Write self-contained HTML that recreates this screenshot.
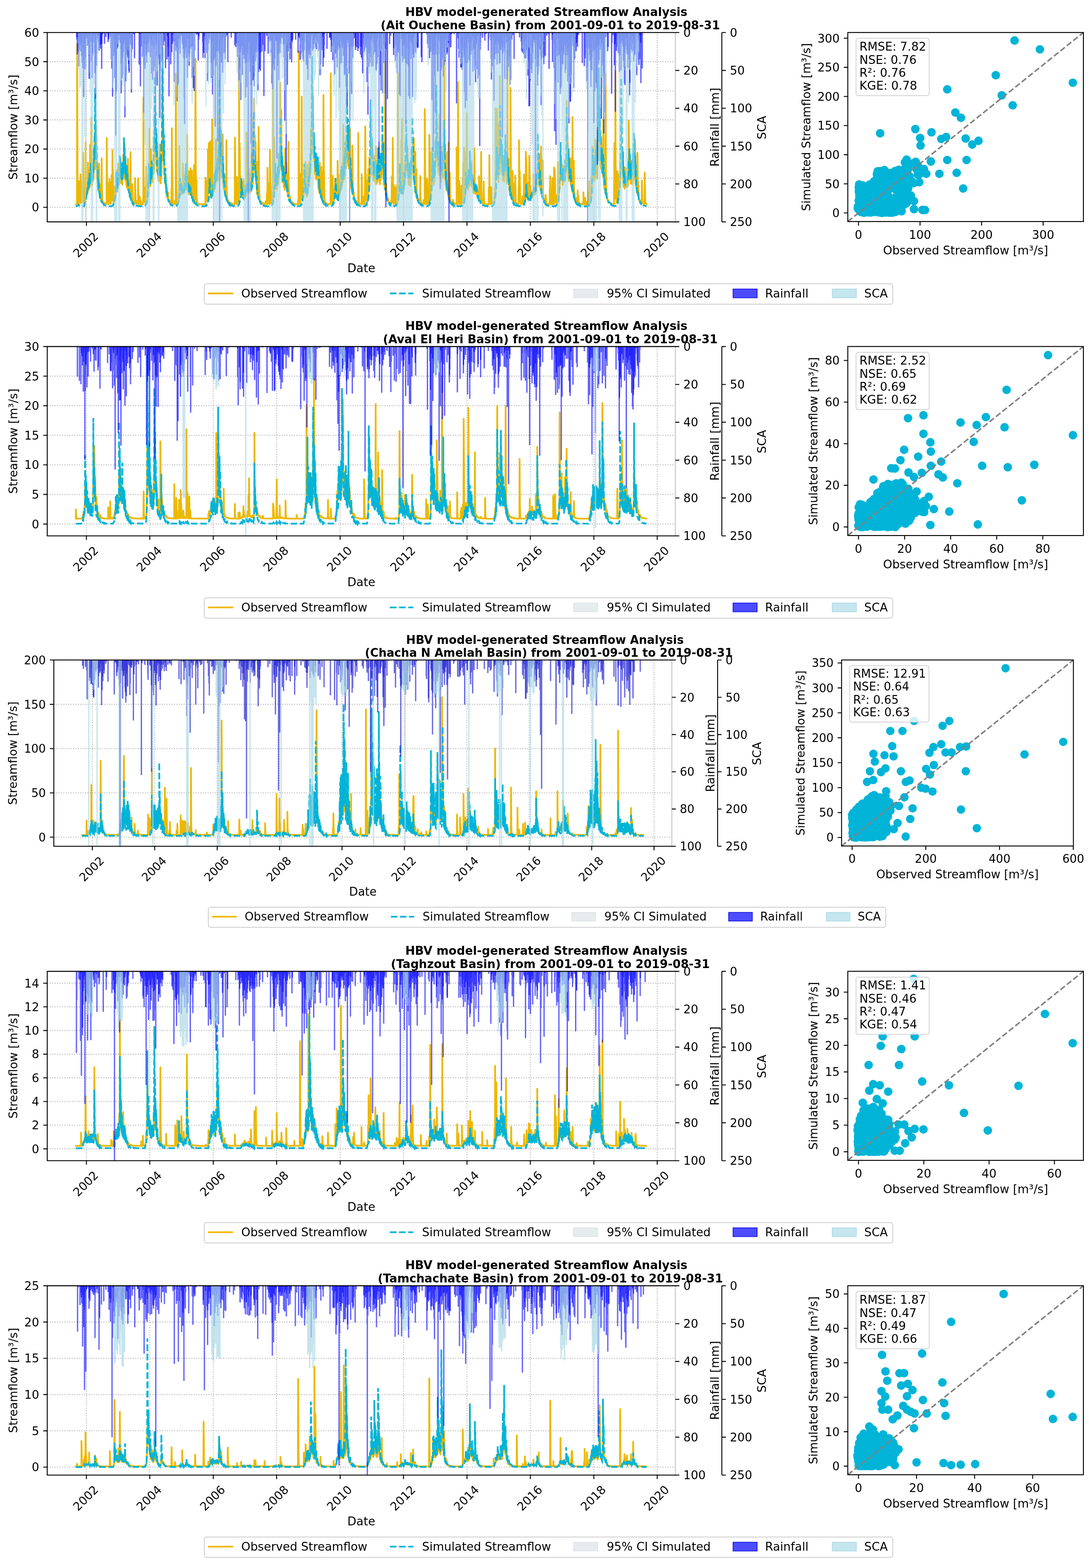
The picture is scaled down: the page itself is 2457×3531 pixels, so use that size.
<!DOCTYPE html><html><head><meta charset="utf-8"><title>HBV model-generated Streamflow Analysis</title>
<style>html,body{margin:0;padding:0;background:#fff}svg{display:block}text{font-family:'DejaVu Sans', 'Liberation Sans', sans-serif;font-size:26.3px;fill:#000}</style></head><body>
<svg width="2457" height="3531" viewBox="0 0 2457 3531">
<rect width="2457" height="3531" fill="#fff"/>
<g transform="translate(0 0)">
<path d="M106.4 466.8H1520.9M106.4 401.2H1520.9M106.4 335.6H1520.9M106.4 270.1H1520.9M106.4 204.5H1520.9M106.4 138.9H1520.9M106.4 73.3H1520.9M194.6 73.3V499.6M337.3 73.3V499.6M480.3 73.3V499.6M623 73.3V499.6M766 73.3V499.6M908.7 73.3V499.6M1051.7 73.3V499.6M1194.4 73.3V499.6M1337.4 73.3V499.6M1480.1 73.3V499.6" stroke="#b0b0b0" stroke-width="2" stroke-dasharray="2.1 3.4" fill="none"/>
<defs><clipPath id="mc0"><rect x="106.4" y="73.3" width="1414.5" height="426.3"/></clipPath></defs>
<g clip-path="url(#mc0)">
<path d="M170.7 459.2l5.3-2 .6-2.9 2.6 3.4 9.1 1.4 3-5.8 3.1-14.3 .4-17.5 1.2 7.8 .6-16.2 .5 7.2 .6-3.6 .6-18.5 1.2 16.6 .8-24.5 1.1 16.6 .2-30.4 2.4 24.2 .4-50.7 .6 46.4 1.7-33.5 1.8 34.4 2.9-83.8 1.2 30.3 1.6-178 1.7 162.2 .2-83.9 3.1 149.5 .6-26.8 1.4 43.5 .6-12.9 .6 20 .2-16.7 .9 27 .2-9.3 1.2 18.5 .8-9.2 2.3 19.3 .2-4.8 3.2 11.2 .7-3.2 3.2 6.2 6.8 2.2 11.2-.6 4.3-6.6 3.1-22.1 1-55.5 .4 34.5 .7-21.8 2.2 28.4 2.3-39.7 1 17.8 1.2-3.8 .2-58.9 .4 58.3 .8-50.4 1.5 50.1 .8-25.6 2 31.3 .2-42.9 1.9 33.4 1.8-96.1 .4 72.5 .7-46 1.8 67.3 .2-47.9 1.8 58 1.5-34.7 1 36.9 .8-17.3 1.2 34 .2-12.1 3.9 38.1 .7-11.3 2.6 20.8 8 9.7 16.8 2.8 8.2-4 5.3-37.9 .8-64.7 .8 51 .2-36.5 2.1 37 .2-42.5 1 32.9 1.2-29.9 1.1 26.4 .2-44.5 1.2 37.4 .4-23.3 .8 16.1 1.2-4.9 3.1-234.9 .8 159.7 1.3-70.1 .8 91.3 1-39.4 1.8 88.8 1.9 15.8 1.2-9.2 .8 10.7 .2-48.1 .8 39.1 .3-21.1 2 30.6 .2-49.3 .4 21.8 .2-27.2 .8 20.9 1.5-47.2 1.4-239.2 1.4 208.2 1.9 74.1 .2-65.1 2.2 109.6 .9-27.8 2.6 62.3 .2-14.2 3.3 32.2 5.3 10.1 1.2-1.3 4.3 4.9 9-.4 4.1-8.7 3.1-59.5 1 32.6 .9-19.4 1.2 20.9 1.2-14.7 1.6 18.2 .7-13.6 2.6 10.9 3.9-70.8 2.3 58.9 .6-28.7 1.6 33.5 .2-15.3 3.1 23 .2-19.3 3.9 28 .4-7 1 11.8 1-6 1.3 13.3 1 2.8 .2-8.1 3.1 12.9 .6-2.4 4.7 6.2 10.4 2.1 8.6-.5 3.7-3.4 4.3-21.6 1.2-44.1 2.5 43.3 1.6 6.6 .4-10.6 .6 6.4 .2-7.2 1.1 6.3 1.8-29.5 1 13.4 .2-10.9 1.3 7.6 .8-35.8 .8 21.9 .2-29.4 1 28.1 1.7-37.9 1.2 32.5 1.6-53 1.5 26.1 2.8-223.2 1.7 174 1.4-48.2 2.9 105.1 .8-40.2 2.4 65.8 .5-24.2 2 49.3 6.3 23 5.2 6.6 .2-2 1.4 2.9 6.8 2.3 7.7 .1 5.1-4.7 3.5-18 1.1-46.5 1.2 37.1 .2-12.6 2.6 25.8 .4-3 1.5 4.2 .2-14.8 2.2 9.3 1.1-21.5 1 13.2 1-16.4 1.6 14.2 .2-23.9 2.9 21.9 1-18.4 .9 17.2 .2-23 .6 16.7 .6-17.3 1.2 17.8 .4-17 2.3 17.6 4.3-68.1 1-124.9 3.3 163.7 .8-15.3 2.5 45.6 .2-9.8 .8 18.3 5.1 22.6 .6-4.7 3.1 10.2 10.8 4.6 11.1-.4 4.5-5.9 4.7-51.5 .2-48.8 .8 42.9 2.3 14.1 .6-32.7 1.6 27.8 1-45.6 .9 29.3 .4-31.6 1.2 21.1 2.4-139.5 1.9 120 1.2-47.3 3.5 87 .2-39.6 1 38.2 .2-34.2 .6 29.3 .7-10.1 .6 18.9 1-25.9 1.4 36.1 .2-12.4 1.7 17.9 .2-24 1 30.5 .2-17.6 .8 20.8 .2-10.3 3.9 30.7 .2-3.6 1 5.5 .2-7.5 1.7 11 .2-4.8 1.6 6.9 .6-3.2 1.1 4.5 3.4 2.3 9.5 1.9 7.1-2.6 3.5-8.4 2.9-29.6 1-65 .4 48.8 .4-32.5 3.1 59.1 .6-13.3 .6 12.4 .2-11.5 .6 10.6 .2-10.3 1.7 8.4 1.6-43.6 1.4 17.5 .9-34.6 .8 11.1 1-4.9 .2-44.1 1 16.6 1.5-33.4 1.2-223.2 .8 170.3 1.2-71.9 1.9 143.5 .2-52 1 63.5 1-30.2 2.1 63.9 .6-46.6 2.6 55.8 .2-47.2 1.1 45.2 .4-44.1 3 79.8 .1-23.7 2.2 39.1 .2-13.2 1.6 20.1 .5-11 2 17.3 .2-4.3 1.2 7.9 .9-4.5 1.2 7.6 3.5 3.9 1-1.7 2.9 3.6 9.6 .9 4.7-4.5 3.2-12.1 1.9-52.4 .6 33 .2-20.6 1.6 33 1.5 7.8 .2-5.7 2.2 7.1 3.5-31.9 1.4 4.9 .2-19.3 1.7 7.8 1-46 1.7 33.3 .8-7.5 .8 6.9 .2-27.3 1.4 20.1 .2-48.7 .6 31.6 .5-34.9 1.6 25.5 .2-59.5 1.6 37.8 1.9-221.5 2.2 198.3 .2-71.4 .8 72.1 .9-45.5 .6 56.6 .2-56.4 2.8 118.7 .1-50.3 3.6 85.8 .2-21.2 3.3 38.7 1 3.3 .4-9.2 2.3 14.8 1.8 3 .2-3.9 3.7 7.3 12.1 3 7.2-2.2 5.5-22.2 2.7-61.1 1.4-178.9 2 144.4 .9-51.1 3 87.1 .8-29.8 1.3 38.4 .2-32.5 .6 25.9 .4-11.7 1.2 12.3 .6-31.2 2.1 48.9 .2-40.1 1.2 34.7 .8-26.8 1.1 16.1 .6-65.1 2 72.8 1.9-54.5 1.4 40.2 .8-45.7 1 31.8 .2-30.7 1.3 17.4 1-136.3 2 157.7 .2-66.9 1.7 92.9 .2-39.4 2 64.2 7 31.9 5.3 6.4 .2-2.2 1.9 3.4 6.7 1.3 5.7-3.2 1.9-6.1 3.3-28.7 1.2-67.1 1.2 56.7 .2-14.5 1.9 32.8 1.2-18.9 1 17.9 .4-3.8 1.3 3.4 2.8-52.7 1.4 15.5 1.3-15 1.4-130 3.3 121.2 .2-21.6 1.8 45.6 .2-37.1 1.5 26.9 .2-24.8 1.8 35.8 1.2-43.9 .5 25.8 .2-25.6 .4 16.2 .4-22.1 .4 13.4 .2-43.3 .8 25 .6-15.5 .2-82.8 .6 103.5 .5-69 1.8 98.4 4.3 55.2 .2-9.3 2.2 20.4 1.1-8.3 1.4 16.6 .6-3.2 4.1 11.9 .2-4 1.7 5.5 6.3 2.6 9 .4 4.3-2.8 5.1-29.8 2.3-113.6 1 70.5 .2-39.2 1 46.1 .6-32.4 .9 31.9 .2-30.6 1.4 21.3 3.3-221.4 .4 112.4 .2-28.2 1.2 71.9 .8 15.8 .2-32 2.5 61.1 .8-61.8 1.8 73.9 .7-46.6 2.2 57.4 .2-60.3 1.5 44.6 1.6-42.9 2 27.6 .8-106.4 .7 82.2 .2-60.3 3.4 128.4 .1-24.4 1.8 42.6 .2-20.3 1 27 .2-14.8 4.1 36.6 6.8 12.7 9 3.7 12 .2 4.3-2.6 2.3-6.4 3.5-76.4 2 42 1.7-32.3 2.2 24 .2-39.9 .8 24.4 .5-24.3 1.2 13.7 .2-60 2 70.8 .2-37.8 .9 43.1 .8-20.1 .8 23.6 1-20.6 .8 27.6 .2-19.9 3.3 31.4 .2-16.5 2.7 20.9 1-20.3 .6 14.4 .6-11.6 1.5 27 1.8 5.2 .2-8 2.1 16.9 1.4 2.7 .6-6.1 1.8 9.1 .2-3.6 1.9 5.7 6.9 3.2 13.1 1.2 7.2-4.1 5.5-40.8 1.3-102.8 1.2 69.7 .6-37.6 1.2 38.2 .2-42 1.1 28 .6-31.9 .4 15.5 .2-21.6 .4 12.9 1.2-9.9 .6-124.2 .9 121.1 1.6-37.4 1.4 59.7 .4-47.2 2.1 75.5 1.2-37.2 .8 31.8 .4-42.6 1.3 42.7 1.8-93.8 1.2 85.3 1.5-41.5 .8 46.8 .2-36.4 1.8 51.8 .7-26.3 .8 38 .2-12.9 1 20.5 .2-18.5 2.5 43.5 1.4-8.1 1 16.6 1-5.4 3.3 16.9 1.2-1.9 2.3 5.5 .2-2.1 2.9 3.9 5.7 1.6 8.2-.1 3.5-2.7 3.6-13.2 1.7-38.7 1 25.8 3.3 16 .8-7 1 5.9 1-5.9 2.1 4.3 2.7-18 .6 6.5 1.2-6.9 1 7.3 .4-8.1 .8 7.2 .7-18.6 1.2 12.6 .2-12.9 1 13.3 1-14.4 1.5 10.1 .2-24.4 .8 13.9 .6-31.3 1.2 14.4 1.5-29.4 .2-85.9 2.8 111.8 1.7 16.3 .4-37.2 1 36.7 .8-10.2 1.3 32.9 .8-10.4 2.6 25.8 .2-7.4 2.3 13.2 .2-5.6 1.6 8.5 .2-3.4 1.5 5.3 4.9 2.9 14.5 1.8 6.4-3.4 3.2-9.7 2.5-27.5 2-118.7 .8 72.6 .3-40 1.8 59.8 .2-16.4 1.6 13.1 .2-24.1 2.5 30.4 .2-33 2.3 31.1 .6-49.9 1.8 26.5 1.9-159.6 2.8 151.8 1.4-46.3 2.3 75.3 .2-25.9 1.2 26.9 .6-29.1 4.3 60.3 .1-19 3 33.7 .2-14.7 1.7 20.8 .6-2.2 1.8 7.5 1.4 2.2 .1-2.9 3.4 6.3 10.7 3.6 13.9-.9 4.1-8.5 2.8-20.8 2.1-112 1.6 68 .2-49 2.5 47.9 .2-34.3 .8 25.7 2.7-62.9 .8 44.5 .8-56.6 1.6 45.4 2.5-230 2 183.6 .5-83 2.4 131.5 1.7-34.4 2.4 66.9 .4-50.9 3.3 81.2 .2-23.3 2 39 .5-11.4 4 30.4 7.4 10.7 .2-1.7 4.5 3.8 7.2-.1 4.1-5.9 2.8-18.6 2.9-57 1.7-235.6 .6 139.9 .6-66.5 1.2 127.6 .2-29.8 1.2 45.6 .2-33.3 2.3 79.2 .2-32.6 1.4 30.1 1.3-10.9 1.6 19.1 .8-25.8 .6 14.5 .2-13.6 .9 14.5 .8 1.8 1.2-2 1.4-53.2 1.7 32.9 .2-62 .4 59.7 .4-50 1.6 61.9 .8-31.6 1.7 24 .6-33.5 1.4 35.9 3.1-107 2.1 92.9 .8-35.3 3.7 87.7 .2-9.7 .8 14.8 .6-7.1 1.2 15.1 .2-11.7 1.5 20.1 3.4 8.4 1.3 2 .2-3.9 2.2 6.2 10.3 3.8 0 6.8-10.3-1.7-5.7-6-.2 1.8-2.7-19.8-.2 9.5-2.6-18.6-.2 7.9-3.7-71.8-.8 28.9-2.1-75.9-3.1 87.5-1.4-29.4-.6 27.4-1.7-19.6-.8 25.8-1.6-50.6-.4 40.9-.4-48.9-.2 50.8-1.7-26.9-1.4 43.5-2 .2-.9-11.9-.2 11.1-.6-11.9-.8 21.2-1.6-15.7-1.3 8.9-1.4-24.6-.2 26.7-2.3-64.8-.2 27.2-1.2-37.2-.2 24.4-1.2-104.4-.6 54.3-.6-114.4-1.7 192.7-2.9 46.6-2.8 13.6-2.9 2.4-13.1-.6-7.4-5.7-4-24.9-.5 9.4-2-31.9-.2 19-3.3-66.4-.4 41.7-2.4-54.8-1.7 28.1-2.4-107.6-.5 67.9-2-150.2-2.5 188.2-1.6-37.1-.8 46.3-.8-36.4-2.7 51.5-.8-21.1-.2 28.1-2.5-39.2-.2 40.1-1.6-55.6-2.1 91.6-2.2 14.6-4.7 5.5-17.4 .1-11.1-3.2-3.8-5.6-1.3-15.5-.4 11.1-2.8-26.8-.1 15.6-4.3-49.3-.6 23.7-1.2-21.9-.2 21.1-2.3-61.5-1.4 37.9-2.8-124.3-1.9 130.6-1.8-21.6-.6 40.7-2.3-25.4-.2 27-2.5-24.9-.2 19.8-1.6-10.7-.2 13.4-1.8-48.9-.3 32.6-.8-59.4-2 97.2-3.5 24.5-5.5 3.9-15.8-.2-8.2-4-.2 1.6-1.6-5-.2 3.6-2.3-9.8-.2 6.1-2.6-21.1-.8 8.5-1.3-26.9-.8 8.3-1-30-.4 30.4-1.7-13.3-2.8-91.5-.2 70.3-1.5 24-1.2-11.8-.6 25.7-.8-11.4-.2 19.9-1.5-8.2-1 11.8-1-10.9-.2 10.6-1.2-10.3-.7 15.2-.8-5.9-.4 6.6-1-5.9-1.2 5.6-.6-5.3-2.7 14.7-2.1-3.5-1 4.8-1-4.8-.8 5.7-3.3-13.1-1-21.1-1.7 31.7-2.6 6.8-12.9 2.1-13.5-4.2-1.9-11.2-1 4.4-1-13.5-1.4 6.6-2.5-35.6-.2 15.1-1-16.8-.2 10.6-.8-31.1-.7 21.5-1.8-42.4-.2 29.9-.8-38.4-1.5 34-1.2-69.8-1.8 76.7-1.3-34.9-.4 34.9-.8-26.1-1.2 30.5-2.1-61.8-.4 38.6-1.4-48.9-1.6 30.7-.9-99.1-.6 101.6-1.2 8.1-.4-10.6-.2 17.7-.4-12.7-.6 26.2-1.1-22.9-.2 34.3-1.2-31.2-.6 30.7-1.2-57-1.3 84.1-3.7 28.1-5.7 3.9-10.2 .2-11.9-1.4-3.1-3-.2 1.6-1.8-5.4-.6 4-1.4-1.3-2.1-13.8-.2 6.6-1.8-4.3-1.5-22.1-2.2 14.3-2.7-17.1-.2 13.5-3.3-25.7-.2 16.3-.8-22.6-1 16.9-.8-19.3-.8 16.4-.9-35.2-.2 30.9-2-57.9-.2 49-1.2-11.2-.5 19.9-.8-19.9-.2 32.6-2.2-19.6-1.7 26.4-2-34.3-3.1 60.8-2.9 3.7-6.1 1.2-16.6-1.2-5.5-4.3-.2 1.9-3.5-5.9-2.8-22.2-.1 8.8-1.2-16.5-.2 12.1-1-22.1-.2 16.6-1.8-34.8-.1 19.9-3.4-105-.2 49.3-.7-67.2-.8 87-2-22.6-1.6 35.1-1.5-36.5-.2 49.3-2.2-46.9-.7 38.1-1.8-60.4-.8 50.5-2.5-49.9-.2 26.1-.8-12.9-1.2-58.8-.2 23-.4-92-3.3 181.2-1.4-17.4-.2 25-.9-26-.6 26.5-1-37.8-.2 32.1-1-57.7-2.3 92.9-1.6 13.9-3.5 7.4-12.1 1.2-11.2-3-2.3-6.2-.8 1.8-1.2-12.8-1.1 6.8-2.2-16.7-.2 7.7-4.3-45.2-1.8-80.5-.5 56.4-.6-84.6-.2 67.7-.6 12.7-.8-20.4-.2 35.3-.4-10.9-.4 18.1-.4-13.3-.2 21-.5-21.2-1.2 36-1.8-29.3-.2 20.3-1.5-22-.2 30.3-1.8-37.3-.2 17.7-3.3-99.1-1.4 106.3-1.3 12.3-1.4-12.8-2.8 43.2-1.3-2.8-.4 3.1-1-14.6-1.2 15.4-1.9-26.8-.2 11.9-1.2-46.4-1.2 54.9-2.5 20.8-2.7 4.7-5.1 1.5-9.4-1.2-6.5-4.1-6-25.8-1.8-50.8-.2 32.3-1.7-76-.4 51.7-1.8-126-1 111.6-1.3-14.3-.2 25.1-1-26-.8 37.4-1.4-33-1.9 44.7-2-59.6-.6 53.3-1.1-13.2-.8 21.9-1.2-28.3-.2 32.7-2.1-40-.6 25.5-1.2-10-.4 9.5-.6-21.1-.2 26.6-1.3-31.5-.8 24.4-3-71.3-.9 41.9-2-118.1-1.4 146.3-2.9 51.3-1.9 9.9-3.4 3.4-15.8 .4-7.2-4-.2 1.7-3-5.8-.2 2.3-.9-9-.4 7.5-1.4-4.2-2.9-30.2-.2 17.4-3.6-70.2-.1 41.2-2.8-97.2-.2 46.2-.6-46.4-.9 37.2-.8-58.9-.2 58.4-2.2-162.3-1.9 181.3-1.6-30.9-.2 48.6-1.6-20.8-.5 28.5-.6-25.8-.2 39.8-1.4-16.4-.2 22.3-.8-5.6-.8 6.1-1.7-27.3-1 37.7-1.7-6.4-.2 15.8-1.4-4-3.5 26.1-2.2-5.8-.2 4.6-1.5-6.3-1.6-27-.2 16.8-.6-27-2.9 47.3-5.5 4.9-15.8-1.4-3.8-6.1-.9 3.2-1.2-5.9-.2 3.5-2-14.1-.5 9-1.6-16.5-.2 10.8-2.2-32-.1 19.4-3-65.3-.4 36.1-1.1-37-.2 38.6-2.6-45.6-.6 38.1-2.1-52.3-1 24.8-1-52-.2 42.5-1.9-117.4-1.2 58.8-.8-139.3-1.2 182.7-1.5 27.3-1-13.7-.2 36.1-1 4.1-.8-9.1-.9 28.3-1.4-14.3-1.6 35.7-1.7-6.9-.2 8.4-.6-8.7-.2 9.4-.6-10.1-.6 10.8-3.1-48.3-.4 26.6-.4-39.9-.8 50.9-1.7 18.7-3.5 10.4-6.5 2-13.9-1.3-4.3-4.5-.8 1.8-1.1-6.9-1.4 4.7-3.9-25.2-.2 8.5-.8-17.1-.2 14.4-1-24.9-.2 19.6-1.7-14.6-.2 10.1-1.4-29.5-1 21.2-.6-15.5-.7 8.3-.6-24-.2 28-1-31.3-.2 32.4-3.5-71.1-1.2 38.6-1.9-98.1-2.4 114.1-1.2-17.3-.4 25.9-.9-24-1 37.3-1.6-22.8-.6 26.8-2.3-11.5-.8-35.1-.2 39.9-3.9 38.4-3.1 3.8-7.7 1.1-15.8-2-3.7-6.1-1.2 2.7-4.5-17.4-.8-14.9-.2 8-2.5-37.3-.8 12.5-1.7-52-.2 23.2-1.4-105.1-1 102.1-4.3 55.8-2.3-14.4-.4 13.9-1.2-14.5-.6 14.1-.6-13.7-.2 18.8-.9-14-1 15.1-2.9-18-.2 19.6-1.6-11.6-1 13.3-1-10.7-1.1 17.5-2.2-7.6-.2 12.2-1.5-3.5-.4 2.5-2.6-21.1-.2 10.3-1.2-30.4-1.1 38-3.5 12.3-5.1 2.1-11.6-.4-9.7-4-1.4-5.4-.2 3.3-4.9-17.6-1.8-38.9-.5 19.7-1-38.9-.2 28-1.2-42.8-1 30.8-2.7-83.9-1.4 39.4-1.7-142.4-2.8 182.6-1.5-21.3-1.6 43.3-1.2-26.6-1.7 31.1-1-23-.2 24-.8-17.9-.8 29.3-1.3-6.2-.2 8.9-1-11-1.8 24.2-1.1-5.2-.2 5.9-.6-5.3-.4 8.8-1.6-5.4-2.5-35.5-1.2 36.1-4.3 14.8-8.8 1.8-14.1-1.1-7-3.3-1.2-6.7-.4 6-2.1-12.6-.2 6.5-1.8-11.2-.4 5.7-1.7-18.3-1 9.1-1.2-13.7-.2 15.8-3.1-18.8-.2 12.5-1.6-27.4-.6 23.5-2.3-48.2-3.9 57.9-2.6-8.9-.7 11.1-1.6-14.9-1.2 12.1-1.2-17.1-.9 15.8-1-26.7-3.1 48.2-4.9 4.1-12.7-1.2-6.9-7.9-2.7-24.6-.2 11.6-2.6-51-.2 32.1-2.9-99-.2 53.3-3.3-231-1.4 195.8-1.5 38.6-.8-17.2-.2 22.3-.4-17.8-.2 40.3-2-25-.3 17.2-.8-31.9-.2 39.3-.8-8.7-1.2 7.5-1.9-13-1.8-72.6-1 32.2-.8-74.6-1.3 57.3-.8-130.7-3.1 192.2-1.2 4-.8-13.2-.4 19.1-1.2-30.6-.2 36.4-1.1-21.6-1.2 24.5-1-26.9-.2 34.7-2.1-30.3-.2 29.9-.8-41.7-.2 42.9-3.7 35.8-6.1 3.9-21.1-1.1-7.8-4.1-2.8-17.4-.7 9.3-3.9-31.2-.2 9.9-1.2-27.9-.8 14.2-1-30.2-1.5 28.3-1.8-47.3-.2 39.1-1.8-55.1-.7 37.7-.4-59.3-1.8 78.6-1.9-27.3-.2 35.1-2-25.6-.8 20.9-1.5-41-.8 41.3-.4-47.8-.2 48.2-1.2 3.1-1-14.5-2.3 32.4-2.2-23.1-.7 17.8-.4-28.2-1 45.3-2.4 15.3-3.7 3.8-7.2 1-11.5-1-3.8-3-.3 1.6-3.6-7.1-.2 3.9-2.3-15.8-.8 7.6-1.2-15.1-.2 7.6-.9-22.1-.2 13.6-.6-16.3-.6 10.5-1.4-35.6-.6 21.9-3.1-122.3-.2 68.7-1.7-132.8-1.6 145.7-1.2-24.8-2.9 68.5-1.8-28.1-1.7 27.4-.6-37.9-.4 41.5-2.4-19.8-.2 24.9-1.1-13.6-.8 20-1.2-13.6-.6 15.2-.6 2.9-.5-5.9-.6 13.3-1.2-6.5-2.9 22.6-3 3.8-12.3-2.1-5.9 2.2Z" fill="#e6ebee" fill-opacity="0.8"/>
<path d="M170.7 460.1l2.4-.3 .2-2.5 .4-357.8 1 311.2 .7 38.7 1.4 8.6 .6-50.2 1 43.7 .4 4.3 .2-3.2 .2-26.2 .5 23 1 8.2 .6-64.8 1.4 59.2 .2-35.8 1.1 39.5 1-47.6 1.2 47.2 1-111.4 1.1 105.6 1.4 9.3 1.6-2.3 .8-5.2 .5-131.7 .6 90.8 1 29 .2-1.5 .4 3.7 .2-7.8 .4 4.5 .4-10 .4 6 .4-2.6 .7 3.8 .6-9.3 .2-60 .4 37.8 .2-10 1 33.2 1-44.5 .9 38.2 .4-4 .2 3.6 .2-13.2 .4 9.8 .2-91.7 .8 72.9 .6-16.5 .6 27.8 .6-144.8 1.5 152.6 .4-42.6 .4 25.3 .2-15.5 1 24.4 .6-19.2 .2 8.5 .1-29.5 .8 34.2 .2-56.9 .4 33.3 .6-10.9 .4 13 .4-68 .4 28.6 .6-34.7 .5 32.2 .4-9.5 .2-60 1.6 111.1 .6-80.5 1.2 83.3 .2-10.6 .3 25.3 .2-23.9 .6 34.5 .2-18.4 1.2 37.8 .6-27.9 .6 26.3 .9-58.9 1.2 70.8 .4 4.8 .2-11.8 .6 9.3 .2-26 1 30.5 1.5 7.5 .2-2.4 .4 1.9 .2-96 .6 68.8 1 26 .4 2.7 .6 1.2 .3-1.8 1 3.3 .2-1.7 .6 1.8 .2-1.2 2.4 2.8 2.9 .6 .8-1.2 .4-147.4 .9 128.8 .6 14.2 .2-43.4 .8 38.4 1.4 10.5 1.7 .4 .2-4.3 .2-52.1 1 49.1 .6-42.2 .6 34.7 1.1 13.7 .2-47.7 1 29.4 .4-46.4 .4 36.3 .2-16.9 1 38.7 .4-113.6 .7 93.9 .2-51.6 .8 61.8 1.2 13.6 .2-2 1 .8 .6-4.6 .3 .7 .4-31.5 1 23.8 .4-6 .4 1 .6-2.5 .2-12.1 .8 5.1 .7-45.2 1.4 47.7 .2-22.7 .6 14.8 .6-23.2 .4 10.8 .4-43.2 .6 40.9 .1-12.7 .6 20.1 1-47.6 .4 24.4 .2-21.7 1 35.4 .2-25.6 1.3 30.6 .2-7.3 .4 8 .2-12.5 .8 11.7 .2-27.9 .8 23.9 .2-7.4 1 16.1 .3-36.9 .8 23 .8-53.4 .6 34.1 1.6 19.6 1.1-79.4 .4 47 .2-10.7 1.2 47.8 .6-39.4 1 41.6 1.1 12.4 .2-49.9 .8 40.5 .4 6.7 .2-6.5 1 14.4 .2-69.7 1.3 61 .6-14.3 1 29.7 .2-7.5 1.2 16.5 .4-11.7 .5 12.3 .6-100.8 1 91.7 .2-20.3 .6 27.1 1 11 .2-2.4 .8 4.1 .1-1.3 .2-37.6 1.2 37.5 1.6 4.3 2.9 1.3 .4-56.7 1.4 54.1 1.5 3.7 .2-6.6 1.2 6.2 2.4 .7 .3-58.1 .6 40.9 1 15.4 .6 1.7 .2-12.8 .8 10.8 .2-15.5 1.3 17.2 1 1 .2-8.3 1.2 7.7 1.2 .7 2.7 0 .6-23 .2-217.4 .6 167.9 1.1 65.7 .2-32.4 .6 27 .2-25.9 1 31.7 .6 3.7 .2-19.2 1.3 18.1 .4-80.9 .6 56.6 1 18.5 .2-2.3 .6 2.8 .6-2.3 .4-9.2 .5 1.4 .4-35.7 .4 15.1 .2-11.8 .4 7.7 .6-12 .4 11 .2-10.2 .6 14.1 .4-129.7 .4 73.2 1.5 56.9 .4-29.1 .8 24.3 .4-79 .8 63.8 .6-18.1 .7 27.8 .4-12.9 1.2 14.1 .6-36.4 .4 18.5 .4-21.7 .9 20.7 1-9.2 1-96.5 1.2 66.7 .2-71.6 1.1 70.2 .6-39.2 1 58.1 .6-21.1 .6 36.4 .2-62.7 .4 45.9 .6-39.3 .5 54.6 1.6 24.2 .2-12.5 1 12.7 .2-31.2 .8 30.9 .2-18.3 .1 8.8 .6-72.5 .6 64 .8 20.1 .8 3.1 .6-17.9 .6 2.5 .5-5.5 .2-37.2 .4 6.6 .6-5 .6-30.3 .6-222.2 1.2 225.9 .6 32.1 .3-55.3 1.4 86.8 .2-21.9 1.2 39.3 .2-25.9 1 24.4 .1-18.7 .8 30.8 .2-6.4 1.4 22.7 .6-14.9 1.4 21.9 .1-9.9 1.2 13.5 .2-15.7 1.4 18.8 .2-4.3 .8 5.4 .2-2.8 1.1 5.3 .8-2.2 1.2 3.8 2.1 1.5 .2-35 .6 24 .2-158.5 .8 135.8 .2-50.6 1.2 77.5 1.1 7.3 1.4 .6 .2-2.6 .4 1.6 1.4 1 .2-7.5 .7 6.2 .8 1.3 .2-1.9 .4-292.3 .8 234.6 .8 46.6 .2-10.6 .9 19.7 .6 1.7 .6-1.8 .6 1.2 .8-.2 1.2-4.3 .4-44.1 .9 34.5 .2-113.3 .8 90.1 1.4 17.4 .2-12.4 .8 12.4 .3 2.4 .2-3 .2 1.7 .8-26 .8 23.6 .4-8.7 .6 7.7 .2-6.5 .6 8.2 .2-2.3 .2-65.3 1.3 64.4 .4-27.8 1.2 26.8 .6-38.6 1 28.5 .7 6.4 .2-3 .2 1.4 .8-37.3 1 29.2 .2-8.2 .6 13.5 .2-18.5 .9 23.3 .4-125.2 .8 99.6 .2-25.2 1.2 54.8 .2-10.4 .4 8.8 .4-10.3 .9 16.6 .2-50.9 .4 30.2 .4-2.8 .6 18.9 .2-3.8 .4 6.9 .2-10.3 .8 13.2 .2-59.9 1.3 61 .2-53.2 1 49.1 .2 3.3 .4-5.3 .2 4.9 .2-54.6 1.3 58.8 .2-36.1 1.2 37.8 .6 2.9 .2-9.4 .8 12.8 .2-78.8 1 71.7 1.7 12.6 .6-323.9 .8 259.4 1.2 60.5 .2-47.5 .5 37.6 1.2 14.1 1 2.2 .2-.5 2.1 1.3 15.1 .4 .2-59.9 1.2 53.9 .2-47.9 .5 37.1 .2-7.7 .6 15.8 .2-31.4 .8 30.3 .2-38.5 1.4 37.8 .2-112.7 .9 98.8 .2-3 .4 3.1 .2-9.8 .2-103.2 .4 65.1 .2-26.1 .6 55.1 .2 7 .2-13.3 .6 15.9 .2-106.7 .7 91.3 1.6 33.9 1-13.4 .2-115.3 .6 89 1 25.6 .1-162 .6 113.5 1 38.5 .2-28 .6 33.2 .2-23.9 .4 20.2 .4-14.2 .9 22.4 .8-30.6 1.6 26.4 .2-30 .6 22.2 .8-103.8 .7 88.8 .4-90.5 .6 72 .2-9.5 1.2 32.6 .2-26 .6 21.7 .2-12.8 .7 14.9 .8-58.1 .8 35.1 .4-117.1 .6 64.3 .4-82 .6 56.6 .2-62.2 .5 84.6 .2-51.7 1.2 72.2 .2-38.5 .6 54.9 .4-33.8 1.6 69.8 .2-69.8 .7 61.1 .2-21.7 1 25.5 .2-92.1 .8 94.9 .2-8.7 1.3 36 .2-19.4 1 24.3 .2-8.5 .4 9.8 .2-21.1 .8 26 .6-19.6 .4 16.2 .2-38.2 .5 36.9 1 11.5 .4-126.9 .8 108.3 1.4 25.6 .2-2.2 .5 4.7 .2-3 1 5.2 .2-2.5 .8 3.3 1.8 1.9 1.3 .6 .2-.5 1.4 1.1 .2-1.6 1.7 1.9 .2-.9 1.6 1.4 5.3 .5 .6-150.4 1.3 141.1 1 8.1 .4-4.7 .6 4.1 1 1.5 .2-61 .9 52.5 .6 3.8 .2-24.1 .6 19.8 1 5.9 .2-16.1 .8 11.5 .4-326 .7 257.2 .4 21.7 .2-82.2 1.2 112.2 .6-36.9 .6 33 .2-4.7 .6 6.6 .4-15 .3 9.4 .6-11.9 1.6 28.7 .2-34.6 .4 21.3 .4-10.8 1.5 25.3 .2-40.5 1 33.6 .2-3.8 .8 9.9 .6-3 1.1 3.1 .4-27.1 .6 16.7 1.2 6.7 .6-142.6 .4 77.4 .2-76.9 1.1 112.2 .4-34.1 .6 43.2 .2-101.2 .4 59.7 1.8 55.7 .2-53.2 .6 36.3 .1-5.1 1 22.6 .6-39.6 .6 30 .2-10.7 .4 7.1 .2-31.2 .4 24.5 .2-6.7 1.1 23 .4-51.3 .4 26.9 .2-61.1 1.2 65.6 .4-12.1 .8 15.8 .2-28.4 .5 15.1 .4-56.3 .6 34.4 1.4-157.7 .8 134.8 .2-36.5 .4 45.1 .2-59.9 .7 73.6 .4 10.4 .2-50.7 .4 43 .2-62.9 1 94.8 .6-21.3 1.5 44.6 .2-.9 .2 1.9 .2-5.3 .4-68.3 .8 61.4 .6 15.1 .6 4.1 .2-1.8 .4-157.4 1.1 133.2 1.4 32.8 .6 2.1 .2-1.9 1.9 4.4 .2-2.2 .8 2.4 1.4 1.2 .2-2 1.4 2.5 .1-1.3 2 2 1.8 .4 .2-.7 2.1 1 .2-6.4 .8 5.2 .6 1 .2-3.6 1.1 3.7 .2-23.3 1.2 21.5 .2-80.2 1.2 75 .8 6 .2-45.8 .5 33.1 .2-9.5 1 18.1 1.2 4.9 .6-121.8 1.3 110.9 .4-31 1 35.7 1 5 .2-21.3 .4 12 1.2 7.6 .9-3.7 .2-24.8 .2-302.2 .8 260.1 1.2 58.5 .6-135.8 .4 67.9 .3-46.5 1.2 87.9 .6-15.3 .6 16.8 .2-13.4 1.2 19.7 .2-27.6 1.3 28.7 1.2-32.7 .6 20.7 .2-14.3 .8 15.5 .2-13.4 .5 10.8 .6-66.6 .6 45.3 .6-44.7 .4 30.3 .2-16.2 .6 21.1 .2-3.5 .4 2.5 .4-2.5 .2-193 .9 167.2 .4 18.5 .2-7.8 .2-113.6 .4 72 .2-74.2 .6 111.9 .2-19.7 1.3 70 .4-18.3 .4 14.7 .2-21.1 .8 23.1 .8-13.4 1 26.2 .8-27.8 .9 27.8 .6 5.9 .2-6.6 .2 3.3 .4-89.8 .8 69.9 .6-10.6 .7 23.2 .2-50.5 .8 55.8 1-31.9 1.2 45.9 .6-16.4 1.1 22.7 .4-123.3 .6 91.7 1 34.4 .2-2.9 .6 7.3 1 3 .1-10.5 .8 10.3 .2-.7 .8 3.2 1.6 1.8 .2-2.6 .6 2.2 .2-1.3 .7 2.1 1.6 1.1 .2-1.1 1 1.3 1.9 .6 8.2 .9 .2-9.5 1 8.1 .6-343.3 1 297.9 1 37.3 1.3 8.1 .6-56.9 .4 30.8 .2-41.5 1 58.1 .2-28.3 .4 15.6 .2-9.3 .2-209.5 .3 130.1 1.4 96.6 1.4 3 .2-9.4 .4 2.4 .6-.3 .7-23.1 .8 2.9 .2-10.5 .6 14.4 .4-17.6 .2 9.1 .2-8.6 .2 4.9 .2-30.6 .6 36.1 .4-52 1.1 71 .4-4.5 1 11.3 .2-12.6 1.2 10.1 .5-70 .4 34.3 .6-29.4 .6 36.8 .2-19.1 .4 16.5 .2-13.5 1.6 24.1 .2-55.9 1.1 35.2 .2-35.9 .8 26.3 .2-14.5 .4 9.4 .4-92.5 .8 58.1 .2-25.6 .7 23.3 .4-83.1 .4 28.6 .2-31.2 1.2 78.2 .4-72.7 .6 67.3 .2-45.8 1.1 65.8 .2-56 .8 64.6 .6-28 .2 17.9 .2-13.2 1.2 52.6 .2-45.5 1.7 53.8 .2-19.6 .8 22.7 .4-33.6 .8 19.5 .2-18.4 .4 21.8 .5-21.1 .4 23.4 .8-19.7 1.2 43.9 .4 4.7 .2-21.4 1 25.2 .2-5.8 .7 12 .2-5.6 .4 6.1 .2-68.8 1.4 68.7 .8 6.3 .2-10.7 .7 14.6 .4-69.7 1 65.5 .8 9.1 .2-4.6 1.2 6.9 .2-64.8 .7 53 .4-11.4 .2-215.7 1.2 216.9 .2-44.7 .6 49.3 1.2 20.3 .7 1.9 1.4 .9 .2-1.2 2.2 1.9 8.2 .8 .6-294.7 .7 235.1 .6 41.4 1.2 16.2 .6-45.7 1 40.2 .2-56.9 .9 52.9 .2-22.7 1 25.6 .2-1.1 .4 2.2 .2-12.9 .4 7.6 .2-10.8 1 10.6 .2-7.7 .5 3 .2-40 .8 28.6 .6 3.7 .2-12.6 .6 13.8 .2-11.4 .6 14 .4-9.7 .7 15.4 .4-3.3 .8 8 .4-86.5 1.4 81.4 .2-6.2 .6 7.9 .2-4.1 .5 3.9 .2-51.3 .6 34.5 .2-5.4 1 12.8 1.2-8.7 .4 3.4 .2-45.9 .7 34 .2-3.9 .8 10.4 .2-19.7 .8 12.9 .2-4.9 .6 5.7 .6-52.7 .5 36.8 .8 7 .8-129.6 1.4 122.1 .2-12 .4 14 .2-72.3 .2 27.3 .3-5.3 1.2 41.8 .6-58.8 .4 30.4 .2-27 1.2 37.8 .8-46.5 .3 14.3 .8-7.4 .2 4.6 .2-55 1.6 77.4 .2-69.3 1.1 77.3 .2-31.3 1 37.2 .2-56.9 .6 51.4 .2-92.5 1.2 111.7 .4-103.7 .6 89.8 .3 18.1 .4-15.5 1 40.9 .2-17.4 .6 19.6 .2-15.1 1.6 26.9 .3-109.1 1 101.5 .2-6.5 .2 7.7 .2-6.9 .6 17.2 .2-3.9 .6 7 .4-10.5 .8 14.6 1.3 5 .2-4.8 .6 4.4 .4-.6 .2 1 .2-2.2 1.5 5.4 .6 .5 .2-2.9 1.4 3.6 .8 .5 .2-1.1 .6 1 .4-1.2 .3-157.1 .6 111.2 1.2 43.3 1.2 4.7 4.5 .9 .2-67.4 1.3 62.8 .6 3.4 2 1.4 .2-17.5 1 15.3 .5 1.7 1.8 .2 .6-175.1 1.4 163.9 .2-55.3 .7 52.3 .4-39.7 1.4 48.5 .6-8.4 .4 5.1 .2-2.5 .6 3 .3-2.7 .6-67.6 .8 44.1 .6-42.9 1 38.5 .2-66.2 .4 37.3 .2-5.6 .4 12 .1 1.8 .4-1.8 1.2-50.8 .2 9.8 .2-64.5 .8 72.8 1.2 27.6 .5-60 1 54.1 .2-66.8 1.8 85.4 .4-33.8 1.1 32.2 .2-19.5 .8 22.5 .2-31.5 .6 25 .2-50.2 .4 37.6 .2-19.7 1.2 46.1 .7-85 .6 62.6 .2-13.1 1 35.1 .4-31.8 .6 23.4 .2-8.3 .6 12.4 .4-35.1 .7 27.4 .2-25.7 .8 27 .2-25.5 .2 11.9 .2-15.5 .2 12.6 .2-55.9 .4 44.5 .4-3.1 .9 36.6 1 6 .2-22.6 .6 13.5 .8-18 .6 11.7 .2-11.4 .8 9.3 .5-52.2 .8 23.7 .8-65.6 1.2 81.9 .2-13.5 1.9 44.4 .8-22.7 1 31.6 .6-20 .2-266.3 1.1 274 .8 24.4 .8-24.3 1 27 1.2 9.8 .7 2 .4-6.7 1 7.6 .2-1.9 1.6 4.8 5.1 3 .2-9.2 .9 7.2 .2-59.4 .8 45.3 1 13.6 .4-146 .6 104.3 .9 38.9 .8 4.9 .4-40.9 .6 29.6 1 11 1.2 1.2 .1-4 .6 3 .2-36.1 .8 29.3 1.4 6.8 .2-40.6 .8 32 .9 5.3 .6-4.5 .4-285.2 .8 226.9 1.2 49.6 .4-9.9 .4 3.3 .1-5.4 .4 1.5 .4-1.1 .4-22.6 1 15.2 .4-34.6 .8 38.1 .6 5.8 .2-7.3 .3 8.8 .4-117.8 .6 82 .4-65.4 .2 36.5 .2-100.9 1.2 146 .2-40.8 1.1 60 .4-20.5 .8 17.1 .2-15.4 .6 8 .4-30.9 .4 20 .4-15.3 1 18.8 .5-54.1 .4 26.1 .2-16.3 .4 14.5 .2-20.6 .6 13.9 .2-13.5 .6 16.6 .4-38.8 .6 30.1 .2-35.1 .9 53.1 .6-56.8 .8 62.9 .2-29 1.4 47.4 .4-34.7 .3 21.5 .2-15.4 .4 18.1 .2-16.1 1.6 30 .6-17.9 1.2 16.8 .3-40.3 1 27 .4-62.6 1 42.4 .2-52.4 1.2 50 .4-58.3 .3 39.7 .2-32.7 .4 39.8 .6 21.9 .2-24.6 .6 35 .4-89.9 .6 79.1 .2-54.5 .8 75.3 .1-6 1 26.5 .4-90.7 1.4 95 .2-6.5 .6 10.6 .2-60.7 .6 47 1.5 22.2 .6 1.8 .2-2 1 3.6 .4-6.6 1.9 8.7 2.2 2.1 .2-1.2 .2-59.9 .5 43.1 1 16.4 1.2 2.6 4.1 1.1 .2-8.7 1 7.7 1.9 1.3 .2-214.1 1.2 194.7 .2-22.3 1 36.2 .8 4.6 1.3 .9 .2-57.9 .8 25 .2-23 .8 44.4 .6 7.8 .2-2.9 .7 4.7 .6-28.5 1.4 26.8 .2-152.4 .8 122.4 1.2 24.2 .2-61.1 .9 51.2 .2-98 .8 82.8 .4-8.8 .2 7.9 .4-13.1 .4 10.7 .4-53.7 .4 30.1 .2-63.1 .5 52.9 .4-29 .6 39.3 .2 3.8 .2-7.5 .4 14.4 .2-27.5 1 34.7 .8-33.6 .7 26.9 1-33.6 .4 14.6 .4-29.7 .8 16.3 .2-31.7 .4 19.5 .4-56.5 1.5 48.8 .6-57.3 1.4 60.2 .2-29.2 .8 44.9 .1-8.9 .6 19.5 .2-17.5 1.6 25.4 .6-136.9 1.5 137 .6-20.1 .8 25.2 1.2 10.6 .2-67.1 .6 39.6 .4-53.2 .7 59.8 .4-20.4 .4 17.3 .2-9.2 1.2 24.4 .6-46.7 .6 23 .2-48.3 .7 35.5 .2-12.7 .2-246.2 1.2 235.2 .2-17.9 1.2 76.4 2.3 28 .2-45.6 1.2 43.1 .2-82.9 1 85.3 .2 4.9 .2-10.5 1.7 22 .2-123.3 .6 89.8 1 30.7 1.2 10.3 .1-63 1.2 58.5 1.2 7.1 .2-.8 1.7 3.4 2.6 1.3 .2-8.1 1.4 8.1 .2-2.7 1.3 3.4 5.3 1 .2-127.5 .8 101.6 .8 20.7 .7 4.2 .4-1.2 .4-272.8 .8 219.6 .8 44.4 1.2 10.3 .2-51.8 1.3 49.4 1 2.8 2 .4 .4-41.4 .3 22.7 .8 12.2 .2-11.7 1 14.9 .2-57.5 1.2 53.8 .2-85.8 .7 50.8 .2-23.8 .6 25.3 .4-87.2 1.4 103 .8 8.4 .2-7 .4 2.3 .1-50.3 1 35.7 .6-82 .4 49.3 .2-8.7 1 31.3 .2-159.4 1.1 150.3 .6 14.5 .2-13.8 1.2 21.5 .4-42.2 1.2 35.7 .7-17.6 .2 5 .2-4.8 1.4 9.9 .2-23.2 .8 23.6 .2-18.1 .8 22.1 .4-25 .7 25.5 .6-55 1 58.8 .4-21 .4 16.3 .2-22.2 1 33.8 .2-4.8 1.1 10.9 .6-20 1 17.6 .4-99.1 .8 83.3 1.5 20.2 .6-7.4 .6 6.1 .2-9.8 .6 8.6 .4-12.8 .6 14.2 .4-12.7 1.5 22.2 .2-10 .8 11 .2-13.6 .6 12.7 .2-3.1 .6 4.4 .4-1.2 .1-48.9 .6 37.4 .2-20.9 .6 27.6 .2-31.7 .8 36.9 1 7.5 .9 2 .4-113.3 .6 80.4 1 30.3 1 3.7 .2-1 1 2.5 .1-7.6 .6 5.8 1 2.3 .2-49.8 .6 35.2 1 13.2 1.5 2.2 8.3 .7 .1-37.7 1.2 34.3 .2-107.3 .6 77.4 1 28.8 1.3 4.1 .2-24.4 1.2 18.4 .2-32.5 1.4 35.9 .4 1.2 1.9 .5 .6-2.4 .8 1 .6-4.6 .6 1.7 .6-.1 .3-6.2 .4 1.3 .2-25.8 .8 17.2 .4 2.2 .2-1.2 .4-198.1 .8 142.1 .4-6.4 .2 13.2 .5-27.6 .2 13.1 .2-54.7 .6 59 .4-137.4 1.2 153.8 .6-59.9 .8 59.8 .5 11.3 .4-13.4 .2-117.5 .8 98.4 .6 14.6 .2 .9 .4-1.3 .4-220.1 .4 106.4 .6 41.1 .2-33.1 1.1 78.9 .2-41.2 1.8 66 .2-9.6 .4 13.5 .2-34.1 .4 26.8 .2-30.5 1.5 51.4 .6-29.1 .4 17.7 .6 8.9 .2-10.2 .8 14.3 .2-30.3 .3 16.1 .2-10.2 .6 9.6 .4-28.6 .6 22.3 .2-18.4 .6 20.2 .2-40.2 1 40.3 .2-16.4 .5 25.5 1.2 15.1 .2-32.7 .4 16.6 .2-16.4 .2-268.7 .8 245.1 1.1 51.8 .4-52.4 .4 38.2 .4-17.6 1 50.1 .6-17.6 .8 24.4 .8 5.6 .3-2.2 .4-240.2 1.4 235.7 1 14.9 .2-39.9 .8 34.9 1.1 7.4 .2-65.7 .6 48.5 .2-18.5 .6 26.4 .2-29.4 .8 34.9 .6 6.6 1.1 3.2 1.6 1 .2-62.2 1.4 58.6 1.3 4.3 .4-.8 1.4 1.3 .2-.8 1 1 1.9 .1 .2-36.8 .6 14.8 .2-121.4 1 124.4 .6 13.3 .2-67.5 .7 56 .6 12.2 1 4.7 .4 .4 .2-2 1 2 1.5-.2 .2-17.6 1 14.9 .8 1.8 1.7-.3 .2-65.1 1 55.2 .4 4.3 .2-4.5 .6 4.7 .4-6.3 1 3.2 .7-107.9 .4 52.4 .6-38 1.4 81.3 .4-22.9 .4 18.8 .4-9.6 .4 14.8 .5-27.1 1.6 36.7 .4-37.9 .4 23.4 .8-82.7 1.9 94.4 .2-4.5 .4 4.4 .4-25.3 1.2 25.4 .8 1.1 .9-.6 .4-6.6 1.4 4.7 .2-12.8 .4 6.3 .6-10.2 .8 11.4 .1-46.3 .6 29.7 1.4 15.4 .2-3.9 .4 4.3 .2-8.6 1.2 8.5 .2-14.5 .3 7.3 .2-4.2 .2 3.4 .4-3.3 .8 4.2 .2-20.7 .2 5.2 .2-9.7 1.2 12.2 .4-31.4 .4 9.4 .1-11.2 .6 5.8 .2-18.7 .4 17.8 .2-33.1 .6 36.6 .2-32.2 1.2 47.8 .4 7.2 .2-14.4 .7 19.1 .4-73.7 1.4 81.9 .2-65.1 1 54.1 .4-87.8 .9 89.2 .2-18 1 34.6 .2-34.5 .4 19.8 .2-53.1 .8 65 .2-72 .8 73.1 1.5 19.2 .8-4.9 1 6.8 2.3 2.6 .2-18.6 1.4 18.2 2.3 1.8 5.3 .6 .2-36.3 .6 21 .2-47.6 1.4 59.4 .9 3.5 2.2 .1 .4-58.4 1 50.8 .7 6.5 1.8 1.6 .4-83.2 1.4 78 .2-73.2 1.3 70.3 .2-13.8 1 18.2 .2-16.6 1 16.6 1 1.7 1.5-1.7 .6-1.9 .2-89.2 .4 31.1 .2-28.6 .4 46.3 .2-19.5 1.1 44.3 .4-8.8 .6 4.4 .2-11.3 .4 2.6 .4-.9 .2-81.5 .6 46.7 .2-23.3 1.2 38.7 .9-50 .4 34.7 .4-12.5 .8 28.3 .6-35.2 1 45.8 .2-24.7 .5 21.5 .2-22.7 .4 16.8 .2-31.2 .6 26.6 .2-20.1 .4 14.4 .6-24 .6 32.9 .6-14.9 .5 17.6 .2-24.8 .8 20.7 .2-30.3 .6 21 .2-20.2 .2 7.5 .4-7.9 .6 12 .9-36.3 .2-123.1 1.8 153.3 .2-73.9 1.6 93.4 .2-44.3 1.3 51.7 .2-47.7 .8 47.6 .2-34.1 .6 32.3 .2-10.1 .2 8.4 .2-12 .2 9.7 .4-9.8 .5 22.5 .2-58.6 1.4 64.2 .2-17.9 .8 22.2 .4-10.7 1.2 18.8 .3-168.9 1 155.3 1.4 22.5 .4-78.8 .8 69.5 1.5 19.1 .2-7.5 1 8.5 .2-4.8 1 6.4 .6 1.2 .2-1.6 .7 2.3 .2-9.5 .8 8.6 .6 1.7 .2-2.6 .4 2 .2-27.1 .6 19.7 1 8.1 .1-16.3 .6 12.8 1 5 2.2 1.2 7.4 .7 .2-27 .6 18.9 1.1 7.4 2 .9 .2-15 1.2 13.7 1.7 1.3 .2-5.1 1 4.3 2.2 .4 .7-13.4 .2 4.3 .2-15.5 1.4 22.5 1-49.6 .8 39.6 .5 5.3 .2-1.2 1 2.2 1.8-12 .4-45.3 .4 22.7 .2-3.1 .5 6.1 .4-92.1 1 67.5 .2-37.8 .6 36.8 .6-20 .8 30 .2-28.4 .7 24.7 .2-34.6 1 37.8 .2-31.6 .8 28.2 .4-88.3 .4 50.9 .4-18 .2 20.5 .7-51.5 .4 49.2 .2-12.4 .6 35.5 1.2 13.3 .6-64.1 .8 20 .2-17.7 .3 20.2 .2-41.2 .2 14.4 .2-22.5 .4 23.6 .2-49.3 .6 33.8 .8 18.6 .2-12 1 35.3 .2-67.1 .3 42.4 .4 17.6 .2-18 .8 39.1 .2-38.2 1 41.7 .2-29.8 .2 14.9 .2-55.7 .8 72.6 .2-33 .7 41 .8-36.4 .6 38.8 .4-23.9 .6 29.8 .6-126.8 1.5 142.8 .6 11.8 .2-24.2 .6 21.9 .4 3.2 .2-4.6 .2 5.3 .2-7 1 17.2 .3-271.4 .8 223.4 1.4 53.6 1.4 8.1 1.1 2.1 .2-3.3 .8 3.8 1.4 2.2 4.9 3 7 1.6 .6-137.1 1 118.7 .2 6.1 1-29.4 .1-258 .8 238.7 .2-25.6 .6 60.1 1.2 22.6 1.9 1 .2-70.7 .6 46 .2-19.7 1 34.7 .2-.9 .6 1.3 .2-53.9 .4 27.5 1.1 9.8 .6-32.8 .6 13.3 .2 .8 .4-1.9 .4-46.5 .2 8.8 .2-8.7 .4 5.2 .2-20.2 .4 2.7 .3-8.5 .2 7.2 .2-79.3 1 93.1 .8 20.8 .2-38.2 .4 29 .6-18 .6 40.1 .2-34.1 1.3 56.9 .2-28 .6 24.3 .2-14.3 1 22.2 .2-48.1 .8 43.6 .2-10.3 .3 11.1 .2-10.2 .4 10.1 .2-8.5 .8 9.3 .2-42.1 .4 27.2 .2-13.2 1 22.8 .2-19.4 1.5 24.4 .2-33.4 1 29.2 .4-46.1 .4 25.8 .2-39.3 .4 31.2 .2-12 .2-105.6 1.3 104.8 .2-11.7 1.4 40.8 .6-30 1.2 38.4 .3-32.2 .4 19.3 .2-38.3 .2 18.5 2 34.1 .6-36.6 .9 31 .2-33.7 1.2 19.6 .2-47.4 1.6 43.9 .2-17.5 .9 29.7 .4-89.2 1.4 95.2 .8 9.5 .2-28.6 .8 34.3 .4-7.9 .7 17.2 .8-37 .2 15 .2-68.2 1.2 85.9 .4-21.4 .4 17.7 .2-10.8 .6 23.9 1.1 10.4 2.4 4.8 .8-3.4 .7 3.8 1 1.3 .2-1.4 .8 1.9 .2-50.6 1.2 47 1.1 4.7 3.6 1.3 .5-71.2 1.2 62.9 1 7.5 1.9 1.3" fill="none" stroke="#edb800" stroke-width="3.9" stroke-linejoin="round" stroke-linecap="round"/>
<path d="M170.7 464.6l5.3-1.8 .6-2.6 .4 2.3 .2-.9 2 1.7 9.1 1.3 1.4-1.1 1.6-4.2 1.9-12.4 .6 .6 .6-1.2 .4-15.9 1.2 7.1 .6-14.8 .5 6.6 .6-3.2 .6-16.9 1.2 15.1 .6 .7 .2-23 1.1 15.1 .2-27.6 .8 21.3 .2-4.4 .6 5.8 .4 .4 .4-1.1 .4-46.1 .6 42.1 .2-28.2 1.1 30.1 .4-32.3 1.8 31.2 .2-38.8 .4 18.5 .4-24.3 .9 27 1-58.5 1.2 27.6 .4-50 .4-12.5 .4 7.8 .4-107.2 1.7 147.5 .2-76.3 1 93.3 .4-33.1 1.7 75.7 .6-24.3 1.4 39.5 .6-11.7 .6 18.1 .2-15.1 .9 24.5 .2-8.4 1.2 16.8 .6 3 .2-11.4 .6 10.2 1.7 7.3 .2-4.3 1 6.5 2.2 3.7 .5 .6 .2-3.5 .6 3 .2-1.5 .8 2.8 .4-.4 1.2 1.7 6.8 2 5.5 .5 5.7-1 1.3-1 .6-2.5 .4 .4 1-1 1-1.9 3.1-20.1 1-50.4 .4 31.3 .2-18.5 .3 8.7 .2-10 .8 19.5 .2-5.3 1.2 11.6 .6-23.5 .8 14.4 .7-8.6 .2-18.4 1 16.2 .6-.2 .6-3.3 .2-53.5 .4 53 .6 1.2 .2-47 1.5 45.5 .8-23.2 .8 22.4 1.2 6 .2-39 .7 26.9 .6 4.3 .6-.9 .2-33.7 .6 15.4 .4 1.8 .4-1.9 .2-68.9 .4 65.9 .2-11.2 .4 13.2 .1-43.8 1.8 61.1 .2-43.5 1.8 52.7 .4-24.8 .9 21.7 .2-28.4 1 33.6 .2-8.6 .4 8.5 .2-15.7 1.2 30.9 .2-10.9 1.1 20.8 .4 3 .2-7.3 2.2 18.1 .2-5.2 .4 4.4 .1-9.5 .8 12.3 .2 1.4 .2-2.7 1.4 7.9 .8 1.7 .2-2.2 1.1 3.6 .2-.8 2.4 4.3 .2-2.9 1 3.3 2.1 1.8 .4-1.2 1.2 1.7 2.7 .9 12.5 1.1 5.7-1 2.5-2.5 .4-3.2 .8 .4 1-2 3.1-29.8 .8-58.7 .8 46.3 .2-33.2 .8 26.2 1.3 7.4 .2-38.6 1 29.9 .2-16.7 .8 15.5 .2-25.9 1.1 24 .2-40.5 1.2 34 .4-21.2 .8 14.7 .2 .6 .4-.7 .6-4.4 .6-77.4 1.1 33.8 .4-82.7 .8 26.5 .2-113.7 .8 145.2 .2-22.8 .4 24 .2-32.5 .3 33.2 .2-65.7 .8 83 .2-46 .6 53.1 .2-42.9 1.8 80.7 1.9 14.4 1 3 .2-11.4 .8 9.7 .2-43.6 .8 35.5 .3-19.2 .6 23.1 .2-17.2 1.2 21.9 .2-44.8 .4 19.8 .2-24.8 .8 19.1 .2-45.4 .5 21.6 .2-23.9 .6 4.8 1.4-217.5 1.4 189.3 .2-37.1 1.7 104.5 .2-59.2 .6 56.1 1.6 43.5 .7 10.3 .2-35.6 .8 36.9 .4-10 1.4 29.7 .2-12.9 1.5 20.6 1.8 8.8 .2-2.5 1.2 5.7 .2-1.6 1.3 4.6 .2-2.5 2.2 5.4 1 1 .2-2.2 1.1 2.9 .8-.2 2.4 1.8 4.3 .6 .2-.6 1.3 .5 3.2-.9 .2-1.1 1.1-.1 .2-2.2 1.2-.6 1.4-3.9 .9-12.7 .6 .8 .8-4.7 .8-37.5 1 29.7 .2-17.7 .6 15.3 .1-15.2 1.2 19 .2-11.9 .8 8.3 .2-9.8 1.6 16.5 .7-12.3 1.2 8.9 .6 1.2 .8-.2 .2-12.5 .8 7.3 .5-16 .6 7.9 .2-22.9 .4 10.6 .2-4.9 .2 3.3 .8-37.2 .6 30.8 .4-3.6 1.3 26.4 .6-26.1 1.6 30.4 .2-13.9 .4 10.6 .2-8.5 .2 5.8 .4-3.4 .9 15.2 .2-11.6 .8 12.8 .2-17.5 .4 11.2 .2-6.4 .6 10.3 .2-7 .6 10.1 .2-13.1 1.7 20.3 .4-6.4 1 10.8 .2-4 .6 5.7 .2-7.2 1.3 12.1 1 2.5 .2-7.3 1.2 8.4 .2-1.8 1.7 5.1 .6-2.1 1.4 3.5 .2-2.3 1 2.9 .2-1.8 1.9 3.2 10.4 2 8.6-.4 1.7-1 .6-1.8 1.4-.3 1-4.6 .6 .3 .4-3.9 1.1-1.8 1.2-9.7 1.2-40.1 .6 22.4 .2-11.8 1.7 28.8 .2-2.9 1.4 8.9 .4-9.7 .6 5.8 .2-6.5 1.1 5.7 .2-6.4 .6 2.4 .2-10.2 .6 5.2 .2-17.8 1 12.2 .2-9.9 .5 5.9 .8 1 .8-32.5 .8 19.9 .2-26.7 1 25.5 .2-24.1 .4 14.1 .2-20.1 .5 21.5 .4-25.9 1.2 29.6 .2-39.5 1.2 23.9 .2-32.6 .7 23.6 .4 2 .4-1.9 .2-45.7 .8 17.2 .2-52.9 .4-4 .6 12.4 .6-129.9 1.7 158.2 .2-43.1 .6 36.2 .6-36.9 .8 62.4 .2-50.9 .8 60.2 1.1 23.8 .8-36.5 1.2 47.6 .2-31.1 1 43.3 .5-22 2 44.8 2.3 11.5 .2-6 1.4 9.9 .8 2.6 .2-3.7 1.4 6.6 .2-1.1 3.3 5.9 .2-2.7 1.5 3.9 .2-1.8 1.4 2.7 .6-.7 1.7 1.7 2.4 .5 .2-.5 1.9 1 7.7 .1 2.5-1 2.6-3.2 .7-6.3 .6 .5 .8-1.9 1.4-8.7 1-16 .1-26.3 1.2 33.8 .2-11.5 .8 15.8 .4-7.7 1.4 15.3 .4-2.7 .5 3 1 .8 .2-13.5 .8 8.8 .2-5.1 1.2 4.8 .4-16.9 .5 8.3 .2-10.9 1 12 1-14.9 .6 9.2 1 3.7 .2-21.8 .3 10.8 .6-9.7 .8 15.8 .4-4.6 .8 7.7 .2-8.6 .6 7.2 .2-15.4 .9 15.6 .2-20.8 .6 15.2 .6-15.8 1.2 16.2 .4-15.4 .8 14.8 .5 2.5 1-1.3 1.2-5.7 .2-20.2 .2 3.5 .2-3.3 .4 3.5 .2-5.3 .2 .8 .4-1.1 .1-23.4 .6 4.6 .6-15.4 1-113.5 .6 89.2 .8 27.6 .2-25.8 1.7 57.8 .2-14.4 .4 14.7 .2-14.2 1 24 .4-13.1 1.1 30.6 .2-9 .8 16.7 .2-2.3 .4 5.3 .2-5.8 1.2 13.8 .2-2.3 1 6.5 1.9 5.3 .6-4.3 1 6.1 2.1 3.3 2.4 1.7 .2-1.7 .7 1.8 1.6 1.1 .2-.6 1.6 1.1 4.1 .7 6.4 .4 4.7-.7 1-1.5 1.2 0 2.3-3.9 1-9.5 .2-1 .6 .8 .2-5.4 .6-.3 .2-13.6 .5 1.7 .2-12.4 .2 1 .4-1 .6-7.1 .2-44.4 .8 39 .2-4.2 .8 13.4 .2-7 1.1 10.6 .6-29.7 .6 18.4 1 6.8 .2-36.8 .6 16.6 .2-21.2 .9 26.7 .4-28.8 1.2 19.2 .2-46.3 .6 22.3 .4 3 .4-2.3 .8-103.5 .5 72 .4-9.4 1 46.4 .2-13 .4 15 .6-44.9 1 54.1 .4-32.5 2.1 57.4 .2-36 1 34.8 .2-31.1 .6 26.6 .4-4.5 .1 6.1 .2-10.7 .6 17.1 .2-17.1 .2 8 .6-14.4 1.4 32.8 .2-11.3 .9 13 .2-7.6 .6 10.9 .2-21.8 1 27.7 .2-16 .8 18.9 .2-9.3 1.2 18.8 .1-5.9 .8 8.8 1.8 6.2 .2-3.3 1 5 .2-6.9 1.7 10.1 .2-4.4 1.6 6.3 .6-3 1.1 4.2 3.4 2.1 .2-.9 1.3 1.3 .2-.6 2 1.2 5.8 .7 5.1-.7 1.2-1.9 .8 .2 .4-1.8 1 0 .1-3 .8 .3 1.2-3.1 .2-5.7 1.2-3 .2-14.3 .6 1.8 .7-5.7 1-59.1 .4 44.3 .4-29.5 1.4 42.2 .6 7.9 .1-18.1 1 21.7 .6-12 .6 11.2 .2-10.4 .6 9.6 .2-9.4 .8 8.6 .3 .4 .6-1.3 .2-17.3 .2 3.4 .2-5.8 .8 4.9 .2-24.9 1.4 15.9 .2-7.6 .6 1.1 .1-24.9 .8 10.1 1-4.5 .2-40.1 1 15.2 1.5-30.4 1.2-202.9 .8 154.7 .2-71.7 .8 70.8 .2-64.4 .6 78.1 1.3 52.3 .2-47.2 1 57.8 .2-25.1 .6 28.9 .2-31.3 .8 39.9 1.3 18.1 .6-42.3 .4 24.5 .2-8.9 .6 23.2 .2-17.3 1.2 29.2 .2-42.9 1.1 41.1 .4-40.1 .4 29.9 .2-12.2 .4 23.4 .4-15 1.6 46.4 .1-21.5 .8 22.9 1.4 12.6 .2-11.9 1.6 18.2 .5-10 1 12.1 .2 1.4 .2-2 .6 4.2 .2-3.9 1.2 7.2 .8 1.3 .1-5.4 1.2 7 3.5 3.5 .2-1 .6 1.1 .2-1.6 1 2.1 1.9 1.1 5.3 1 4.3-.2 2-.6 1.9-3.8 .8 .4 .2-2.9 .6 .5 .6-1.3 1.8-7.3 1.3-29.5 .4 2.2 .2-20.4 .6 30 .2-18.7 1.6 30 1.5 7.1 .2-5.2 1.2 6.2 1 .2 .4-9.9 .2 1.8 .1-3.7 .4 3 .2-5.9 .6 3.7 .2-8.4 .6 4 .8-13.6 .6 5 .8-.5 .2-17.5 .7 8 .4 .3 .6-1.3 .2-35 .6 19 .2-25.8 1.7 30.3 .6 1.7 .2-8.5 .8 6.2 .2-24.7 .6 15.9 .2-6.1 .6 8.4 .2-44.3 .6 28.8 .5-31.8 .8 29.6 .8-6.4 .2-54 .6 31.5 .4 5.7 .6-2.9 1.3-137.9 .4 27.6 .2-91.1 .6 122.3 1.6 58 .2-64.9 .8 65.5 .3 7.2 .2-22.9 .2 14.1 .2-39.7 .6 51.4 .2-51.2 1.2 74.2 1.6 33.7 .1-45.8 1.4 55 .4-18.1 1.8 41.2 .2-19.4 .9 23.2 .2-13.9 .6 14.8 1.6 11.1 1 3.1 .4-8.4 .7 9 .4-1.5 1.2 5.9 1.8 2.8 .2-3.5 .9 4.1 .2-1.1 .8 2.1 1.8 1.5 .9-1.1 .8 1.6 1.6 .9 2.3 .4 .2-.7 1.4 1 4.9 .6 2.7 .1 4.5-2.1 .2-1.4 .8 0 .6-3.7 .6 .6 1.2-2.4 2.1-13.3 1.4-22.1 .2-22.4 .2 1.4 .4-1.7 .5-10.7 1.4-162.7 .4 93.2 .4-55.3 1.2 93.4 .4-45.9 .4 34.6 .1-35.2 .8 40.9 .4 7.2 .2-22.2 1.6 53.3 .6 4.5 .2-31.6 1.3 34.9 .2-29.5 .6 23.5 .4-10.6 .2 7.6 .2-3.7 .2 6.7 .2-5.2 .4 5.7 .6-28.3 .5 26.7 .2-5.3 1.4 23.1 .2-36.5 1.2 31.5 .6 1.6 .2-25.9 1.1 14.7 .6-59.2 .4 50.5 1.6 15.6 .8 1.9 .2-43.1 .7 21 .2-29.3 .8 34.3 .2-6.8 .4 9 .8-41.5 1 28.9 .2-27.9 .5 17.6 .4 1.5 .4-3.2 .8-16.6 .2-107.4 .4 111.5 1.6 31.9 .2-60.8 1.7 84.4 .2-35.9 2 58.5 .2-3.8 2.1 18.8 .2-9.4 1.2 13.8 3.3 9.6 .4 .6 .2-1 2.1 4.1 .2-2.2 .8 2.6 1.6 1.7 .2-2.1 1.9 3.1 6.7 1.3 1-.8 2.3 .1 1-2.3 1.4 0 1.9-5.5 1.2-5.9 1.2-17.5 .4 .7 .5-3.4 1.2-61 1.2 51.5 .2-13.1 .8 19.6 1.1 10.2 .4-12.3 .6 10.4 .2-15.3 1 16.2 .4-3.4 .6 3.4 .7-.3 .2-9.3 .6 3.2 .8-13.3 .6 4 .6-32.6 1.4 14.2 1.3-13.7 .2-67 .2 12.2 .2-17.3 .4 17.6 .4-63.6 .4 57.7 .2-27.3 1 48.1 .1-23.8 1.6 55.4 .2-19.6 1.8 41.5 .2-33.8 .4 15.6 .2-17.1 .9 26 .2-22.5 .8 26.8 .2-13.1 .8 18.8 .2-28.7 .8 19.2 .2-30.4 .5 23.5 .2-23.4 .4 14.8 .4-20.1 .4 12.2 .2-39.4 .8 22.8 .2-20.5 .4 6.3 .2-75.2 .6 94 .5-62.7 1.8 89.5 .2-8.5 1.2 33.4 .6 7.3 .2-9.4 2.1 27.4 .2-8.5 2.2 18.5 .2-5.5 .7 8.2 .2-10.2 1.4 15.1 .4 1.3 .2-4.2 1.2 6.6 2.9 4.2 .2-3.6 1.7 5 1.8 1 .2-1.7 1.2 2.1 .6-.8 2.5 1.8 9 .4 4.3-2.7 1.4-6.2 .6 .7 .2-4.9 .7 .7 .8-2.9 .6-12.5 .8-1.9 1.4-55 .3 5.7 .4-2.3 .2-51.7 1 64.1 .2-35.6 1 41.9 .6-29.5 .9 29 .2-27.8 .6 17.3 .4 2.9 .4-.8 .2-55.2 .8 20.6 .2-43.2 1 25.8 .4-74.5 .5 22.7 .2-97.5 .4 102.2 .2-25.7 1.2 65.4 .8 14.3 .2-29 .9 37.7 .2-9.1 1.4 26.9 .8-56.2 .6 44 1.2 23.2 .7-42.3 .8 38.7 1.4 13.4 .2-54.8 .6 30.7 .2-29.3 .7 39.2 .2-30.6 1.2 33.2 .2-41.6 .2 12 .2-9.6 .8 21.1 .4 2.9 .4-1.4 .8-96.6 .7 74.7 .2-54.8 .6 55.6 .2-22 .6 39.8 2 43.3 .1-22.2 1.8 38.7 .2-18.4 1 24.5 .2-13.5 .6 14.9 .2-4.5 .4 8 .1-9.8 1 14.1 .4-7.5 1.4 18.1 2.5 6.6 1 1.5 .2-3.7 1 4.4 2.1 2.7 .4-.8 2 2.3 .2-1.7 .8 1.7 .1-.5 1.2 1.3 .2-.9 1.6 1.4 2.5 .6 12 .2 4.3-2.4 .7-1.2 .2-3.8 .6 .6 .8-1.4 .6-7.9 1.5-7.4 .8-15.3 .6-38.8 .4 27.3 .2-7.2 1.4 18.1 .2-14.6 .8 11.8 .1-20.2 .4 11.3 .2-17.7 .6 13.7 .2-1.9 .6 8.5 .8 1.5 .2-36.2 .8 22.1 .5-22.1 .6 12 .2 1.1 .4-.7 .2-54.5 .4 43 .2-31.9 1.4 53.3 .2-34.3 .9 39.1 .2-17.4 .4 14.4 .2-15.3 .8 21.5 .2-5.8 .4 9.3 .4-22.3 .8 25.2 .2-18.1 .9 15.5 .2-8.7 .6 11.5 .2-7 1.4 17.2 .2-15 .6 12.2 .6-12 1.5 18.8 .2-9.5 .6 5.2 .2-14.1 .6 13.1 .6-10.6 1.5 24.6 1 4.8 .2-2.9 .6 2.8 .2-7.3 .8 10.1 1.3 5.2 1.4 2.6 .6-5.6 1.8 8.2 .2-3.2 .7 3.5 1.2 1.7 6.9 2.9 13.1 1 3.3-.5 1.9-1.2 .4-1.4 1.6-.6 1.8-4.8 .7-11.6 1.4-3.1 1.6-17.5 .2-35.8 .4 4.5 .5-5.2 .2-57 1.2 63.3 .6-34.1 1.2 34.7 .2-38.2 1.1 25.5 .6-29 .4 14 .2-19.6 .4 11.8 .2-10.3 .4 5.4 .6-4.2 .6-112.9 .9 110.1 .4-28.4 .6 31.9 .2-19.5 .2 12.5 .2-30.5 1.4 54.3 .4-42.9 .7 50.2 .2-4.6 1.2 23 .6 3.3 .6-37.1 .8 28.9 .4-38.7 1.3 38.8 .2-52.7 .8 33.9 .8-66.5 1.2 77.6 .2-35 .7 30.2 .6-32.9 .8 42.6 .2-33.2 .4 23.1 .4-16.4 1 40.4 .2-6.6 .4 8.7 .1-26 .8 34.5 .2-11.7 1 18.6 .2-16.7 1.2 29.2 .2-12.2 1.1 22.5 .2-4.3 .8 5.9 .4-9 1 15.1 .2-2.2 .6 4.8 .2-7.5 .9 10.2 2.4 5.2 .2-1.4 .8 2.1 .2-2.5 .7 3.2 1.6 1.9 .2-2 .8 2.1 .6-1.1 1.5 2.5 1.2 .5 .2-1.2 .8 1.2 .4-.6 3.1 1.6 8.2 0 3.5-2.5 1-1.7 .2-3.4 1.4-1.3 .2-5.7 .4 .6 .4-.5 .4-12.4 .5 2.1 .6-6.1 .2-18.8 1 23.4 .2-5.3 1 13.2 .4-4.1 .4 5.1 .1-4.1 1.2 9.8 .8-6.4 1 5.4 .2-1.6 .4 1.8 .4-5.5 .7 4.3 .6 .3 .8-.7 .2-3.6 .6 .9 .2-11.6 1.6 7.9 .1-10 .6 5.9 .2-5.8 .8 6.2 .2-6.6 1 6.6 .4-7.4 .8 6.5 .7-16.8 .4 9 .2-9 .6 11.4 .2-11.7 1 12 .2-9.4 .6 6.2 .2-9.8 .7 10 .2-3.1 .6 2.2 .2-22.2 .8 12.7 .6-28.5 .6 12.7 .2 1.1 .4-.7 1.5-26.7 .2-78.1 1.2 76.6 .4-8.6 1.2 33.6 1.7 14.9 .4-33.9 1 33.4 .2-11.6 .4 12.6 .2-10.3 1.3 29.9 .6 3.6 .2-13 .6 13.1 .6 3.6 .2-3.9 1.2 10.6 .2-6.7 .4 5.2 .2-3.1 1.7 9.9 .2-5.1 1.6 7.7 .2-3.1 1.5 4.9 1.8 1.3 .2-1.6 .6 1.5 2.3 1.5 14.5 1.5 4.3-1.2 .6-1.5 1.5-.3 .2-2.7 1 .2 .2-2.8 .8-.2 1-3.4 2.5-24.9 .2-22 .6-14.4 .2 1.4 .4-1.9 .6-71.1 .8 66 .3-36.3 .4 28.1 .2-19.5 1.2 45.8 .2-15 1 17.9 .2-18.8 .4 12.8 .2-21.9 .5 22.3 .6-20.8 1.4 26.2 .2-30 1.2 24.9 .6 3.4 .5-.1 .6-45.3 .8 25.5 .4 1.9 .6-3.4 .8-11.8 1.1-133.2 .4 63.6 .2-34.1 2.2 108.5 .6-36.8 .6 29.2 .2-34.5 .7 49.1 .2-25.7 1.4 45 .2-23.5 1.2 24.4 .6-26.4 .7 27.9 .2-13.9 .8 20.8 2.6 20 .1-17.3 .6 15.5 .2-9 .2 5.9 .2-3.4 1.8 21.7 .2-13.3 1.7 18.8 .4 1.1 .2-3.1 1.8 6.9 1.4 2 .1-2.7 .8 2.8 .2-1.1 .8 2.5 .2-.7 1.4 2.2 .4-1 2.5 2.6 .6 .2 .2-1.5 1 1.7 .2-1 1.3 1.5 4.5 .8 8.4 .4 5.5-1.2 1.4-2.6 .6 .2 .4-2.4 .5 .4 .6-3.7 .6 .3 2.8-18.9 1.3-62.5 .4 6 .4-45.3 .6 43.4 1 18.4 .2-44.5 .7 24.2 .4-12.3 1.4 31.6 .2-31.2 .8 23.4 1-34.9 .2 11.1 .2-28.1 .3 26.6 .2-5 .2 9.1 .4-7.9 .2-28.1 .8 40.5 .8-51.4 .6 33.8 .4 7.3 .2 1.2 .4-1.1 .1-63.5 .6 20.2 .2-27 .8 16.1 .8-154.9 .4 126.5 .4-88.9 1.2 129.3 .5-75.4 .6 72.8 .2-21.8 1.6 68.5 .2-13.6 .4 14 .2-30.9 .7 26.2 .2-27 .8 42.2 1.6 18.7 .4-46.3 .8 30.8 .4-20.9 .7 44.4 .2-14.3 1.2 33.8 .2-21.2 2 35.5 .3 2.9 .2-13.3 .8 15 .2-2.3 .6 6.5 .4-10.6 .8 13.2 1.2 5.9 1.9 4 .2-3.6 1.4 5.5 .4-1.9 1.1 3.6 2.4 2.1 .2-1.5 1.2 2 3.3 1.4 4.7 .9 2.5-1 2.4-1.8 1.7-3.6 .2-6.1 .4-2.3 .4 1.1 .6-.8 .2-7.1 .4 .5 .6-2.2 .2-12.4 .1 .8 .4-.7 .8-8.1 1.4-31.4 1.7-214.1 .6 127.1 .6-60.4 1.2 116 .2-27.1 1.2 41.4 .2-30.2 .7 51.4 .4-18.7 1.2 39.3 .2-29.7 .6 19.9 .2-14.4 .6 21.9 .2-7.6 .9 9.5 .2-11.8 .4 10.1 1.2 7.3 .8-23.6 .6 13.2 .2-12.3 .9 13.2 .8 1.6 1.2-1.8 .8-21.3 .4 8.3 .2-35.4 .9 25.5 .8 4.4 .2-56.3 .4 54.2 .4-45.4 1.6 56.2 .6 3.7 .2-32.3 .9 29.1 .2-31.6 .6 24.2 .6-30.4 1.4 32.6 .2-35.7 .6 21.1 .5-36 .6 25.3 .4-47.1 .6 26.1 .2-50.9 .4 43.1 .2-31.3 1.5 72.6 .6 10.8 .2-42.9 1 51.9 .4-30.5 1 41.8 1.3 16.5 .2-8.8 .8 13.5 .6-6.4 1.2 13.6 .2-10.6 1.5 18.3 1.2 3.8 .2-2.1 2 6 1.3 1.8 .2-3.5 .8 3.6 1.4 2 .2-.7 1.3 1.6 2.8 1.3 6 1.2" fill="none" stroke="#00b4d8" stroke-width="3.9" stroke-dasharray="14.6 6.3"/>
<path d="M173.5 71.3V84m1.5-12.7V74.7m1.6-3.4V116.8m.8-45.5V93.2m.8-21.9V74.5m.4-3.2V99m.4-27.7V77.6m1.1-6.3V111.6m1.2-40.3V115.7m.4-44.4V90.1m.8-18.8V97.8m.4-26.5V81.9m1.5-10.6V78.4m.4-7.1V141.4m1.6-70.1V153.2m.4-81.9V99.6m1.2-28.3V135m.7-63.7V77.8m.4-6.5V81.7m1.6-10.4V83.6m.8-12.3V114.1m.4-42.8V156.3m.4-85V85.3m.7-14V83.2m1.6-11.9V80.5m.4-9.2V81.4m1.6-10.1V102.5m1.1-31.2V76.1m.4-4.8V80.6m.4-9.3V97.5m1.2-26.2V91.3m.4-20V125.6m.8-54.3V77.8m1.1-6.5V89.3m.4-18V178.2m3.5-106.9V138.8m.4-67.5V101.6m1.2-30.3V175.7m1.6-104.4V124.8m.4-53.5V75.6m1.1-4.3V77.3m.4-6V78.5m.8-7.2V80.2m1.6-8.9V76.3m.8-5V164.4m1.1-93.1V74.5m2-3.2V148m.4-76.7V121.7m2.3-50.4V87.4m1.6-16.1V93.8m.4-22.5V88.8m.8-17.5V113.1m.7-41.8V91.2m2.4-19.9V100.2m1.9-28.9V76.9m1.2-5.6V155.2m.8-83.9V80.5m5.5-9.2V98.8m5.8-27.5V74.6m2.4-3.3V94.4m4.7-23.1V80.7m1.5-9.4V107.9m.8-36.6V132.6m.4-61.3V134.1m.8-62.8V154.5m.4-83.2V81.5m.8-10.2V74.6m3.1-3.3V126.4m.8-55.1V74.8m1.2-3.5V85.3m.3-14V91m.4-19.7V122m1.6-50.7V119.1m.4-47.8V305.4m.4-234.1V103.2m.4-31.9V147.9m.4-76.6V81.8m.7-10.5V105.3m1.2-34V84.3m.4-13V109m.8-37.7V105.4m2.3-34.1V79.4m2.4-8.1V75.2m.4-3.9V79.1m.4-7.8V96.6m1.1-25.3V82.7m1.2-11.4V143.3m2.4-72V176.1m.4-104.8V81.1m.3-9.8V164.1m.4-92.8V169.3m2.4-98V97.8m.4-26.5V81.7m.4-10.4V83.3m1.9-12V264.6m1.6-193.3V109m.4-37.7V96.8m1.5-25.5V123.1m.4-51.8V87.9m.4-16.6V117m.4-45.7V105.7m.8-34.4V79.5m.4-8.2V100.6m1.2-29.3V81.2m1.1-9.9V143.9m1.2-72.6V163.7m1.6-92.4V86m.4-14.7V85.7m.4-14.4V80.3m2.7-9V209.1m.4-137.8V116.8m1.5-45.5V110.4m5.1-39.1V131.6m10.6-60.3V145.4m.4-74.1V93.2m.4-21.9V88m.4-16.7V103.3m1.5-32V194.6m.8-123.3V92.5m.8-21.2V105m1.6-33.7V88.6m1.1-17.3V98.1m.4-26.8V127.5m1.2-56.2V94.3m.4-23V85.6m.4-14.3V78.1m.8-6.8V253.9m.3-182.6V119.1m.4-47.8V88.9m.4-17.6V95.1m1.2-23.8V80.2m.4-8.9V98.9m.8-27.6V81.1m1.5-9.8V125.6m.4-54.3V97.7m.4-26.4V95.6m.4-24.3V118.9m1.2-47.6V87.6m.8-16.3V86.6m.4-15.3V87.9m.7-16.6V116.5m.4-45.2V79.3m.8-8V93.7m.8-22.4V118.3m2.3-47V88m.8-16.7V90.2m.4-18.9V128.1m1.6-56.8V80.7m1.5-9.4V90m.4-18.7V79.5m.4-8.2V102.3m1.6-31V79.8m1.6-8.5V78.3m1.1-7V109.6m.4-38.3V85.4m.4-14.1V100.8m.4-29.5V103.4m.4-32.1V74.7m.4-3.4V151.6m.8-80.3V88.1m.4-16.8V83m.4-11.7V305.2m.3-233.9V100.3m.4-29V75m1.2-3.7V97.7m.4-26.4V95m.8-23.7V82.7m4.3-11.4V125.9m.4-54.6V145.2m.4-73.9V82.3m3.1-11V76.9m1.6-5.6V104.4m.7-33.1V138.8m4.3-67.5V76m8.6-4.7V80.9m2.4-9.6V127.5m8.6-56.2V99.1m2.7-27.8V93.7m1.6-22.4V184.6m2.7-113.3V76.2m.8-4.9V114.4m2.8-43.1V115.2m1.1-43.9V227.7m.4-156.4V171.8m.4-100.5V131.9m.8-60.6V103.9m.4-32.6V186.7m1.2-115.4V85.3m1.1-14V75.3m.4-4V88.5m3.5-17.2V80m2.4-8.7V83.2m.8-11.9V100.1m2.3-28.8V129.8m1.6-58.5V220.8m.8-149.5V279.1m.4-207.8V77.6m.3-6.3V121.1m1.2-49.8V80.1m1.6-8.8V77.5m.8-6.2V130.5m.7-59.2V96.1m2-24.8V77.3m.4-6V86.4m1.9-15.1V82.7m.8-11.4V127.8m1.2-56.5V121.1m.4-49.8V97.1m.8-25.8V87.7m1.2-16.4V80.6m3.1-9.3V175.2m.4-103.9V79m2.7-7.7V198.3m6.3-127V74.5m.4-3.2V75.4m1.9-4.1V75.6m2.4-4.3V136.4m1.1-65.1V89.4m11-18.1V119.1m2.3-47.8V76.7m.8-5.4V131.2m.8-59.9V115.3m1.9-44V103.1m3.2-31.8V182.6m.4-111.3V76.7m.4-5.4V113.8m1.9-42.5V77.5m.4-6.2V83.4m.4-12.1V79.4m4.7-8.1V142.3m.8-71V75.1m.4-3.8V96.8m1.1-25.5V88.7m1.2-17.4V79.3m.8-8V171.1m.8-99.8V135.4m.4-64.1V83.4m2.3-12.1V75.3m1.2-4V285.3m.4-214V82m.4-10.7V117.4m.8-46.1V109.6m1.9-38.3V115.1m.8-43.8V91.1m.4-19.8V95.3m.4-24V74.7m1.9-3.4V114.6m2.4-43.3V119.6m.8-48.3V205.6m.3-134.3V91.8m.4-20.5V102.2m1.2-30.9V86.2m.4-14.9V86.5m2-15.2V139.6m1.9-68.3V164.1m.8-92.8V79.4m.4-8.1V84.3m1.2-13V84.4m2.7-13.1V117.2m.8-45.9V133.4m3.5-62.1V79.1m10.2-7.8V84.6m10.1-13.3V75m1.6-3.7V97m.8-25.7V93m.4-21.7V81.5m.8-10.2V87.7m1.1-16.4V105m.4-33.7V78.8m.4-7.5V100.2m.4-28.9V78.3m.4-7V111.3m.8-40V180.7m.4-109.4V119.9m.7-48.6V107.9m.4-36.6V93.5m.8-22.2V155m.8-83.7V86.5m1.2-15.2V225.1m1.9-153.8V77.6m.4-6.3V103.4m.4-32.1V84.9m1.2-13.6V168.4m1.9-97.1V76.2m.4-4.9V83m.4-11.7V80.5m.8-9.2V132.4m.4-61.1V95.6m.4-24.3V97.5m.4-26.2V90.6m.8-19.3V109.7m.4-38.4V77.9m1.1-6.6V219.6m.8-148.3V85.9m.4-14.6V98.9m.8-27.6V94m.4-22.7V196.5m.4-125.2V114.6m.4-43.3V101.9m.7-30.6V97.2m1.2-25.9V90.1m.8-18.8V512.4m1.2-441.1V83.2m.7-11.9V85.8m.4-14.5V139.5m1.6-68.2V161.8m.4-90.5V87.6m.4-16.3V78.3m.4-7V116m.4-44.7V136.2m.7-64.9V323.6m1.6-252.3V103.2m.4-31.9V367.7m.4-296.4V97.2m1.2-25.9V145.4m.4-74.1V76.9m.7-5.6V117.2m.4-45.9V99.4m.4-28.1V128.7m.8-57.4V77.5m.4-6.2V77.4m.4-6.1V194.5m1.6-123.2V90.6m.3-19.3V84.1m.4-12.8V136.9m.8-65.6V137.7m1.2-66.4V130.5m.4-59.2V98.3m.8-27V78.3m.7-7V117.3m.4-46V109m.4-37.7V77.6m.8-6.3V87.9m.8-16.6V203.6m.4-132.3V85m.8-13.7V83.3m.4-12V162.3m1.9-91V80m2-8.7V159.2m3.5-87.9V116.1m1.6-44.8V101.1m2.7-29.8V216.5m2.3-145.2V115.1m3.9-43.8V80.7m7.5-9.4V88m2.7-16.7V90.9m.4-19.6V80.1m1.2-8.8V92.9m1.5-21.6V200.8m.4-129.5V99.4m1.2-28.1V155.3m1.2-84V81.4m.4-10.1V88m1.5-16.7V158.3m1.6-87V92.2m2.3-20.9V91.4m1.2-20.1V357m.8-285.7V87.5m.8-16.2V86.5m.4-15.2V110m.4-38.7V121.7m.8-50.4V78.7m.7-7.4V101.1m2-29.8V115.7m.4-44.4V75m.8-3.7V119.8m1.1-48.5V75.2m.4-3.9V80.4m.8-9.1V77.4m.4-6.1V83.7m3.9-12.4V83.6m2-12.3V128.8m.4-57.5V79.6m.3-8.3V99.5m.4-28.2V80.9m.4-9.6V174.8m.4-103.5V271.8m.4-200.5V113.2m.8-41.9V136.9m1.6-65.6V78.1m1.5-6.8V90.7m.8-19.4V116.6m.8-45.3V191.1m.8-119.8V82.1m1.1-10.8V116.2m.4-44.9V98.7m.4-27.4V76.8m3.2-5.5V133.6m.7-62.3V110.1m.4-38.8V82.9m.4-11.6V93.5m.8-22.2V83.2m2-11.9V91.7m.7-20.4V91.5m1.2-20.2V89.1m6.7-17.8V89.4m5.4-18.1V119m2.8-47.7V85.6m3.5-14.3V107.7m.4-36.4V88.7m.4-17.4V89.3m.8-18V74.4m1.9-3.1V92.4m1.2-21.1V101.8m.4-30.5V133.3m1.5-62V96.4m.4-25.1V76.2m.4-4.9V76.4m.4-5.1V90.3m4.3-19V145.8m1.2-74.5V121.1m1.6-49.8V85.1m1.1-13.8V180.2m.4-108.9V105.9m.4-34.6V121.9m.4-50.6V116.2m.8-44.9V85.1m1.5-13.8V117.4m.8-46.1V131.2m.4-59.9V93.2m1.2-21.9V109.8m.4-38.5V125m.4-53.7V88.5m1.9-17.2V78.2m3.5-6.9V111m.4-39.7V86.2m1.6-14.9V90.8m.4-19.5V90.1m.8-18.8V97.8m.8-26.5V82.1m.4-10.8V107.6m.3-36.3V77.3m1.2-6V82.3m.4-11V89.9m2.7-18.6V94.4m.4-23.1V88.1m.8-16.8V97.4m4.7-26.1V109.5m1.6-38.2V145.3m1.5-74V89.2m.4-17.9V85.6m.4-14.3V84.6m.4-13.3V82.5m2.8-11.2V150.5m2.3-79.2V76.4m12.1-5.1V84.9m3.1-13.6V90m2-18.7V103.8m2.4-32.5V89.5m.7-18.2V84.5m.8-13.2V86.4m.4-15.1V124.1m.4-52.8V132.6m1.6-61.3V167.8m3.1-96.5V118.6m.4-47.3V98.8m.4-27.5V111.1m1.1-39.8V112.6m.4-41.3V79.3m.4-8V151.3m.4-80V81m2.4-9.7V103.8m.7-32.5V76.3m.4-5V86.2m.8-14.9V93.8m.4-22.5V109.2m.8-37.9V83.3m.8-12V79.8m1.2-8.5V79.1m1.1-7.8V94.4m.8-23.1V142.2m.4-70.9V86.8m.4-15.5V102.9m3.1-31.6V125.9m2.4-54.6V99.4m.7-28.1V154.2m.8-82.9V167m.4-95.7V107.8m.4-36.5V111.4m.8-40.1V77.9m.4-6.6V94m.4-22.7V99.4m.8-28.1V149.2m.3-77.9V74.7m1.2-3.4V74.9m.4-3.6V74.6m.8-3.3V86.4m.4-15.1V90.6m1.9-19.3V74.8m.8-3.5V104.2m.4-32.9V91.6m.8-20.3V97.3m.4-26V512.4m.4-441.1V247.6m.4-176.3V205.2m.4-133.9V74.5m.4-3.2V117.6m.3-46.3V111.2m.8-39.9V84.7m.4-13.4V103.8m.4-32.5V92.7m1.2-21.4V104.1m.8-32.8V89m1.1-17.7V101.9m.4-30.6V98.8m.8-27.5V104.4m2.7-33.1V86.1m1.6-14.8V81.5m.4-10.2V80.8m.8-9.5V103.4m2.7-32.1V106.4m2.4-35.1V115m5.1-43.7V104.4m.7-33.1V122.4m2-51.1V129.5m5.1-58.2V86.6m1.1-15.3V80.4m.8-9.1V112.5m2.8-41.2V82.6m.4-11.3V104.2m2.3-32.9V89.5m.4-18.2V184.8m.4-113.5V76.9m1.9-5.6V88.8m2-17.5V119.3m.4-48V77.8m.8-6.5V88.3m.4-17V105.6m1.9-34.3V120.9m.8-49.6V128.4m.4-57.1V78.9m1.2-7.6V149.9m.4-78.6V96.8m.3-25.5V75.5m.8-4.2V84.9m.8-13.6V85.1m3.5-13.8V93.8m.4-22.5V98.2m.8-26.9V88.8m.4-17.5V116.6m.8-45.3V103.9m.4-32.6V93.7m1.1-22.4V96.2m.4-24.9V156.3m.4-85V146.8m.4-75.5V92.5m.8-21.2V85.5m.4-14.2V80.2m.4-8.9V89.6m.4-18.3V75.3m.4-4V87m1.1-15.7V81.5m.8-10.2V128.1m1.6-56.8V357.2m.4-285.9V167.7m.8-96.4V114.2m.7-42.9V82.7m.8-11.4V77m2-5.7V203.5m3.1-132.2V76.9m2.7-5.6V86.1m.8-14.8V101m1.6-29.7V76.1m.8-4.8V109.7m10.1-38.4V99.3m2.4-28V80.6m6.6-9.3V124m3.9-52.7V137.6m.4-66.3V75.4m.4-4.1V86.2m3.2-14.9V164.5m.3-93.2V78.1m1.2-6.8V85.7m.4-14.4V78.3m1.2-7V116.3m1.2-45V79.9m.3-8.6V86.4m2-15.1V103.3m.4-32V216.5m.4-145.2V74.9m1.2-3.6V81.3m.7-10V88.1m.4-16.8V76.3m2-5V99.2m.4-27.9V77.4m.4-6.1V139.5m.4-68.2V77.4m.7-6.1V134.7m.4-63.4V83.2m1.2-11.9V118.7m.8-47.4V130.9m1.9-59.6V132.7m.4-61.4V99.4m1.2-28.1V141.9m.4-70.6V108.5m1.6-37.2V77.4m3.1-6.1V106.9m.4-35.6V80.7m.8-9.4V150.1m1.5-78.8V89.4m.4-18.1V77.4m.4-6.1V142.8m.4-71.5V222.7m.8-151.4V80.3m2.3-9V132.3m2-61V91.9m.4-20.6V89.1m1.2-17.8V97.3m.3-26V122.3m1.2-51V74.7m.4-3.4V91.6m1.2-20.3V129.8m1.9-58.5V81.4m.8-10.1V116.8m1.2-45.5V119.2m.8-47.9V81.7m1.1-10.4V107.8m2.8-36.5V106.2m9-34.9V139.7m12.5-68.4V98.7m1.2-27.4V86.4m1.5-15.1V87.5m1.2-16.2V98.4m1.6-27.1V113.6m1.1-42.3V116.6m3.2-45.3V87.5m1.1-16.2V98m.4-26.7V107m.4-35.7V123.5m.8-52.2V96.7m.4-25.4V342.1m1.2-270.8V301.3m.4-230V103.1m1.1-31.8V76m.4-4.7V102m1.2-30.7V86.2m.4-14.9V123.5m2.3-52.2V75.6m.8-4.3V105m.4-33.7V123.3m.4-52V75.6m.4-4.3V97.7m.4-26.4V98.7m.4-27.4V160.3m1.5-89V91.1m2-19.8V80.8m2-9.5V94.3m.7-23V100.4m.4-29.1V385.2m2.4-313.9V151.1m1.9-79.8V83.9m.8-12.6V133.9m.4-62.6V88.1m.8-16.8V172.2m.4-100.9V140m.8-68.7V93.9m.3-22.6V79.2m.4-7.9V146.7m.8-75.4V123.6m.8-52.3V85.8m1.6-14.5V88m1.9-16.7V78.3m.4-7V101.9m.4-30.6V92.8m.4-21.5V122.6m.4-51.3V118.6m3.5-47.3V96.2m.8-24.9V512.4m4.7-441.1V77.6m16.8-6.3V110.1m1.2-38.8V75.1m1.1-3.8V79.2m3.2-7.9V98.3m.8-27V76.6m.3-5.3V151.9m2-80.6V149.4m.8-78.1V90.6m1.2-19.3V107m1.1-35.7V80.7m.4-9.4V128.6m.4-57.3V104.6m.4-33.3V82.3m1.2-11V78.2m.4-6.9V99.2m.4-27.9V141.9m.3-70.6V114.8m.4-43.5V80.1m.4-8.8V74.3m.4-3V125m.8-53.7V131.6m.8-60.3V226.9m.4-155.6V78.4m.4-7.1V81.6m1.1-10.3V80.6m.8-9.3V84.7m.4-13.4V87.1m.4-15.8V83.3m2-12V134.4m1.9-63.1V138.1m2.4-66.8V123.2m.4-51.9V80m1.1-8.7V92.3m.4-21V86m3.1-14.7V81.8m1.6-10.5V110.7m1.6-39.4V132.2m.4-60.9V158.7m.8-87.4V105.1m.7-33.8V88.1m.4-16.8V185.3m.8-114V77.8m.4-6.5V79.6m.8-8.3V88.1m.4-16.8V97.5m.8-26.2V83.2m2.3-11.9V80.5m.8-9.2V79.1m1.5-7.8V114m1.2-42.7V159.4m.4-88.1V329.1m.8-257.8V77.6m.4-6.3V96.6m.8-25.3V79.9m23-8.6V91.1m.8-19.8V85.6m.8-14.3V79.1m.4-7.8V134.3m.4-63V76.1m.8-4.8V149.6m.4-78.3V89.3m.4-18V113.7m2.3-42.4V156.9m.8-85.6V227.4m1.5-156.1V79m.4-7.7V122.1m.8-50.8V99.5m2.8-28.2V95.7m.3-24.4V86m.4-14.7V112.4m.8-41.1V144.9m2-73.6V120.8m.8-49.5V111.3m.7-40V93.8m.4-22.5V83.6m.4-12.3V87.8m.4-16.5V76.2m.4-4.9V143.2m.4-71.9V103.1m1.2-31.8V111.6m1.1-40.3V112.5m2-41.2V82.8m.4-11.5V113.1m.4-41.8V77.8m1.2-6.5V309.3m1.1-238V102.4m.4-31.1V95.7m1.6-24.4V77.6m1.9-6.3V84.9m.4-13.6V177.5m.4-106.2V125.2m.4-53.9V118.7m.4-47.4V75.6m1.6-4.3V95.9m1.9-24.6V97.4m1.2-26.1V75.3m.8-4V136.3m.4-65V124.1m1.5-52.8V76.7m.4-5.4V150.6m1.2-79.3V128.6m2.7-57.3V79.7m.4-8.4V119m.4-47.7V179.9m1.6-108.6V77.4m5.1-6.1V75.5m.7-4.2V132.8m12.2-61.5V84.2m3.9-12.9V93.9m.4-22.6V82.1m.8-10.8V114.3m1.1-43V102.6m1.2-31.3V76.7m.4-5.4V87.6m1.6-16.3V88.2m1.1-16.9V97.2m.4-25.9V118.6m.8-47.3V75.8m1.2-4.5V91.6m1.9-20.3V74.9m.8-3.6V111.7m.4-40.4V82.4m4.3-11.1V137.2m.4-65.9V134.7m.4-63.4V104.9m1.6-33.6V238.6m.3-167.3V77.4m.4-6.1V81.7m.4-10.4V182.4m.4-111.1V75.7m.8-4.4V107.2m2.3-35.9V77.2m2-5.9V119.6m.8-48.3V74.4m2.3-3.1V89.2m1.2-17.9V90.7m1.2-19.4V75.3m1.1-4V433.1m1.6-361.8V78.9m2-7.6V99.4m1.1-28.1V192.9m1.2-121.6V130.4m.4-59.1V88.6m.8-17.3V102.2m.4-30.9V90.3m.4-19V86.8m.4-15.5V110.1m2.3-38.8V91.2m.4-19.9V111.6m2-40.3V134.8m1.9-63.5V83.1m.4-11.8V131.1m.4-59.8V77.1m1.2-5.8V120.4m1.9-49.1V144.5m3.1-73.2V88.7m.4-17.4V125.8m5.5-54.5V75.1m1.2-3.8V74.8m1.6-3.5V154.7m7-83.4V89.5m.8-18.2V139.4m3.9-68.1V98.7m.8-27.4V295.5m.4-224.2V84.1m.4-12.8V115.6m2.3-44.3V326.1m.4-254.8V77.7m.8-6.4V78.2m.4-6.9V81.2m2.7-9.9V77m.4-5.7V186m.8-114.7V78.8m.4-7.5V87m.4-15.7V122.4m.3-51.1V89.5m1.6-18.2V114.5m1.2-43.2V126.3m.4-55V122.7m.4-51.4V199.3m.4-128V84.4m.3-13.1V95.5m1.2-24.2V195.6m.8-124.3V157.8m1.6-86.5V84.6m.4-13.3V99.9m.7-28.6V145m.4-73.7V80.1m.4-8.8V80.7m.8-9.4V117.2m.4-45.9V78.1m.4-6.8V81.9m.8-10.6V84m.8-12.7V89.4m.7-18.1V91.5m.4-20.2V164.7m.4-93.4V78.2m1.2-6.9V157.4m.4-86.1V77.2m.8-5.9V105.1m.4-33.8V90.5m.7-19.2V109.1m1.2-37.8V117.2m.4-45.9V124.5m.4-53.2V121.6m1.2-50.3V79.9m.4-8.6V105.8m.3-34.5V76.5m.4-5.2V99.8m.8-28.5V85.5m.4-14.2V99.6m.4-28.3V87.3m.4-16V171.8m.8-100.5V113.3m.8-42V229.3m.7-158V94.5m.8-23.2V186.5m.4-115.2V81.2m.8-9.9V85.6m.8-14.3V84.1m.8-12.8V76.1m.3-4.8V83.4m1.6-12.1V92.9m.4-21.6V75.3m.4-4V105m.8-33.7V94m.8-22.7V134.6m1.1-63.3V103.6m.8-32.3V81m2.4-9.7V115.2m1.5-43.9V93.5m1.6-22.2V105.6m15.2-34.3V149.1m.4-77.8V126.3m3.6-55V124.3m1.1-53V91.2m.4-19.9V182.5m2-111.2V150.2m.8-78.9V92.1m.7-20.8V87.8m.8-16.5V93.5m.8-22.2V109.8m1.2-38.5V84.5m.4-13.2V123.4m.4-52.1V78.8m.3-7.5V105m.4-33.7V76.8m.8-5.5V82.8m.8-11.5V157.6m.8-86.3V111.3m1.6-40V158.6m.3-87.3V75.5m.4-4.2V84.2m1.2-12.9V89.5m.8-18.2V109.3m.4-38V116.5m.4-45.2V79.6m.8-8.3V277.4m.3-206.1V101.4m.4-30.1V94.6m1.6-23.3V206.3m1.2-135V101m1.9-29.7V110.2m.8-38.9V198m2-126.7V106.1m.7-34.8V92.1m.4-20.8V107.1m1.2-35.8V145.8m.4-74.5V101m.4-29.7V90.2m2-18.9V97.4m.7-26.1V98.2m.8-26.9V111.5m.8-40.2V100.5m.4-29.2V103.5m.4-32.2V96.3m1.2-25V76.3m.3-5V75.3m.8-4V97.4m.4-26.1V85.5m2-14.2V110.7m.4-39.4V137.9m1.1-66.6V165m.4-93.7V121.9m.4-50.6V89.8m1.2-18.5V84.2m2.3-12.9V83.7m.4-12.4V80m4.7-8.7V105.4m14.1-34.1V147m2-75.7V139.3m.3-68V251.4m4-180.1V84.1m.4-12.8V105.5m.3-34.2V78.1m.8-6.8V78.2m.4-6.9V101.1m.4-29.8V107m.4-35.7V83.1m.4-11.8V119.3m.4-48V80.3m.8-9V89.6m1.5-18.3V85.7m.4-14.4V124.8m1.2-53.5V109.6m.4-38.3V77.9m.4-6.6V90.3m.4-19V90.7m.4-19.4V158.6m.3-87.3V78.7m1.6-7.4V92.8m2.7-21.5V77.5m.4-6.2V137.2m2.8-65.9V187.2m.8-115.9V191.5m2.3-120.2V87.1m.8-15.8V78.6m1.2-7.3V83.9m1.1-12.6V110.9m.4-39.6V77.9m.4-6.6V89.5m.4-18.2V152.4m2.4-81.1V80.2m.3-8.9V133.4m.4-62.1V88.6m.8-17.3V214.7m.4-143.4V160m3.1-88.7V111.6m.8-40.3V76.6m1.2-5.3V77.9m.4-6.6V81.9m.4-10.6V77.7m1.9-6.4V97.7m1.2-26.4V138.5m.4-67.2V100.2m.4-28.9V126m1.2-54.7V119.1m.7-47.8V122.4m1.6-51.1V75.6m2-4.3V94.3m.4-23V169.2m.3-97.9V82.7m3.6-11.4V135.4m1.1-64.1V146.2m.4-74.9V83.2m2.4-11.9V133m1.5-61.7V187m.4-115.7V80.5" stroke="#0000ff" stroke-opacity="0.62" stroke-width="3" fill="none"/>
<path d="M172.9 71.3V89.2m1.2-17.9V122.4m2.3-51.1V107.5m1.2-36.2V149.4m.8-78.1V74.5m.4-3.2V79.1m.7-7.8V75.2m.4-3.9V81m.8-9.7V86.6m.4-15.3V77.6m.4-6.3V101.2m1.2-29.9V82.5m.8-11.2V76.3m.3-5V125.7m.4-54.4V87.4m3.6-16.1V110.2m.3-38.9V218.5m.4-147.2V96.8m.4-25.5V123.1m.8-51.8V155.8m.4-84.5V96.2m.4-24.9V78.9m.4-7.6V89.6m1.2-18.3V128.8m.7-57.5V84.3m3.2-13V87.7m.4-16.4V77.6m.7-6.3V80m3.2-8.7V97.5m.4-26.2V176.9m2.3-105.6V77.3m1.6-6V93.8m3.9-22.5V119.4m.8-48.1V76.3m.7-5V95.4m1.6-24.1V89.5m1.6-18.2V98.1m.4-26.8V78.2m.4-6.9V118.2m.3-46.9V119.9m.8-48.6V222.3m3.6-151V76.5m1.5-5.2V80m3.1-8.7V113.8m3.2-42.5V109.5m1.1-38.2V80.4m1.6-9.1V98.5m2.4-27.2V76m7-4.7V83.3m.4-12V75.2m4.7-3.9V80.2m1.2-8.9V88.2m4.3-16.9V84m3.9-12.7V82.2m.4-10.9V217.8m.7-146.5V90.7m1.2-19.4V82.8m.4-11.5V77.1m2-5.8V85.4m.4-14.1V175.5m.3-104.2V84.8m.4-13.5V84.7m.4-13.4V85.4m1.6-14.1V209.6m.4-138.3V99.5m.8-28.2V77.9m.4-6.6V204.9m.3-133.6V87.5m2.8-16.2V104.6m1.2-33.3V81.8m.3-10.5V75.2m1.2-3.9V90.6m3.5-19.3V93.2m.8-21.9V110.3m.4-39V210.2m.8-138.9V80.9m.4-9.6V100.1m.4-28.8V92.9m.4-21.6V122.3m1.5-51V129.5m1.6-58.2V117.6m.4-46.3V101.1m.8-29.8V93.5m1.9-22.2V88.3m1.2-17V86.7m.4-15.4V82.8m.4-11.5V182.9m.4-111.6V84.3m.4-13V168.7m.7-97.4V105.6m.4-34.3V80.2m.4-8.9V129.5m.4-58.2V87m.8-15.7V98.3m.4-27V125.9m.4-54.6V94.2m.8-22.9V77.6m.4-6.3V102.8m.3-31.5V130.5m.4-59.2V102.1m1.2-30.8V159.4m2.4-88.1V98.1m.3-26.8V87.2m.8-15.9V79.9m.4-8.6V101.6m7.1-30.3V76.9m12.9-5.6V76m7-4.7V85.4m.8-14.1V103.3m.8-32V123.4m1.9-52.1V147.6m1.2-76.3V122.9m.4-51.6V155.2m.4-83.9V109.9m.4-38.6V90.6m.4-19.3V101.1m.7-29.8V86.6m1.6-15.3V75.9m.4-4.6V140.8m1.6-69.5V99m.7-27.7V78m.8-6.7V76.6m.4-5.3V74.6m.4-3.3V96.4m.4-25.1V77.5m.8-6.2V82.3m1.6-11V76.3m1.9-5V87.8m1.2-16.5V99.6m.8-28.3V165.7m1.1-94.4V95.1m.4-23.8V91.6m.4-20.3V151.1m.4-79.8V179.8m.4-108.5V83.9m.4-12.6V112.5m1.6-41.2V92.4m.3-21.1V159.9m.4-88.6V90m.4-18.7V88.2m1.2-16.9V78.9m3.1-7.6V101.5m.8-30.2V99.7m.8-28.4V126.6m1.2-55.3V192.6m1.5-121.3V125.1m1.6-53.8V130.3m.4-59V99.2m.4-27.9V132.3m.8-61V85.5m.4-14.2V111.1m.3-39.8V77.8m.4-6.5V265.4m.8-194.1V160.2m.4-88.9V81.8m.8-10.5V94.4m1.2-23.1V83.3m1.5-12V87m.8-15.7V133m.8-61.7V100.6m1.9-29.3V102m.8-30.7V94.2m1.2-22.9V91.8m2.7-20.5V153.5m3.6-82.2V133.7m2.3-62.4V106.1m2-34.8V217.1m3.9-145.8V144.7m2.3-73.4V117.8m1.2-46.5V78.4m1.6-7.1V75m2.7-3.7V93.6m2.7-22.3V91.5m.4-20.2V86m.4-14.7V103.6m.4-32.3V74.3m.4-3V78.2m1.6-6.9V107.4m.7-36.1V74.4m1.2-3.1V78.3m.4-7V191.9m1.6-120.6V78.6m.4-7.3V77.7m.7-6.4V84.3m1.6-13V108.8m.4-37.5V110.5m.4-39.2V121.2m.8-49.9V95.4m.4-24.1V81m2.3-9.7V79.7m2.7-8.4V93.7m.8-22.4V110.6m.4-39.3V106.5m1.6-35.2V88.4m.8-17.1V75.9m.4-4.6V132.4m1.1-61.1V84.3m1.2-13V87.2m.4-15.9V106.4m2.3-35.1V113.6m.4-42.3V80.8m.8-9.5V175.2m.4-103.9V89.6m1.2-18.3V120m.8-48.7V79.7m1.1-8.4V85.5m.4-14.2V148.1m1.2-76.8V78.6m.4-7.3V76.6m1.2-5.3V109.7m1.9-38.4V106m2-34.7V92m.4-20.7V77.2m.4-5.9V104.8m3.9-33.5V204.8m.4-133.5V105.4m.4-34.1V103.4m.3-32.1V113.9m4.3-42.6V78.5m2-7.2V76m3.1-4.7V81.4m8.6-10.1V94.4m.8-23.1V130m3.1-58.7V82.2m2.4-10.9V90.9m.8-19.6V79.7m2.3-8.4V119.9m3.5-48.6V77.9m.8-6.6V97.8m1.2-26.5V77.4m.4-6.1V75.6m1.2-4.3V89.3m.3-18V78.2m2-6.9V76.7m.8-5.4V174.8m1.2-103.5V91.2m1.1-19.9V81m.4-9.7V213.1m2.4-141.8V136.6m.8-65.3V79.8m1.1-8.5V130.8m1.2-59.5V126.5m.8-55.2V88.9m.4-17.6V83.5m.4-12.2V107.2m.7-35.9V115.4m.4-44.1V149.3m2-78V106.3m1.2-35V318.4m3.9-247.1V76.8m.4-5.5V109m.4-37.7V512.4m.7-441.1V182.5m.4-111.2V100.6m.4-29.3V112.8m.4-41.5V80.1m.8-8.8V77.7m.4-6.4V102.5m.4-31.2V129.1m.4-57.8V123.4m.4-52.1V141.4m2.7-70.1V90.4m1.2-19.1V79m.4-7.7V119.8m1.9-48.5V119.9m2-48.6V116.1m.4-44.8V83.3m.4-12V80.9m.3-9.6V75.8m.4-4.5V83.1m.4-11.8V78.2m1.6-6.9V74.6m2.3-3.3V139.7m15.7-68.4V102.5m2.3-31.2V106.2m.4-34.9V98.3m.4-27V92.2m1.2-20.9V83.6m1.5-12.3V128m.8-56.7V108.1m.8-36.8V101.2m1.2-29.9V89.3m1.6-18V90.6m.3-19.3V105.4m1.6-34.1V118.4m.4-47.1V81.6m.4-10.3V103.6m.4-32.3V117.2m1.2-45.9V109.9m1.9-38.6V104.9m.4-33.6V95.9m.4-24.6V80.5m.4-9.2V82.1m.8-10.8V80.4m.4-9.1V123.2m1.9-51.9V100.7m.8-29.4V122.9m.4-51.6V98.4m.4-27.1V77.9m.4-6.6V108.1m.4-36.8V110.1m.3-38.8V142.9m3.6-71.6V140.4m.8-69.1V97.5m.3-26.2V88.8m.4-17.5V86.2m.8-14.9V121.6m1.2-50.3V78.5m1.2-7.2V81.8m.7-10.5V95.8m.4-24.5V75.5m.4-4.2V78.4m.8-7.1V86.2m.4-14.9V112.3m.4-41V133.9m1.2-62.6V112.1m.4-40.8V192.3m.3-121V92m.4-20.7V102.7m.4-31.4V183.8m.4-112.5V76.3m.4-5V105.7m1.2-34.4V140m.8-68.7V79.8m1.1-8.5V180.8m.4-109.5V85.9m.4-14.6V108.8m.4-37.5V129m1.2-57.7V173.5m.8-102.2V92.7m.4-21.4V104.5m.7-33.2V116.5m.8-45.2V106.7m.4-35.4V114.8m.4-43.5V117.3m.8-46V109.9m.8-38.6V101.3m1.5-30V80.7m3.2-9.4V115.3m1.9-44V156m2-84.7V119m17.6-47.7V120.7m1.5-49.4V87.4m2-16.1V93.7m3.5-22.4V118.4m1.2-47.1V187.7m2.7-116.4V144.4m.4-73.1V95.4m.4-24.1V80.8m.4-9.5V75.9m2.7-4.6V81.7m.4-10.4V131.8m.8-60.5V79.9m2-8.6V90.7m.7-19.4V79.8m.4-8.5V90.9m1.2-19.6V100.8m1.2-29.5V147.9m1.9-76.6V139.1m.4-67.8V180.8m.8-109.5V97.7m1.2-26.4V90.4m2.7-19.1V98.6m2.4-27.3V86.8m1.1-15.5V76.9m2.4-5.6V100.1m.8-28.8V84.4m1.1-13.1V96.7m4.3-25.4V391.1m3.6-319.8V85.4m1.5-14.1V115.2m2-43.9V85.1m.4-13.8V100.7m.4-29.4V109m4.3-37.7V140.3m1.1-69V95.7m14.9-24.4V81.7m.4-10.4V79.4m2.7-8.1V91.6m.4-20.3V134.8m2-63.5V121.4m.4-50.1V114.7m.4-43.4V102.9m2.3-31.6V117.5m.4-46.2V104.4m.4-33.1V92.1m.4-20.8V78.8m1.2-7.5V138m1.9-66.7V113.2m1.2-41.9V74.4m2.7-3.1V95m1.2-23.7V141.3m1.2-70V95.4m.4-24.1V155.6m1.1-84.3V74.7m1.2-3.4V104.3m.4-33V95.7m.4-24.4V112.9m.4-41.6V78.4m.8-7.1V123.3m.7-52V88.7m.4-17.4V76.5m1.2-5.2V108.6m2.7-37.3V80.9m2-9.6V114.8m.8-43.5V97.8m1.5-26.5V78.5m.4-7.2V99.8m.4-28.5V74.9m.8-3.6V89.5m1.6-18.2V82.4m1.9-11.1V79.1m1.6-7.8V111m.4-39.7V77.9m3.5-6.6V76.9m.4-5.6V94.6m.8-23.3V114.7m3.1-43.4V169.5m3.5-98.2V92.9m.4-21.6V112.8m1.2-41.5V81m1.9-9.7V77.3m1.6-6V130.1m.8-58.8V101.5m6.2-30.2V110.1m6.7-38.8V84.4m1.6-13.1V74.3m1.5-3V116.9m3.5-45.6V135.9m.8-64.6V86.6m1.2-15.3V101.8m2.3-30.5V100.8m.8-29.5V121.6m.8-50.3V82.7m.8-11.4V100.2m.4-28.9V79.3m.8-8V77.9m.8-6.6V130.6m.3-59.3V87.4m1.6-16.1V77.8m.4-6.5V112.6m.8-41.3V82.8m.4-11.5V82.9m.4-11.6V82.9m.4-11.6V91.8m.3-20.5V105.1m1.2-33.8V90.5m.4-19.2V197.8m1.2-126.5V80m.4-8.7V144.3m.4-73V117.4m1.9-46.1V78.2m.4-6.9V90.7m1.6-19.4V102.9m.4-31.6V80.1m.4-8.8V77.8m.3-6.5V107.9m1.2-36.6V83.9m1.2-12.6V97.9m.4-26.6V86.6m.4-15.3V79.7m.4-8.4V76m.4-4.7V169.7m.7-98.4V137m.4-65.7V97.9m1.6-26.6V79.6m1.2-8.3V194.7m1.5-123.4V241.5m.4-170.2V109.4m.8-38.1V84m2-12.7V97.6m.4-26.3V76.8m.3-5.5V94.9m.4-23.6V93.9m1.2-22.6V165.4m.4-94.1V86m.4-14.7V78m.4-6.7V142.7m.4-71.4V114.4m1.1-43.1V78.1m1.2-6.8V106.6m.8-35.3V106.9m.4-35.6V212.1m.4-140.8V184.9m2.3-113.6V74.6m.4-3.3V130.6m.4-59.3V96.9m.8-25.6V78.9m4.7-7.6V112.8m6.6-41.5V108.7m6.3-37.4V105.4m2.3-34.1V133.7m.8-62.4V165.2m2.4-93.9V100.4m.4-29.1V78.7m.7-7.4V76m.4-4.7V117m1.6-45.7V86m1.6-14.7V89.2m.4-17.9V79.4m.3-8.1V107.7m.4-36.4V86.1m.4-14.8V86.4m2-15.1V132.9m.4-61.6V80.9m.8-9.6V88.9m.3-17.6V258.1m1.6-186.8V145.2m.4-73.9V149.9m1.2-78.6V111m1.1-39.7V141.8m.4-70.5V86.1m1.6-14.8V91.2m1.2-19.9V80.6m.4-9.3V91.2m.8-19.9V77.2m.3-5.9V76.2m.8-4.9V80m1.6-8.7V149.2m.4-77.9V114.8m.8-43.5V76.9m.4-5.6V123m3.1-51.7V108.5m.4-37.2V118.3m1.5-47V130m.4-58.7V159.4m.8-88.1V126.3m1.2-55V143.4m1.2-72.1V86.8m3.9-15.5V105.7m.4-34.4V94.9m1.1-23.6V169.5m.8-98.2V75.1m1.2-3.8V88.5m1.6-17.2V112m.3-40.7V86.3m2-15V209.9m.4-138.6V95m.8-23.7V84.2m1.1-12.9V111.3m.8-40V141.8m1.2-70.5V86.9m.4-15.6V107.7m.4-36.4V100.4m.4-29.1V109.7m1.1-38.4V210.5m.8-139.2V466.9m.8-395.6V111.9m1.2-40.6V87.7m1.2-16.4V107m.3-35.7V223.1m14.1-151.8V108.7m4.3-37.4V82.8m.4-11.5V98.7m.8-27.4V87.4m.4-16.1V104.6m.8-33.3V93.4m.4-22.1V127m2.7-55.7V100.9m.4-29.6V118.1m.4-46.8V118.5m.8-47.2V110.2m.8-38.9V77.7m.7-6.4V212.7m.4-141.4V87.9m4.7-16.6V82.6m.8-11.3V125.6m1.6-54.3V83.6m.4-12.3V86.9m.7-15.6V86.7m.4-15.4V77.3m.8-6V102.6m.4-31.3V90.7m.4-19.4V97.5m1.6-26.2V97.1m.3-25.8V95.3m2-24V282.1m.4-210.8V81.5m.8-10.2V90.7m1.5-19.4V143.9m.8-72.6V111.8m.8-40.5V92.1m.4-20.8V144.7m.4-73.4V144.3m.4-73V90.6m.4-19.3V122.4m.4-51.1V216.7m.4-145.4V84.4m.3-13.1V119.1m.4-47.8V94.9m.4-23.6V88.4m1.6-17.1V89.6m.4-18.3V92.3m.8-21V76.8m2.3-5.5V99.1m.8-27.8V88.3m.4-17V79.6m.8-8.3V218.7m1.5-147.4V111m.4-39.7V108.2m1.6-36.9V83.6m.8-12.3V77.4m5.1-6.1V102.3m1.5-31V103.6m1.2-32.3V108.4m7.8-37.1V128.8m2-57.5V74.6m10.9-3.3V78m2.4-6.7V107.8m1.1-36.5V104.4m2-33.1V131m1.9-59.7V89.5m.8-18.2V114.1m.4-42.8V95.7m2.4-24.4V225.2m.7-153.9V103m.8-31.7V94.7m1.6-23.4V122.7m1.2-51.4V83.3m1.1-12V114.7m.4-43.4V93.6m.4-22.3V77m.4-5.7V170m.8-98.7V87.7m.4-16.4V253.8m3.5-182.5V84.5m2-13.2V154.9m.7-83.6V161.4m.8-90.1V85.3m.4-14V121.8m2.8-50.5V89.5m.7-18.2V426.3m1.2-355V81.6m1.2-10.3V157.4m.4-86.1V82.4m1.5-11.1V129.4m.4-58.1V87.6m2.4-16.3V90.7m1.2-19.4V109.3m.3-38V87.9m.4-16.6V79.7m.4-8.4V96.8m.4-25.5V118.6m1.6-47.3V138.8m.8-67.5V109m.4-37.7V78.1m1.1-6.8V83.8m2-12.5V118.1m.8-46.8V78.8m.4-7.5V75m.7-3.7V88.2m.8-16.9V96.8m4.7-25.5V106.4m.8-35.1V106.1m1.9-34.8V76m5.5-4.7V76.8m5.5-5.5V232.7m1.6-161.4V75.8m1.9-4.5V86.5m.4-15.2V83.5m1.6-12.2V129.8m.4-58.5V85m.4-13.7V108.9m.3-37.6V86.1m1.6-14.8V120.5m.4-49.2V106.9m.4-35.6V76.1m.4-4.8V151.7m.4-80.4V98.9m1.5-27.6V83.8m.4-12.5V90.5m.4-19.2V90.1m.4-18.8V157.1m.8-85.8V84.3m.4-13V112.4m3.5-41.1V76.5m.4-5.2V116.8m.4-45.5V207.6m.8-136.3V200.5m.8-129.2V243.3m.3-172V83.3m1.2-12V108.2m.4-36.9V83.7m1.2-12.4V87.6m1.5-16.3V117.9m.4-46.6V142m1.6-70.7V94.5m.4-23.2V79.6m.4-8.3V95.9m1.5-24.6V89.7m1.2-18.4V125.4m.4-54.1V192.8m3.5-121.5V98.8m.8-27.5V115.3m.4-44V82.5m.4-11.2V86m.4-14.7V76.7m1.2-5.4V161.2m.4-89.9V112.2m.3-40.9V101.5m.4-30.2V108.9m.4-37.6V110m.4-38.7V105.6m.8-34.3V107.3m1.6-36V91m.7-19.7V148.2m.8-76.9V110.1m.4-38.8V82.7m.8-11.4V97.1m.8-25.8V98.7m.8-27.4V102.1m.7-30.8V75.9m.4-4.6V156m.4-84.7V140.6m.4-69.3V87.4m.8-16.1V176.4m.4-105.1V106.8m.8-35.5V75.6m.4-4.3V170.1m.4-98.8V117.5m2.7-46.2V77.8m.8-6.5V112m4.7-40.7V85.1m4.7-13.8V80.6m.7-9.3V91.4m2.4-20.1V77.1m5.5-5.8V113.9m.4-42.6V89.4m.4-18.1V88.2m4.3-16.9V83m.3-11.7V76.5m.4-5.2V82.2m.4-10.9V132m.8-60.7V179.3m1.2-108V86.4m1.9-15.1V83.3m2.4-12V81.4m.4-10.1V132.8m.4-61.5V79m.7-7.7V88.5m.8-17.2V133.5m2-62.2V100.7m1.2-29.4V78.3m.3-7V120.8m.4-49.5V76m2-4.7V85.1m.4-13.8V92.8m2.3-21.5V99.5m.4-28.2V94.8m.4-23.5V79.4m2-8.1V142.1m.4-70.8V77.5m.4-6.2V111.1m.3-39.8V87.2m.8-15.9V92.3m.4-21V98m2-26.7V105.6m.4-34.3V90.4m.4-19.1V78.4m1.1-7.1V121.5m2-50.2V116.8m.8-45.5V83m.4-11.7V79.6m1.1-8.3V109.2m1.6-37.9V78.6m.4-7.3V81m3.1-9.7V178.4m1.2-107.1V76.2m.8-4.9V88.3m.4-17V92.4m.4-21.1V79.5m.3-8.2V91.2m.4-19.9V77.9m2-6.6V125.3m.4-54V95.1m.8-23.8V191.1m1.1-119.8V88.4m.8-17.1V82.3m2-11V75.9m.4-4.6V88.9m1.9-17.6V79.2m21.1-7.9V88m.8-16.7V117.9m.4-46.6V80.8m2.4-9.5V121.8m.7-50.5V78.9m1.2-7.6V131.3m.8-60V84.3m1.2-13V131m.4-59.7V93.8m1.1-22.5V131.2m.4-59.9V76.5m1.2-5.2V117.8m.4-46.5V81.5m1.2-10.2V112.8m.7-41.5V127m.4-55.7V170.3m1.2-99V121.7m.4-50.4V90.8m.8-19.5V239.5m1.2-168.2V77.1m3.5-5.8V81m.4-9.7V90.7m.4-19.4V156.1m1.1-84.8V164.9m.8-93.6V120.9m1.2-49.6V142.4m.8-71.1V103.3m1.9-32V95.9m.8-24.6V87.2m1.6-15.9V84.9m.4-13.6V88.8m.4-17.5V133m1.1-61.7V90.2m.4-18.9V78.9m2-7.6V150.2m.4-78.9V94.7m1.1-23.4V81.9m.4-10.6V92m.4-20.7V167.4m.4-96.1V145.7m1.2-74.4V148.5m.4-77.2V80.1m.8-8.8V75.9m.3-4.6V83.1m3.2-11.8V124.9m.4-53.6V95.2m.4-23.9V236.4m.4-165.1V90.5m.3-19.2V85.7m3.6-14.4V102.1m1.9-30.8V129m6.7-57.7V80.6m4.3-9.3V76.2m8.2-4.9V77.4m3.5-6.1V75.5m.4-4.2V153.3m1.2-82V83.8m1.1-12.5V112m.4-40.7V99.9m.4-28.6V76.1m.4-4.8V181.3m.8-110V112.5m1.6-41.2V92.7m1.1-21.4V126.7m1.2-55.4V81.3m.4-10V81.3m.4-10V88.1m1.2-16.8V75.6m1.5-4.3V124.5m.8-53.2V91.5m.8-20.2V140.8m.4-69.5V211.6m1.5-140.3V76.4m.4-5.1V83.9m1.2-12.6V113m.8-41.7V77.2m.4-5.9V144m.8-72.7V93.8m1.5-22.5V80.3m1.2-9V123.6m.4-52.3V82m1.2-10.7V81.8m.4-10.5V102.1m.3-30.8V76.4m1.6-5.1V82.6m.4-11.3V97.7m.4-26.4V89.5m.4-18.2V124.4m1.2-53.1V96.9m1.5-25.6V91.4m.4-20.1V97.3m.8-26V183.3m1.2-112V86.9m.4-15.6V80.6m.4-9.3V92m.7-20.7V277.8m.8-206.5V161.1m1.6-89.8V228.8m.4-157.5V82.2m.4-10.9V107.2m.4-35.9V100.3m1.5-29V160.7m.4-89.4V168.1m1.2-96.8V75.3m.4-4V103.1m3.9-31.8V197.9m1.2-126.6V78.1m.7-6.8V98.5m.4-27.2V131.2m.4-59.9V85.5m.4-14.2V86.6m2.4-15.3V77.5m.7-6.2V95.9m1.2-24.6V86.4m.4-15.1V79.7m2.7-8.4V78.5m8.6-7.2V142.1m6.7-70.8V78.8m.4-7.5V131.4m.4-60.1V93.7m.8-22.4V108m.4-36.7V75.1m.3-3.8V104.8m.4-33.5V85.8m2.8-14.5V512.4m.8-441.1V106.5m.3-35.2V77.6m2-6.3V81.6m.8-10.3V86.1m.4-14.8V136.7m.4-65.4V100.6m.4-29.3V99.3m2.3-28V196m.4-124.7V93.7m.4-22.4V82.9m1.2-11.6V128.8m.7-57.5V90.5m.4-19.2V79.7m1.2-8.4V82.5m2-11.2V112.2m1.1-40.9V81m2-9.7V74.9m.8-3.6V116.3m1.1-45V186.7m1.6-115.4V102.3m.4-31V74.8m1.2-3.5V371.1m2.3-299.8V84.3m.4-13V103.4m.8-32.1V99.4m.4-28.1V135.7m1.5-64.4V87.5m.8-16.2V89.1m.4-17.8V85.7m1.2-14.4V88.4m.8-17.1V85.5m.4-14.2V267.8m.4-196.5V106.8m.3-35.5V99.3m.8-28V76.8m1.2-5.5V146.9m.8-75.6V143.9m.8-72.6V172.4m1.1-101.1V300.6m.4-229.3V168.7m.4-97.4V89.1m.8-17.8V252.8m.4-181.5V82.1m2-10.8V75.6m.3-4.3V76.2m1.2-4.9V82.2m.4-10.9V75.8m2.7-4.5V115.2m9-43.9V210.9m.8-139.6V97m2.8-25.7V79.2m3.9-7.9V99.5m1.9-28.2V92.1m1.6-20.8V114.8m.8-43.5V90.5m2.3-19.2V80.6m2.4-9.3V91.9m.7-20.6V86m.4-14.7V161.9m.4-90.6V85m1.6-13.7V96.7m.4-25.4V84m.4-12.7V77.5m.4-6.2V95.9m2.3-24.6V79.7m1.6-8.4V99.3m.8-28V105.2m1.1-33.9V77.8m.4-6.5V99.2m.8-27.9V152.9m.4-81.6V79.6m.4-8.3V78m.8-6.7V119m1.1-47.7V76m.4-4.7V103m.8-31.7V82.3m1.2-11V104.3m.8-33V110.5m.8-39.2V121.1m.3-49.8V105.8m.4-34.5V98.2m.4-26.9V98m.4-26.7V122.1m.8-50.8V122.6m1.2-51.3V74.4m2.3-3.1V74.4m.8-3.1V186.6m.4-115.3V84.5m.4-13.2V78.6m2.3-7.3V74.5m.4-3.2V90.8m.8-19.5V84.1m.4-12.8V117.6m2-46.3V113.7m.7-42.4V87.7m.4-16.4V88.6m.4-17.3V80m2.8-8.7V122.7m.7-51.4V110.4m3.9-39.1V75.7m3.6-4.4V90.8m.4-19.5V84.5m.3-13.2V77m2.8-5.7V79.7m1.9-8.4V96.4m3.2-25.1V154" stroke="#0000ff" stroke-opacity="0.62" stroke-width="3" fill="none"/>
<path d="M176.6 71.3V96.9m.8-25.6V129.7m.2-58.4V148.2m.6-76.9V152.7m.2-81.4V74.5m.2-3.2V93.8m.2-22.5V158.4m.2-87.1V75.8m.2-4.5V157m.1-85.7V78.7m.2-7.4V105m.2-33.7V199m.2-127.7V90.3m.2-19V94m.6-22.7V81.3m.4-10V93.9m.2-22.6V144m.2-72.7V119.5m.2-48.2V97.4m.2-26.1V86.1m.8-14.8V80.5m.2-9.2V194.2m.6-122.9V145.9m.3-74.6V126.1m.4-54.8V88.2m.2-16.9V78.5m.2-7.2V513.2m.6-441.9V83.5m.4-12.2V92.1m.2-20.8V513.2m.2-441.9V513.2m.6-441.9V179m.2-107.7V513.2m.2-441.9V196.9m.8-125.6V102.2m.2-30.9V115.2m.1-43.9V178.1m.2-106.8V86.3m.2-15V90.3m.2-19V76.8m.4-5.5V80.1m1-8.8V86.2m.4-14.9V77m.4-5.7V308.5m.6-237.2V112.9m.2-41.6V251.4m.2-180.1V143.9m.2-72.6V112.3m.2-41V115.2m.5-43.9V513.2m.2-441.9V80.1m.6-8.8V127.9m.4-56.6V92.3m.6-21V79.2m.4-7.9V150.4m.2-79.1V77.8m1-6.5V86.3m.4-15V100.8m.5-29.5V80.1m.6-8.8V75.2m.2-3.9V81.3m.2-10V79.8m.4-8.5V92.2m1.2-20.9V82.4m.4-11.1V124.3m.2-53V98.1m.6-26.8V78.3m1.5-7V163.8m.2-92.5V112m.4-40.7V143.8m.2-72.5V208.4m.4-137.1V152.7m1.4-81.4V292.9m.6-221.6V164.9m.3-93.6V513.2m.2-441.9V513.2m1-441.9V513.2m.4-441.9V513.2m.4-441.9V96.1m.6-24.8V513.2m.4-441.9V122.6m.2-51.3V255.7m.4-184.4V131.5m.2-60.2V205.8m.3-134.5V96.6m1-25.3V78.4m.6-7.1V189.8m.2-118.5V126.5m1.2-55.2V86.5m.2-15.2V88.6m.2-17.3V76m.6-4.7V99.2m1.1-27.9V211.6m.4-140.3V191.7m.2-120.4V172.6m.8-101.3V92.1m.4-20.8V513.2m.4-441.9V123.8m.4-52.5V513.2m.4-441.9V317.7m.6-246.4V75.3m1.3-4V106.2m.2-34.9V120.6m.8-49.3V96.3m1-25V81.3m.8-10V97.5m.3-26.2V112.4m.2-41.1V102.4m.2-31.1V92.3m24.7-21V81.1m1.2-9.8V82.2m.3-10.9V110.5m.8-39.2V111.4m.4-40.1V137.3m.8-66V130.4m.4-59.1V100.2m.2-28.9V90m.4-18.7V91.9m.4-20.6V97.7m.4-26.4V198.2m.7-126.9V90.3m.6-19V166.3m.2-95V100.1m.4-28.8V185.4m.4-114.1V76.4m.2-5.1V122.8m.4-51.5V94.8m.4-23.5V74.8m1-3.5V84.4m.2-13.1V82.9m.2-11.6V154m.1-82.7V87m.2-15.7V85.8m.2-14.5V99.4m.2-28.1V513.2m.2-441.9V88.7m.2-17.4V513.2m.4-441.9V86.5m.6-15.2V121.7m.2-50.4V513.2m.2-441.9V301.9m.4-230.6V100.7m.2-29.4V101.3m.4-30V513.2m.2-441.9V513.2m.2-441.9V513.2m.4-441.9V513.2m.1-441.9V94.7m.2-23.4V89.2m.8-17.9V75.4m.2-4.1V84.8m.8-13.5V83.3m1-12V99.9m.8-28.6V91.9m.4-20.6V81.1m.2-9.8V513.2m.1-441.9V193.1m.2-121.8V78.5m.2-7.2V513.2m.2-441.9V513.2m.4-441.9V513.2m.2-441.9V86.6m.4-15.3V274.9m.8-203.6V100.1m.2-28.8V74.5m.2-3.2V513.2m.2-441.9V76.9m.2-5.6V105.7m.2-34.4V169.4m1.1-98.1V79.1m.2-7.8V83.5m.2-12.2V77.8m.6-6.5V99.5m.2-28.2V145m.2-73.7V181.1m.2-109.8V89.7m.2-18.4V89.6m.4-18.3V80.6m.4-9.3V88.1m.2-16.8V134.1m.2-62.8V87.7m.6-16.4V179.6m.4-108.3V78.7m.3-7.4V178.1m.4-106.8V134.5m.2-63.2V114.8m.4-43.5V194.1m.6-122.8V91.9m.6-20.6V88.4m.4-17.1V186.3m.2-115V98m.4-26.7V102.7m.4-31.4V81.9m.6-10.6V96.9m.3-25.6V132.6m.2-61.3V112.9m.8-41.6V239.3m1-168V148.7m.4-77.4V101.8m.2-30.5V150.7m.6-79.4V80.6m.6-9.3V78.4m.5-7.1V105.5m.4-34.2V177.9m.2-106.6V122.2m.2-50.9V167.2m.2-95.9V100.3m.2-29V84.9m.2-13.6V110.5m.6-39.2V89.8m.4-18.5V105.4m.8-34.1V100.6m.4-29.3V83.1m.2-11.8V78.2m.2-6.9V105.5m.9-34.2V113.9m.6-42.6V99.1m.4-27.8V135.9m1.8-64.6V81.4m.4-10.1V155.3m.2-84V87.9m.2-16.6V78m.1-6.7V81.8m.4-10.5V86.9m.4-15.6V77.3m.4-6V94.9m.4-23.6V93.3m.4-22V200m24.8-128.7V122.5m.4-51.2V96.7m1-25.4V83.5m.2-12.2V132.1m.4-60.8V93m.2-21.7V99.9m.2-28.6V83.6m.2-12.3V86.7m.8-15.4V109.6m.2-38.3V269m.2-197.7V100.6m.1-29.3V83.3m.2-12V86.3m.2-15V83.7m.4-12.4V112.8m.2-41.5V124.4m1.2-53.1V113.4m.2-42.1V310.5m.2-239.2V191.3m.4-120V326.9m.2-255.6V80.1m.2-8.8V84.2m.4-12.9V317.3m.2-246V276.4m.5-205.1V99.8m.2-28.5V126.6m.2-55.3V513.2m.2-441.9V513.2m.4-441.9V91.3m.2-20V513.2m.2-441.9V109m.6-37.7V409.3m.6-338V513.2m.8-441.9V513.2m.2-441.9V84.8m.2-13.5V83m.4-11.7V181.4m.1-110.1V76.7m.2-5.4V110.1m.4-38.8V82.3m.2-11V513.2m.4-441.9V193.6m.2-122.3V268.9m.2-197.6V136.1m1.2-64.8V81.7m.2-10.4V513.2m.2-441.9V113.8m.2-42.5V143.5m.4-72.2V79.4m.2-8.1V93.1m.2-21.8V212.8m.2-141.5V76.3m.1-5V249.8m.8-178.5V82.5m.8-11.2V291.1m.2-219.8V86.6m.2-15.3V118.5m.8-47.2V79.4m.2-8.1V87.7m.4-16.4V245.1m.6-173.8V77.3m.3-6V88.9m.2-17.6V210.1m.2-138.8V77.7m.2-6.4V80.7m.2-9.4V90.9m.2-19.6V89.8m.2-18.5V156.5m.2-85.2V147m.4-75.7V186.4m.4-115.1V84.2m.4-12.9V93.3m.8-22V92.1m.2-20.8V513.2m.4-441.9V164.3m.2-93V513.2m.3-441.9V513.2m.4-441.9V86.8m.2-15.5V513.2m.2-441.9V81.9m.2-10.6V85.1m.4-13.8V133.6m.4-62.3V96.3m.4-25V74.7m.2-3.4V211.7m.2-140.4V138.9m.4-67.6V199.1m.4-127.8V110.7m.4-39.4V81m.2-9.7V138.4m.2-67.1V310.4m.3-239.1V96m.2-24.7V83.8m1.2-12.5V113.3m.2-42V96.5m.6-25.2V129m.2-57.7V161.6m2.5-90.3V160.4m.6-89.1V116.9m.8-45.6V513.2m.2-441.9V126.4m.2-55.1V513.2m.2-441.9V513.2m.2-441.9V513.2m.2-441.9V137.6m.6-66.3V82.5m.2-11.2V85.2m.7-13.9V77.7m.4-6.4V93.7m.8-22.4V122.9m.4-51.6V82.2m.6-10.9V76.6m.2-5.3V89.1m.4-17.8V272.5m.4-201.2V77.8m.4-6.5V83.8m.5-12.5V82.4m.2-11.1V137.2m.2-65.9V114.6m.6-43.3V82.6m.8-11.3V125m.2-53.7V154.2m.6-82.9V99.1m25.6-27.8V236.4m1.2-165.1V86.8m2.1-15.5V86.7m.2-15.4V102.8m.2-31.5V82.7m.2-11.4V125.5m.2-54.2V143.6m.2-72.3V88.6m.4-17.3V194m1.8-122.7V91.9m.9-20.6V120.8m.4-49.5V218.9m.4-147.6V160.4m.2-89.1V77.5m.6-6.2V513.2m.4-441.9V107.9m.2-36.6V139.9m.2-68.6V131.4m.4-60.1V513.2m.2-441.9V77.9m.2-6.6V513.2m.4-441.9V513.2m.2-441.9V111.1m.7-39.8V513.2m.2-441.9V75.4m.4-4.1V88.8m.2-17.5V513.2m.4-441.9V111.3m.4-40V117.6m.2-46.3V513.2m.2-441.9V115.1m.2-43.8V513.2m.2-441.9V513.2m.2-441.9V513.2m.2-441.9V513.2m.4-441.9V173.3m.2-102V513.2m.4-441.9V179m.1-107.7V513.2m.2-441.9V80.3m.2-9V513.2m.2-441.9V513.2m.6-441.9V280.3m.2-209V513.2m.2-441.9V78m.2-6.7V513.2m1-441.9V324.7m.4-253.4V513.2m.2-441.9V99.4m.9-28.1V95.6m.2-24.3V163.1m.4-91.8V110.2m.2-38.9V96m.2-24.7V513.2m.2-441.9V96.3m1-25V86.4m.4-15.1V513.2m.2-441.9V513.2m.2-441.9V343.2m.4-271.9V250m.2-178.7V513.2m.2-441.9V282.2m.2-210.9V513.2m.2-441.9V77.8m.3-6.5V112.8m.2-41.5V76.3m.6-5V307.3m.4-236V161.1m.4-89.8V513.2m.2-441.9V83.9m.2-12.6V86.4m.2-15.1V104m.4-32.7V166.7m.2-95.4V77.5m.2-6.2V118.5m.4-47.2V96.5m.9-25.2V513.2m.2-441.9V104m1-32.7V136.2m.2-64.9V513.2m.4-441.9V93.7m.2-22.4V76.6m.2-5.3V199.8m.2-128.5V87.4m1-16.1V113m.4-41.7V77m.2-5.7V110.4m.2-39.1V90.8m.1-19.5V80.7m.6-9.4V83.5m.4-12.2V138.5m.2-67.2V87.9m.6-16.6V113.9m.2-42.6V116m.2-44.7V77.7m.4-6.4V76.6m.4-5.3V89.8m.2-18.5V135.5m.2-64.2V80.6m.4-9.3V93.5m.4-22.2V94.5m.2-23.2V79.7m.3-8.4V96.4m.4-25.1V86.2m.6-14.9V98m.2-26.7V74.8m.6-3.5V130.8m.2-59.5V122.1m.6-50.8V128.5m.2-57.2V178.2m.2-106.9V92.8m.2-21.5V232.9m.2-161.6V76.3m.4-5V80.8m1.3-9.5V150.6m1.2-79.3V109.1m1-37.8V98m.4-26.7V170.4m.4-99.1V131.7m.4-60.4V99.9m24.4-28.6V104.2m.2-32.9V82.2m.2-10.9V121.6m.6-50.3V78.7m.4-7.4V239.6m.5-168.3V94.3m.4-23V75.6m.6-4.3V78.8m.2-7.5V106.3m.6-35V94.2m.8-22.9V74.8m.4-3.5V164.3m.2-93V140.1m.2-68.8V87.5m.2-16.2V131.1m.4-59.8V107.2m.5-35.9V97.1m.2-25.8V83.2m.2-11.9V190m.2-118.7V152.5m.2-81.2V105.3m.6-34V77.2m.2-5.9V167.5m.2-96.2V83.3m.4-12V79.6m.2-8.3V77m.4-5.7V75.7m.4-4.4V114.6m.8-43.3V132m.2-60.7V115.9m.1-44.6V78.1m.4-6.8V95.3m.2-24V85m.6-13.7V186.6m.8-115.3V75.3m.8-4V142.1m.2-70.8V171.9m.4-100.6V74.7m.2-3.4V130.5m.2-59.2V86.8m.4-15.5V74.9m.5-3.6V127.1m.2-55.8V89m.4-17.7V172.9m.2-101.6V159.8m.2-88.5V172.2m.2-100.9V133.2m.2-61.9V79.8m.2-8.5V92.4m.2-21.1V108.3m.4-37V155.7m.6-84.4V222.6m.2-151.3V139.8m.2-68.5V513.2m.2-441.9V304.3m.6-233V176.6m.1-105.3V513.2m.2-441.9V110.7m.8-39.4V118m.2-46.7V228.7m.4-157.4V75.1m.4-3.8V513.2m.2-441.9V513.2m.2-441.9V101.7m.4-30.4V273.3m.2-202V89.3m.2-18V231.7m.2-160.4V78.5m.2-7.2V101m.8-29.7V94.3m.1-23V101.7m.2-30.4V134.2m.2-62.9V150.4m.6-79.1V513.2m.8-441.9V513.2m.2-441.9V310.4m.2-239.1V97.8m.2-26.5V513.2m.2-441.9V513.2m.8-441.9V74.7m.2-3.4V310.5m.4-239.2V513.2m.2-441.9V158.4m.1-87.1V289.2m.2-217.9V513.2m.2-441.9V513.2m.2-441.9V268.2m.4-196.9V112.6m1-41.3V513.2m.2-441.9V148.7m.2-77.4V169.2m.2-97.9V120m.4-48.7V75.9m.2-4.6V84m.2-12.7V105.2m.2-33.9V513.2m.2-441.9V513.2m.2-441.9V513.2m.2-441.9V513.2m.3-441.9V513.2m.2-441.9V155.7m.2-84.4V98.7m.2-27.4V113.6m.4-42.3V108.1m.4-36.8V228.4m.2-157.1V98.4m.6-27.1V283.7m.6-212.4V319.5m.2-248.2V119.3m.8-48V109.2m.2-37.9V135.7m.3-64.4V513.2m.2-441.9V130.2m1-58.9V174.5m.4-103.2V159m.2-87.7V75.8m.2-4.5V248.9m.2-177.6V89.2m.2-17.9V77.7m.4-6.4V81.7m.6-10.4V255m.4-183.7V97.7m.2-26.4V80.2m.7-8.9V146.1m.8-74.8V151.3m.2-80V115.1m1-43.8V109.1m.2-37.8V125.1m.6-53.8V190m.2-118.7V112.6m.2-41.3V131.5m.2-60.2V83.1m.4-11.8V107.5m.3-36.2V76m25.5-4.7V163.9m.6-92.6V86m.1-14.7V111.5m.8-40.2V130m.2-58.7V103.9m.4-32.6V76.5m.2-5.2V90.7m.2-19.4V159.7m.2-88.4V122.5m.2-51.2V201.8m.2-130.5V107.4m.4-36.1V102.4m1-31.1V97.3m.6-26V89.8m.3-18.5V108.5m.2-37.2V83.8m.8-12.5V130m.4-58.7V230.1m.2-158.8V140.2m.2-68.9V81.2m.2-9.9V186.8m.4-115.5V105.1m.2-33.8V81.9m.4-10.6V186.4m.8-115.1V150.9m.5-79.6V114m.2-42.7V162.3m.2-91V173.6m.6-102.3V97.5m.4-26.2V81.4m.2-10.1V100.3m1.6-29V108.5m.6-37.2V153.7m.2-82.4V215.2m.2-143.9V170m.5-98.7V111.7m.2-40.4V79.4m.4-8.1V79.6m.2-8.3V94m.4-22.7V264.9m.2-193.6V513.2m.4-441.9V97.2m.2-25.9V513.2m.2-441.9V513.2m.2-441.9V513.2m.2-441.9V90.1m.2-18.8V513.2m.2-441.9V513.2m.2-441.9V106.6m.2-35.3V110m.2-38.7V103.5m.2-32.2V513.2m.1-441.9V138.1m1-66.8V190.2m.6-118.9V220.1m.2-148.8V86.8m.6-15.5V513.2m.4-441.9V513.2m.2-441.9V513.2m.2-441.9V513.2m.2-441.9V513.2m.4-441.9V513.2m.2-441.9V186.5m.2-115.2V102.1m.3-30.8V78m.2-6.7V85.3m.2-14V513.2m.2-441.9V286.5m.6-215.2V163.9m.2-92.6V104.7m.2-33.4V83.4m.2-12.1V211.4m.6-140.1V513.2m.2-441.9V513.2m.4-441.9V513.2m.2-441.9V162.4m.2-91.1V75.8m.2-4.5V81.1m.2-9.8V78.7m.4-7.4V513.2m.1-441.9V98.9m.4-27.6V113m.2-41.7V513.2m1.2-441.9V513.2m.2-441.9V145.6m.2-74.3V278.8m.2-207.5V80.5m.2-9.2V513.2m.2-441.9V75.8m.4-4.5V98.2m.4-26.9V128.5m.2-57.2V109.8m.5-38.5V348.2m.4-276.9V84.2m.2-12.9V100m.4-28.7V147.6m.4-76.3V83.7m.4-12.4V103.4m.2-32.1V367.5m.4-296.2V90.8m.2-19.5V109.9m.4-38.6V111.8m.6-40.5V147.8m.2-76.5V110.6m.2-39.3V76.6m.2-5.3V85.9m.5-14.6V100.9m.2-29.6V78.1m.4-6.8V119m.2-47.7V115.6m.2-44.3V95.3m.2-24V82.2m.2-10.9V127m.2-55.7V75.9m.2-4.6V122.1m.6-50.8V163.9m.2-92.6V162.5m.4-91.2V360.4m.4-289.1V87.3m.4-16V100.8m.2-29.5V91.8m.3-20.5V80.9m.2-9.6V161.6m.8-90.3V104.7m.2-33.4V146.8m.2-75.5V110.3m.6-39V88.8m.4-17.5V92.4m.4-21.1V87.7m.4-16.4V111.8m.2-40.5V93.2m.2-21.9V235.9m.2-164.6V113m.4-41.7V79.7m.1-8.4V104.1m.4-32.8V108.8m.2-37.5V81.1m.2-9.8V96.1m.2-24.8V84.1m.6-12.8V88.1m.4-16.8V189.7m.2-118.4V91.3m.2-20V142.3m24.4-71V83.6m1.6-12.3V121m.4-49.7V92.1m.6-20.8V82m.2-10.7V127.3m.2-56V101.4m.2-30.1V108.1m1.1-36.8V96.9m1-25.6V90.7m.2-19.4V107.9m.2-36.6V110.6m1-39.3V167m.2-95.7V83.3m.8-12V513.2m.2-441.9V81.4m.5-10.1V513.2m.2-441.9V513.2m.2-441.9V183.1m.6-111.8V129.9m.2-58.6V99.5m.2-28.2V91.3m.2-20V138.6m.2-67.3V238.4m.4-167.1V513.2m.2-441.9V513.2m.2-441.9V216.9m.2-145.6V79m.4-7.7V117.1m.6-45.8V247.1m.4-175.8V74.9m.1-3.6V130m.4-58.7V155.4m.2-84.1V513.2m.2-441.9V124.6m.2-53.3V137.1m.8-65.8V513.2m.6-441.9V513.2m.6-441.9V245.9m.8-174.6V513.2m.2-441.9V137.8m.2-66.5V513.2m.1-441.9V85.9m.2-14.6V79.7m.4-8.4V95.7m.2-24.4V513.2m.4-441.9V513.2m.2-441.9V513.2m.4-441.9V236.9m.2-165.6V96.1m.2-24.8V107.9m.2-36.6V155m.2-83.7V513.2m.4-441.9V513.2m.2-441.9V105.1m.8-33.8V76.7m.2-5.4V146.5m.2-75.2V177.8m.1-106.5V513.2m.4-441.9V144.5m.2-73.2V143.4m.2-72.1V513.2m.2-441.9V193.9m.4-122.6V513.2m.2-441.9V513.2m.4-441.9V206.7m.6-135.4V98.8m.2-27.5V513.2m.2-441.9V513.2m.2-441.9V513.2m.2-441.9V231.7m.2-160.4V513.2m.2-441.9V97.3m.7-26V118.9m.4-47.6V74.4m.4-3.1V80m.2-8.7V86.2m.6-14.9V107.3m.4-36V80m.6-8.7V129.4m.8-58.1V86.2m.2-14.9V90.2m.4-18.9V176.6m.5-105.3V76.6m.4-5.3V102.1m.6-30.8V81.9m.4-10.6V78.5m1-7.2V99.9m.8-28.6V79.8m.2-8.5V101.7m.2-30.4V153.2m.2-81.9V77.1m.3-5.8V93.9m.2-22.6V86.2m.2-14.9V80.7m.4-9.4V160.2m.4-88.9V203.9m.4-132.6V98.4m.6-27.1V108.8m1.2-37.5V111.8m.2-40.5V140.4m.4-69.1V81.6m.2-10.3V105.6m.3-34.3V301.8m.6-230.5V102m.4-30.7V94.7m.6-23.4V87.5m1.8-16.2V81.9m1.1-10.6V121.6m.4-50.3V96.4m.2-25.1V99.1m.2-27.8V75.8m.2-4.5V139.8m1.4-68.5V119.6m.2-48.3V85m.4-13.7V95.9m.2-24.6V87.3m.2-16V93.7m24.4-22.4V100.4m.4-29.1V102.2m.4-30.9V108.7m.4-37.4V83.8m.2-12.5V115m.2-43.7V83.6m.4-12.3V96.9m.2-25.6V97.7m.2-26.4V125m.3-53.7V129.9m.4-58.6V96.2m.2-24.9V84.6m1-13.3V87m.8-15.7V83.5m.2-12.2V86.1m.2-14.8V97.6m.2-26.3V76.8m.2-5.5V131.2m.2-59.9V119.6m.2-48.3V97.5m.2-26.2V178.1m.4-106.8V98.6m.1-27.3V513.2m.6-441.9V169.2m.2-97.9V214.3m.4-143V76.5m.4-5.2V513.2m.4-441.9V320.1m.2-248.8V513.2m.2-441.9V513.2m.4-441.9V262.4m.2-191.1V145.5m.4-74.2V513.2m.2-441.9V211.7m.2-140.4V513.2m.2-441.9V132.5m.4-61.2V192.4m.1-121.1V513.2m.2-441.9V513.2m.6-441.9V513.2m.2-441.9V513.2m.2-441.9V513.2m.2-441.9V113.1m.2-41.8V513.2m.2-441.9V513.2m.2-441.9V196.6m.4-125.3V118.6m.2-47.3V113.8m.4-42.5V513.2m.6-441.9V76.6m.4-5.3V513.2m.9-441.9V87m.2-15.7V513.2m.2-441.9V166.6m.4-95.3V96.6m.2-25.3V270.5m.2-199.2V98.9m.2-27.6V513.2m.2-441.9V122.6m.2-51.3V88.7m.2-17.4V513.2m.2-441.9V301.5m.2-230.2V95.6m.2-24.3V513.2m.4-441.9V513.2m.4-441.9V513.2m.2-441.9V513.2m.2-441.9V513.2m.1-441.9V107.4m.2-36.1V513.2m.2-441.9V128.8m.2-57.5V75.4m.2-4.1V132.8m1-61.5V273.4m.6-202.1V513.2m.2-441.9V139m.2-67.7V110.8m.2-39.5V513.2m.2-441.9V85.7m.2-14.4V513.2m.4-441.9V513.2m.4-441.9V513.2m.1-441.9V105.1m.2-33.8V513.2m1.2-441.9V513.2m.4-441.9V513.2m.4-441.9V99.4m.2-28.1V513.2m.6-441.9V159.8m.8-88.5V513.2m.2-441.9V215.2m.5-143.9V183.2m.2-111.9V84.7m.2-13.4V92.9m.4-21.6V74.6m.6-3.3V158.3m.2-87V90.1m.2-18.8V179m.2-107.7V99.6m.2-28.3V129.5m.4-58.2V78.4m.4-7.1V97.5m.2-26.2V78.2m.6-6.9V78.4m.4-7.1V108.4m.1-37.1V169.9m.2-98.6V116.7m.6-45.4V79.5m.6-8.2V81.7m1-10.4V97m.8-25.7V87m1.5-15.7V75.7m.2-4.4V107.5m.6-36.2V129.2m.2-57.9V90.2m.2-18.9V120.2m.4-48.9V75.9m.4-4.6V92.7m.6-21.4V214.6m.2-143.3V115.2m.8-43.9V77.5m.2-6.2V135.5m1.5-64.2V97.9m.8-26.6V155.7m.8-84.4V101.6m.4-30.3V127.9m.2-56.6V118.9m.9-47.6V167.1m.4-95.8V90.4m24.9-19.1V117.3m1.1-46V100.2m.4-28.9V99.5m.2-28.2V80.7m.4-9.4V98.6m.4-27.3V83m.4-11.7V121.2m.2-49.9V92.5m.2-21.2V129m.2-57.7V190.2m.6-118.9V216.7m.8-145.4V126.4m.5-55.1V100.5m.8-29.2V99.1m.8-27.8V79.6m.4-8.3V78.6m.4-7.3V94.2m.2-22.9V111.3m.2-40V77m.2-5.7V265.8m.2-194.5V102.9m.2-31.6V107.2m.2-35.9V76.8m.2-5.5V100.7m.2-29.4V204.8m.2-133.5V81.8m.2-10.5V119.2m.1-47.9V98m.2-26.7V87.9m.2-16.6V154.7m.4-83.4V144.2m.2-72.9V129.8m.2-58.5V81.4m1.4-10.1V152.3m.2-81V159.6m.2-88.3V83.5m.4-12.2V87.3m.4-16V82.2m.2-10.9V248.7m.2-177.4V90.8m.1-19.5V157.5m.2-86.2V105.5m.2-34.2V84.4m.6-13.1V100m.4-28.7V84.2m.2-12.9V100.6m.2-29.3V152.6m.2-81.3V513.2m.4-441.9V84.6m.6-13.3V513.2m.4-441.9V118.9m.4-47.6V109.3m.2-38V513.2m.4-441.9V513.2m.5-441.9V513.2m.2-441.9V513.2m.4-441.9V87.7m.2-16.4V100.2m.2-28.9V513.2m.2-441.9V513.2m.2-441.9V140.4m.2-69.1V271.6m.2-200.3V87.3m.2-16V116.2m.2-44.9V135.5m.2-64.2V513.2m.2-441.9V513.2m.4-441.9V513.2m.2-441.9V98.6m.4-27.3V513.2m.3-441.9V172.5m.2-101.2V113.2m.2-41.9V258.7m.4-187.4V513.2m.2-441.9V513.2m.2-441.9V80.6m.2-9.3V513.2m.4-441.9V513.2m1-441.9V87.1m.4-15.8V78.6m.4-7.3V75.5m.2-4.2V212m.2-140.7V165.1m.2-93.8V513.2m.1-441.9V82.9m.2-11.6V155.7m.2-84.4V114.9m.4-43.6V91.5m.2-20.2V140m.4-68.7V513.2m.4-441.9V513.2m.6-441.9V80.2m.2-8.9V75.7m.4-4.4V85.9m.2-14.6V513.2m.4-441.9V196.4m.2-125.1V513.2m.2-441.9V513.2m.4-441.9V142.9m.7-71.6V208.6m.4-137.3V95.4m.2-24.1V83.1m.2-11.8V92.8m.4-21.5V134.4m.6-63.1V164m.4-92.7V96.4m.6-25.1V84m.4-12.7V104.5m.4-33.2V76.2m.1-4.9V101m.2-29.7V97.1m.4-25.8V84.9m.4-13.6V98.5m.2-27.2V98.5m.4-27.2V88.9m.2-17.6V83.6m.4-12.3V86.7m.4-15.4V74.5m.2-3.2V513.2m.2-441.9V132.6m.4-61.3V118.1m.2-46.8V216.6m.2-145.3V103.5m.4-32.2V105.7m.2-34.4V111.9m.1-40.6V78m.6-6.7V100.7m.4-29.4V80.5m.2-9.2V95m.2-23.7V272.1m.4-200.8V90.5m.2-19.2V85.4m.2-14.1V163.4m.2-92.1V146.1m.4-74.8V185.1m.8-113.8V144.2m.2-72.9V86.9m.7-15.6V84.2m.4-12.9V101.6m.6-30.3V134.8m.2-63.5V271.9m.2-200.6V87.7m.2-16.4V106.7m24.1-35.4V76m.2-4.7V210.3m.5-139V75.3m.6-4V101.3m.2-30V117.1m.8-45.8V81.5m.4-10.2V81.4m.2-10.1V101m.6-29.7V124.9m.2-53.6V80.9m.2-9.6V82.4m.2-11.1V82.7m.2-11.4V88.5m.4-17.2V79.6m.5-8.3V77m.4-5.7V116.6m.2-45.3V112m.6-40.7V90.5m.4-19.2V86.5m.4-15.2V151m.4-79.7V75.8m.2-4.5V134.9m1.2-63.6V89.1m.3-17.8V194.8m.2-123.5V137.9m1-66.6V117.7m.4-46.4V141.7m.4-70.4V140.8m.2-69.5V102.2m.4-30.9V139.6m.4-68.3V100.8m.4-29.5V87.3m.2-16V164.7m.2-93.4V142.9m.7-71.6V100.7m.2-29.4V84.3m.6-13V130.2m.2-58.9V93.6m.2-22.3V108.2m.2-36.9V78.5m.4-7.2V417.6m.4-346.3V107.3m.2-36V76.6m.6-5.3V77.5m.2-6.2V244.6m.4-173.3V144.3m.2-73V513.2m.2-441.9V513.2m.2-441.9V77.4m.1-6.1V119m.2-47.7V99.9m.2-28.6V165.3m.2-94V513.2m.2-441.9V82.6m.2-11.3V86.1m.6-14.8V513.2m.8-441.9V513.2m.6-441.9V118.9m.4-47.6V173m.6-101.7V87.6m.2-16.3V111.1m.3-39.8V80.5m.2-9.2V97.1m.2-25.8V132.1m.2-60.8V92.3m.4-21V97.6m.2-26.3V242m.2-170.7V77.3m.2-6V234.4m.2-163.1V89.6m.2-18.3V513.2m.2-441.9V112.2m.6-40.9V108.2m.2-36.9V101.3m.4-30V109.3m.2-38V513.2m.4-441.9V513.2m.3-441.9V513.2m.2-441.9V280.7m.2-209.4V103.6m.2-32.3V262.2m.4-190.9V142.7m.6-71.4V119.7m.2-48.4V77.6m.2-6.3V79.6m.2-8.3V85.8m.2-14.5V83.8m.4-12.5V155.7m.2-84.4V85.1m.2-13.8V141.4m.2-70.1V82m.6-10.7V86.8m.9-15.5V80.9m.8-9.6V107m.6-35.7V126.1m1-54.8V317.9m.4-246.6V156.7m.2-85.4V190.5m.4-119.2V90.4m.2-19.1V102.9m.7-31.6V93.9m.4-22.6V78.5m.4-7.2V75.7m1-4.4V114m1.6-42.7V112.1m.2-40.8V96.8m.2-25.5V105.2m.3-33.9V83.8m.6-12.5V115.7m.2-44.4V199.1m.6-127.8V210.9m.4-139.6V76.7m.2-5.4V180.6m.4-109.3V90.3m.8-19V83.7m1.1-12.4V107.4m.2-36.1V83.2m.6-11.9V137.2m.2-65.9V110.2m.2-38.9V237.9m.8-166.6V83m.2-11.7V113.5m.4-42.2V76.3m.2-5V95.9m24-24.6V75.6m.2-4.3V146.5m.2-75.2V154.1m1.4-82.8V100.9m.2-29.6V81m1-9.7V121.6m.6-50.3V158.1m.1-86.8V513.2m.2-441.9V84.5m.2-13.2V82.2m.2-10.9V513.2m.2-441.9V513.2m.6-441.9V80.6m.2-9.3V513.2m.2-441.9V89.6m.2-18.3V96.4m.2-25.1V104m.2-32.7V513.2m.2-441.9V189.1m.2-117.8V266.7m.2-195.4V187.5m.4-116.2V93.9m.2-22.6V150.4m.2-79.1V115.9m.2-44.6V513.2m.2-441.9V513.2m.2-441.9V77.7m.7-6.4V210.4m.2-139.1V287.3m.2-216V253.5m.6-182.2V513.2m.4-441.9V98.4m.4-27.1V193.2m.4-121.9V74.7m.2-3.4V268.2m.8-196.9V99.9m.2-28.6V513.2m.2-441.9V178.6m.3-107.3V513.2m.2-441.9V123.6m.4-52.3V75.3m.6-4V513.2m.2-441.9V130m.2-58.7V214.4m.4-143.1V107.7m.4-36.4V78.9m.2-7.6V97.7m.4-26.4V513.2m.4-441.9V257.2m.2-185.9V128.3m.9-57V123.6m.2-52.3V513.2m.2-441.9V282.8m.2-211.5V76.4m.2-5.1V233.3m.4-162V89.5m.2-18.2V98.2m.2-26.9V105.6m.2-34.3V172.5m.2-101.2V93.9m.2-22.6V87.3m.4-16V513.2m.4-441.9V237.6m.4-166.3V258.6m.4-187.3V85.3m.3-14V513.2m.2-441.9V513.2m1-441.9V513.2m.2-441.9V77.7m.4-6.4V133.7m.2-62.4V274.8m.2-203.5V215.6m.6-144.3V98m.2-26.7V513.2m.2-441.9V108.9m.2-37.6V172.5m.4-101.2V76.7m.5-5.4V513.2m.4-441.9V128.3m.2-57V513.2m.2-441.9V513.2m.4-441.9V111.2m.2-39.9V513.2m.4-441.9V513.2m.4-441.9V513.2m.2-441.9V148.3m.6-77V513.2m.2-441.9V513.2m.2-441.9V100.6m.2-29.3V109.1m.2-37.8V124.5m.2-53.2V154.5m.4-83.2V80.4m.3-9.1V120m.2-48.7V513.2m.2-441.9V301.7m.2-230.4V88.3m.4-17V513.2m.2-441.9V513.2m.2-441.9V513.2m.2-441.9V142.3m.8-71V513.2m.2-441.9V513.2m.2-441.9V84m.8-12.7V75.9m.2-4.6V88.2m.3-16.9V237.8m.2-166.5V513.2m.2-441.9V210.5m.8-139.2V513.2m.6-441.9V90.7m.2-19.4V92.6m.2-21.3V129m.4-57.7V82.8m.2-11.5V98.8m.2-27.5V513.2m1.4-441.9V127.1m.3-55.8V111.2m.6-39.9V110.9m.4-39.6V95m.6-23.7V91.5m1-20.2V78.6m.2-7.3V104.3m.4-33V89.8m.2-18.5V161m.4-89.7V232.3m.3-161V83.3m.4-12V87.6m.2-16.3V130m.8-58.7V113.7m1.2-42.4V117m.2-45.7V225m.6-153.7V79.5m.2-8.2V201.4m.8-130.1V96.6m24.4-25.3V89.5m.8-18.2V138.3m.2-67V125.4m.2-54.1V84m.4-12.7V147.4m.3-76.1V109.2m.6-37.9V94.6m.2-23.3V87.1m1-15.8V90.1m.2-18.8V105.5m1.6-34.2V114.4m.6-43.1V79.2m.5-7.9V98.6m1.8-27.3V513.2m.2-441.9V81m.2-9.7V236.8m1-165.5V513.2m.2-441.9V217.8m.2-146.5V513.2m.2-441.9V513.2m.2-441.9V177.6m.1-106.3V97.3m.2-26V153.2m.4-81.9V513.2m.2-441.9V86.8m.2-15.5V513.2m.4-441.9V92m.4-20.7V124.1m.4-52.8V322.2m.2-250.9V133.4m.4-62.1V513.2m.6-441.9V224.8m.2-153.5V95.1m.4-23.8V109m.3-37.7V513.2m.4-441.9V102.6m.2-31.3V75.3m.2-4V140.7m.2-69.4V93.3m.2-22V77.1m.4-5.8V157.7m.2-86.4V207.2m.2-135.9V513.2m.2-441.9V300.1m.4-228.8V513.2m.2-441.9V276.5m.6-205.2V513.2m.4-441.9V513.2m1.1-441.9V182.4m.6-111.1V128.7m.2-57.4V92.2m.4-20.9V108.9m.2-37.6V85.1m.2-13.8V74.7m.2-3.4V153.4m.2-82.1V513.2m.2-441.9V513.2m.2-441.9V91.2m.4-19.9V123.8m.2-52.5V160.2m.8-88.9V107.5m.5-36.2V92m.6-20.7V87.3m.2-16V513.2m.2-441.9V97.6m.4-26.3V81.8m.2-10.5V280.9m.4-209.6V80.6m.4-9.3V513.2m.2-441.9V125.5m.6-54.2V97.3m.4-26V185.6m.2-114.3V132.8m.2-61.5V291m.1-219.7V513.2m.2-441.9V513.2m.2-441.9V513.2m.2-441.9V513.2m.4-441.9V323.8m.4-252.5V135.7m1-64.4V513.2m.2-441.9V513.2m.2-441.9V118.6m.4-47.3V80m.2-8.7V312.2m1.1-240.9V122.7m.2-51.4V122.3m.2-51V513.2m.2-441.9V513.2m.2-441.9V165.8m.6-94.5V139.7m.2-68.4V513.2m.2-441.9V314.2m.8-242.9V82.2m.2-10.9V140.5m.2-69.2V86.2m.2-14.9V126.5m.2-55.2V513.2m.2-441.9V100m.2-28.7V223.5m.2-152.2V513.2m.3-441.9V78.6m.2-7.3V81.9m.2-10.6V124.3m.2-53V76.8m.4-5.5V97.2m.2-25.9V101.5m.2-30.2V114.8m.6-43.5V135m.8-63.7V106.4m.2-35.1V111.7m.6-40.4V86.6m.2-15.3V108m.4-36.7V77.4m.3-6.1V203.9m.8-132.6V78.7m.2-7.4V76.1m.8-4.8V86.2m.8-14.9V107.3m.2-36V98.6m.2-27.3V100.3m.4-29V75.2m.2-3.9V79m.4-7.7V74.7m.7-3.4V85.1m.4-13.8V92.5m24.3-21.2V115m.4-43.7V80.9m.6-9.6V99.5m.3-28.2V79.7m.2-8.4V116.8m.2-45.5V138.7m.2-67.4V101.7m.4-30.4V125.1m.4-53.8V130.3m.4-59V94.9m.2-23.6V127.9m.2-56.6V75.7m.2-4.4V77.3m.2-6V144.4m.6-73.1V99.4m.4-28.1V128.2m.4-56.9V75.9m.3-4.6V119.4m.6-48.1V88.9m.2-17.6V121.2m.2-49.9V142.4m.4-71.1V118.6m.6-47.3V133.2m.2-61.9V163.2m.2-91.9V231m.4-159.7V513.2m.4-441.9V513.2m.2-441.9V104.9m.4-33.6V179.5m.2-108.2V165.1m.9-93.8V513.2m.2-441.9V78.7m.4-7.4V513.2m.4-441.9V513.2m.2-441.9V213.5m.2-142.2V81.3m.2-10V99.7m.2-28.4V513.2m.2-441.9V190.7m.4-119.4V155m.2-83.7V513.2m.2-441.9V171m.2-99.7V183.8m.4-112.5V513.2m.2-441.9V165.9m.1-94.6V107m.2-35.7V513.2m.6-441.9V513.2m.2-441.9V219.6m.2-148.3V110.1m.2-38.8V233.3m.2-162V263.5m.2-192.2V258.9m.4-187.6V157.2m.2-85.9V324.5m.2-253.2V138.5m.2-67.2V204.1m.2-132.8V87.4m.2-16.1V230.4m.2-159.1V513.2m.2-441.9V116.5m.2-45.2V109.6m.4-38.3V513.2m.2-441.9V513.2m.1-441.9V513.2m.2-441.9V513.2m.2-441.9V306.2m.4-234.9V513.2m.2-441.9V513.2m.2-441.9V513.2m.2-441.9V513.2m.4-441.9V84.1m.6-12.8V102.6m.8-31.3V513.2m.2-441.9V89.5m.4-18.2V513.2m.4-441.9V95.1m.1-23.8V117.7m.2-46.4V199m1-127.7V103m.4-31.7V513.2m1-441.9V78.6m.4-7.3V513.2m.2-441.9V513.2m.2-441.9V78.2m.2-6.9V313m.2-241.7V157m.2-85.7V513.2m.2-441.9V79m.2-7.7V273.8m.3-202.5V513.2m.4-441.9V88.3m.2-17V181.2m.2-109.9V176.5m.2-105.2V83.5m.2-12.2V107.8m.4-36.5V81.4m.4-10.1V84.3m.4-13V171m.2-99.7V513.2m.2-441.9V105.7m.2-34.4V513.2m.4-441.9V94.8m.2-23.5V160.6m.2-89.3V126.2m.2-54.9V109.6m.1-38.3V80.1m.2-8.8V101.9m.4-30.6V101.2m.2-29.9V103.8m.4-32.5V347.6m.2-276.3V95.5m.2-24.2V112.8m.2-41.5V110.6m.4-39.3V103.8m.2-32.5V85m1.2-13.7V128.8m.2-57.5V168.5m.2-97.2V129.2m.4-57.9V103.8m.1-32.5V87.8m.6-16.5V104.7m.2-33.4V101.8m.2-30.5V157.1m.2-85.8V75.2m.2-3.9V149m.2-77.7V156.4m.2-85.1V76.7m.2-5.4V93.6m.8-22.3V112.9m.2-41.6V85.1m.4-13.8V95.5m.2-24.2V89m.6-17.7V84.2m.1-12.9V75.4m.6-4.1V125.9m.2-54.6V136.8m.4-65.5V117.2m.2-45.9V196.9m.6-125.6V144.5m.2-73.2V80.4m.2-9.1V120.1m.2-48.8V123.3m.2-52V92m.2-20.7V220.5m.2-149.2V74.5m.8-3.2V118m.4-46.7V92.7m.5-21.4V105.1m1.2-33.8V221.4m.6-150.1V213.5m24.6-142.2V78.3m.2-7V89.1m.2-17.8V133.3m.2-62V92.8m.2-21.5V162.9m.4-91.6V144.4m.2-73.1V79.3m.2-8V162.3m.2-91V99.9m.4-28.6V80.8m.2-9.5V81m.6-9.7V125.2m.2-53.9V163.1m.4-91.8V128.9m.2-57.6V513.2m.1-441.9V513.2m.4-441.9V81.7m.4-10.4V513.2m.6-441.9V95.3m.4-24V513.2m.4-441.9V136.4m.6-65.1V513.2m.2-441.9V513.2m.2-441.9V513.2m.2-441.9V513.2m.8-441.9V111.9m.1-40.6V513.2m.4-441.9V270.1m.2-198.8V123.2m.2-51.9V513.2m.2-441.9V265.8m.4-194.5V87.4m.2-16.1V98.4m.6-27.1V117.7m.6-46.4V97.7m.4-26.4V513.2m.6-441.9V92.8m.2-21.5V513.2m.2-441.9V244.9m.3-173.6V513.2m.2-441.9V513.2m.2-441.9V234.1m.6-162.8V160.1m.2-88.8V513.2m1-441.9V84.6m.6-13.3V513.2m.2-441.9V89m.2-17.7V104.9m.2-33.6V513.2m.6-441.9V513.2m.2-441.9V169.7m.1-98.4V261.1m.2-189.8V513.2m.2-441.9V94.6m.2-23.3V75.5m.2-4.2V513.2m.2-441.9V238.8m.2-167.5V186.2m.2-114.9V267.4m.2-196.1V76.2m.2-4.9V204.7m.2-133.4V111.9m.4-40.6V144.2m.4-72.9V93.3m.2-22V89.3m.2-18V161m.2-89.7V112.9m.2-41.6V513.2m.2-441.9V76.3m.4-5V101.3m.3-30V81.4m.2-10.1V251.4m.6-180.1V84.4m.2-13.1V186.7m.2-115.4V204m.2-132.7V513.2m.4-441.9V145.5m.2-74.2V253m.2-181.7V82.9m.2-11.6V513.2m.4-441.9V513.2m.2-441.9V81.6m.2-10.3V101.8m.2-30.5V118.7m.2-47.4V81.9m.4-10.6V513.2m.2-441.9V331m.1-259.7V224.2m.2-152.9V246.4m.6-175.1V78.6m.2-7.3V95.9m.4-24.6V513.2m.2-441.9V513.2m.2-441.9V80.7m.2-9.4V513.2m.2-441.9V513.2m.4-441.9V288.6m.2-217.3V108.8m.2-37.5V76.3m.2-5V513.2m.2-441.9V513.2m.4-441.9V179.4m.2-108.1V83.8m.3-12.5V319.4m.2-248.1V78.4m.2-7.1V77m.2-5.7V81.9m.2-10.6V107.4m.2-36.1V181.6m.2-110.3V513.2m.2-441.9V300.2m1-228.9V513.2m.2-441.9V91.6m.6-20.3V513.2m.2-441.9V74.6m.4-3.3V513.2m.2-441.9V513.2m.2-441.9V513.2m.3-441.9V513.2m.4-441.9V177.2m.2-105.9V513.2m.2-441.9V112.3m.2-41V112.7m.2-41.4V101.7m.2-30.4V513.2m.8-441.9V74.8m.2-3.5V74.6m.8-3.3V136.8m.2-65.5V83.1m.6-11.8V98.2m.2-26.9V108.1m.1-36.8V113.5m.2-42.2V90.4m.4-19.1V78.2m.6-6.9V158m.6-86.7V162.9m.4-91.6V75.4m.8-4.1V92.2m.2-20.9V238.4m.6-167.1V183.4m1.1-112.1V84.7m.6-13.4V117.1m.2-45.8V178.4m.2-107.1V184.6m.2-113.3V132.7m.4-61.4V140.3m.2-69V174.7m1-103.4V75.5m24.4-4.2V81.2m.2-9.9V110m.6-38.7V75.6m.4-4.3V87.2m1.2-15.9V104m.2-32.7V117.2m1.3-45.9V86.4m.4-15.1V142.8m.2-71.5V121.4m.8-50.1V82.7m1-11.4V87.2m.2-15.9V125m.4-53.7V86.5m1.1-15.2V123.1m.2-51.8V170.5m.2-99.2V141m.6-69.7V223.1m.4-151.8V79.4m1.2-8.1V79.7m.2-8.4V74.8m.4-3.5V113.8m.7-42.5V121.4m.4-50.1V156.3m.8-85V100.1m.4-28.8V100.6m.2-29.3V80.2m.4-8.9V107.1m.4-35.8V100.6m1.9-29.3V76.9m.4-5.6V109.4m.4-38.1V177.3m.4-106V74.7m.2-3.4V99.8m.6-28.5V90.3m1.4-19V84m.4-12.7V121.3m.2-50V82.1m.3-10.8V77m.6-5.7V325.4m.6-254.1V214.6m.2-143.3V119.7m.6-48.4V195.9m.6-124.6V96.1m.4-24.8V108.8m.2-37.5V513.2m.2-441.9V513.2m.4-441.9V196.7m.4-125.4V513.2m.9-441.9V81.3m1-10V513.2m.2-441.9V513.2m.4-441.9V86.6m.2-15.3V208.5m.4-137.2V89.2m.2-17.9V513.2m.2-441.9V85.4m.2-14.1V144.8m.2-73.5V513.2m.4-441.9V177.8m.7-106.5V121.9m.4-50.6V87.1m.2-15.8V269.4m.4-198.1V171.6m.2-100.3V290.5m.6-219.2V162.1m.2-90.8V188m.2-116.7V131.8m.4-60.5V513.2m.6-441.9V96.2m.2-24.9V513.2m.2-441.9V513.2m.2-441.9V513.2m.3-441.9V513.2m.2-441.9V80.3m.4-9V513.2m.2-441.9V513.2m.2-441.9V139.3m.2-68V224.8m.2-153.5V140.8m.2-69.5V89m.6-17.7V110.2m.2-38.9V100.2m.2-28.9V141.1m.2-69.8V87.4m.2-16.1V78.9m.2-7.6V81.7m.4-10.4V161.2m.4-89.9V96.8m.1-25.5V79m.8-7.7V86.1m.2-14.8V104.3m.6-33V75.7m.2-4.4V87.8m.4-16.5V98.3m.6-27V95.1m.4-23.8V199.9m.8-128.6V216.3m.4-145V86.8m.1-15.5V140.9m.2-69.6V119m1-47.7V260.6m.2-189.3V90.7m.2-19.4V83.4m.4-12.1V122.4m.2-51.1V79.9m.2-8.6V76.8m1-5.5V487.7m.2-416.4V106m.2-34.7V85.5m.9-14.2V93.7m24.3-22.4V87.5m.2-16.2V234.6m.8-163.3V82.8m.4-11.5V102m.7-30.7V111.3m.2-40V98.7m.2-27.4V98.9m.4-27.6V75.9m.4-4.6V157.1m.2-85.8V180.1m.4-108.8V268.5m.4-197.2V75.7m1.2-4.4V81.1m.2-9.8V87.1m.2-15.8V203.9m.1-132.6V196.1m.8-124.8V130.2m.6-58.9V110.5m.4-39.2V513.2m.2-441.9V513.2m.2-441.9V306.9m.2-235.6V160.8m.2-89.5V195.4m.2-124.1V513.2m.2-441.9V513.2m.2-441.9V513.2m.2-441.9V513.2m.2-441.9V513.2m.4-441.9V239m.2-167.7V126.4m.1-55.1V305.3m.2-234V143.8m.2-72.5V231.1m.2-159.8V513.2m.6-441.9V165.5m.2-94.2V83.9m.2-12.6V513.2m.4-441.9V513.2m.2-441.9V150.7m.6-79.4V143.3m.4-72V211.6m.2-140.3V192.3m.4-121V182.4m.2-111.1V205.8m.2-134.5V81.2m.5-9.9V75.5m.4-4.2V81.5m.6-10.2V188.7m1.2-117.4V513.2m.2-441.9V76m.4-4.7V140.6m.6-69.3V88.7m.2-17.4V283m.2-211.7V96.5m.2-25.2V113.7m.5-42.4V80m.2-8.7V97.9m.2-26.6V156.3m.4-85V78.4m.6-7.1V101.9m.2-30.6V513.2m.2-441.9V219.9m.2-148.6V513.2m.2-441.9V513.2m.2-441.9V80.7m.2-9.4V93.3m1.2-22V96.1m.2-24.8V86.4m.1-15.1V290.1m.2-218.8V513.2m.4-441.9V232.4m.2-161.1V513.2m.2-441.9V132.2m.2-60.9V187.6m.4-116.3V322.2m.4-250.9V187.5m.2-116.2V277m.2-205.7V513.2m.2-441.9V162.8m.2-91.5V109.2m.2-37.9V190.9m.2-119.6V513.2m.6-441.9V236.3m.4-165V86.8m.3-15.5V513.2m.2-441.9V513.2m.4-441.9V115.9m.8-44.6V176.1m.2-104.8V98.6m.2-27.3V95.4m.2-24.1V513.2m.4-441.9V274.6m1-203.3V84.2m.4-12.9V79.3m.2-8V104.4m.2-33.1V192.8m.1-121.5V75.4m.4-4.1V96.9m.2-25.6V266.2m1-194.9V96.6m.2-25.3V125.3m.2-54V80.8m.4-9.5V132.5m.4-61.2V81.9m.2-10.6V189.6m.2-118.3V110.2m.2-38.9V79.9m.6-8.6V158.4m.9-87.1V107.9m.6-36.6V175.2m.4-103.9V135m.2-63.7V136.1m.6-64.8V218.8m.2-147.5V77m.4-5.7V114.7m.4-43.4V93.7m.6-22.4V107.1m.3-35.8V90.5m.4-19.2V87.2m2.2-15.9V137.2m.2-65.9V81.5m.2-10.2V206.7m.2-135.4V86.6m.2-15.3V142.2m.6-70.9V134.5m.2-63.2V76.1m.7-4.8V95.3m.2-24V103.8m.2-32.5V127.3m.4-56V81.5m.2-10.2V79.3m.2-8V83.2m24.3-11.9V98.9m.2-27.6V127.4m.2-56.1V74.7m.1-3.4V160.2m.2-88.9V97.2m.2-25.9V104.4m.2-33.1V83.7m.2-12.4V89.4m.2-18.1V201.8m.2-130.5V174.8m.2-103.5V137.9m1.6-66.6V144.1m.2-72.8V121.4m.2-50.1V513.2m.4-441.9V209.5m.2-138.2V302.6m.2-231.3V92m.3-20.7V165m.2-93.7V103.1m.8-31.8V121.3m.2-50V103.2m.6-31.9V100.5m.2-29.2V77.5m.4-6.2V106.8m.2-35.5V257.9m.2-186.6V513.2m.2-441.9V513.2m.2-441.9V177.2m.2-105.9V98.5m.2-27.2V513.2m.2-441.9V318.7m.2-247.4V96.6m.5-25.3V75.9m.2-4.6V265.4m.2-194.1V326.2m.6-254.9V513.2m.6-441.9V136.3m.2-65V513.2m.4-441.9V89.2m.2-17.9V108.8m.4-37.5V513.2m.2-441.9V513.2m.4-441.9V88m.4-16.7V318.1m.2-246.8V125.7m.1-54.4V513.2m.2-441.9V74.8m.2-3.5V103.5m.2-32.2V168.7m.2-97.4V150.9m.2-79.6V300.2m.2-228.9V306.9m.4-235.6V513.2m.2-441.9V87.6m.2-16.3V78.3m.4-7V513.2m.2-441.9V513.2m.2-441.9V163.6m.2-92.3V110m.2-38.7V513.2m.2-441.9V80.2m.2-8.9V101.6m.2-30.3V513.2m.2-441.9V513.2m.2-441.9V513.2m.3-441.9V328.6m.4-257.3V92.2m.2-20.9V513.2m.8-441.9V83.8m.6-12.5V150.2m.2-78.9V83.2m.4-11.9V513.2m.4-441.9V513.2m.2-441.9V100.7m.2-29.4V513.2m.4-441.9V513.2m.2-441.9V246.3m.5-175V180.3m.2-109V96.1m.4-24.8V513.2m.8-441.9V180m.2-108.7V94.8m.2-23.5V237.8m.2-166.5V74.9m.8-3.6V85.1m.4-13.8V286.2m.2-214.9V268m.7-196.7V89.7m.2-18.4V220.1m.2-148.8V98m.2-26.7V118.4m.2-47.1V209m.2-137.7V136.6m.4-65.3V188.9m.2-117.6V513.2m.2-441.9V513.2m.2-441.9V89.2m.2-17.9V155.6m.2-84.3V86.2m.2-14.9V89.2m.2-17.9V238.7m.2-167.4V127.5m.8-56.2V91m.2-19.7V125.4m.4-54.1V235.4m.1-164.1V217.1m.2-145.8V222.3m.4-151V513.2m.2-441.9V88m.2-16.7V235.6m.4-164.3V103.1m.8-31.8V116.7m.2-45.4V86.6m.2-15.3V89.2m.4-17.9V172m.2-100.7V85.5m.4-14.2V174.4m.6-103.1V101.5m.1-30.2V95.3m.8-24V96.1m.2-24.8V136m.4-64.7V83.9m.6-12.6V127.5m.6-56.2V198.8m.2-127.5V115.1m.6-43.8V92.2m.2-20.9V138m.2-66.7V138.6m.4-67.3V153.4m.7-82.1V121.8m.2-50.5V262.3m.2-191V99.5m.2-28.2V81.5m.2-10.2V85.4m.6-14.1V268.2m.4-196.9V79.9m.2-8.6V83.4m.8-12.1V200.6m.4-129.3V146.3m.6-75V100.4m.5-29.1V87.4m.4-16.1V79.6m.2-8.3V191.6m.4-120.3V80.5m.4-9.2V75.4m.2-4.1V103.5m.2-32.2V111.7m24.6-40.4V92.8m.2-21.5V124.9m.4-53.6V77.6m.4-6.3V95.2m.4-23.9V107.1m.4-35.8V82.2m.6-10.9V76.5m1-5.2V89.1m.4-17.8V104.9m.1-33.6V84.9m.2-13.6V513.2m.2-441.9V513.2m.4-441.9V83.9m.2-12.6V81.3m.4-10V123m.2-51.7V513.2m.4-441.9V513.2m.4-441.9V83.6m.4-12.3V513.2m.2-441.9V76.7m.2-5.4V76m.2-4.7V85.8m.2-14.5V217m.2-145.7V89.9m.4-18.6V513.2m.1-441.9V82.3m.2-11V77.7m.2-6.4V513.2m.2-441.9V513.2m.2-441.9V513.2m.2-441.9V513.2m.2-441.9V217.1m.2-145.8V513.2m.2-441.9V113m.2-41.7V83.9m2-12.6V75.4m.4-4.1V279.6m.3-208.3V157.2m.4-85.9V130.2m.2-58.9V77.6m.4-6.3V100.5m.4-29.2V133.2m.4-61.9V115.7m.2-44.4V158m.2-86.7V78.3m1.2-7V122.9m.2-51.6V80.3m.7-9V129.9m.2-58.6V75.1m.2-3.8V149.6m.2-78.3V113.8m.2-42.5V116.5m.2-45.2V111.8m.4-40.5V113.7m.6-42.4V88.3m.2-17V127.1m.2-55.8V513.2m.2-441.9V93.8m.2-22.5V513.2m.2-441.9V513.2m.2-441.9V126.2m.2-54.9V105.7m.6-34.4V232m.4-160.7V513.2m.1-441.9V91.8m.4-20.5V92.9m.2-21.6V93.4m.2-22.1V91.4m.2-20.1V76.7m.2-5.4V106.3m.2-35V122.5m.6-51.2V133m.2-61.7V220.9m1-149.6V74.5m.2-3.2V230.6m.4-159.3V157.6m.2-86.3V114.5m.2-43.2V77.3m.3-6V116.7m.4-45.4V83.2m.4-11.9V100.5m.2-29.2V74.4m.8-3.1V157.6m.4-86.3V96.5m.4-25.2V76.2m.4-4.9V111.4m.2-40.1V145.5m.6-74.2V108.8m.2-37.5V81.2m.3-9.9V109.9m.4-38.6V101.5m.2-30.2V106.6m.2-35.3V120.1m.4-48.8V76.7m.6-5.4V137.9m1-66.6V152.3m.2-81V513.2m.2-441.9V96.4m.2-25.1V513.2m.4-441.9V513.2m.2-441.9V93.4m.9-22.1V114.7m.2-43.4V87.5m.6-16.2V169.3m.6-98V126.7m.2-55.4V513.2m.2-441.9V92.7m.2-21.4V513.2m.2-441.9V117.3m1.2-46V115.2m.2-43.9V113.1m.5-41.8V111.3m.4-40V81.4m.2-10.1V231.8m.2-160.5V76.5m.8-5.2V82.4m.2-11.1V141.8m1.8-70.5V89.9m.4-18.6V140.8m.1-69.5V74.8m.2-3.5V80.8m.2-9.5V149.7m1.4-78.4V144.5m.2-73.2V104m1.6-32.7V87.7m.2-16.4V117.6" stroke="#add8e6" stroke-opacity="0.62" stroke-width="3" fill="none"/>
</g>
<path d="M1520.9 73.3V499.6" stroke="#c4c4c4" stroke-width="2.1" fill="none"/>
<path d="M106.4 73.3H1520.9 M106.4 499.6H1520.9 M106.4 73.3V499.6" stroke="#000" stroke-width="2.1" fill="none" stroke-linecap="square"/>
<path d="M97.4 466.8H106.4M97.4 401.2H106.4M97.4 335.6H106.4M97.4 270.1H106.4M97.4 204.5H106.4M97.4 138.9H106.4M97.4 73.3H106.4M194.6 499.6V508.6M337.3 499.6V508.6M480.3 499.6V508.6M623 499.6V508.6M766 499.6V508.6M908.7 499.6V508.6M1051.7 499.6V508.6M1194.4 499.6V508.6M1337.4 499.6V508.6M1480.1 499.6V508.6M1520.9 73.3H1529.9M1520.9 158.6H1529.9M1520.9 243.8H1529.9M1520.9 329.1H1529.9M1520.9 414.3H1529.9M1520.9 499.6H1529.9M1625.6 73.3H1634.6M1625.6 158.6H1634.6M1625.6 243.8H1634.6M1625.6 329.1H1634.6M1625.6 414.3H1634.6M1625.6 499.6H1634.6" stroke="#000" stroke-width="2.1" fill="none"/>
<path d="M1625.6 73.3V499.6" stroke="#000" stroke-width="2.1" fill="none"/>
<text x="88.2" y="476.4" text-anchor="end">0</text>
<text x="88.2" y="410.8" text-anchor="end">10</text>
<text x="88.2" y="345.2" text-anchor="end">20</text>
<text x="88.2" y="279.7" text-anchor="end">30</text>
<text x="88.2" y="214.1" text-anchor="end">40</text>
<text x="88.2" y="148.5" text-anchor="end">50</text>
<text x="88.2" y="82.9" text-anchor="end">60</text>
<text transform="translate(192.6 551) rotate(-45)" x="0" y="9.8" text-anchor="middle">2002</text>
<text transform="translate(335.3 551) rotate(-45)" x="0" y="9.8" text-anchor="middle">2004</text>
<text transform="translate(478.3 551) rotate(-45)" x="0" y="9.8" text-anchor="middle">2006</text>
<text transform="translate(621 551) rotate(-45)" x="0" y="9.8" text-anchor="middle">2008</text>
<text transform="translate(764 551) rotate(-45)" x="0" y="9.8" text-anchor="middle">2010</text>
<text transform="translate(906.7 551) rotate(-45)" x="0" y="9.8" text-anchor="middle">2012</text>
<text transform="translate(1049.7 551) rotate(-45)" x="0" y="9.8" text-anchor="middle">2014</text>
<text transform="translate(1192.4 551) rotate(-45)" x="0" y="9.8" text-anchor="middle">2016</text>
<text transform="translate(1335.4 551) rotate(-45)" x="0" y="9.8" text-anchor="middle">2018</text>
<text transform="translate(1478.1 551) rotate(-45)" x="0" y="9.8" text-anchor="middle">2020</text>
<text x="1539.1" y="82.9" text-anchor="start">0</text>
<text x="1539.1" y="168.2" text-anchor="start">20</text>
<text x="1539.1" y="253.4" text-anchor="start">40</text>
<text x="1539.1" y="338.7" text-anchor="start">60</text>
<text x="1539.1" y="423.9" text-anchor="start">80</text>
<text x="1539.1" y="509.2" text-anchor="start">100</text>
<text x="1643.8" y="82.9" text-anchor="start">0</text>
<text x="1643.8" y="168.2" text-anchor="start">50</text>
<text x="1643.8" y="253.4" text-anchor="start">100</text>
<text x="1643.8" y="338.7" text-anchor="start">150</text>
<text x="1643.8" y="423.9" text-anchor="start">200</text>
<text x="1643.8" y="509.2" text-anchor="start">250</text>
<text transform="translate(38.5 286.4) rotate(-90)" x="0" y="0" text-anchor="middle">Streamflow [m³/s]</text>
<text transform="translate(1618.5 286.4) rotate(-90)" x="0" y="0" text-anchor="middle">Rainfall [mm]</text>
<text transform="translate(1724.7 287.4) rotate(-90)" x="0" y="0" text-anchor="middle">SCA</text>
<text x="813.7" y="612.9" text-anchor="middle">Date</text>
<text x="1230.4" y="36" text-anchor="middle" style="font-weight:bold;font-size:26.25px">HBV model-generated Streamflow Analysis</text>
<text x="1239.4" y="65.7" text-anchor="middle" style="font-weight:bold;font-size:26.15px">(Ait Ouchene Basin) from 2001-09-01 to 2019-08-31</text>
<rect x="460.1" y="639.1" width="1550.5" height="45.8" rx="5" ry="5" fill="#fff" stroke="#d0d0d0" stroke-width="2"/>
<path d="M470.2 660.8H523.1" stroke="#f0b800" stroke-width="3.9" stroke-linecap="square"/>
<path d="M877.9 660.8H931" stroke="#00b4d8" stroke-width="3.9" stroke-dasharray="15 5.8"/>
<rect x="1292" y="651" width="54" height="19.5" fill="#e6ebee" stroke="#dbe1e5" stroke-width="1.5"/>
<rect x="1651" y="651" width="54" height="19.5" fill="#4d4dff" stroke="#2323e6" stroke-width="2"/>
<rect x="1874.5" y="651" width="54" height="19.5" fill="#c5e6ef" stroke="#b4dce6" stroke-width="2"/>
<text x="543.2" y="669.9" text-anchor="start">Observed Streamflow</text>
<text x="950.5" y="669.9" text-anchor="start">Simulated Streamflow</text>
<text x="1366.4" y="669.9" text-anchor="start">95% CI Simulated</text>
<text x="1723" y="669.9" text-anchor="start">Rainfall</text>
<text x="1946.2" y="669.9" text-anchor="start">SCA</text>
<defs><clipPath id="sc0"><rect x="1909.3" y="73.2" width="530.6" height="425.7"/></clipPath></defs>
<path clip-path="url(#sc0)" d="M2002.9 409.3h0M1983.9 423.4h0M1991.7 383h0M2040 430.1h0M1942.1 462.5h0M1963.1 446.9h0M1970 471.6h0M1944.4 451h0M1979 462.7h0M2026.4 417.7h0M2022.3 456.4h0M1943.8 422.2h0M2042 453h0M1950.2 462.1h0M1940.5 457.3h0M1945.8 455.5h0M1961.8 446.4h0M1985.2 442.6h0M1950.2 438.3h0M1970.4 466.2h0M2043.3 374.8h0M1958.5 415.6h0M2009.8 478.7h0M2041.3 390.5h0M2037.9 365.8h0M1987.9 453.9h0M2006.2 462.6h0M1983.9 385.5h0M1994.7 418.4h0M2024.1 452.8h0M1965.2 419.4h0M1965.1 460.5h0M2020.6 384.2h0M2002 426.1h0M1936.6 446.8h0M1988.8 405.4h0M2005.6 398.1h0M2023.9 425.1h0M2033 445.2h0M2032.3 432.5h0M1976.6 418.3h0M1979.2 437.5h0M2009.6 401.7h0M1968.7 450.1h0M1941.3 440.8h0M1939.8 431.4h0M1936.2 464.8h0M1982.9 442.6h0M1969.7 451.5h0M1974.6 432.5h0M1969.4 444.6h0M1935.6 452.7h0M2057.7 412.4h0M1946.9 471.6h0M1962 467h0M1938.6 431.4h0M1964.9 457.9h0M1958.2 456h0M1939.1 477.5h0M1934 462.5h0M1984 432.9h0M1973.2 475.4h0M2031.7 455.8h0M1961.1 455.8h0M1976.7 385.6h0M1935.9 459.4h0M1947.7 476.1h0M2017.2 477h0M1965 436.7h0M1980.7 442.5h0M2045.2 423.9h0M1937.1 469.2h0M1966.9 443.9h0M1962.3 453.6h0M2029.3 465.2h0M1986.8 461.1h0M1932.4 470.5h0M2039.4 423.4h0M2044.9 444.5h0M1983.1 387.4h0M1964.2 475.2h0M1931.9 465.2h0M1965.4 460.8h0M1972.9 443.1h0M1980.8 470.3h0M1994.3 458.3h0M2040.4 458.1h0M1951.9 458.6h0M2034 407.8h0M1948.7 466.7h0M2024.9 417.6h0M1965.6 428.3h0M1943.9 475h0M1986.1 465.6h0M1945.6 462.2h0M1985.9 475.9h0M1977.6 465h0M1961.6 449.3h0M1971.3 440.4h0M1962.6 420.5h0M1944.4 449.8h0M2005.4 404.3h0M1980.3 428.5h0M2042.3 456.2h0M1935.5 442.4h0M1936.3 445.2h0M1961.7 463.6h0M1975.9 414.1h0M1993 390.6h0M1963.2 422.2h0M1945.8 472.7h0M2041.5 391.5h0M1961 472.3h0M1942.1 421.4h0M2067.3 375h0M1941.3 418.8h0M1990.9 442.1h0M2048.1 369.1h0M1989.7 433.5h0M2035.7 420.5h0M2007.5 455.3h0M1935.3 473.1h0M2015.1 393h0M1939 417.5h0M2033.1 407.9h0M1980.4 444.8h0M1974.4 426.5h0M2010.3 451.6h0M1980.7 430.8h0M2015.6 468h0M2048.4 396.7h0M1992.6 400.6h0M1988 456.4h0M1937 469.4h0M1964.3 477.3h0M1934.8 460.1h0M1944 459.8h0M2015 446.3h0M1937.7 466.6h0M1938.3 450.9h0M1957.3 469.6h0M1981.6 385.7h0M1994.3 413.2h0M1947.2 468.5h0M2062.2 364.4h0M1975.9 396.8h0M1935.3 438h0M1952 428.8h0M1971.1 450.7h0M2067 373.3h0M2053.6 408.1h0M2070.5 392.5h0M1994.3 459.6h0M1997.7 462.1h0M2049 410h0M2040.3 451.1h0M2001.6 445.9h0M1996.8 461.9h0M1935.9 432.7h0M1996.9 428.6h0M1988.7 457.4h0M2045.4 380.2h0M1961.6 462.1h0M1959.6 463.2h0M1995.6 474.1h0M1965.6 433.1h0M2019 442.5h0M1986.8 472.1h0M1995.3 428.4h0M2000.7 471.5h0M1971.6 445.7h0M1970.6 447.4h0M1947.2 426.9h0M1967.8 435.7h0M1956.1 469.8h0M1944.7 438.5h0M1985.5 473h0M2080.6 380.6h0M1967.3 421h0M2025 400.8h0M1965 468.3h0M2014.8 462.2h0M1952.8 432.5h0M1975.5 390.1h0M1968.4 408.2h0M1953.4 420.9h0M2017.1 426.6h0M1974.9 392.4h0M1955.3 471.1h0M1979.4 417.5h0M1984.1 471.7h0M1976.9 458.4h0M1994.8 452.1h0M1963.8 450h0M2006.1 409.3h0M1962.3 430h0M2003.3 421.7h0M1941.3 427.1h0M1946.5 455.1h0M2027.2 414.2h0M1956.3 439.8h0M1984.6 426.8h0M1950.5 472.2h0M1939.9 420.7h0M2023.7 382.5h0M1966.1 463.5h0M1985.3 410.4h0M2012.3 454.4h0M1931.8 468.5h0M1944.9 461.4h0M1969 469.9h0M1989.4 431.6h0M2015.8 385.2h0M2067.1 393.4h0M2008.9 457.7h0M1948.1 457.1h0M1945.8 446.7h0M1958.4 431.9h0M1997.4 453.3h0M1964.6 467.6h0M1980.8 391.4h0M1986.9 401.8h0M1958 477.2h0M1976.1 470.3h0M1949.4 467.8h0M1948.3 469.7h0M2069.9 381.6h0M2034.4 382.2h0M1981.4 459.7h0M2022.1 423.1h0M2033.6 420.6h0M1945.2 419h0M1963.8 429.5h0M1939.8 446.3h0M1960.5 468.7h0M1993.3 392.3h0M1950.9 456.6h0M2006.1 389.6h0M1949.1 474.1h0M1940 450.1h0M1947.9 451.2h0M1993.5 429.3h0M2020 464.4h0M2029.5 393.8h0M1960.1 464.3h0M1969.1 450.5h0M1940.3 432h0M2013 410.8h0M2008.2 478.9h0M2027.4 394.8h0M1940.6 467.5h0M2064.5 381.7h0M1946.5 472.8h0M2000.3 413.3h0M2000 440.5h0M1949.5 478.1h0M1975.5 447.7h0M1959.4 447.6h0M1992.1 478.5h0M1962.9 437.5h0M1948.5 473.5h0M1961.3 454.5h0M2029 432.7h0M1958.4 457.4h0M1945.3 437.2h0M1947 448.6h0M2035.7 434.7h0M2003.6 465.3h0M1981.3 466.3h0M1947.8 476.2h0M2013.2 396.9h0M1992 463.9h0M1974.8 413.7h0M1943.2 460.4h0M2010.2 416.2h0M1955.5 444.7h0M1955.1 421.4h0M1950.1 473.1h0M2008.8 410.3h0M1973.4 463.5h0M1977.4 470.4h0M1977.3 464.3h0M1971.2 438.8h0M2041.7 359.5h0M1974.7 463.6h0M1964 467.2h0M1999.5 389.5h0M2017.4 464.8h0M2028.8 432.7h0M2034.7 462h0M1979.8 455.5h0M1994 456.6h0M1989.6 466.3h0M1950.3 433.3h0M1982.2 477h0M1976.5 460.1h0M2056 367.8h0M1961.5 448.8h0M2043.4 439.2h0M1938.2 467.3h0M1968.5 477.1h0M1935.1 434.2h0M1995.8 473.2h0M1940.4 428.1h0M1955.4 477.4h0M1934.2 431.2h0M2008.8 473.9h0M1939 462.9h0M1956.3 476.7h0M1934.9 415.3h0M1974.8 472.3h0M1936.4 453.1h0M1948.5 475.7h0M1936.3 466.5h0M1950 476.5h0M1942.2 444.1h0M2008.2 478.1h0M1941.5 445.3h0M1945.9 472.1h0M1942.5 425h0M1968.9 476.6h0M1935.9 420.7h0M1939.2 473h0M1937.7 440.3h0M1939.4 475.4h0M1938.1 444.3h0M1978.1 473.3h0M1933.8 451.8h0M2007.7 478.4h0M1935.8 431.7h0M1970.3 476.7h0M1939.7 467.8h0M1941.8 477.1h0M1939 474.6h0M2012.1 472.3h0M1935.8 453.4h0M1955.5 471.7h0M1940.5 472.1h0M1978.7 478.3h0M1939.5 454h0M1954.8 478.2h0M1939.1 442.3h0M1945.8 474.7h0M1936.8 454.4h0M1999.9 472.8h0M1942.9 417.6h0M1983.2 474.8h0M1936.7 429h0M1982.7 477.9h0M1936 446.7h0M1961.4 478.5h0M1938.6 466.3h0M1952.5 472.1h0M1936.1 474.3h0M1948 475.8h0M1938.7 446.2h0M1945.3 477.6h0M1939 452.9h0M1946.4 473.2h0M1938.4 424.6h0M1985.9 479.5h0M1935 417.9h0M1939.3 474.1h0M1938.2 474.7h0M1995.2 478.5h0M1934.1 422h0M2002.1 478.8h0M1934.6 453.2h0M1945.8 479h0M1935.3 452.9h0M1981.7 473.9h0M1937.7 421.4h0M1956.9 478.1h0M1937.1 437.3h0M1974.6 476.2h0M1939.1 432.5h0M1987.6 473.8h0M1940.6 446.9h0M1964.1 476.2h0M1933.5 465.2h0M2284.8 91.2h0M2341.9 111.2h0M2416.1 186.3h0M2242.5 169.4h0M2256 214.6h0M2280.6 237.2h0M2133.3 201.2h0M2151.5 253.4h0M2164.2 265.2h0M2061.4 290.6h0M2097.7 297.9h0M2072.3 310.6h0M2073.1 327.6h0M2119.8 312.8h0M2130.8 308.5h0M2174.7 311.9h0M2189.6 325.5h0M2203.6 317h0M1982.1 300.1h0M2133.3 360.3h0M2176.8 360.3h0M2154.5 389.2h0M2169.1 424.5h0M2115.6 391.3h0M2085.9 391.3h0M2070.2 410.4h0M2096.4 363.7h0M2077.4 472.7h0M2083.1 473h0M2058.3 471h0M2058.3 452.8h0M2051.2 440.2h0M2030.4 475.6h0" stroke="#00b4d8" stroke-width="19.3" stroke-linecap="round" fill="none"/>
<path d="M1909.3 498.9L2439.9 73.2" stroke="#808080" stroke-width="3.4" stroke-dasharray="13 5.6" fill="none"/>
<rect x="1927.8" y="86.3" width="164.9" height="128.9" rx="5" ry="5" fill="#fff" fill-opacity="0.8" stroke="#d4d4d4" stroke-width="2"/>
<text x="1935.6" y="114.1" text-anchor="start">RMSE: 7.82</text>
<text x="1935.6" y="143.5" text-anchor="start">NSE: 0.76</text>
<text x="1935.6" y="173.3" text-anchor="start">R²: 0.76</text>
<text x="1935.6" y="202" text-anchor="start">KGE: 0.78</text>
<rect x="1909.3" y="73.2" width="530.6" height="425.7" fill="none" stroke="#000" stroke-width="2.1"/>
<text x="1933.4" y="537.6" text-anchor="middle">0</text>
<text x="2072" y="537.6" text-anchor="middle">100</text>
<text x="2210.6" y="537.6" text-anchor="middle">200</text>
<text x="2349.2" y="537.6" text-anchor="middle">300</text>
<text x="1891.1" y="489.1" text-anchor="end">0</text>
<text x="1891.1" y="423.6" text-anchor="end">50</text>
<text x="1891.1" y="358" text-anchor="end">100</text>
<text x="1891.1" y="292.4" text-anchor="end">150</text>
<text x="1891.1" y="226.8" text-anchor="end">200</text>
<text x="1891.1" y="161.2" text-anchor="end">250</text>
<text x="1891.1" y="95.6" text-anchor="end">300</text>
<path d="M1933.4 498.9V507.9M2072 498.9V507.9M2210.6 498.9V507.9M2349.2 498.9V507.9M1900.3 479.5H1909.3M1900.3 414H1909.3M1900.3 348.4H1909.3M1900.3 282.8H1909.3M1900.3 217.2H1909.3M1900.3 151.6H1909.3M1900.3 86H1909.3" stroke="#000" stroke-width="2.1" fill="none"/>
<text x="2174.6" y="572.9" text-anchor="middle">Observed Streamflow [m³/s]</text>
<text transform="translate(1824.7 286.1) rotate(-90)" x="0" y="0" text-anchor="middle">Simulated Streamflow [m³/s]</text>
</g>
<g transform="translate(0 707.1)">
<path d="M106.4 473H1520.9M106.4 406.3H1520.9M106.4 339.7H1520.9M106.4 273.1H1520.9M106.4 206.5H1520.9M106.4 139.9H1520.9M106.4 73.3H1520.9M194.6 73.3V499.6M337.3 73.3V499.6M480.3 73.3V499.6M623 73.3V499.6M766 73.3V499.6M908.7 73.3V499.6M1051.7 73.3V499.6M1194.4 73.3V499.6M1337.4 73.3V499.6M1480.1 73.3V499.6" stroke="#b0b0b0" stroke-width="2" stroke-dasharray="2.1 3.4" fill="none"/>
<defs><clipPath id="mc1"><rect x="106.4" y="73.3" width="1414.5" height="426.3"/></clipPath></defs>
<g clip-path="url(#mc1)">
<path d="M170.7 470.2l12.2 0 2.5-2.8 2.2-19.8 .7 9.6 .2-18 1.8 12 1.2-150.8 1.3 120.6 .2-73.4 1.4 82.6 .2-63.9 .6 52.7 1.4-30.8 1.7 56.8 1.2-39.4 1.9 41.3 .6-27.4 1.4 28.6 .8-14.9 .4 11.4 .2-28.7 1.5 33.7 .2-7.3 1.2 10.5 .4-19.9 1 11.9 1.1-236.4 .4 155.8 .2-70.4 1.2 94.7 .4-60.3 2.5 106.8 3.4 19.4 .2-32.3 2.7 38.8 .2-5 1 6.7 .2-7.8 1.1 9.5 .4-7.8 1.4 8.9 2.5 2.6 1-1.6 4.1 3 21.9 0 2.4-4.8 .2-11.1 .4 3.8 .2-4.7 1.5 3.4 1-54.2 2.1 43.8 .4-48.3 1 44 .4-43 1.6 46.4 1.9-227.3 .6 157.2 1-91.2 1.9 133.4 .6-56.4 .8 57 .8-41.4 1 36.7 .6-93.9 .7 104 .6-45.5 2.8 60.1 .2-50.6 .5 42.6 .2-33 2.8 55.8 1-14.8 .9 19.8 .8-5.9 1.4 11.2 .2-14.2 .8 13.2 .4-7.6 3.1 13.1 .4-3.1 1 3.4 1.3-1.4 3.5 3.3 27.4 1 3-3.2 3.1-78.2 .4-337.2 1.9 313.4 1.4-92.1 .8 111.4 .2-114.1 2.5 150.7 .2-67.3 1.4 78.1 .4-57 1.9 59.7 1-33.9 .8 37.7 .2-43.5 1.2 31.7 1.1-19.8 .6-272.1 .6 226.5 1.2-117.8 .6 113.8 .9-44.3 2 113.9 .2-46.4 1.9 62.8 2 9.5 .2-9.5 1.4 13.7 .4-21.5 1.9 24.1 .4-9.8 1.2 7 1-110 1.5 95.5 1.4 7.7 .6-14.7 .6 14.5 .2-26.2 1.5 34.7 .6-19.1 1.6 23.4 .6-1.6 3.3 6.2 .2-4.8 1 5 .9-2.1 2 3.7 .8-1.5 1.7 2.1 .2-1.5 2.2 1.9 13.7 .4 6-1.2 .2-2 3 1.6 .2-2.9 2.9 3.1 1.2-3 3.9 3.1 2.9-2.2 1.6 2.1 1.7-1.4 1.4 1.6 .2-2.2 5.5 3.1 40.1 .3 2.5-11.1 1.4 2.1 .9-12.4 1.8 4.9 1.2-39.5 3.1 35.2 1.2-43.8 1 38.9 .1-36.1 .6 29.5 .2-20.1 2 31.1 1-30.8 .6 21.9 .9-15.6 1.4 23.7 .6-42.4 .8 24.6 .7-18.4 .4-231.1 .6 177.1 .2-109.5 1.2 137.4 1.2-83.9 1.1 118.1 .2-81.2 1.6 98.1 .8-26.4 1 34.7 .2-28 1.1 34.4 .8-6.5 2.6 16.2 .1-5.7 1.4 8 .8-6.3 1.2 8 3.3 2.7 .2-5.1 3.3 6.2 25.8 1.2 4.5-2.2 .2-4 1.2 2.8 .8-7.8 1.3 6.7 2.8 .3 .2-5.2 1.2 4.7 .3-6 2 6.1 1-9 .6 6.6 .6-3.6 1.9 6.3 1.6-8.2 1.1 7.6 .8-9 1.6 8.8 1-6.8 1.5 8.2 .2-6 .8 5.7 1-3.7 1.4 5.3 .7-3.1 .8 1.5 2-147.4 .4 103.7 .9-42.6 1.8 61.6 .2-28.3 1.4 37.4 .6-21.7 1.3 26.9 2.8 7.7 .4-3 3.3 6.6 11.3 2.8 16.6 0 4.7-1.1 1-2.7 .8 2 .2-2.1 1.9 2.5 .2-2.8 2 2.6 .4-1.5 1.7 2 .2-2.8 1.8 2.7 .4-2.8 1.2 2.5 .2-1.8 5.4 2.2 .2-3.1 1.4 3.1 4.5 .9 40.9 .4 3.1-18.5 1 2.5 .2-23 1.3 14.7 2-46.8 .8 23.3 1-167.9 .9 154.1 1-80.5 1.6 91.3 .6-74.1 .9 71.6 .2-75.1 1.4 83.5 .4-82.3 1.4 84.7 1.5-73 2 57.7 .8-231.6 .4 187.4 .1-129.6 1 141.8 .8-105.7 1.2 130.5 .4-91.7 1.3 106.9 .2-76.3 2.2 98.2 .2-46.3 1.4 53 .5-31.1 1.4 35.8 .8-18.1 2.7 27.6 1.2-5.6 1.2 7.7 .8-5.3 2.5 7.9 .2-3.9 1 3.9 3.7 1.4 23.8 .9 2.6-26.3 1 5.3 .2-19.1 .5 10.6 .2-42.6 1 34.2 .6 2 1.4-5 .8-102.2 1.3 80.7 .8-78.8 1.4 74.3 .4-78.3 1.1 89.7 .8-101.7 .8 75.8 1-254.2 1 205.7 .4-138.8 2.7 197.1 2.9 13 .2-68.9 1.4 68.4 .2-87 1 86.4 .9-62.3 1.8 84.5 2.1-192 1.4 172.6 .2-31.8 2.8 59 1.1 6.1 1-35 1.6 43.1 .6-3.9 3.3 12.7 .2-10.7 1 10.9 3.1 3.6 .6-4.7 1.3 5.4 .2-3.8 1 4 .4-1.7 3.1 2.9 .2-1.5 2.2 1.9 15.4 .5 3-7.4 2.1-236.1 .8 171 .2-143.7 1.5 153.5 .6-95.5 .6 74.1 .4-50.3 1.2 68.4 .2-69.8 .6 67.7 .2-65.7 1.3 91.6 1.4-32.8 .6 27 .2-44.6 .8 49.5 .2-47.1 1.3 53.1 .2-49.1 1.6 55.9 1.4-59.1 .5 43.9 .2-37 2 41.9 .2-39.5 1 47.1 1.1-32.8 2.2 40.2 .6-88.8 1.2 80.9 1.1 11.1 .2-24.8 1.4 29.6 .2-25.9 1.9 32.1 .2-22.6 1.2 23.9 .4-12.8 1 14.7 .8-10.5 2.3 15 11 3.2 20.9-.4 2.1-28 .2-85.5 2 82.7 .2-20.7 1.2 26.9 .1-31.1 .8 28.5 .2-36.7 1.2 37.2 .2-34.4 2.3 45.7 .2-34 .6 25.4 1.8-19.6 1.2 28.7 .9-18.9 1.4 13.5 .4-51.8 .8 46.7 .2-37.3 .9 40.3 .2-29 1.6 34.4 .4-30.5 2.5 33.6 .2-8.7 1.8 12.6 .2-14.5 1.4 16.2 .5-14.4 2 13.8 1-63.2 1 50.2 1.1-21.2 2.6 35.3 1.1-7.3 1.4 10 .2-9.7 1 10.4 2.5 2.8 1.6 .7 .2-3.3 1 3.3 3.5 1.1 .2-1.5 1.9 1.7 20 .5 2.9-50.6 .6-192.9 2.4 182.8 .1-107.6 3 121.5 .2-90.7 .6 61.1 .9-46.9 .8 63.3 .6-23.6 2 49.4 .7-48.9 1.8 52.5 .4-46.4 1.6 43.6 1.1-22.7 1 25.6 .2-24.7 1 25.2 1.4 4 .2-24.3 .7 19.8 1.4-35.7 .6 28.7 .8-24.1 1.1 39.8 .8-34.8 1 25.1 1-184.3 1.2 163.2 1.3-72.7 1 83.5 .2-58.5 1.6 71.8 .9-31.1 1.4 43.4 2.2 6.9 .2-18.2 1.1 19 .8-10.7 3.1 15.9 1.4-4 .6 3.8 3.3 2.3 22.7 .1 3.9-19.5 1.2 7.7 .2-21.3 1 17.8 .5-20.9 1 19.9 .2-26.3 .6 19.9 .6-19 2.3 27.1 2-154.1 .6 111 .2-24.8 1 39.3 .1-36.1 .8 37.7 .8-53.1 1 59.3 1.2-44 1.5 56.1 .2-48 1.2 47.8 .8-5.5 1 10.8 1.1-22.2 3.2 33.1 .7-12.5 2 15.1 2.3 1.8 .2-2.4 1 3.3 .2-5.4 1.8 6.5 .2-1.8 6 3.2 27 .6 2.2-3 2.9-28.7 .8 10.9 .2-32 1 24.4 .1-46.5 1 23.2 .6-182.6 2.8 181.4 .5-79 1.2 82 1.2-36.4 1 41.8 1.3-8.4 .4-179 .4 123.1 .2-61 .8 91.9 .2-90.4 1.6 116.2 1.9-66.7 1.4 75.2 .4-50.1 1.7 52.4 .2-46.8 1 47.4 .2-31.1 1.6 49.5 .2-26.6 1.7 31.6 .6-20 2 28.7 .2-12.9 .9 13.3 1-4.2 1.2 7.4 .2-4.2 3.1 6.6 .2-5.2 3.5 6.5 28.6 1.1 2.7-2.5 .2-7.1 1.6 3.9 1.5-18.7 .8 12.2 1.2-14.9 .8 13.6 .4-16.8 1.7 19.6 .4-21 .8 17.6 .2-17 .8 16.8 .4-15.2 1.9 18.1 2.8 1.8 1.3-22.6 1 18.7 .2-17.3 1.6 17.9 .7-18.2 1.6 19.4 2.2-157.9 .5 112.3 .2-57.3 1.8 81.3 1.8 11.9 .5-28.6 .8 25.2 .2-23.1 1.2 32.5 .4-15.3 2.1 23.2 .2-8.3 1.4 10.1 1.6 1.8 .6-4.8 1.5 5.8 1-2 1.8 3.5 .2-3.1 3.3 3.9 23.1 .8 2.9-4.5 3.1-45.1 .2-97.1 1.8 102.6 .8-62.6 1.5 70.4 1.6-53.8 .6 44.4 1.3-32.3 2.4 52.8 .8-40.2 1.1 29.9 1-39.3 .8 24.5 1-110.3 .8 108.5 1.3-49.6 .6 47.6 .6-36.2 2.3 65.5 2.4-24.5 3.1 40 1.6-13.2 1.2 14.9 .2-5.9 .7 7.5 1-5.5 2.8 8.8 .1-4.9 1 5.1 3.3 1.4 1.4-1.5 2.8 2.1 23.2 .5 3.2-9.4 .1-11.9 1.6 5.1 .2-16.4 1.8 7.7 1.5-45.2 1.4 37.9 .2-65.6 2.5 65.3 1.6-60.1 2.7 52.8 .4-55.2 .6 45.8 .2-43.4 2.4 55.5 .2-52.4 .7 47.9 .2-44.5 1 48.4 .6-17.9 1 16 1-167 .9 140.7 1 20.8 .2-37.7 1.6 49.4 2.5-219.4 .8 176.2 1.4-82.3 1.3 116.3 .8 9.6 .2-19.9 1.2 26.9 3.3 13.4 1.8 3.7 .2-18.8 .7 17.1 .2-7.1 3 13.7 1.3 1 .2-3 1.6 3.4 .2-3.8 1.6 4.8 .2-2.7 1.9 3.3 12.5 .9 3.7-3.6 1.8-225.9 .4 163.7 1.8 19.4 .1-93.3 2.4 102.4 .2-61.7 1.9 65.8 1.4-12.8 1 14.2 .2-62 1.9 66.3 .6-55.7 1.8 58 1.8-41.6 1.3 37 .2-41.1 .6 27.5 1.4-22.7 .4 25.1 .2-24.5 .9 36 .4-27.8 1.8 31.2 .2-36.6 1.2 34.6 .2-18.3 .9 22.9 .2-13 1.8 20.7 .2-17.9 2.3 17.2 1.6-233.8 .4 154.7 2.7 54.9 1.2-57.5 2.7 79.9 3.7 9.7 .8-13.1 3 17.7 13.6 3.8 0 2.6-14.2-2-2.4-14-.8 10.8-3.7-8-2.7-65.4-1.2 47-2.7-44.9-.4-126.5-1.6 191.3-2.3-14.1-.2 14.7-1.8-17-.2 10.6-.9-18.7-.2 15-1.2-28.3-.2 29.9-1.8-25.5-.4 22.7-.9-29.4-.2 20-.4-20.5-1.4 18.5-.6-22.5-.2 33.6-1.3-30.2-1.8 34-1.8-47.4-.6 45.5-1.9-54.2-.2 50.7-1-11.6-1.4 10.5-1.9-53.8-.2 50.4-2.4-83.7-.1 76.3-1.8-15.9-.4-133.9-1.8 184.4-7.6 1.6-10.7-.6-1.6-2.8-.2 2.3-1.6-2-.2 1.8-1.9-.7-2.4-10.6-.2 5.7-.7-13.9-.2 15.4-1.8-3.1-3.3-11-1.2-22-.2 16.3-.8-7.8-1.3-95.2-1.4 67.4-.8-144.2-2.5 179.5-1.6-40.4-.2 30.8-1-17-.9-115.1-1 136.7-1-13.1-.6 14.6-1-39.7-.2 36.5-.7-39.2-.2 42.9-2.4-45.4-.2 35.4-.6-37.4-.4 45.1-2.7-43.1-1.6 49.2-2.5-53.4-.2 53.6-1.4-31-1.5 36.9-1.8-6.3-.2 13.5-1.6-4.2-.1 9.7-3 6-29.7-.7-2.2-3.7-1.5 2.7-1.4-6-1 4.5-.7-6.1-.2 4.8-1.2-12.2-1.6 10.8-3.1-32.7-2.4 20-2.3-53.6-.6 29.7-.6-39-1.3 40.6-.8-88.8-1 90.3-.8-20-1 32.1-1.1-24.5-.8 32.9-2.4-43.2-1.3 26.5-.6-36.4-1.6 44.1-1.5-57.7-.8 51.3-1.8-84-.2 79.4-3.1 36.9-2.9 2-26.6-.7-3.2-1.1-1.1-3.8-.6 3.8-3-9.6-.2 6.8-2.1-19-.4 12.6-1.2-26.7-.2 19-.8-20.6-.5 23.3-1.8-9.7-1.8-66.5-.2 46.9-.5-91.9-2.2 129.2-1.6-15.8-.7 14.8-1.6-14.6-.2 14.2-1-15.4-1.3 18.5-2.8-1.4-1.9-14.9-.4 12.5-.8-13.8-.2 13.9-.8-14.4-.4 17.2-1.7-16-.4 13.7-.8-11.1-1.2 12.2-.8-10-1.5 15.3-1.6-3.2-.2 5.1-1.9 .9-30.4-.4-2.5-4-.2 3.6-1.9-3.4-.6 1.9-.6-3.2-.2 3.4-1.2-6-1 3.4-.9-10.9-.2 10.6-2-23.5-.6 16.4-1.7-25.9-.2 21.7-1.6-40.4-.2 25.5-1-38.9-.2 38.3-1.7-42.8-.4 40.9-1.4-61.5-1.9 54.6-1.6-95.1-.2 74-.8-75.2-.2 49.9-.4-100.7-.4 146.4-1.3 6.9-1-34.2-1.2 29.8-1.2-67.1-.5 64.6-2.8-148.4-.6 149.4-1-18.9-.1 38-1-20-.2 26.2-.8-8.9-.2 13.5-.8-4.9-1.9 14.2-33.1 .8-3.3-.9-.8-3.7-.2 3.8-1-2.1-.9 1.7-2.8-9-.2 4.2-.6-8.8-.7 10.3-3.2-27.2-1.1 18.2-1-8.8-.8 4.5-1.2-39.1-.2 39.3-1.5-46-1.2 36.1-1-48.6-.8 43.5-.8-30.8-.1 29.5-1-32.2-.2 20.3-.6-90.8-2 126.1-2.3-22.2-.6 15.6-.6-16.3-.2 21.5-1-16.2-.5 17-1-14.6-.2 17.5-1-6.7-4.1 15-23.7-.1-2.9-3.7-.2 3.1-2.3-.7-2-12.1-1 8-.9-14.8-.2 14.9-2.2-5.6-1.4-35.5-.9 25.4-1.6-58.8-.2 47.9-1-68.3-.2 65.2-.9-39.6-.4 31.6-1-131.3-1 150.8-1-20.5-.8 28.5-1.1-32.6-.8 19.7-.6-23.4-1.4 29.2-.7-16.3-.2 19.9-1.4-3.2-1-20.7-.2 20.3-1-21-1.1 18.6-1.6-35.7-.4 38-1.8-42.9-.7 40-2-40.4-.6 19.3-.8-51.9-.9 38.4-.6-50-.2 74.3-3-99.5-.1 88.1-2.4-149.6-2.3 196.4-30.5-.3-2.6-9.7-.2 7.9-1.4-8.2-.7 6.6-3-29.4-1.1 17.3-1-41.1-1 51.7-2-11.3-.5 11.8-1.4-13.2-.2 11.8-1.8-10.3-.2 7.2-2.5-27.6-.4 25-1.6-28.2-.2 23.8-.9-33-.2 30.5-.8-38.2-.4 42.4-1.4-11.1-.9 15.5-1.2-23.5-1.8 16-.6-20.7-.2 27.8-2.3-37.4-.2 28.2-1.2-30.5-.2 30.1-.8-23.4-.1 25.5-1.2-22.1-.2 17-2-67.7-1.9 91.2-32.9-1.2-1.7-11.7-.8 8.6-1-12-.4 10.4-1.2-19.4-.2 18.4-1.9-26.2-.2 21.2-1.4-24.2-.2 20.2-1.1-9-1.2-66.3-.6 72.7-2.2-32.9-1.1 26.8-1-38.5-.2 32.4-2-34.3-.2 30.2-.5-35.9-1.4 48.4-1.6-45.8-.2 40.1-1.3-43.4-.2 38.5-.8-40.4-.2 36.5-.6-22.1-1.4 26.8-1.3-75-.2 53.8-.6-55.4-.2 57.1-1.2-56-.4 41.2-.6-60.6-.6 78.1-1.5-125.6-.2 117.6-.8-139.9-2.1 193.1-2.8 4.4-21.3-.8-1.2-2.5-.2 2.3-1.3-3.6-.6 3.2-1.8-.5-2.3-10.7-.2 8.8-3.3-10.4-.8 2.2-1.4-34.3-1 28.7-1.5-7.1-2.4-46.3-.2 26.1-1.4-141.2-2.1 157.1-1.8-69.2-.9 51-1-70.7-.2 71.2-1.4-56-.2 56.4-3.1-12.4-2.5-159.5-.4 113.6-1-168.3-1 207.9-.8-61.9-.8 83.1-1.1-73.3-.4 64-1.4-60.7-.8 64.4-1.3-66-.8 83.6-2 2.5-1-28-.2 34.8-.5-8.6-3.4 30.9-26.4-.5-2.5-2.7-.4 2.3-2.9-5.8-.2 4.6-1.2-6.3-1.2 4.5-2.7-22.6-.8 14.9-1.4-29.3-.5 25.4-1.4-43.3-.2 37.9-2.2-80.4-.2 62.4-1.3-87.5-.4 75.1-1.2-106.8-.8 86.5-1-116-.1 106-.4-153.4-.8 189.5-2-47.1-1.5 59.7-1.4-69.3-.4 67.3-1.4-68.3-.2 61.4-.9-58.5-.6 60.6-1.6-74.7-1 65.9-.9-126.2-1 137.4-.8-19-2 38.3-1.3-12.1-.2 18.8-1-2-2.9 13.4-60.5-1.9-26.4 1.8-11.7-1.7-1.9-4.3-.4 2.5-2.8-6.3-1.3-22.1-.6 17.8-1.4-30.6-.2 23.1-1.8-50.3-.9 34.8-.4-84.8-2 120.3-1.7 .6-1.2-3.4-1 2.8-.8-4.4-.6 4.3-1.1-6.1-1 5.6-1.6-7.2-.8 7.3-1.1-6.2-.2 6.1-.6-1.7-1.2 2.1-2.7-7.4-1 7.3-2-4.9-.3 4.9-1.2-3.9-.2 4.1-2.9-.2-1.2-5.4-.8 6-1.2-1.9-.2 2.4-4.5 1-26.2-.6-2.9-3.7-.2 3.2-1.6-.3-2.9-7.5-1 4.8-1.2-6.2-.1 4.7-2.6-13.3-.8 5.3-1.1-28.1-.2 22.9-1-28.4-.8 21.6-1.6-80.2-.2 66.4-1.1-96.7-1.2 68.7-1.2-112.4-.2 89.5-.6-144.9-.4 189.1-.7 15.1-.8-20.1-.6 34.7-1.4-19.4-.9 12.8-.6-18-1 25.2-2-25.5-.2 16.5-.6-24.1-.1 29.6-1-31.9-1.2 35.8-3.1-28.8-1.2 32.3-1.8-3.9-.9 10.1-1.4-1.7-2 7.1-61.9-1.8-22.5 1.9-8.1-1-1.3-3.7-.2 3.4-4.3-4.5-1.2-17.9-.8 14.9-1.3-27.7-.2 21.5-.6-11.9-.6 12.1-1.6-7.8-1.3-76.6-1 89.9-1.2-5.7-.4 8-1.9-19.7-.4 17.6-1.4-11.3-.2 7.9-2-7.8-1.9-51.4-.2 38-2-93.2-.9 36.2-.6-93.1-1.2 96.4-.6-185.3-.6 222.6-1.1 16.2-1.2-25.9-.2 35.5-.8-30.8-1 27.8-1.9-48.9-.4 46.6-1.4-63.9-.2 55.1-2.5-123.3-.2 93.3-.8-91.1-1.4 75.4-1.9-256.5-.4 275.9-2.6 62.5-3.5 2.4-28.1-.5-5.1-2.9-1.2 1.6-2.3-9.8-.4 6.2-.8-10.8-.2 11.6-1.4-9.1-.8 4.8-.9-16.2-1 12.1-2.8-45.7-.2 27-.5-34.8-.2 41.4-2.8-49.1-.6 37.1-.7-85-.6 76.8-1-30-.8 33.8-.8-46.6-.6 46.1-1.9-109.1-1 74.6-.6-128.6-1.9 186-1.6-38-.4 35.2-1-36-.4 39.5-2.1-35.8-.2 35.8-.6-4.6-.2 13.1-1.5-2.8-.2 3.9-.4-3.1-.6 9.8-3 2.1-26.7-1.2-3.2-8.3-.4 6.4-1.1-7.8-.2 6.4-1-5.5-.2 4.1-2.7-31.7-.2 26.4-3.4-15.9-2.5-87.3-.4 49.3-1.2-77.5-.2 57.6-.4-127.5-1.1 193.4-1-9.7-.4 16.3-1.2-8.6-.2 6-1.5-27.6-.2 23.5-.4-9.3-.8 12.2-1.4-23.4-.6 22.4-1.9-33.9-1.2 32.3-1.7-46.4-1.4 25.1-.6-43.1-.2 52.3-1.4-67.6-.2 60.1-1.3-98.7-1.2 123.4-1.8-9.9-.2 14.8-.7-7.8-1.8 15.1-15.1 1.6Z" fill="#e6ebee" fill-opacity="0.8"/>
<path d="M170.7 461l.2-21.1 .6 16.4 1.4 4.5 10.7-.2 2.8-3.9 .6-5 1 .4 .5-5 .6 1.4 .8-1.5 .2-14.4 .4 1.4 .2-1.2 .6-13.3 .4-37.9 .4 20 .2-12.6 1.1 28.8 .2-25.8 1.6 36.5 .2-21.5 1.9 29.9 .8-8.5 .4 6.7 .4-9.4 .8 12.5 .6-11.3 .6 11.3 .2-11 1.9 16.8 .2-9.1 1 8.9 .2-7.3 .6 6.2 .9-4.6 .8 6.4 .6 1.1 1-.1 1-16.3 1.3-85.7 .8 49.4 .6 10.2 .2-3.4 .2-102.7 .8 106.8 .4-25.8 .4 29.9 .2-43.8 1.3 66.7 .2-16 1.4 26.4 .2-28.9 1 31.7 .2-3.7 .7 7.9 .2-2.9 .8 5 1.6 3.5 .2-6.4 1.3 7.7 .4 .7 .2-3.9 .8 4.1 1.4 1.9 .2-4.8 .6 4.2 1.3 1.6 6.3 1.5 8.8 .5 .6-25.6 1 23.5 .7 1.8 2.4 .3 .2-39 .6 30.3 1.1 8.3 3.8 .4 .1-2.2 .6 1.6 .8-.2 1.2-1.9 .8-5.5 .6 .8 .5-.8 .8-11.1 .8 3 .8-5.7 .2-8.9 .8 4.9 .2-11.3 .6 10.4 .1-13.6 .6 12.5 .6-6.1 .8 10.6 .8-3.5 .8 3.9 .2-15.3 .4 7.9 .7-11.4 .8-64.9 .8 37.8 .4-39.1 .8 45.2 .8-50.7 .7 56.4 1 17.4 1.4 5.4 .2-30.6 1 16.8 .2-22.4 .9 27.1 .2-14.8 .6 16.9 .6-13.1 1.2 22.9 1-14.7 .5 17.1 .2-10.2 .6 14.3 .2-6.9 .6 11 .2-8.9 .8 12.9 1.9 7.2 .4-2 1 3.8 .2-4.7 .8 5.2 .6-2 .6 3.1 .2-2.9 1.7 5.4 1.8 1.3 .2-1.4 .6 1.3 .1-.5 1.8 1.6 .2-1.3 1.2 1.5 3.1 .7 18.2 .7 .2-1.9 1 1.8 3.9 .2 .6-61.3 .7 53 .8 7.1 .6 .9 .2-2.8 .4 1.6 .8 .3 2.1-4.5 1-5.9 .8-26.6 1-156.3 .2 28.4 .4-32.5 .5 69.9 .4-32.7 1.8 89.5 .2-25 1.2 40.3 .2-8.6 .7 16.3 .4-12.5 .4 11.8 .2-22.4 1 31.8 .2-7.8 .8 10.6 .2-18 1.5 27.3 .2-37.5 1.2 41.1 .2-12.3 .8 12.1 .2-15 .6 13.8 .2-9.3 .4 4.3 .3-1.5 1.2-103.7 .4 31 .2-25.1 .8 47.2 1.2 19.5 .2-19.2 .5 21.8 .2-21.4 .6 26.7 .2-13.2 1.2 24 .4-3.1 .2 6.8 .2-12.6 .9 25.6 2.2 11.8 .6-27.3 1 28.7 .2-4.2 .4 5 .1-3.5 1 7.6 .6-1.1 .4-163.3 1.2 153.4 1-28.8 1.1 21.5 .2-19.1 1.6 27.7 .8 3.5 .2-5.1 1.1 8.6 .6 1.8 .2-5.3 .8 6.1 1.2 3 .4-1.8 .4 1.8 .2-1.8 1.7 4.5 .2-1.2 1.2 2.4 .2-2.6 1 3 2.1 1.2 13.7 1.4 .2-77.6 .6 60.4 1.1 16.4 1 .8 1.4-.2 .4-46.3 1.2 44.2 .7 2 2-.2 .4-15.8 .6 12.2 1 2.8 .3-41 1 37.6 .6 2.8 2 .7 .2-63 1.1 56.2 .2-24.9 .4 19.9 1 10.7 2.1 1 .2-1 .6 .8 .2-17 1.2 16.1 .8 1.1 .2-2.8 1.2 2.4 1.1-.5 1.8 1 .6-17.1 .2-183.2 .7 172.7 .6 21.4 1 5.5 .2-55.2 .8 48.6 .8 6.3 1.1 1.4 1 .3 .2-49.2 .6 38.3 .6 8.6 .8 2 .2-18 .6 14.4 1.3 4.1 38.7 .1 .2-10.4 1 8 .2-13.9 .6 9.9 .2-1.4 .6 1.2 .8-1.1 .7-10.9 .6 3.7 .4-4.7 .8 3.3 .2-11.3 1 10 .2-14.4 .2 4 .2-5.1 .4 6.7 .2-12.6 .3 11.9 .2-3.5 1 10.3 .4 1.4 .6-10.5 .8 8.7 1.1 2.7 .2-27.4 1.6 25.1 .8-10.3 1 10.6 .6-6.8 .5 4.7 .4-170.8 .6 132.9 .6 31.9 .2-9.9 .6 12 .2-12 .8 6.1 1.7-106 1 65.2 .2-35.8 .8 44 .2-28.3 .4 25.5 1.5 30.4 .6-26 1.2 36 .4 3.1 .4-16.7 1.5 21.8 2.2 8.4 .2-4.6 .8 5.3 .4-5.9 .2-51.7 .9 55.1 .8 5.9 .2-3.3 1.8 5.8 6.4 2.9 .2-.8 3.3 1.4 11.2 .3 .4-33 .6 25.8 1.1 7 5.9 .4 .2-13.3 .8 11.5 .6 1.4 1.1 .4 .2-14.3 1.2 13.5 1.6 .2 1.5-2.3 1 .5 .2-1.3 .6 .6 .2-2.1 1.6 1.6 .2-3 .3 .9 .2-22.3 1 20.3 .2-8.3 .8 10.1 .2-.9 .4 1.6 1.5 1.2 1-2 .4 1.1 .2-1.6 1.2 2.4 .2-1.7 .4 1 .2-.6 1.7 1.5 .2-12.3 .8 9.8 .2 .9 .4-2.2 .2 1.1 .2-45 1.2 45.3 .2-84.8 .5 67.8 .8 15.8 .2 1.4 .2-2.1 1 3.7 .2-2.1 .8 2.1 .2-1.1 1.5 2.2 .2-2.2 1 2.7 .4-4.4 .8 4.4 1.9 .6 1.2-5 .8-22.3 .4-163.6 .6 122 .2-17 .7 48.1 .6 10.5 .2-9.2 1.2 17.3 .2-4.1 1 8.8 1.7 5.7 .2-3.3 1 5.1 .2-1.2 1.8 4.6 1.5 1.7 .2-2.2 .8 2.4 .2-.7 1.2 2 2.7 1.2 .4-.5 2.1 1.1 .2-5.3 .6 4.3 1.2 1.3 20.5 .3 .6-3.1 .2-30.6 1 30.5 .2-24.9 1 24.8 1.1 2.3 1.2-1 1 .9 1 .1 .2-.7 .7 .6 .8-87.1 .6 67.6 .6 15.2 .8 3.9 1.2 .6 .2-1 .7 .7 .2-.8 1.6 .8 .6-.6 .2-27.4 .6 21.9 .7 4.9 1.8 1.4 1 .1 .8-1.7 1.1 1.5 .8 .2 .2-1 1.6 1.3 4.3 .5 .2-40.5 .6 31.4 1.3 9 22.9 .6 .2-8.2 .6 6.3 .8 1.6 13.7 .1 1.5-3.1 2.6-9.9 1-21.7 .5 5.9 .2-5.8 1 5.5 .4-226.9 1.2 202.4 .2-7 .4 2.9 .4-50.9 .5 36.1 .4 4.8 .2-30 1.4 44.3 .2-31.3 1.2 37.7 .4-19.2 .9 22.4 .2-22.7 1.6 27.3 .6-12.7 1.2 15.9 .3-13.1 1 13.1 .2-29 1.2 22.1 1.2-97.1 1.5 65.7 .4-240.3 1.6 252.1 1.2 20.4 .2-31.3 .7 32.4 .2-8.2 .4 11.3 .2-11 .4 12.7 .2-4.4 1.6 20.8 .9 3.8 .2-29 .8 26.8 .2-2.9 1.6 11.2 .4-6 .6 5.6 1.9 4.7 1.8 1.4 .2-2.3 .9 3 .2-2.4 1.8 3.5 .6-.6 1.8 1.6 .1-1 2.4 1.6 8 .4 .4-41.9 .6 32.8 .8 8.2 .9 1.2 4 .2 .2-22.7 .5 17.6 .8 4.4 2 .7 5.6 .1 .6-.6 2.2-8 1-10.9 .9-2.2 1-41 .6 21.3 .2-10.1 .4 7.5 .2-35.7 .4 25.5 .2-20.8 1.3 30.1 1-18 .8 15.7 1.4 5.1 .4-40.6 .7 25.5 .8 8.2 .2 .8 .4-.5 1.6-119.7 1.5 86.4 .4-186.7 .8 158.9 1.2 42.8 .8 6 .2-43.4 .7 27.7 .6-29.6 .8 40.5 .2-33.6 1.4 45.2 .2-35.7 1.3 42.4 .2-14.3 .4 14.6 .2-5.2 1.4 19.9 .2-22.4 .6 10.3 .2-12 .4 7.3 .4-4 .2-52.5 1.9 53 .6-20.5 1.6 42.4 .4-3.4 .1 3.2 .2-1.7 1.6 13.9 .2-14.7 1.6 18.8 2.5 6.7 .2-3.6 1.2 4.6 .2-4.6 1 5.9 .1-2.3 1 3.6 .2-1.7 .8 2.4 1.8 1.4 8.2 1.9 9.2 .4 .4-.7 .3-88.2 1.6 84.8 1.2 3.9 2.9 .2 1.4-1.7 1.7-10.2 1.8-70.4 .6 13.6 .2-17 1 22.3 .2-25.1 .4 18.8 .1-33 1.8 44.6 .2-45.5 .6 47.6 .2-24.6 .6 26.7 .2-14.5 .9 28 .2-25 .6 21.3 .2-12 .6 16.2 .4-19.9 1.4 28.4 .4-20.7 1.1 19.1 .6-13.7 .8 15.6 .4-17.5 1.2 19.1 .6-228.6 .5 180.3 2 50 .8-16.4 .8 15.5 .2-1.9 .7 6 .4-124.7 .6 92 1 26.5 .6-4.4 .6 6.1 .6-21 1.5 28.8 .2-14 1.2 19.1 .2-6.5 1.2 10.7 .5 1.8 .2-7.3 .4 4.2 .4-96.1 .8 88.5 .6 11.4 .2-3.8 1 7.2 .2-10.7 .7 10.9 .2-9.2 1 10.8 2.9 2.3 1 .4 .8-1.2 1 1.4 2.7 .7 17 .7 .2-2.3 1 2.1 3.9 .3 1.4-.5 .8-1.7 1.3-17.7 .4-177.6 .8 145.1 .4 9.3 .2-11.5 .4 16.3 .2-10 1.2 23.8 .2-2.1 .3 3.3 .2-14 .6 11.9 .2-33.5 1.2 36.6 .2-11.1 .8 13.3 .2-10.5 1.1 11.3 .8-20.9 .4 16.3 .6 5.3 .2-10.3 .6 10.9 .8-23.8 .7 16.3 .2-27.4 1 36.7 1.6-18.8 .8 13.6 .2-.9 .2 1.8 .2-4.7 .9 8.5 1-10.8 1.6 13.1 .2-.8 1.1 2.8 .6-9.1 1.6 11.5 1.9 3.2 .2-6.7 .6 5.7 .4 1 .6-.4 1-14.9 .2-76.9 .8 71.2 1.7 15.2 .2-6.1 1.6 9.8 .2-7.2 1.7 10 .4-1.1 1.2 2.8 .8-1.1 .6 1.6 .2-1.7 .9 2.6 .4 .4 .2-.8 1.6 1.6 1.2 .4 .2-.8 .6 .6 .1-.5 1.6 1.2 3.9 .5 11.2 .3 .2-43.8 1.1 41.6 .8 1.9 1.8 .3 .2-31.6 1 29 .7 2.3 2.2 .4 1.6-2.8 .7-7.3 1.2-66.2 .2 4.9 .2-7 .6 10.2 .6-21.5 .8 30.8 1.1 11.8 .2-37.5 .8 31.3 .6-22.5 .4 17.6 .2-9.7 1.1 20.3 .2-23 1.6 34.3 .2-10.4 1 13.3 .4 1.9 .2-8.9 .6 7.6 .2-23.4 .3 14.1 .4-20.8 .4 18.6 .4-132.2 1 125.7 .2-76.7 .8 87.1 .2-11.5 .9 22.9 .2-12.6 1.2 13.9 .2-9 .8 9.5 .2-11.8 1.4 14 .5-37.8 1 34.7 .2-8.3 .4 6.7 .6-11.3 1.6 19.6 .3-299.7 .6 237 .8 54.8 .2-6.4 .4 4.6 .4-4.3 .6-44.8 1.5 34.8 .2-26.2 1 32.8 1.8 14.5 .8 3.6 .2-11 1.7 16.5 .4-10.1 .8 11.4 1.6 5.5 .2-20.4 .5 17.1 1.4 5.9 1 1.3 .2-1.8 1.5 3 .2-35.8 .6 28.3 1 7.6 1.2 1.3 3.1 .9 10 .4 .4-58.7 .6 45.7 .9 12.4 1.2 1 5.1 .1 .2-17 1.2 16.2 .2-24.1 .7 21.6 .8 2.6 1.6-1.4 .2-30.5 .8 22.1 .4 3.6 .1 .6 .2-1.2 .4-217.2 1.2 203.1 .6 7 .2-5.6 .6 5.6 .2-5.9 .4 4 .2-3.2 .7 5.1 .2-9.2 .8 6.2 .2-18.5 .4 14.3 .2-7.4 .8 12.1 1 3 .2-4.4 .7 3.1 .2-8 .2 1.6 .4-.4 .4-5.7 .6-31.4 .2-190.4 1.2 195.2 .4-22.5 1.1 40.7 .6-7.4 1.2 12.9 .2-15.4 .4 11.7 .2-3.8 1.1 14.9 .2-11.5 1 11.8 .2-12.7 1 14.7 .2-7.6 .6 7.5 .4-11.5 .7 13.8 .2-7.6 .8 10.9 .2-4.7 .4 5 .2-3.9 .8 6 .4-1.8 .6 4 .4-138.3 .5 110.8 .4 20.5 1.2 11.9 .4 .9 .4-3.8 .6 3.5 .2-1 1.5 3.3 .2-1.8 1.6 2.5 .2-1.3 .8 1.6 .2-.6 1.1 1.3 3 .7 .2-.7 .8 .3 .2-3 1.3 3.6 7.8 .1 .4-46.1 .6 36.2 1 9.4 1.6 1 15.4 .1 2-2.8 1.9-9.3 .2-11.6 .2 4.7 .2-5.1 .8 7.1 .2-4.8 .6 2.3 .6-34.3 .9 16.8 .6-17.4 .4-199.7 .8 154.7 1 42.8 .2-39.9 1.1 45.9 .8 7.8 .6-31.1 .8 26.3 .2-100.7 1.4 108 1.9-55.2 .2 12.1 .2-30.1 1.4 60.1 .2-31.4 .8 27.1 .1-24.9 .4 21.5 .6-16.2 1 31.1 .2-3.5 .4 7.8 .4-19.7 .8 21.3 .2-4.2 .7 10.9 2 11.6 .6-232.1 1 218.3 .7 18.8 .4-9.4 .8 11.8 1.2 4.8 .2-7.5 1 8.3 .2-.8 .7 2.8 .2-4.9 1 5.7 .2-3 1.2 4.6 .2-2 .6 2 .2-1 1.5 2.8 .6 .4 .2-1.1 .6 1 .2-1.3 1.2 2 .2-1.1 .9 1.3 2.4 .7 1 .1 .2-1.8 .5 1.5 1.4 .5 10.2 .5 .6-134.6 .6 104.5 1.1 28.6 1.6 1.5 9.6-.1 1.1-.7 .2-6.2 .8 3.6 2.6-1.8 .9-7.3 1 3.6 .6-3.6 1 2.2 .2-6.4 .6 4.9 .2-5.4 .5 4.2 .2-31.9 .6 25 1 9.7 .2-4.4 1.4 5.2 .2-5.2 1.3 5.2 .6-17.7 .8 13.6 1 3.5 1.4 1 .1-7.9 .8 5.9 1-6.5 .6 5.5 .2-1.7 1.6 4.3 .1-5.4 .6 3.1 .2-43.8 .6 35.4 .4 6.2 .2-4.3 .4 3.2 1-12.7 .4-23.8 .2-110.3 1.3 120.1 .2-21.8 1.2 33.7 .2-10.7 .4 8.4 .4-11 1.1 21.5 .2-2.5 1 7.5 .2-6.5 1.4 12.3 .4-4.7 1 6.9 .5-7.4 1.2 9.9 1 1.6 .2-3.9 .8 3.8 1.5 1.9 1.6 .8 .2-1.8 1 1.9 .2-.6 2.7 1.6 15.8 .8 .2-51.5 .8 44.6 .8 6 1.8 .9 .6-55 1.1 52.3 1 2.5 1.8 .2 .2-.8 .7 .5 1-7.9 .4 3.7 1.2-.6 1.2-3.5 1.1-10.7 .4-20.2 .4-199.8 1 176.5 .4-20.6 1 42.6 .3-31.2 .6 29 1 12.3 .4-71.9 .4 45.4 .6 15.9 .6-4.9 .7 16.8 .2-9.1 .6 10 1.2 5.7 .2-12.6 .4 6.9 .2-8.1 .8 11.8 .2-2.2 1.1 6 .2-72.8 .8 57.3 .6 8.7 .6-2.4 .2-30.4 .4-3.3 .2 7.1 .2-20 .6 12.5 .1-93.4 .6 88.2 .2-13.4 1.2 46.7 .2-16.7 .8 18.5 1.9 13.6 .2-9.6 1.2 13.2 .2-5.7 .8 7.8 1.5 4.6 .4-48.7 .8 43.6 .2-3.2 1 10.7 .2-2.3 1.7 5.5 1.2 1.2 .2-1.2 .8 1.5 .6-2.1 .2 1 .2-35.2 .6 29 1.1 8.1 .2-1.3 .6 1.6 1.6 1 6.8 1 22.5 .2 2-4.3 .2-3.2 1.7-5.3 .6-13.8 1 5 .2-8.1 .4 5.2 .2-16.6 1 9.8 .3-16.2 .6 13.1 .2-15.7 1.4 20.3 .2-12.9 .6 10.1 .2-16.7 .8 12.1 .1-13 .4 11.4 .2-2.5 1.2 12.6 .6-40.3 1.4 40.1 .4-22.4 .3 14.5 .4-11.5 1.6 20.2 .4-14.9 1 13.2 .2-23.4 .9 21.5 .8-18.8 .8 16.9 .4-5.6 .6 5.2 .2-17.3 .6 4.5 .4-7.1 .2-38.9 .9 37.8 .2-33.3 .6 33.3 .2-17.8 .6 26.4 .2-22.9 .8 32 .2-9.2 .4 8.9 .2-15.7 .5 13.3 .4 2.2 .2-1.6 .8-220.7 1.4 199.4 1.7 23.8 .6-14.1 1.4 24.8 1.6 8 .4-14.7 .7 14.9 1.4 6.8 .4-9 1.2 11.2 .2-3.3 .9 5.3 2.2 3 2.9 1.6 .2-.8 1.2 1.4 3.1 1 11.6 .4 .4-67 .9 62 1.4 5.3 1.4-.4 .9-3.3 1.2-19.9 .8-56.7 .6 16.9 .2-27.8 1.2 40.6 1.5 14.8 .4-140.4 1 131 .6-15.8 .4 16 .2-3.8 .2 5.7 .2-9 1.3 21.8 .8-12.6 1.2 15.2 .2-46.4 .6 38.5 .3-30.8 .8 31.2 1 10 .4-18.6 .6 14.6 .8-16.3 .4 13.8 .2-34.9 .7 33.7 .2-4.1 1.2 15.7 .2-15.6 1 14.6 .2-13.4 1.1 14.8 .6-8 1 8.6 .6 1.3 .2-8.2 .8 6.7 .2-25.7 1.3 26 .4-10.1 1.4 14.1 .2-2 .6 3.8 .2-7.1 .4 6.3 .2-6.7 .4 5.6 .2-4.4 .3 5 .2-1.8 .6 1.1 1-15.7 .6-58.4 .6 23 .2-37.2 1.3 57.2 2.6 21.2 .2-22.1 1.7 29.9 .6-20.2 .6 19.6 1.2 7.9 .2-8.4 1.3 10.6 2.4 4.1 .6 .6 .2-3.8 1 4.1 1.7 1.7 .6-1.4 .8 1.6 1.5 .9 8.8 1.1" fill="none" stroke="#edb800" stroke-width="3.9" stroke-linejoin="round" stroke-linecap="round"/>
<path d="M170.7 472.3l12.2 0 2.5-2.6 .6-7.2 .6 2.7 .8 .2 .2-13.7 .7 8.7 .2-16.3 .8 11 .4 1.7 .6-1.8 1-25.7 .2-111.4 1.3 109.6 .2-66.7 1.4 75.1 .2-58.1 .6 47.9 .2-5.7 .4 15 .8-37.3 .5 37 1.2 14.7 .8 2.7 .4-38.6 .8 32.9 .2-23.7 .9 28.4 .6-24.9 1.4 26 .4 2.7 .4-16.3 .4 10.4 .2-26.1 .6 24.5 .3-4.4 .6 10.5 .2-6.6 1.2 9.5 .4-18.1 1 10.8 .9-61.7 .2-153.2 .4 141.7 .2-64 1.2 86.1 .4-54.8 .4 51.8 .2-15.5 .4 33.2 .2-37.6 1.3 65.2 1.2 9.6 2.2 8 .2-29.4 .7 26.8 .4-10.8 .6 13.5 1 5.8 .2-4.5 1 6.1 .2-7.2 1.1 8.7 .4-7.1 1.4 8.1 2.5 2.3 .8 .3 .2-1.7 1 1.9 .8 .4 .2-1.2 2.1 1.6 .2-.5 1 .6 .2-1.1 1.2 1.2 .6-.7 .9 .9 2.4 .2 14.4 .2 1-.7 .2-1.6 2.2-2.8 .2-10.1 .4 3.4 .2-4.3 .5 3.9 .4 .4 .6-1.1 .2-14.6 .6 5.1 .2-39.8 2.1 39.8 .4-43.9 1 40 .4-39.1 .6 31.5 1 10.7 .2-15.7 .7 5.8 .8-23.5 .2-173.2 .6 142.9 .8 26.1 .2-109 .6 87.1 .2-41.4 1.1 75.5 .6-51.3 .8 51.8 .8-37.6 1 33.4 .6-85.3 .7 94.5 .6-41.4 .8 42.4 .4-37 1.6 49.2 .2-46 .5 38.8 .2-30 .8 39.5 .4-29.3 1.6 40.5 1-13.5 .9 18.1 .2-5.7 .4 5.3 .2-5 1.4 10.2 .2-12.9 .8 12 .4-7 .9 9.5 .2-1.1 .6 2.1 1.4 1.4 .4-2.7 1 3.1 .1-1.6 1 2.1 .2-1.9 1 2.2 2.5 .8 27.4 1 3-3 1.1-4 .6-11.4 1.4-55.7 .4-306.5 .4 204.6 .4-101.3 1.1 181.7 .4-76.6 .8 87.4 .2-94.6 .8 101.2 .2-103.7 .8 109.7 .3-76.7 1.4 104.1 .2-61.3 1.4 71.1 .4-51.9 .8 35.3 .3-18.7 .8 37.7 1-30.8 .8 34.2 .2-39.5 .4 22.7 .2-23 .6 29.1 1.1-17.9 .6-247.4 .6 205.9 .4-103.2 .6 98.3 .2-102.2 .6 103.4 .2-40.9 .3 52.3 .4-51.6 .6 71.9 .2-26 1.2 57.6 .2-42.1 .4 30.1 1.5 27 2 8.6 .2-8.7 1.4 12.5 .4-19.6 .3 13 .2-5.9 1.4 14.9 .4-8.9 .6 7 .6-.7 .6-8.2 .4-91.7 .3 66 1.2 20.8 1.4 6.9 .6-13.3 .6 13.2 .2-23.9 .5 22.5 1 9.1 .6-17.4 .6 15.2 1 6.1 .4 .8 .2-2.3 .9 3.5 2.4 2.2 .2-4.4 1 4.5 .7 .8 .2-2.7 .6 2.3 1.4 1.1 .8-1.4 1.7 2 .2-1.5 .8 1.4 1.4 .4 13.7 .4 2.9-.5 .2-1 1 .7 .8 0 .1-.9 1 .6 .2-1.9 .6 1.3 .2-1.2 1 1.2 .2-1.3 1 1.6 .2-2.7 .9 2.5 .6-1.1 1.4 1.4 .2-2.7 .8 2 .2-2 .5 1.9 .8-1 .4 1.1 .2-1.7 .8 2 1.2 .5 .2-1.7 1.5 1.6 .2-.9 .6 .7 .4-1.7 1.6 1.9 1.5 .1 .2-1.4 1.4 1.5 .2-2 1 2 .4-.5 .9 .9 .4-1.1 .8 1.1 2 .4 1.3-.7 4.3 .9 34.5 .1 1.3-1.5 1.2-8.6 .6 2.2 .8-.3 .2-4.5 .5 1.3 .2-8 .6 4.4 .4 .6 .8-.7 .2-32 .4 16.1 .6-19.9 1.3 28.8 .2-24.2 .6 19.9 1 7.4 .2-39.6 .8 28.4 .2-28.5 1 35.3 .1-32.8 .6 26.8 .2-18.3 .4 16.5 .2-12.4 1.4 24.2 .2-26.2 .4 15.3 .4-17.1 .6 19.9 .1-8.3 .6 12.6 .2-18.5 1.4 21.6 .6-38.6 .8 22.4 .7-16.7 .4-210.2 .6 161 .2-99.4 1.2 124.9 .2-36.7 .6 46.6 .4-86.2 1.1 107.3 .2-73.7 1.6 89.1 .6 5.2 .2-29.2 1 31.5 .2-25.4 1.1 31.3 .6 3.1 .2-9 .8 10.1 .4-4.3 1.4 8.9 .1-5.2 1.4 7.3 .6 .8 .2-6.5 1.2 7.3 3.3 2.3 .2-4.5 1 4.4 .2-.7 2.1 1.9 1.8 .3 .2-.8 3.1 1.2 1.8 .1 .2-.6 2.1 .7 16.6 .2 2.6-.9 .4-1.8 1.5 .7 .2-3.7 1.2 2.6 .8-7.1 1.3 6.1 2.8 .3 .2-4.8 1.2 4.3 .3-5.5 .4 3.3 .4-1.4 1.2 3.7 .2-7.3 .6 5.4 .2-6.3 .6 6 .6-3.2 .7 4.6 1.2 1 .6 .1 .2-2.6 .6 1.9 .2-6.8 1.1 6.9 .8-8.2 .4 4.9 1.2 3.1 .2-2.8 .6 2.3 .2-5.7 1.5 7.5 .2-5.5 .8 5.2 .2-1.3 .6 2 .2-4 1.4 4.8 .7-2.8 .8 1.3 1.4-14.9 .4-24.9 .2-94.1 .4 94.2 .2-10.8 .4 13.1 .3-41 .6 40.8 .2-24.1 1 39.3 .2-25.8 1.4 34 .6-19.7 1.3 24.5 1 4.1 1.8 2.9 .4-2.8 .9 3.9 2.4 2.1 3.9 1.6 .2-2 1.9 2.2 5.3 .8 16.6 0 .8-.7 1.4 .2 .2-1.2 .8 .8 .6-.8 .9 .7 1-2.4 .8 1.7 .2-1.8 .8 2 .6-.5 .5 .7 .2-2.5 .6 2 .2-1.5 1.2 1.9 .4-1.4 1.7 1.8 .2-2.6 .6 1.8 1.2 .7 .4-2.6 1.2 2.3 .2-1.6 1.1 1.8 .6-1.3 .6 1 3.1 .5 .2-2.8 1.4 2.8 4.5 .8 .2-1 1.2 1 5.2 .3 34.3 0 1.5-4 .2-5.2 .6 1 .6-.7 .2-7.8 1 2.2 .2-20.9 1.3 13.4 .2-23.5 .6 14 .2-25.4 .4 15.7 .6-23.4 .8 21.2 .2-59.1 .6 24.8 .2-118.3 .3 130.3 .6 9.8 .8 5.8 .2-79 .6 59.5 1 23.5 .6-67.4 .9 65.1 .2-68.2 1.4 75.9 .4-74.8 1.4 76.9 .9 4.8 .4-15.8 .2-55.3 .8 56.4 .2-35.6 1 31.6 .8-210.6 .4 170.4 .1-117.8 1 128.9 .8-96.1 1.2 118.7 .4-83.4 1.3 97.2 .2-69.3 .8 70.9 .2 6 .2-11.1 1 23.4 .2-42 1.4 48.1 .5-28.2 1.4 32.5 .6 3.5 .2-20 .8 18.9 .2-7.8 .6 9.5 1.1 4.5 1 1.2 .2-6.3 1.2 7 .2-5.1 .4 3.6 .2-3.3 .7 5.3 1.8 1.9 .2-3.6 1 3.6 .2-.7 1.3 1.5 .2-1.3 2 1.8 23.8 .8 1.8-7.2 .8-16.7 .6 5.8 .4-1 .2-17.3 .5 9.6 .2-38.8 1 31.2 .6 1.7 1.4-4.5 .8-92.9 1.3 73.4 .8-71.7 .6 60.8 .4-17.1 .4 23.8 .4-71.1 1.1 81.5 .8-92.4 .8 68.9 .2-58.2 .6 21.9 .2-194.8 1 187 .4-126.2 .3 96.5 .2-85.9 .8 125.8 1.4 42.8 2.9 11.8 .2-62.6 1.4 62.2 .2-79.1 1 78.5 .7 13.9 .2-70.5 .4 45.2 .2-7.6 1.2 39.2 .2-55.6 .6 43 .2-35.1 .8 23.6 .3-150.5 .4 116.1 1 40.9 .2-29 .8 35.2 2 18.5 1.1 5.6 .2-24.2 .6 13.1 .2-20.8 .6 27.9 1 11.3 .4 1.6 .2-5.2 1.3 8.2 2 3.4 .2-9.8 1 9.9 1.3 2.3 .2-1.8 1.6 2.8 .6-4.2 1.3 4.9 .2-3.5 1 3.7 .4-1.6 .8 1.9 .2-1.1 .8 1.4 1.3 .5 .2-1.4 .8 1.3 1.4 .4 .8-.6 1.9 .8 12.7 .3 1.2-1.3 1.8-5.5 1.5-25.6 .6-189 .8 155.4 .2-130.6 .6 100.9 .9 38.6 .6-86.8 .6 67.4 .4-45.8 1.2 62.3 .2-63.5 .6 61.6 .2-59.8 1.3 83.3 .2-25.4 1 24.6 .2-29 .6 24.5 .2-40.5 .8 45 .2-42.9 1.3 48.3 .2-44.6 .6 36.9 1 13.9 .6-32.1 .6 24.6 .2-46.2 .5 39.9 .2-33.6 .4 28.1 .2-19.2 .4 23.3 .4-25.1 .6 31 .2-36 1 42.8 .4 3.8 .2-12 .2 4.9 .3-26.4 .6 28.7 .2-10.9 .6 16.3 .4 2.9 .4-.5 .6-80.8 1.2 73.6 1.1 10.1 .2-22.5 1.4 26.9 .2-23.5 .8 21.1 1.1 8 .2-20.5 1.2 21.7 .4-11.6 1 13.3 .6 1.7 .2-11.2 .7 10.5 1.6 3.1 4.5 2 6.5 1 1.1-.5 2.4 .7 16.2 .2 1.2-.8 2.1-25.5 .2-77.8 .6 57.1 .2-39.7 1.2 57.9 .2-18.9 1.2 24.5 .1-28.3 .8 26 .2-33.4 1.2 33.8 .2-31.3 .6 28.5 1.7 13 .2-30.8 .6 23 .8-18.3 .4 16.1 .6-15.6 1.2 26.1 .5 2.1 .4-19.3 .4 10.5 .2-6 .8 7.8 .4-47.1 .8 42.4 .2-33.8 .9 36.6 .2-26.4 1.6 31.3 .4-27.8 .4 17.5 .6-14.5 .4 16.2 1.1 11.4 .2-7.9 .6 7.2 1.2 4.2 .2-13.1 1.4 14.7 .5-13.1 .6 11.1 .2-4.5 1.2 6 .8-7.1 .2-50.4 1 45.7 .9 6.7 .2-26 .8 24.2 1.8 7.9 1 1.4 .1-8.1 1.4 9.1 .2-8.8 1 9.4 2.5 2.6 1.6 .6 .2-3 1 3 .9 .3 .2-1.3 .6 1.3 1.8 .7 .2-1.4 1.9 1.6 .2-.8 2.4 1 17.4 .3 1.4-2.8 .9-12.5 .6-30.7 .6-175.4 .6 136.1 .4-67.6 1.4 97.7 .1-97.8 .6 75.9 .2-10.3 .4 24.1 .2-17.5 .6 26.9 1 11.4 .2-82.6 .6 55.6 .2-28.8 .3 34.6 .4-48.4 .8 57.6 .6-21.5 .4 24.9 .2-7.4 1.4 27.4 .6 1.9 .1-46.3 .6 33.8 1.2 13.8 .4-42.1 .4 24.5 .2-19.3 1 34.4 .2-21 .7 21.4 .2-21 1 23.2 .2-22.4 1 22.9 1.4 3.6 .2-22.1 .7 18 .6-17 .4 12 .4-27.4 .6 26.1 .2-15.4 .4 17.3 .2-23.9 1.1 36.3 .8-31.7 1 22.8 .8-36.5 .2-131 .4 134.6 .8 13.7 .2-37.6 .9 44 .2-72.4 1 75.9 .2-53.2 .6 49.2 .2-12.8 .8 28.8 .2-29.6 .5 18.3 .2-16.9 1.4 39.5 2.2 6.2 .2-16.5 1.1 17.3 .6 1.6 .2-11.4 1 11.6 2.1 2.9 1.2 .6 .2-4.3 .6 3.5 1.4 1.5 1.9 .6 1 .2 .2-1.3 1.2 1.4 1.3 .3 .2-1 .8 .9 .2-.6 1.8 .9 14.4 .3 1.6-1 1-6 .8 1.4 .2-3.5 .3 1.7 .2-7.5 .2 2.3 .6-2.3 .2 2 .4-5.9 1.2 7 .2-19.4 1 16.2 .5-18.9 1 18.1 .2-23.9 .6 18.1 .6-17.3 1 21.2 .6 3.1 .7 .3 .2-8.3 .4 2.5 .4-1.2 .8-27.3 .2-105.8 .6 100.9 .2-22.5 1 35.7 .1-32.8 .8 34.2 .8-48.2 1 53.9 .2-9 .4 10.4 .2-11.9 .2 7.2 .2-36.7 .6 36.8 .9 14.2 .2-43.7 1.2 43.5 .6 3.4 .2-8.4 1 9.8 .2-19.1 .1 7.9 .4-7.4 .2 8.2 .2-9.8 1 23.8 2.2 6.4 .7-11.4 .6 9.7 .2-4.6 1.2 8.6 1.6 1.7 .2-2 .5 1.9 .2-2.1 1 3 .2-5 .6 4.2 1.2 1.7 .2-1.6 1.1 2 1 .3 .2-2 1 2 2.7 .6 1.6 .1 .2-.6 3.9 .9 21.3 .2 2.2-2.8 .7-11.7 1 4.7 .2-9.5 .8 5.4 .2-14.9 .8 9.9 .2-29.1 1 22.1 .1-42.2 1 21.1 .6-166 1.6 139.3 1.2 25.6 .5-71.9 1.2 74.6 .4-12.6 .6 15.8 .2-36.3 1 38 .4 2.3 .3-.9 .6-9.1 .4-162.7 .4 111.9 .2-55.4 .8 83.5 .2-82.1 .6 75.8 1 29.8 1.1 7.8 .2-68.8 .4 40.7 .2-40.4 1.4 68.4 .4-45.5 .7 44.1 .4-23.8 .6 27.3 .2-42.6 1 43.2 .2-28.3 .4 26.7 .2-14.4 1 32.7 .2-24.2 1.7 28.8 .6-18.2 .8 19.7 1.2 6.4 .2-11.8 .9 12.1 .2-1.8 .6 3.1 .2-5.1 1.2 6.7 .2-3.8 .6 3.6 .6-2.1 .5 3 1.4 1.5 .2-4.8 1.2 4.7 2.3 1.3 8.4 .9 20.2 .1 2.7-2.3 .2-6.5 .6 3 1 .6 .2-7.1 .5 4 .4-7.1 .2 2.5 .2-9.3 .8 11.1 .2-5.7 .4 4.5 .2-4.1 .2 2.5 .2-10.7 .8 12.3 .4-15.3 1.7 17.9 .4-19.2 .8 16.1 .2-15.5 .8 15.3 .4-13.8 .4 8.7 .1-4.4 1.4 12.1 .8 1.3 2 .3 .2-18.6 .5 13 .6-14.9 1 17.1 .2-15.8 .6 13.5 .4-4.2 .6 6.9 .7-16.4 .6 13.3 1 4.2 .2-11.9 .6 6.5 .6-9 .6-21.2 .2-107.9 .5 102.1 .2-52.1 .4 40.8 .2-8.1 1.2 41.2 1.8 10.8 .5-26 .8 22.9 .2-21 1.2 29.6 .4-13.9 .8 16 1.3 5.1 .2-7.6 1.4 9.2 1.6 1.7 .6-4.5 1.5 5.4 .4-1.4 .4 1.3 .2-1.7 .6 2.1 1.2 1 .2-2.8 .5 2.3 1 .8 .2-1.4 1.6 1.8 .2-.9 1 1 2.1 .3 19.8 .4 2.9-4.1 .6-13.2 .2 2.4 .2-2.9 .4 2.8 .3-9.1 .4 2.9 .2-26.3 .4 6.2 .4-3.9 .2-88.2 1.8 93.3 .8-57 1.5 64.1 .2-51 1.2 49.8 .2-47.8 .6 40.4 .2-23.2 .4 22.8 .1-21.4 .4 22.3 .2-29.8 .6 34.1 .2-24.3 .6 27.6 1 10.6 .8-36.6 .4 21.7 .2-22.4 .5 27.9 .4-18.8 .4 16.4 .2-33.3 .8 22.2 .4-39.4 .4 15.2 .2-76 .8 98.6 .7 9.3 .6-54.4 .6 43.3 .6-32.9 .8 43.3 1.5 16.2 .2-14.5 1 16.4 .2-17.9 .2 8.1 .2-9 .4 8.7 .2-14 .4 18.6 .4-15.5 .8 23.6 1.5 9.6 .2-7.2 1 8.2 .4-13 1.2 13.5 .2-5.3 .7 6.8 .2-4.3 .6 4.6 .2-5.3 1.2 6.6 .4-2.7 1.2 4.1 .1-4.4 1 4.6 1.2 .8 .2-1.4 1.9 1.9 .6-1.1 .6 1 .2-1.3 .6 1.3 2.2 .6 23.2 .5 1.2-1.5 1.2-8.1 .8 1 .1-10.8 .6 4.9 .4 .6 .6-.9 .2-14.9 .2 3.6 .2-4.7 .6 7.2 .8 .9 .2-36.1 1.1 25.5 .2-30.5 1.4 34.5 .2-59.6 .6 43.3 .2-35.3 1.7 51.3 .2-11.6 1.2 13 .2-56 .4 31.6 .4-13.4 1.2 29.6 .2-21.6 .5 21.8 .4-50.2 .6 41.6 .2-39.4 .4 31.6 .4-10.7 .4 20.1 .2-34.5 1 44 .2-47.7 .7 43.5 .2-40.4 1 44 .4 3.5 .2-19.7 1 14.5 .2-25 .2 4 .4-2 .2-128.8 .9 127.9 1 18.8 .2-34.2 1.6 44.9 .2-50 .2 6.9 .2-15.6 .7 43.4 .6-36.5 .6-147.6 .8 160.1 .2-82.9 1 95.3 .2-87.2 1.3 105.7 .8 8.8 .2-18.1 1.2 24.4 3.3 12.2 1.8 3.4 .2-17.1 .7 15.5 .2-6.4 .6 7.8 .2-1.7 .8 4.5 1.4 1.9 1.3 .8 .2-2.7 1.6 3.1 .2-3.5 .6 3.1 1 1.3 .2-2.4 .5 2 1.4 1 12.5 .8 2 0 1.7-3.3 1.6-46.9 .2-158.5 .4 148.9 1.8 17.6 .1-84.8 1.4 77 1 16.1 .2-56.1 .8 48.3 1.1 11.5 1.2 1.7 .2-13.3 1 12.8 .2-56.3 .8 47.1 1.1 13.2 .6-50.7 .6 37.7 1.2 15 1-18.2 .6 14.6 .2-34.1 .5 28.6 .4 6.8 .2-5.6 .2 3.8 .2-37.4 .6 25 .6-15.8 .6 11.7 .2-16.5 .4 22.8 .2-22.3 .9 32.7 .4-25.2 .8 26.8 .4 3.8 .2-8.8 .4 6.6 .2-33.3 1.2 31.5 .2-16.7 .9 20.8 .2-11.8 .4 9.9 .2-5.7 1.2 14.7 .2-16.3 .6 13.8 .7-7.3 1 9.1 1.2-24.3 .4-188.3 .4 140.6 .8 29 .2-31.9 .5 33.7 1.2 19.2 .2-51.6 .8 49.5 .2-50.2 .8 54.3 .8 12.3 1.1 6.1 3.7 8.8 .8-12 .8 11.9 .8 2.7 1.4 1.5 5.4 2.5 3.2 .6 .2-.7 1.1 .8 3.7 .3" fill="none" stroke="#00b4d8" stroke-width="3.9" stroke-dasharray="14.6 6.3"/>
<path d="M174.3 71.3V141.1m8.6-69.8V81.1m.7-9.8V88.9m1.6-17.6V95.1m.4-23.8V83.3m2-12V174.9m.4-103.6V83.5m.7-12.2V85.9m2-14.6V75.3m.4-4V329.1m.4-257.8V139.4m1.1-68.1V101m1.2-29.7V115.9m2-44.6V165.4m2.3-94.1V111.1m.4-39.8V140.9m1.6-69.6V84.4m3.5-13.1V89.1m.4-17.8V107.1m1.2-35.8V74.5m6.6-3.2V130m3.1-58.7V104.4m1.6-33.1V105.2m4.3-33.9V127.1m4.3-55.8V168.1m17.2-96.8V110.3m3.9-39V91m2.4-19.7V127.8m1.1-56.5V127.5m5.1-56.2V81.4m1.2-10.1V87.8m.8-16.5V77.7m2.7-6.4V75.4m1.6-4.1V99.3m.8-28V102.8m.4-31.5V114.4m.3-43.1V115.3m.4-44V144.1m.4-72.8V136.7m1.6-65.4V88.9m.4-17.6V178.2m3.9-106.9V194.5m.8-123.2V136.2m.8-64.9V115.8m1.5-44.5V296.5m.8-225.2V82.1m3.5-10.8V100.9m.8-29.6V169.6m.4-98.3V128.1m1.6-56.8V128.7m1.9-57.4V206.3m.8-135V78.5m.4-7.2V80.6m1.6-9.3V94.8m.3-23.5V185.2m.4-113.9V118.1m.8-46.8V102m5.9-30.7V122.1m1.6-50.8V82.6m.7-11.3V158.4m.4-87.1V133m5.5-61.7V85.4m11-14.1V110.2m3.5-38.9V97.9m7-26.6V80.3m5.9-9V93.6m4.3-22.3V74.7m.8-3.4V139.6m.7-68.3V137.9m.4-66.6V111.1m1.6-39.8V139.7m1.6-68.4V128.2m.4-56.9V126.5m3.5-55.2V87.3m.8-16V105.4m3.1-34.1V149.5m.4-78.2V111.6m1.9-40.3V110m2.4-38.7V106.9m1.5-35.6V138.4m2-67.1V143.2m1.6-71.9V141.2m1.5-69.9V84.3m.4-13V88.3m.8-17V79.2m3.1-7.9V109.4m.8-38.1V81m4.7-9.7V92.3m2-21V85.4m18.3-14.1V74.3m2.8-3V83.1m5.1-11.8V151m2.7-79.7V114.3m1.6-43V117.2m.4-45.9V93.9m.7-22.6V285.5m5.5-214.2V136.5m2.8-65.2V114.9m3.9-43.6V107.4m.7-36.1V132.2m1.2-60.9V96.6m.8-25.3V129.5m1.2-58.2V113.4m1.1-42.1V80.6m1.6-9.3V87.7m1.6-16.4V102.2m3.1-30.9V94.8m.4-23.5V78.8m10.9-7.5V160.8m4.3-89.5V78.1m23.9-6.8V137.4m1.6-66.1V84.7m6.6-13.4V76.4m3.1-5.1V100.2m2.4-28.9V77.6m5.5-6.3V145.3m.7-74V91.1m5.5-19.8V136.4m.4-65.1V93.8m.8-22.5V84m2.7-12.7V105.9m.8-34.6V84.4m2-13.1V82.6m1.5-11.3V146.6m1.6-75.3V77.1m4.3-5.8V81.8m13.3-10.5V75.6m20.3-4.3V141.8m1.2-70.5V205.4m2.7-134.1V120.5m1.6-49.2V169.7m7.1-98.4V78m.7-6.7V186.7m.8-115.4V82.5m1.2-11.2V83.9m2.7-12.6V80.5m1.2-9.2V132.7m1.2-61.4V155.1m4.7-83.8V76.1m3.5-4.8V109m.4-37.7V76.4m.8-5.1V83.8m.3-12.5V100.1m2-28.8V90.7m.8-19.4V77.9m.4-6.6V126.5m.8-55.2V86.4m1.5-15.1V92.8m6.7-21.5V188.2m1.5-116.9V84.1m1.2-12.8V79.8m2.4-8.5V82.9m18.7-11.6V177.8m.4-106.5V97m.4-25.7V77.9m4.7-6.6V83.9m1.6-12.6V87.2m2.7-15.9V107.6m1.2-36.3V91.7m1.2-20.4V173m3.5-101.7V75.3m.4-4V83.6m.7-12.3V102.3m.8-31V171.4m.4-100.1V116.9m1.2-45.6V86.4m1.2-15.1V112.3m2.3-41V78.9m1.2-7.6V90.6m1.6-19.3V117.5m.3-46.2V74.8m1.6-3.5V123.9m.8-52.6V137.7m.4-66.4V129.1m4.7-57.8V79.3m.4-8V75.2m1.9-3.9V122.4m1.2-51.1V125m.8-53.7V79.9m1.9-8.6V91.4m5.9-20.1V92.9m.8-21.6V84.3m.8-13V92.5m2.3-21.2V97.4m7-26.1V107.6m19.6-36.3V214.2m5.9-142.9V131.7m1.5-60.4V87m.4-15.7V195.3m3.2-124V150.8m3.5-79.5V76.6m2.3-5.3V78m2-6.7V101.6m2.7-30.3V108.6m6.7-37.3V147.7m.3-76.4V87m13-15.7V76.4m2.3-5.1V75.9m21.1-4.6V118.8m5.1-47.5V123.4m2.4-52.1V107.5m3.1-36.2V81.4m.4-10.1V111.9m1.1-40.6V132.1m4.7-60.8V194.3m1.6-123V76.5m.4-5.2V247.5m.4-176.2V119.3m1.9-48V82.4m.4-11.1V307.8m.4-236.5V75.9m.4-4.6V79.8m1.2-8.5V139.5m2.3-68.2V91.3m2.8-20V79m.4-7.7V94.2m.4-22.9V123.2m1.5-51.9V99.3m1.2-28V115.3m1.9-44V85.5m.4-14.2V108.2m.8-36.9V75.1m2-3.8V127m.8-55.7V77.5m.3-6.2V150.1m2.4-78.8V122.4m1.2-51.1V88.7m1.5-17.4V75.8m3.6-4.5V106.5m1.5-35.2V108.6m2.8-37.3V178.9m3.5-107.6V142.7m9-71.4V84.5m8.2-13.2V75.6m5.1-4.3V129m1.5-57.7V84.6m6.7-13.3V124.3m2.3-53V95.4m.4-24.1V129.8m.8-58.5V144.6m1.6-73.3V93.6m1.9-22.3V76.2m1.6-4.9V115.6m1.2-44.3V95.2m5.4-23.9V95m2-23.7V76.5m2.7-5.2V96.8m1.2-25.5V83m2.7-11.7V83.5m3.2-12.2V108.5m1.1-37.2V112.8m3.9-41.5V91.1m2.4-19.8V115.3m5.1-44V92.1m4.3-20.8V81.5m.8-10.2V83.5m4.3-12.2V95m3.9-23.7V175.7m1.1-104.4V107.9m4-36.6V94m16-22.7V132.4m.4-61.1V113.3m3.5-42V105.3m2.3-34V391.9m2-320.6V103.6m.4-32.3V89.5m1.2-18.2V75.2m1.5-3.9V78.1m1.6-6.8V84.4m2-13.1V78.8m5.4-7.5V113.6m3.2-42.3V202.8m1.1-131.5V74.6m2-3.3V87.9m.4-16.6V97.8m7-26.5V87.9m.8-16.6V138.7m26.6-67.4V215.7m5.5-144.4V105.8m.4-34.5V94m1.1-22.7V171m2.4-99.7V295m1.5-223.7V93.7m.4-22.4V82m.8-10.7V196m.8-124.7V108m1.2-36.7V83.2m1.9-11.9V104.9m1.2-33.6V113.3m.8-42V80.4m.8-9.1V137.5m2.7-66.2V122.4m.4-51.1V107.7m1.2-36.4V78.2m.7-6.9V104.4m2.4-33.1V330.9m.8-259.6V118.9m.4-47.6V84.3m1.9-13V207.6m1.2-136.3V109m1.2-37.7V96.6m1.9-25.3V237m2.4-165.7V113.3m10.9-42V92.3m2.4-21V154.5m.8-83.2V100.4m17.2-29.1V176.5m5-105.2V80.1m8.6-8.8V133.6m1.2-62.3V77.1m3.5-5.8V92.1m.4-20.8V84m4.3-12.7V181.5m1.2-110.2V111.5m1.6-40.2V108.3m2.3-37V142.7m2.8-71.4V134.8m3.5-63.5V76.9m3.5-5.6V85.6m9-14.3V112.9m5.5-41.6V142.4m26.2-71.1V79.1m.4-7.8V116.3m3.1-45V102m4.3-30.7V134.5m2.3-63.2V89.9m1.6-18.6V97.4m2-26.1V165.8m1.9-94.5V130.2m11.7-58.9V87.2m3.2-15.9V81.4m3.1-10.1V209.3m1.2-138V101.7m.4-30.4V84.4m1.5-13.1V383.1m2.4-311.8V101.2m28.5-29.9V110.9m6.7-39.6V88.1m.4-16.8V150.5m.4-79.2V140.4m1.5-69.1V81m2.4-9.7V76.6m.7-5.3V74.9m.8-3.6V92.5m.4-21.2V93.5m.4-22.2V97.6m2-26.3V147m.8-75.7V83.6m5.4-12.3V156.4m.8-85.1V82.2m2-10.9V138.5m1.5-67.2V121m2-49.7V165m1.2-93.7V78.8m1.9-7.5V195.4m3.1-124.1V90.4m4-19.1V91.1m1.5-19.8V102.5m1.2-31.2V118.6m25.4-47.3V81m.4-9.7V103m5.1-31.7V148.2m1.6-76.9V82.1m1.5-10.8V182.4m2-111.1V97.6m.4-26.3V141.8m2.7-70.5V78.2m.8-6.9V95.7m.4-24.4V119.1m3.5-47.8V116.4m.4-45.1V74.8m1.2-3.5V115.1m.7-43.8V98.3m1.6-27V107.8m.8-36.5V186.1m.4-114.8V124.5m2.3-53.2V87.1m2.4-15.8V119.1m1.9-47.8V91.4m2.4-20.1V101.1m1.5-29.8V75.7m2-4.4V100.6m.8-29.3V83.7m.8-12.4V83.5m1.1-12.2V150.5m1.6-79.2V176.8m.8-105.5V78.3m.4-7V74.4m.7-3.1V85.2m3.2-13.9V119.5m1.1-48.2V91.8m1.2-20.5V159.4m7.8-88.1V110.5m1.6-39.2V119.8m23.5-48.5V109.7m1.9-38.4V203.4m.4-132.1V119.6m.8-48.3V81.4m1.6-10.1V182.7m.7-111.4V102.8m1.6-31.5V99m2.8-27.7V316.3m.7-245V136.8m1.2-65.5V209.3m2.7-138V99.4m.4-28.1V132.7m.4-61.4V90.4m.8-19.1V82.2m1.6-10.9V268.3m.8-197V74.9m5.4-3.6V78.3m.4-7V84.5m1.6-13.2V100.4m1.6-29.1V100.1m.7-28.8V128.2m2.4-56.9V86.2m2.7-14.9V156.2m2.8-84.9V85.8m.7-14.5V139.2m3.6-67.9V167.6m1.5-96.3V106.1m2-34.8V116.9m20.3-45.6V125.2m.4-53.9V78.7m4.3-7.4V89m.8-17.7V104.6m.8-33.3V82.1m.8-10.8V286.4m1.5-215.1V141.3m2.8-70V119.4m.3-48.1V165.6m.8-94.3V82.9m1.6-11.6V89.5m1.2-18.2V110.3m7.8-39V393m.4-321.7V81m.4-9.7V81.5m.4-10.2V92.5m1.5-21.2V97.3m.4-26V109.3m.8-38V90.1m1.6-18.8V135.3m2.7-64V92.3m.4-21V94.1m1.6-22.8V113.8m.3-42.5V79.4m1.2-8.1V74.4m.4-3.1V177.7m3.1-106.4V127.8m.4-56.5V107.3m.4-36V182.6m2.4-111.3V143.4m.4-72.1V79.1m1.5-7.8V138.7m.8-67.4V89.7m.8-18.4V75.9m3.5-4.6V116.6" stroke="#0000ff" stroke-opacity="0.62" stroke-width="3" fill="none"/>
<path d="M178.8 71.3V150.6m3.5-79.3V158m3.5-86.7V115.7m2.3-44.4V107.4m3.6-36.1V173.1m1.9-101.8V111.9m.8-40.6V89.4m3.5-18.1V85.5m1.6-14.2V78.1m8.6-6.8V78m1.6-6.7V83.9m.3-12.6V90.6m3.6-19.3V77m.7-5.7V80.5m.8-9.2V75.8m6.3-4.5V119.5m5.5-48.2V78.6m1.1-7.3V80.1m21.9-8.8V128.8m1.2-57.5V108.4m.8-37.1V85m1.6-13.7V167.3m.7-96V127m2-55.7V85.5m1.2-14.2V161.5m.8-90.2V75.4m1.1-4.1V350.4m3.9-279.1V93.6m2-22.3V87.7m1.2-16.4V268.2m.4-196.9V77.9m.7-6.6V103.8m.8-32.5V90.9m.4-19.6V78.9m1.2-7.6V146.1m.4-74.8V109.2m.4-37.9V194.1m.7-122.8V95.4m2-24.1V90.1m.8-18.8V133.5m.4-62.2V80.1m1.2-8.8V98.8m.7-27.5V107.8m2.8-36.5V128.1m1.9-56.8V80.2m2.8-8.9V117m2.3-45.7V92.8m1.2-21.5V111.2m1.5-39.9V76.2m1.6-4.9V96.2m1.2-24.9V82.2m1.5-10.9V110.9m4.7-39.6V101.5m18.8-30.2V142.1m10.6-70.8V79.5m2.7-8.2V295m.8-223.7V78m1.2-6.7V152m1.5-80.7V92.9m3.2-21.6V298.5m2.3-227.2V79.3m6.3-8V93.1m3.5-21.8V326.8m3.1-255.5V208.6m2.7-137.3V85.6m1.6-14.3V209.5m.8-138.2V86.2m2.7-14.9V90.9m1.6-19.6V131.1m1.2-59.8V96.9m3.9-25.6V94.8m2.3-23.5V100.7m32.1-29.4V241.1m5.5-169.8V186.2m.8-114.9V142.7m.3-71.4V82.5m4-11.2V125.8m1.1-54.5V141.5m1.6-70.2V82.5m5.9-11.2V80.3m2.7-9V174.9m5.9-103.6V140.6m.7-69.3V222.2m14.5-150.9V83.7m21.5-12.4V103.7m6.7-32.4V84.4m3.1-13.1V77.4m3.9-6.1V136.2m1.2-64.9V76.7m1.9-5.4V147.2m2.8-75.9V98.5m2.3-27.2V85.5m5.5-14.2V149.8m4.3-78.5V87.8m1.6-16.5V91.2m10.9-19.9V139.6m3.1-68.3V89.4m22.3-18.1V77.4m5.5-6.1V115.4m.4-44.1V153.1m5.1-81.8V168.1m1.2-96.8V75.2m.4-3.9V122.8m.7-51.5V132.1m5.1-60.8V77.9m6.7-6.6V91m4.3-19.7V90.9m3.1-19.6V74.3m1.6-3V92m1.5-20.7V105.1m2.8-33.8V148.6m4.7-77.3V89.6m.4-18.3V108.4m3.1-37.1V203.7m2.7-132.4V134.1m7.1-62.8V75.6m17.9-4.3V89.6m6.3-18.3V79.8m.8-8.5V75m1.6-3.7V173.8m.3-102.5V134.2m2-62.9V77.4m.4-6.1V80.3m.8-9V101.8m3.5-30.5V76.6m1.6-5.3V92.4m.7-21.1V101.8m.4-30.5V129.8m3.2-58.5V146.7m.3-75.4V94.7m.8-23.4V98.5m.8-27.2V168.8m3.1-97.5V154.4m.8-83.1V89.3m6.7-18V88.7m.8-17.4V122.6m1.5-51.3V82.8m13.3-11.5V107.4m1.6-36.1V78.5m19.9-7.2V95.5m.8-24.2V121.2m1.6-49.9V113.9m3.9-42.6V80.8m2.3-9.5V145.4m2-74.1V255.4m.8-184.1V74.7m.7-3.4V115.8m3.6-44.5V90m2.3-18.7V130.8m5.1-59.5V80.2m.8-8.9V87.2m4.3-15.9V150.2m.4-78.9V98.1m1.9-26.8V115.8m.4-44.5V192.8m.4-121.5V99m2.4-27.7V78.6m30.1-7.3V86.8m3.9-15.5V80.7m1.2-9.4V81.7m1.5-10.4V116.6m3.9-45.3V82.6m1.6-11.3V97.5m2.3-26.2V110m3.2-38.7V143.2m.8-71.9V175.7m1.1-104.4V115.7m.4-44.4V118.5m.8-47.2V96.2m2.7-24.9V90.5m2.8-19.2V130.7m1.1-59.4V96.2m2.8-24.9V96.6m3.9-25.3V81.2m.8-9.9V80.7m.8-9.4V83.2m.7-11.9V181m.4-109.7V76.6m1.2-5.3V112.4m.8-41.1V110.8m.8-39.5V146.9m1.9-75.6V76.1m1.2-4.8V99.6m.4-28.3V82.2m.8-10.9V129.2m.8-57.9V76.2m3.9-4.9V92m3.9-20.7V100.7m19.5-29.4V117.9m5.9-46.6V354.7m.8-283.4V76.1m4.3-4.8V100.5m.4-29.2V118.9m1.1-47.6V76.3m1.6-5V92.9m.4-21.6V100.4m.8-29.1V123.7m.4-52.4V78.5m.4-7.2V91.9m1.5-20.6V102.9m.4-31.6V79.2m2.8-7.9V104.1m4.7-32.8V128.5m.7-57.2V115.7m1.2-44.4V143.6m.4-72.3V116.1m.8-44.8V107.9m6.6-36.6V91m1.6-19.7V78.7m.4-7.4V85.1m1.2-13.8V150.6m5-79.3V177.5m1.6-106.2V85.6m2.4-14.3V103m1.1-31.7V85.5m7.8-14.2V74.5m5.1-3.2V119.3m10.6-48V150m1.6-78.7V90.2m2.3-18.9V152.7m1.6-81.4V123.6m4.3-52.3V135.6m8.2-64.3V91.8m2.7-20.5V117.8m3.5-46.5V87.4m1.2-16.1V184.8m.8-113.5V128.3m4.3-57V161.2m2.7-89.9V104.9m.8-33.6V202.1m5.5-130.8V140.8m7.4-69.5V110m1.2-38.7V90.1m25.4-18.8V78m6.7-6.7V76.3m.7-5V319.3m.4-248V91m1.2-19.7V89.9m3.5-18.6V99.9m2.4-28.6V132.3m2.7-61V81.7m2.8-10.4V77.6m6.6-6.3V110.9m2.7-39.6V80.6m2.4-9.3V83m1.5-11.7V103.6m.8-32.3V177.6m.4-106.3V100.9m4.7-29.6V228.9m1.6-157.6V81m3.9-9.7V108.9m5.5-37.6V137.6m.7-66.3V125.3m17.3-54V90.1m5.8-18.8V145.8m2.8-74.5V84.4m5-13.1V114.8m2-43.5V102.5m9.8-31.2V82m1.9-10.7V105m.4-33.7V190.8m3.9-119.5V107.3m3.9-36V109.5m1.6-38.2V95.7m.4-24.4V130.1m.8-58.8V111.1m.4-39.8V82.7m1.9-11.4V80.6m5.5-9.3V119.9m6.3-48.6V103.1m7.8-31.8V122.6m9.4-51.3V83.2m8.2-11.9V83.3m3.1-12V126.5m2-55.2V180.5m.7-109.2V116.2m.4-44.9V165.8m2-94.5V82.9m2.7-11.6V88.5m2-17.2V78.9m.4-7.6V78.8m.8-7.5V135.6m1.9-64.3V80.9m1.2-9.6V101.2m.8-29.9V116.4m.4-45.1V118.5m2.7-47.2V89.2m2.7-17.9V94.5m3.6-23.2V118.7m1.1-47.4V118.6m1.6-47.3V84.4m1.2-13.1V120.4m.8-49.1V98.6m1.1-27.3V101.7m3.9-30.4V82m3.2-10.7V91m25.8-19.7V149.4m1.5-78.1V88.4m4.3-17.1V143.6m5.9-72.3V87.1m.8-15.8V177.3m6.2-106V295.3m2-224V116.1m.8-44.8V84.7m4.7-13.4V128.3m.4-57V131.9m3.1-60.6V158m1.6-86.7V88.6m.4-17.3V111.2m.7-39.9V84.5m2.4-13.2V164.5m.4-93.2V147.7m.4-76.4V110.3m.4-39V77.6m.3-6.3V98.6m3.6-27.3V99.8m1.5-28.5V319.2m1.2-247.9V97.4m5.5-26.1V108.6m.8-37.3V76.1m1.1-4.8V78.1m26.2-6.8V90.5m2-19.2V108.3m.8-37V132m.8-60.7V86m.7-14.7V77.2m.4-5.9V81.7m.4-10.4V177.3m3.5-106V168.9m.8-97.6V159.1m.8-87.8V107.6m2-36.3V97.2m.4-25.9V115.6m.3-44.3V79.5m.8-8.2V329.4m3.2-258.1V111.6m.3-40.3V122.4m2.4-51.1V83.1m.8-11.8V77.7m1.9-6.4V93.2m11.4-21.9V184.7m1.1-113.4V103.7m1.2-32.4V83.8m29.7-12.5V83.8m11-12.5V120.3m1.9-49V112.3m4.3-41V90.9m.8-19.6V98.5m.8-27.2V93.5m2-22.2V116.4m1.1-45.1V86.3m1.6-15V80m1.6-8.7V76.9m4.7-5.6V101.5m.4-30.2V88.2m.3-16.9V167.4m.8-96.1V91m.4-19.7V77m.8-5.7V158.6m15.6-87.3V100.7m29.4-29.4V77.7m1.5-6.4V188.6m.8-117.3V75.7m.8-4.4V84.5m.8-13.2V146.5m1.9-75.2V89.4m3.6-18.1V92.3m.7-21V102.7m.4-31.4V80.6m2.4-9.3V150.1m1.2-78.8V116.7m.7-45.4V117.3m2-46V90.9m.8-19.6V97.5m1.1-26.2V78.4m.4-7.1V77m.4-5.7V125.4m.8-54.1V100m3.5-28.7V103.9m.4-32.6V76.7m1.2-5.4V137m.4-65.7V80m1.6-8.7V79.6m.3-8.3V123.8m.4-52.5V102.8m2.8-31.5V208.7m1.1-137.4V215m.4-143.7V103.5m.4-32.2V76.8m.8-5.5V169.6m1.2-98.3V130.5m.4-59.2V88.7m3.1-17.4V77.2m3.5-5.9V104.7m.8-33.4V110.4m1.2-39.1V123.5m.8-52.2V165.5m2.3-94.2V108.8m.8-37.5V80.9" stroke="#0000ff" stroke-opacity="0.62" stroke-width="3" fill="none"/>
<path d="M412.6 71.3V414.3m3.2-343V414.3m61.4-343V120.6m.7-49.3V135.3m.2-64V143.4m.4-72.1V134.1m.2-62.8V111.7m2.2-40.4V151.3m.4-80V125.3m1.3-54V145.5m.6-74.2V145.1m1.6-73.8V136.6m1.7-65.3V157.4m.2-86.1V169.5m1-98.2V162.2m.4-90.9V160.7m.6-89.4V158.7m.2-87.4V116.3m.2-45V131.6m1-60.3V114.4m1.9-43.1V163.5m.2-92.2V129.5m.2-58.2V104.8m61-33.5V513.2m139.1-441.9V113.4m.9-42.1V127.2m.4-55.9V110.7m.4-39.4V143.4m1-72.1V138.2m1.6-66.9V104.5m.5-33.2V141.7m.2-70.4V146m.8-74.7V146.7m.2-75.4V128m.8-56.7V133.8m1.4-62.5V155.1m.2-83.8V150.6m.7-79.3V100.4m.6-29.1V157.8m.8-86.5V97.7m1-26.4V145.5m.2-74.2V149.5m60.2-78.2V137.1m.6-65.8V125.9m1-54.6V129m2.9-57.7V128.5m.4-57.2V96.8m2.2-25.5V100.2m1.1-28.9V93.7m2.2-22.4V129.6m.6-58.3V115.8m.2-44.5V140.1m202.7-68.8V134.8m1.6-63.5V103.5m.4-32.2V140.4m.2-69.1V96.7m.6-25.4V98.1m1.3-26.8V100m1-28.7V129.4m.4-58.1V111.8m.6-40.5V116.4m4.1-45.1V131.7m348.1-60.4V123.8m.4-52.5V93.6m.2-22.3V128.7m1.1-57.4V111.8m.2-40.5V127.2m.6-55.9V129.5m.4-58.2V115.8m.2-44.5V105.3m1-34V108.5m.4-37.2V482.5m1.7-411.2V108.1m.8-36.8V128.7m2.4-57.4V126.9m.5-55.6V139.9m.4-68.6V106.4" stroke="#add8e6" stroke-opacity="0.7" stroke-width="3" fill="none"/>
</g>
<path d="M1520.9 73.3V499.6" stroke="#c4c4c4" stroke-width="2.1" fill="none"/>
<path d="M106.4 73.3H1520.9 M106.4 499.6H1520.9 M106.4 73.3V499.6" stroke="#000" stroke-width="2.1" fill="none" stroke-linecap="square"/>
<path d="M97.4 473H106.4M97.4 406.3H106.4M97.4 339.7H106.4M97.4 273.1H106.4M97.4 206.5H106.4M97.4 139.9H106.4M97.4 73.3H106.4M194.6 499.6V508.6M337.3 499.6V508.6M480.3 499.6V508.6M623 499.6V508.6M766 499.6V508.6M908.7 499.6V508.6M1051.7 499.6V508.6M1194.4 499.6V508.6M1337.4 499.6V508.6M1480.1 499.6V508.6M1520.9 73.3H1529.9M1520.9 158.6H1529.9M1520.9 243.8H1529.9M1520.9 329.1H1529.9M1520.9 414.3H1529.9M1520.9 499.6H1529.9M1625.6 73.3H1634.6M1625.6 158.6H1634.6M1625.6 243.8H1634.6M1625.6 329.1H1634.6M1625.6 414.3H1634.6M1625.6 499.6H1634.6" stroke="#000" stroke-width="2.1" fill="none"/>
<path d="M1625.6 73.3V499.6" stroke="#000" stroke-width="2.1" fill="none"/>
<text x="88.2" y="482.6" text-anchor="end">0</text>
<text x="88.2" y="415.9" text-anchor="end">5</text>
<text x="88.2" y="349.3" text-anchor="end">10</text>
<text x="88.2" y="282.7" text-anchor="end">15</text>
<text x="88.2" y="216.1" text-anchor="end">20</text>
<text x="88.2" y="149.5" text-anchor="end">25</text>
<text x="88.2" y="82.9" text-anchor="end">30</text>
<text transform="translate(192.6 551) rotate(-45)" x="0" y="9.8" text-anchor="middle">2002</text>
<text transform="translate(335.3 551) rotate(-45)" x="0" y="9.8" text-anchor="middle">2004</text>
<text transform="translate(478.3 551) rotate(-45)" x="0" y="9.8" text-anchor="middle">2006</text>
<text transform="translate(621 551) rotate(-45)" x="0" y="9.8" text-anchor="middle">2008</text>
<text transform="translate(764 551) rotate(-45)" x="0" y="9.8" text-anchor="middle">2010</text>
<text transform="translate(906.7 551) rotate(-45)" x="0" y="9.8" text-anchor="middle">2012</text>
<text transform="translate(1049.7 551) rotate(-45)" x="0" y="9.8" text-anchor="middle">2014</text>
<text transform="translate(1192.4 551) rotate(-45)" x="0" y="9.8" text-anchor="middle">2016</text>
<text transform="translate(1335.4 551) rotate(-45)" x="0" y="9.8" text-anchor="middle">2018</text>
<text transform="translate(1478.1 551) rotate(-45)" x="0" y="9.8" text-anchor="middle">2020</text>
<text x="1539.1" y="82.9" text-anchor="start">0</text>
<text x="1539.1" y="168.2" text-anchor="start">20</text>
<text x="1539.1" y="253.4" text-anchor="start">40</text>
<text x="1539.1" y="338.7" text-anchor="start">60</text>
<text x="1539.1" y="423.9" text-anchor="start">80</text>
<text x="1539.1" y="509.2" text-anchor="start">100</text>
<text x="1643.8" y="82.9" text-anchor="start">0</text>
<text x="1643.8" y="168.2" text-anchor="start">50</text>
<text x="1643.8" y="253.4" text-anchor="start">100</text>
<text x="1643.8" y="338.7" text-anchor="start">150</text>
<text x="1643.8" y="423.9" text-anchor="start">200</text>
<text x="1643.8" y="509.2" text-anchor="start">250</text>
<text transform="translate(38.5 286.4) rotate(-90)" x="0" y="0" text-anchor="middle">Streamflow [m³/s]</text>
<text transform="translate(1618.5 286.4) rotate(-90)" x="0" y="0" text-anchor="middle">Rainfall [mm]</text>
<text transform="translate(1724.7 287.4) rotate(-90)" x="0" y="0" text-anchor="middle">SCA</text>
<text x="813.7" y="612.9" text-anchor="middle">Date</text>
<text x="1230.4" y="36" text-anchor="middle" style="font-weight:bold;font-size:26.25px">HBV model-generated Streamflow Analysis</text>
<text x="1239.4" y="65.7" text-anchor="middle" style="font-weight:bold;font-size:26.15px">(Aval El Heri Basin) from 2001-09-01 to 2019-08-31</text>
<rect x="460.1" y="639.1" width="1550.5" height="45.8" rx="5" ry="5" fill="#fff" stroke="#d0d0d0" stroke-width="2"/>
<path d="M470.2 660.8H523.1" stroke="#f0b800" stroke-width="3.9" stroke-linecap="square"/>
<path d="M877.9 660.8H931" stroke="#00b4d8" stroke-width="3.9" stroke-dasharray="15 5.8"/>
<rect x="1292" y="651" width="54" height="19.5" fill="#e6ebee" stroke="#dbe1e5" stroke-width="1.5"/>
<rect x="1651" y="651" width="54" height="19.5" fill="#4d4dff" stroke="#2323e6" stroke-width="2"/>
<rect x="1874.5" y="651" width="54" height="19.5" fill="#c5e6ef" stroke="#b4dce6" stroke-width="2"/>
<text x="543.2" y="669.9" text-anchor="start">Observed Streamflow</text>
<text x="950.5" y="669.9" text-anchor="start">Simulated Streamflow</text>
<text x="1366.4" y="669.9" text-anchor="start">95% CI Simulated</text>
<text x="1723" y="669.9" text-anchor="start">Rainfall</text>
<text x="1946.2" y="669.9" text-anchor="start">SCA</text>
<defs><clipPath id="sc1"><rect x="1909.3" y="73.2" width="530.6" height="425.7"/></clipPath></defs>
<path clip-path="url(#sc1)" d="M1952.9 462.1h0M2034 400.4h0M1967.9 459.2h0M1968.8 468.1h0M2001 388.2h0M2051.2 458.5h0M1956.6 467.4h0M2005.4 398.4h0M2016.6 455.7h0M2060.9 434.3h0M1947.2 443.7h0M1933 476.6h0M2008.3 430.3h0M1992.9 428.7h0M1944.1 439.9h0M1960.3 423.6h0M1982.6 411.1h0M2010.5 443.8h0M2060.6 416.9h0M2009.6 457.2h0M1933.6 475.2h0M1963.8 451.5h0M1946.7 475.3h0M2029.9 379.8h0M1953.8 471.3h0M1973 439.4h0M1961.1 465.4h0M2014.8 472.4h0M1969.4 456h0M2028.1 420.9h0M2053.6 435.2h0M2046.6 443.1h0M1979 452h0M1992.3 398.6h0M1986.6 464.9h0M1966.4 433.7h0M2025.5 457.8h0M2056 425.8h0M1982.5 438.6h0M1995.8 426.9h0M2054.5 423.7h0M1972.2 478.4h0M1997.5 437.4h0M1978.1 468.4h0M1946.5 463.9h0M2039.4 406.7h0M1977.3 437.4h0M1964.1 427.3h0M1970 449.5h0M1941.3 449.5h0M1942.9 464.2h0M1945.4 460.7h0M1987.4 418.8h0M1945.9 452.4h0M2034.3 457.5h0M1949.7 446.8h0M1976.1 471.5h0M1939.7 449.8h0M1974.9 469.5h0M1989.7 472.8h0M1986.2 429.7h0M1980.6 401.3h0M1966.2 472.8h0M2009.3 384.7h0M1957.3 475.8h0M2015.9 469.1h0M2026.6 445.8h0M2061.1 417.6h0M1977.4 429.1h0M1959.8 440.8h0M2008.6 407.3h0M2019 402.2h0M1942 472h0M2014.4 418.2h0M1977.4 422.4h0M1952.3 478.9h0M1983.8 451.9h0M1942.7 471.1h0M1958.9 470.7h0M2035.3 466.8h0M1964.1 424.5h0M2023.4 411.2h0M2032.5 412.2h0M2037.4 471.2h0M1995.9 455.4h0M1993.4 432.4h0M1989 390.3h0M1963.4 421.8h0M2016.6 388.9h0M1940.6 464.7h0M2012.9 478.3h0M2036.7 469h0M1977.7 438.5h0M1984.6 453.6h0M1965.7 450.4h0M1977.4 402.8h0M1981.9 475.8h0M2002.7 468.1h0M2085.1 432.7h0M2035.4 465.2h0M2043.1 431.4h0M2033 383.4h0M2026.9 467.4h0M1960.4 466.2h0M1987.8 445.8h0M1968 471.6h0M2026.6 416h0M1944.6 457.3h0M2064.4 399.7h0M1975.9 403.5h0M1978.4 442.6h0M2051.8 438.2h0M1974.7 448.8h0M1961 475.8h0M1979.8 430h0M1983.4 408.6h0M2034.3 469.1h0M2060.3 434.6h0M1999.8 382.7h0M1994.6 452.9h0M2014.6 437.3h0M1961.9 468.6h0M1963.4 475.4h0M2024.1 409.7h0M1935.8 473.4h0M2034 467.4h0M1967.4 451.8h0M2020.1 389.2h0M1968.4 416.5h0M2018.1 441.6h0M1974.6 475.1h0M2024.5 416.3h0M2027.9 441h0M1973.3 440.7h0M2003.7 469.9h0M1948.6 474.9h0M2042.8 452h0M2042.4 428.3h0M1959 462.2h0M1984.8 453.5h0M2045.3 426.9h0M1992.9 459.9h0M1939.9 459.4h0M1964 474.8h0M2004 451.7h0M1934.3 455.9h0M2081 421.3h0M1992.7 392.3h0M1961.1 439.1h0M2002.9 431.2h0M1956.7 472.8h0M1983.2 399.7h0M1948.2 468.7h0M1941.8 475.1h0M2051.8 431.3h0M1995.3 392.9h0M1980.5 431.3h0M2052.9 406.1h0M1983.4 424.4h0M2041.2 439.8h0M1952.4 459.8h0M1961.1 465.8h0M1984.5 449.8h0M1946.1 451.1h0M1978.5 408.9h0M2045.6 393.6h0M1946.7 443.9h0M2076.5 445.2h0M2035.8 443.9h0M1989.5 387.8h0M1997.9 423.7h0M1943.3 445.8h0M1948.8 449.5h0M1984.3 471.3h0M1964.1 421.8h0M2034.3 444.5h0M1990.4 436.2h0M1975.2 442h0M2022.5 436.9h0M1975.9 456.3h0M1990.1 440.2h0M1981.8 472.5h0M1995.6 387.2h0M1977.7 446.4h0M1978.5 478.7h0M2010 407.6h0M1954 465.3h0M2039 442.7h0M1987 424.5h0M2000.5 420.6h0M2039.3 472h0M2005.9 406.8h0M1975.8 427.5h0M1991.4 438.4h0M2014.1 440.3h0M1995.2 386.6h0M2034.6 390.9h0M1948.4 471.1h0M2010.9 450.4h0M1945.4 467.8h0M1935.8 465h0M1967.5 447.3h0M2081.3 446h0M2002.2 469h0M2006.9 440.4h0M1985.3 459.7h0M1986.7 458.6h0M1950.5 435.3h0M1950.5 465.9h0M1946.7 470.7h0M2040.5 437.9h0M1940.1 463.5h0M2008.6 436.4h0M2013.1 409.6h0M1941.5 469.9h0M1951.1 474.3h0M1966.2 478.1h0M1957.8 473h0M2068.7 436.3h0M1949.3 474.2h0M1952.8 454.4h0M2021.8 469h0M1944.8 458.3h0M1961.9 454.5h0M1932.7 454.1h0M2033.4 444.1h0M1982.8 418h0M1981.7 471.8h0M2023.9 464.9h0M2021.5 462.8h0M1979.1 477.9h0M2004.1 434.3h0M1980.7 439.8h0M1989.6 459.8h0M1966.9 428.9h0M2045.5 419.1h0M1993.7 405.3h0M2032.6 462.7h0M1971.6 439.9h0M1967.7 441.3h0M1940.2 452.9h0M1982.3 463.1h0M2004 388h0M1956.8 436.5h0M2001.4 476.8h0M1991.5 451.9h0M2007.2 426.3h0M2039.6 423.9h0M2018.5 381.2h0M2033 457.3h0M1992.5 466.7h0M1982.3 478.9h0M1962.9 433.4h0M2060.9 447.9h0M1950.5 472h0M2061.9 425.7h0M1957 460h0M1970.6 468.5h0M1947.3 477.5h0M1978.6 414.7h0M1963.7 444.3h0M2005.5 450.3h0M1965.9 459.8h0M1940.3 447.9h0M2049.3 432.7h0M1948.5 454.7h0M1963.7 428.9h0M2028.9 469.1h0M2014.4 388.6h0M1940.2 479.5h0M2020.3 389.7h0M1933.2 460.4h0M2020.9 474.6h0M2022.1 434h0M2018.5 455.4h0M1974.4 478h0M2000.2 461.4h0M2006.4 479.2h0M2015 452h0M1952.1 432.6h0M1961.3 432.4h0M1942.4 445.9h0M2019.5 475h0M1960.6 425h0M2026.5 430.2h0M1986.8 460.4h0M1959.2 443.9h0M1997.4 469.5h0M2044.8 405.2h0M1961.5 469.9h0M1948.9 469.3h0M2000.5 472.3h0M1975.7 460h0M1936.7 449.9h0M2023.2 446.9h0M2042.3 424.4h0M1979.8 467.8h0M2016.8 450.9h0M1971 479.4h0M2037.4 424.9h0M1999.2 479.5h0M1941.5 455h0M1975 476h0M1942.5 444.9h0M1992.7 477.4h0M1942.2 449.6h0M1983.8 476.3h0M1934.6 476h0M2001.4 475.4h0M1936.7 435.4h0M1986.5 478.4h0M1941.4 463.3h0M1997.3 476.4h0M1937.5 454.3h0M1998 473.9h0M1933.5 456.4h0M1957.5 476.8h0M1939 434.1h0M1995.4 478.8h0M1941.2 450h0M2011.2 473.8h0M1942.7 459.5h0M1935.9 476.9h0M1934 435.3h0M1969.6 476.7h0M1936.8 474.6h0M1975.2 477.2h0M1941 464.8h0M1943.2 479.5h0M1939 470.6h0M1994.3 477h0M1939.4 447.5h0M1974.2 477.8h0M1936.3 473.5h0M1948.4 473.8h0M1940 444.8h0M1967.6 478.7h0M1941.3 439.2h0M2004.8 477.3h0M1939 474.2h0M1945.3 476.8h0M1935.5 457.9h0M1983.1 474.4h0M1941 458.8h0M1944.4 477h0M1933.9 463.9h0M2007.1 474.9h0M1934.4 475.5h0M1973.1 476.4h0M1938.1 458.2h0M1995.8 477.2h0M1939.7 431.9h0M1955.4 473.9h0M1940.2 454.3h0M1940.5 478.4h0M1936.9 428.5h0M1958.3 477h0M1936.7 479.1h0M1996.5 477.1h0M1938.8 474.6h0M2005.5 473.5h0M1941.1 447.4h0M1946.3 474.4h0M1941.4 429.6h0M1941.7 473.7h0M1938.8 436.4h0M1977.9 478.8h0M1936.1 477.2h0M1944.6 477.6h0M1939.5 445.1h0M1975.7 478.3h0M1942.2 473h0M1971.9 475.5h0M1938.7 462.5h0M1948.2 478.6h0M1942.5 463.8h0M1953.2 473.8h0M1933.6 449.4h0M1954.9 475.2h0M1942.6 440.2h0M2360.3 92.6h0M2416.3 272.9h0M2266.9 170.8h0M2220.2 232.2h0M2163.2 244.4h0M2199.5 250h0M2262.3 255.1h0M2192.8 287.9h0M2079.7 228h0M2044.9 234.5h0M2079.7 269.7h0M2036.1 305.7h0M2095.2 288.9h0M2096.3 309.9h0M2067.8 321.2h0M2027.8 329.2h0M2119.6 332.4h0M2096.3 341.8h0M2113.4 361h0M2123.3 368h0M2155.9 381.2h0M2211.9 341.8h0M2269.5 345.1h0M2329.2 339.5h0M2301.2 419.6h0M2137.8 444.9h0M2202.1 473.9h0M2095.2 475.3h0M2091.6 411.6h0M2103 439.3h0M2073.5 426.6h0M2007.1 347.4h0M1967.1 372.7h0M2015.4 347.9h0M2046 356.8h0M2058.4 367.1h0M2076.1 357.7h0M2016.4 479.5h0M2047.5 465.5h0" stroke="#00b4d8" stroke-width="19.3" stroke-linecap="round" fill="none"/>
<path d="M1909.3 498.9L2439.9 73.2" stroke="#808080" stroke-width="3.4" stroke-dasharray="13 5.6" fill="none"/>
<rect x="1927.8" y="86.3" width="164.9" height="128.9" rx="5" ry="5" fill="#fff" fill-opacity="0.8" stroke="#d4d4d4" stroke-width="2"/>
<text x="1935.6" y="114.1" text-anchor="start">RMSE: 2.52</text>
<text x="1935.6" y="143.5" text-anchor="start">NSE: 0.65</text>
<text x="1935.6" y="173.3" text-anchor="start">R²: 0.69</text>
<text x="1935.6" y="202" text-anchor="start">KGE: 0.62</text>
<rect x="1909.3" y="73.2" width="530.6" height="425.7" fill="none" stroke="#000" stroke-width="2.1"/>
<text x="1933.4" y="537.6" text-anchor="middle">0</text>
<text x="2037.2" y="537.6" text-anchor="middle">20</text>
<text x="2140.9" y="537.6" text-anchor="middle">40</text>
<text x="2244.6" y="537.6" text-anchor="middle">60</text>
<text x="2348.4" y="537.6" text-anchor="middle">80</text>
<text x="1891.1" y="489.1" text-anchor="end">0</text>
<text x="1891.1" y="395.4" text-anchor="end">20</text>
<text x="1891.1" y="301.7" text-anchor="end">40</text>
<text x="1891.1" y="208" text-anchor="end">60</text>
<text x="1891.1" y="114.3" text-anchor="end">80</text>
<path d="M1933.4 498.9V507.9M2037.2 498.9V507.9M2140.9 498.9V507.9M2244.6 498.9V507.9M2348.4 498.9V507.9M1900.3 479.5H1909.3M1900.3 385.8H1909.3M1900.3 292.1H1909.3M1900.3 198.4H1909.3M1900.3 104.7H1909.3" stroke="#000" stroke-width="2.1" fill="none"/>
<text x="2174.6" y="572.9" text-anchor="middle">Observed Streamflow [m³/s]</text>
<text transform="translate(1841.4 286.1) rotate(-90)" x="0" y="0" text-anchor="middle">Simulated Streamflow [m³/s]</text>
</g>
<g transform="translate(16.5 1414.2) scale(0.984)">
<path d="M106.4 478.7H1520.9M106.4 377.4H1520.9M106.4 276H1520.9M106.4 174.7H1520.9M106.4 73.3H1520.9M194.6 73.3V499.6M337.3 73.3V499.6M480.3 73.3V499.6M623 73.3V499.6M766 73.3V499.6M908.7 73.3V499.6M1051.7 73.3V499.6M1194.4 73.3V499.6M1337.4 73.3V499.6M1480.1 73.3V499.6" stroke="#b0b0b0" stroke-width="2" stroke-dasharray="2.1 3.4" fill="none"/>
<defs><clipPath id="mc2"><rect x="106.4" y="73.3" width="1414.5" height="426.3"/></clipPath></defs>
<g clip-path="url(#mc2)">
<path d="M170.7 472.3l12.9-.2 .8-2.7 1.4 .9 1-9.1 .8 6.8 .4-6.9 1.3 6.7 2-25.1 .8 19.9 .2-32.8 .5 29.7 .8-25.4 1.6 31.8 .8-22.1 1.3 21 1.2-11.8 1.2 13.2 1-28.1 .7 24.9 1-26.2 .4 19.1 1-12.7 1.6 22.5 1.5-25.7 1.2 25.9 .4-8.6 1.7 11.3 .2-13.8 .8 10.7 .2-14.8 .6 13.5 1.6-99.5 1.9 97.5 1-29.4 .8 30 .8-19.4 1.9 25.9 .2-11.2 1 11.3 1.2-5.3 1.9 7.2 2.4 .5 .2-2 2.1 2.2 25 .3 2.6-2 2.3-30.6 1.2 21.4 .2-31.3 2 31.4 .2-47 1.5 46.4 .8-60 1.4 54.8 .6-123.5 .9 113.5 .4-49.5 1.6 57.1 .6-42.4 1.9 48.3 1-64.3 2 59.4 .2-69.7 .9 72.3 .4-63.7 1.8 63.4 .2-48.9 2.9 57.1 1.2-32.7 1 28.9 .2-8 .9 14.4 .2-14.3 2 16.5 2.5 1.2 .2-8.5 2.6 9.1 2.3 .5 .2-2.6 3.3 2.9 28.8-.6 1-11.9 .9 7.5 1.6-7.6 .2-90 2 85.4 .5-58.3 .8 53.7 .2-47.1 1.6 51.8 .8-61.7 .7 58.3 .2-55.8 1 59.9 .6-36 1 38.2 .2-48.9 2.1 46.9 .2-49 .6 42.5 .2-42.5 1.4 45.7 .2-50.9 1.1 43.3 .6-50.3 .8 40.7 .2-147.8 1 155.7 .2-84.4 1.5 86.9 .2-22.4 1.2 33.5 .2-41.8 .8 40.7 .2-21.1 1 26.3 1.1 4.2 .2-14.9 .6 13 .2-28.5 1.6 30.8 1.2-15.9 2.1 20.5 .2-2.7 1 3 1.9 .8 .2-2.8 2.4 3.2 32.6 .6 2-3.1 1.7 2.2 .2-6.1 2 5.6 .6-6.2 1.7 6.1 .2-6.9 1.4 6.3 .2-6.6 2.2 7.1 1.3-8.1 .8 7.2 .4-7.6 1 8 1.2-6.7 2.3 7.4 .4-5.3 2.5 5.3 .4-8.2 1 7.8 .2-6.6 .8 6.6 .4-5.6 .6 5.3 .1-4.2 .8 5 .2-3.7 3 4.7 40.6 .1 2.2-12.4 .6 6.4 .2-10.2 .9 10.7 .6-27.4 1.6 22.2 1-34.5 2.5 37.3 1-42.6 .8 27.5 .2-25.6 .6 31.9 .7-24.1 2.2 30.2 .2-32.2 1.6 33.7 .1-35.3 1.2 34.8 1.8-64.3 .8 38.9 .2-128.5 .3 137.1 .2-23.9 1.4 28.3 .2-87.4 1.4 89.8 1-38.4 .7 43.8 .6-28.5 2.6 38.3 .2-23.9 1.5 23 .2-12 .8 13.3 .2-9.4 2.5 11.9 .4-4.9 1 5 .6-3.1 2 4.2 1.7-1.9 2.7 2.3 28.6 .1 1.2-2.2 1.1 1.3 .2-5.9 2.4 4.9 .8-10.7 2.1 8.3 1-12.5 2.1 14 1.4-6.4 .6 5.3 .2-12 1.8 12.7 .2-13.3 1.7 13.6 3.7 .5 1.6-13.5 .6 10.5 .2-6.5 1 8.8 1.9-3.3 .6 3.6 .2-6.9 1.2 7.7 2.1-14.2 .2-49.1 1.4 56.7 .6-27.8 .9 29.8 1.6 2.6 .2-7.8 2.5 10.6 1.6 .5 .2-4.3 2 4.7 .2-2.3 2.1 2.5 27.8 .2 3.1-4.4 1.2 2.9 2.3-6.7 .6 3.2 .2-4.2 2.2 7.6 1.7-7.8 2 7.9 .2-8.8 .6 6.6 .2-6.4 .7 7.5 1-6.1 1.8 7.1 .6-6.9 1.7 6.6 .8-7.9 1.2 7.9 1.5-7.3 1.6 7.6 .6-4.7 .6 4.3 1.3-3.3 1.8 4.8 1.8-2.2 4.1 2.6 35 .2 1.3-8.7 1.8 3.2 .2-12.4 .6 6.9 .2-20.8 1 18.4 .2-51.9 2.3 46.6 .8-84.8 .8 71.9 .7-112 .4 114.7 1.8-63.7 .6 56.6 .2-68.8 .6 66.3 1.1-57.9 .6 60 .2-89.1 1.2 101.1 .4-87.5 .6 72.2 .9-42.6 .6 49.3 1-78.6 2.2 86.1 .5-213.3 2 208 .2-119.4 1 119.2 .6-60.9 .6 49.5 .5-12.7 1 33.9 .2-26.2 1.8 37.8 .4-32.1 1.3 32.1 .2-24 .6 19.9 1.4-11.4 2.1 22.1 .6-10 1 9.6 .6-7.7 1.9 9.7 1.8 .4 .2-3.8 2 4.1 1.5-2.5 3.5 2.9 21.5 .3 2.6-4.8 .2-23.4 1 16.4 .9-20.4 1.4 14 .2-67.9 1 58.7 .2-107.3 .8 95.2 .3-108.8 1.2 117.9 .4-127.7 .6 104.1 .4-88.2 1.9 103.3 1-132.7 .6 98.9 .6-259.8 .6 258.7 .2-213 .4 159.5 1.1-115.5 .6 164.2 .2-139.1 2.4 181.2 1.1-149.4 2 158.6 1.6-131.1 .7 119 1-50.3 .8 52.7 .2-53.6 .8 66.8 .6-35.7 1.5 50 1.4-29.5 .8 29.2 .4-22.9 1.9 28.5 .8-14.7 2.2 16.4 1.1-8.9 2.2 10 .2-6.2 2.3 6.7 1.6-2.5 2 2.9 23.6 .4 2.6-4.7 .9-41.6 .6 25.5 .6-54.1 1 49.7 1.4-24.9 .5-368 .4 320.3 .2-222.5 2 269.5 .2-186.7 1.3 187.6 .2-145.9 1.2 158.3 .2-137.1 1.8 144.7 1.1-119.3 1 115.2 .4-31.5 1.4 40.9 .2-85.3 .8 72.7 .2-133.7 .9 134.9 1.4-116.7 1.4 107.1 .6-268.1 .7 249.3 .2-121.7 1 145.4 1.4-109.9 2.3 129.2 .2-24.8 2.2 36.7 .2-34.8 1.3 31.7 1-41.1 1.2 43.7 1.2-19.7 2.1 26.8 .2-13.4 2 14.5 .2-9.8 2.1 10.6 2.7 .5 .2-2.5 1.8 2.7 .8-2.1 1.9 2.2 18.4 .3 1.4-2.7 2.1-226.7 2.2 198.4 1.6-81.8 .7 85.3 .2-53.2 .8 53.3 .6-38.3 .8 43.9 .8-38.9 .6 31 .1-40.7 1 53 1-34.8 .6 33.5 .2-31.3 2.3 40 1.4-76.6 1 70.6 .8-51.6 .9 48.9 .8-41.3 1.2 48.3 .2-48.8 2.7 50.5 .2-39.1 .6 32.2 .2-8.3 1.6 18.2 .6-28.4 .7 27.2 .6-8.2 2 9.5 1-49.2 2.5 51.4 .2-7.3 1 8.1 1-6.5 1.9 8.7 .2-7.8 2.5 8.6 28.8 .2 2.3-214.7 .6 121.5 .8-16.6 .2 35.9 .2-51.4 .2 42.4 .2-48.8 2.1 107.2 1.8-108.3 2.3 107.8 .4-20.1 2.2 25.6 .6-91 .6 71.1 .2-70.5 1.5 66.5 1-166.6 .6 158.5 .2-109.6 .8 118.1 .2-82.5 1.9 75 .2-92.2 .6 82.7 .8-77.8 1.3 110.2 1-103.9 2.2 111.4 .2-53 1.3 39.8 .4-35 .2-207.3 .8 219.5 .2-125.9 1.4 156.4 .8-35.8 1.9 50 .2-51 .6 43.2 .2-37.9 1.4 47.9 .5-6.6 .8 10.3 .2-19 .8 18.9 .8-6.4 .8 8.8 .2-8 1.3 9.7 .2-10.2 2.8 11.3 29.9 0 1.5-12.7 1.6 7.1 .2-19.4 .6 15.9 .6-21.5 1.2 24.1 .3-29.5 1.4 27.6 1-4.3 .6 5.8 .2-7 .6 6.7 .2-9.5 .9 10.5 .2-33.6 1.2 31.8 2.3-103.2 1.2 88.8 .2-54.9 2 65.8 1.1-28.3 .6 25.3 .6-36.2 1 40.5 1.6-37.4 .9 39.7 1-25.9 .8 26.6 .2-22.8 1.6 21.8 .2-56.2 1.1 58.2 .2-34 .8 31.7 .8-17.1 1.2 21.4 .5-13.9 2.2 17.1 .8-3.1 1 3.7 1.5-2.6 1.6 3.5 .2-1.8 3.1 2.1 27 0 2.5-14.4 .8 6 .8-3.6 .6-132.8 .6 115.8 .2-73.5 2.5 82.8 .2-95 .6 70.9 .8-42 2.5 71 1-77.2 2.1 62.2 1-50.9 1.6 63.1 1.6-64.5 .9 51.2 .2-62.7 .8 65.8 .6-103 1.8 109.3 .5-66.4 1.2 70.4 .4-64.4 1.4 68.4 .8-33.9 .7 35.6 1-17.7 1.6 24.8 .4-24.3 .6 20.4 .9-12.3 .8 16.2 2.4 3.1 3.9 1 .4-4.9 3.1 5.2 2.1-1.7 1.6 2 23.3 .3 4.1-1.7 2.9-18.7 1.6 15.8 .2-22.9 1 21.3 .4-18.3 1.3 19.6 .6-12.8 1 12.3 1.5-8 1.4 8.4 .2-11 1.2 11.2 .2-14.8 .8 13.3 .2-15.2 2.3 16.3 1.8-21.2 1.9 19.3 .2-21.5 .8 19.5 1.2-24.4 .4 12.4 .6-74.8 1.5 82.9 .6-31.8 1 34.8 .2-28.8 .6 27.3 .2-15.7 .5 17.1 .8-13.4 2 21.2 1.5-6.5 2.4 8 .2-2.7 3.9 3.2 29.9-.4 2-9.8 .9 2.1 .2-10.8 2 11.7 .8-29.3 .6 23.4 .6-7.2 1.7 13.5 2.6 .7 .7-25.7 2 23.8 .2-27.7 .6 23 1.5-20.3 1.8 21.7 .4-63.2 1.4 64.4 1.5-43.2 1 42.1 .4-36.8 .6 31.9 .2-20 2.1 31.3 .2-23.9 1.2 20.3 .2-13.2 1 15.5 1.1-7.7 1.8 12.2 1-6.7 .6 5.8 .7-3.3 2 5.2 .2-4.4 2.5 4.8 31.7 .5 1.2-5.1 1 1.4 .2-15.8 .7 10.8 .2-29.2 1.4 26.6 .2-44.5 .8 35.8 .2-55.1 1.6 54.1 1.5-95 1.2 84.8 .8-79.9 2.1 83.8 .4-91.5 1 91.9 1.4-80.4 .9 79.2 2.2 8.7 1.9-224.1 .4 203.1 .4-44.8 1.2 54 .2-158 .8 142.5 1.2-113 .7 123.2 .2-46.8 2.8 69.7 .2-57.2 .5 45.2 .8-28.6 1.6 46.3 .2-25.5 1.4 26.7 .2-11.8 1.5 13.4 .4-17.3 2.6 20.1 .7-5.1 .8 5.2 .4-7.6 2 8.7 .2-2 3.9 2.6 2.1-1.7 4.7 2.1 17.6-1.2 1.6-87.6 1.1 77.5 .2-38.3 2.8 40 1.4-33.1 1.7 35.3 .8-25 .8 18.2 .2-17.1 .8 22 .1-4 2 7.6 .2-26.9 .8 23.4 2.3 3.8 .2-28.3 1.4 26.1 1.2-24.2 2.3 23.7 .2-27.2 .8 26 1.4-22.5 .7 23 1.6-20.8 1.2 22.8 .8-5.1 1.7 8.2 1-52.3 .4 48.5 .6-10.4 1 12.2 .1-26.1 1.4 27.7 .8-14.3 1.8 16.5 .5-1.7 3.4 3 .6-2.8 1.7 3 16.2 .5 0 4.9-22.6-1-1.6-12.3-.8 11.4-1.4-22.4-1.5 20.2-.6-40-.8 42.2-1.9-6.1-.6 5.3-1.4-19.8-1.6 17-.7-18.8-1.4 18.4-.8-21.3-.2 22.3-2.3-19.4-1.2 19.8-1.4-21.4-.2 23.2-2.3-3.1-.8-19.2-.2 22-2-6.2-.1 3.3-.8-18-.2 14-.8-14.9-.8 20.5-1.7-29-1.4 27.1-2.8-32.7-.2 31.4-1.1-63.5-1.6 70.4-28.7 .1-1.8-5.7-.4 5.2-.8-3.3-.9 3.2-2.4-15.4-.4 14.1-.8-10.1-.9 8.8-.8-3.6-.6-18.2-.2 20.8-1.6-37.8-.8 23.3-.5-36.9-.2 46.7-2.8-56.9-.2 38.2-.7-100.8-1.2 92.5-.8-116.6-.2 129.3-1.2-44.2-.4 36.6-.4-166.1-1.9 183.3-2.2-7.1-.9-64.8-1.4 65.8-1-75.2-.4 74.9-2.1-68.6-.8 65.3-1.2-69.3-1.5 77.7-1.6-44.3-.2 45.2-.8-29.4-.2 36.5-1.4-21.8-.2 23.9-.7-8.8-.2 12.4-2.2 1.7-31.7-.3-2.5-2.2-.4 2.1-1.8-2.8-.7 1.9-.6-3.9-1.4 4.2-1.4-8.7-1.1 6.2-1-12.6-.2 10.7-1.2-16.6-.2 19.6-2.1-25.6-.2 16.4-.6-26.1-.4 30.1-1-34.5-1.5 35.3-1.4-52.6-.4 51.7-1.8-17.8-1.5 16.7-.6-18.9-.2 22.7-2-19.5-.7 21.1-2.6-.6-1.7-11.1-.6 6-.6-19.2-.8 24-2-9.6-1.7 13.1-35.6 .4-2.2-5-.1 4.5-.8-1.9-1 1.6-1.6-16.3-.8 11.1-.5-14.1-.2 12.9-.6-22.4-.2 23.6-1-28.4-.6 26-1.5-67.9-.6 61.2-.4-10.1-1.2 19.9-.8-15.9-.2 17.6-1.9-15.8-1.8 17.3-2.3-13.3-.2 12.4-.8-10.9-.2 12.1-1.2-9.1-.2 9-1.4-6.8-1.5 6.5-1-10.1-.8 10.2-1.1-15.8-.4 15-1-17.4-.2 18.6-1.6-12.8-2.9 14.1-31.1 .5-3.1-2.7-.4 2.6-5.1-.7-2-14.5-.9 10.1-.6-16.6-.4 19.8-1.6-20.3-1 14.5-.7-29.1-.8 27.7-1.4-55.9-.4 52.7-1.2-57.7-.5 54.3-1.8-89.3-.6 84.2-.8-53.8-.2 51.3-.9-42-1.6 52.8-1.6-51.6-1 41.7-2.1-50.9-1 63.1-2.5-58.1-.8 34.4-.6-58-.2 77.7-2.5-67.7-.2 60.1-.6-94.7-.6 108.7-.8 2.9-.8-5-1.1 9.2-28.8 .9-7-2.3-.6 1.6-2.4-13.1-.5 11.5-1.2-17.5-.8 14-.8-26-.2 27.8-1.1-47.6-.2 46-1.6-17.8-.2 18.6-.8-21.7-1 21.1-.9-32.5-1.6 30.6-1-33-.6 29.6-.6-20.7-1.1 23.1-2-53.8-.2 44.9-1.2-72.7-2.3 84.5-1.2-26-.2 27.4-.9-8.6-.2 7.8-.6-5.5-.2 5.7-.6-4.7-1 3.5-1.4-22.5-.3 24.1-1.2-19.8-1.8 22.2-1.2-7.5-.5 8.2-.8-2-1.6 3.2-30.1-.8-1.2-7.5-.2 7.4-2.3-7.6-.2 6.8-1.4-17-.2 15.5-2.1-9.3-.6-32.9-.2 31-.6-35.3-.2 41.7-1.9-40.9-1 26.4-1.2-125.1-.2 103-.8-179.6-.2 169.7-.4 28.6-1.3-32.6-.2 43.4-2.2-91.1-1 84.9-1.3-90.1-.8 63.7-.6-67.7-.2 75.4-1.9-61.4-.2 67.6-.8-96.7-.2 89.7-.6-129.7-1 136.3-1.5-54.4-.2 57.7-.6-58.2-.6 74.5-2.2-20.9-.4 16.4-2.3-88.2-1.8 88.6-2.1-87.7-.2 39.9-.2-34.7-.2 42.1-.2-29.5-.8 13.7-.6-99.4-1.5 172.8-29.6 1.2-2.5-5.6-.2 5.2-1.9-5.9-1.2 4.7-.8-6.1-.4 5.8-2.3-41.8-1 40.2-2-7.7-.6 6.6-.7-22.2-.6 23.3-2.4-34.5-.6 30-.9-36-.2 35.6-1.2-38.9-.2 39.9-1.2-39.5-.8 33.8-.9-40-.8 42.2-1-57.7-1.4 62.6-2.3-32.7-.2 25.6-.6-27.4-1 28.5-1-43.4-.1 33.3-.6-25.4-.8 31.9-.8-36-.6 31.3-.8-43.5-.2 43.5-.7-69.8-1.6 67-2.2-162.4-.9 178.9-1.8 6.8-26.6-.3-2.1-7.3-1.4 6-.8-9.8-.6 10.1-1.7-21.1-1.2 16.1-1.2-35.7-1 33.6-1.3-26-.2 28.5-2.2-30-.2 20.3-2.3-105.7-1.4 89.9-1-118.9-.2 99.6-.7-204-.6 219.3-1.4-87.6-1.4 95.5-.9-110.4-.2 109.4-.8-59.5-.2 69.8-1.4-33.5-.4 25.8-1-94.3-1.1 97.7-1.8-118.4-.2 112.1-1.2-129.5-.2 119.4-1.3-153.5-.2 152.7-2-220.4-.2 182-.4-262.1-.5 301.1-1.4 20.4-1-40.7-.6 44.3-.6-20.9-.2 25.5-2.7 10.4-27.8-.1-2.3-4.1-.4 3.8-2-6.8-1.5 6.3-1.8-12.4-1.2 11.5-1.5-22.8-.4 18.6-.8-23.8-1.4 24.1-1.5-40.9-.6 29.3-.8-54.7-.2 43.8-.8-43.1-1 41.1-.7-97.3-1.6 107.2-2-129.7-1.1 122.2-2.4-148.2-.2 113.8-.6-134.4-1.1 94.6-.4-130.6-.2 174.3-.6-211.6-.6 212.5-.6-80.9-1 108.5-1.9-84.4-.4 72.1-.6-85.2-.4 104.5-1.2-96.4-.3 89-.8-77.9-.2 87.7-1-47.9-.2 55.5-1.4-11.4-.9 16.7-1-13.5-.2 19.1-2.6 2.2-26.5-.3-2-1.9-2.2 1.5-1.7-6.6-.2 6.2-1.4-7.7-1 7.2-1.7-17.1-1.4 9.3-.6-16.3-.2 19.7-1.3-26.3-.4 26.2-1.8-30.9-.2 21.4-1-27.7-.5 10.4-.6-40.5-.6 49.8-1-97.5-.2 97.7-2-170.2-.5 174.5-2.2-70.4-1 64.3-.6-40.3-.9 34.8-.6-59.1-.4 71.7-1.2-82.8-.2 72.9-.6-49.1-1.1 47.4-.6-54.3-.2 56.4-.6-46.4-1.8 52.1-.4-93.8-.7 91.6-.8-58.8-.8 69.4-2-38.9-.5 43.2-1-15-.2 17-.6-5.7-.2 10.2-1.8-2.6-1.3 5.3-40.7-.3-2-2.3-1.3 1.6-.6-2.4-.6 2.6-1.6-5-1.5 4.9-1.2-5.4-.8 5.4-1.7-4.3-1.6 4-.8-4.2-.8 4.3-1.7-5.6-.2 5.9-2-5.2-1.7 5.2-2.2-5-.2 3.4-.6-2.6-.6 3.2-.7-1.8-3.6 3.4-31.8-.1-2-2.2-.2 2.1-3.1-.8-1-6.8-.8 6.4-1.9-26.5-.8 21.1-1.2-44.8-.2 40.2-.6-4.7-1.5 15.3-1.2-5.3-.2 4.9-.6-2.2-2.1 1.8-.8-6.3-.2 5.3-.6-8.6-1.6 10.2-3.9-.4-1.5-10.2-.2 10.3-1.8-9.8-.2 9.4-.6-4-1.5 4.4-2-10.6-1 10-2.1-6.5-.8 7.6-2.4-2.9-.2 3.4-3.5 .5-32-.4-3.4-3.4-.4 2.9-2.5-8.6-.2 7.5-.8-10.7-.2 9.8-1.5-18.8-.4 19.4-2.4-31.2-.6 23.3-.7-35.8-1 31.4-1.4-73.5-.2 71.5-1.4-23-.2 19.5-.3-112.2-.2 105.1-.8-31.8-1.8 52.6-1.2-28.5-.1 28.9-1.6-27.6-.2 26.4-2.2-24.7-.7 19.7-.6-26.1-.2 20.9-.8-22.4-1 34.8-2.5-30.5-1 28.2-1.6-18.1-.6 22.4-.9-8.8-2.4 11.5-41.2 0-3-2.1-.2 1.7-.8-2.8-.1 2.4-.6-3.3-.4 3.5-.8-4.3-.2 4.3-1-5.3-.4 5.5-2.5-3.1-.2 3.1-2-.8-.5-4.1-1.2 4.5-1-5.5-.4 5.4-.8-5.1-1.3 5.4-2.2-4.6-1.8 4.7-1.7-3.8-.6 3.9-2-3.4-.2 3.6-3.1 .3-36.7-.5-3.6-1.7-.7-14.5-.8 14.7-2-26.9-.2 23.4-.6-10.7-.2 12.3-1.1-3.5-1-21.5-.2 17.3-.8-33.4-.2 34.3-1.2-27.5-.2 18.4-1.5-71.1-.2 69-1-127.4-.2 121-.8-33.4-.6 41.2-1.1-35.4-.2 41.6-1.4-37.3-.2 34.7-.6-34.8-.2 40.1-2.1-38.3-.2 39.9-1-31.2-.6 29.4-1-48.9-.2 45.6-.7-47.7-.8 50.5-1.6-42.4-.2 38.6-.8-44-.5 47.7-2-69.8-1.8 79.8-.9-6.1-2 8.6-34-.5-2.2-6-.2 5.7-1.9-.3-2.6-13-.2 11.7-2.1-28.8-1.2 26.7-2.9-46.7-.2 40-1.8-51.8-.4 52-.9-59.1-.2 57-2-48.6-1 52.6-1.9-39.5-.6 34.7-1.6-46.7-.4 40.5-.9-92.9-.6 101.1-1.4-44.8-.8 49-1.5-38-.2 38.5-2-25.7-.2 25.6-1.2-17.5-1.9 23.8-32.3 .7-2.3-4.5-.2 4.1-2-9-.6 8.2-1.5-20.3-.8 15.9-.8-24.6-1 24.2-1.9-79.9-1.6 81.4-.6-11-.2 12.2-.8-8.8-.2 10.8-1.7-8.8-.4 7-1.2-21.1-1.5 21-1.6-18.4-1 10.4-.4-15.6-1 21.4-.7-20.4-1 23-1.2-10.8-1.2 9.6-1.3-17.1-.8 18.1-1.6-26-.8 20.7-.5-24.2-.2 26.7-.8-16.3-2 20.5-1.3-5.4-.6 5.1-.6-5-1 6.4-15.1 .9Z" fill="#e6ebee" fill-opacity="0.8"/>
<path d="M170.7 473.7l10.4 0 .2-33.3 .6 25.8 1 6.8 1.5-.5 .2-8.6 .4 5 .4 1 .2-.5 1.2 .6 .8-4.7 .5 1.6 .2-2.7 1.2 2.2 .8-.3 .2-2 .4 .6 .6-7.7 .4 2.6 .4-101 .5 76.1 1.2 25.8 .2-10.5 .8 10 .2-4.1 1.2 6.3 .4-5.6 .3 4.4 .2-20.5 .6 18.9 .2-2.5 .8 5.2 .2-3 .4 3.1 .2-4.4 .8 5.6 .4-2.9 1.3 4.1 .6-5.2 .8 4.5 .4 .8 .2-1.1 .8 1.4 .2-7.1 1.5 7.1 .2-7.4 .4 3.8 .6-3 1.8 9 .3 .5 .2-1.8 .8 2 .2-4.2 .6 2.7 .6-.5 1-31.9 .2-130.9 .7 122.8 .6 23.6 .2-9.3 1 18.5 .2-7.4 .6 8.8 .2-2.3 1.4 8.6 .2-4.1 1.5 6.7 1.6 1.6 .2-1.8 1 2.3 2.1 1.1 .2-.6 1 .8 .2-.6 1.7 1 4.7 .5 19.8 .1 .2-1.5 1.5 1.4 2-2.3 1.9-4.4 .8-10.4 .4 2.6 .2-1.5 .8 2.2 .2-5 1 3.1 .4-9.1 .9 4.9 .4-11.2 .6 9.3 .8-22.6 .2 9.8 .2-7.2 .4 11.5 .4-5.2 .8-145.4 .7 121.6 1.4 26.6 .2-11.5 1 18.6 .2-16.3 1.3 17.5 .2-10.4 .6 10.2 .2-4.7 .6 4 .4-15.8 1 16.3 .2-2.4 .4 3.5 .2-3.1 .9 7 .2-6.3 .6 5.1 .2-16.5 .8 14.9 .2-9.3 1.9 17 .4-11.9 1.2 14.4 1.6 3.9 .2-3.6 .6 3.4 .2-31.5 .5 26.4 .2-1.9 .6 7.5 1.2 3.5 .2-1.7 1 1.6 .2-1.9 1.1 3.4 .8 .8 .2-1.6 .8 1.7 .2-23 .6 18.4 1.2 5.3 5.6 1.2 .2-9.3 .6 7.3 1 2 20.9 .6 .6-46.8 1.2 44.5 .7 2 1.8 .3 .2-38.3 .8 32.3 1 2.4 1.1-2.2 1.4-10.6 .4-134.8 .6 99.5 1.4 28.9 .7-21.1 .4 11.7 .2-7.3 .4 9.6 .2-5.3 .6 5.8 .2-10.3 1.2 17.5 .4-6.4 .3 5.2 .2-10.8 .8 12.3 .6-25.5 1 26.4 .2-10.6 .6 9.4 .2-8.7 .6 9 1.1 4.6 .2-12.7 .8 10 .2-24.4 1.6 24 .6-15.7 .5 8.1 .8-7 .4-30.6 1.6 31.6 .2-26.9 .4 16.6 .2-12.2 .7 23.2 .2-6.3 .4 9.4 .4-7.4 .8 16.1 .2-4.5 1.4 12.1 .4-21.5 .5 19.1 .4-16.4 1 20.6 1.4 5.6 .4-23.1 .6 19.1 1.1 5.6 .6-103.7 .8 91.1 .4 9.3 1.2 5.1 .5 .8 .8-1.3 .2-5.6 .2-73.8 .6 63.3 .6 13.9 1 4.2 3.9 1 .2-10.2 1 9.5 .2-28.4 .5 22.8 1.2 6.2 13.1 .7 .2-10.1 .6 7.9 1 2 .2-25.2 1.1 24.2 1.2 1.2 4.9 0 .6-44.7 1.2 42.4 .2-15.4 .7 15.1 .2-30.5 .6 25.3 .4-9 1 14.5 .2-29.5 .4 18.6 1.2 10.1 .5-.5 1 1 .6-2.5 .2-26.8 .6 21.9 1.2 6.5 .7 .5 .2-26.7 .6 20.6 1 5.5 .4 .7 .2-3.1 1 3 .2-1.1 .5 1.1 1.2-.2 .2-23.8 1.2 23.4 .8 1 .8-1.2 2.1 1.4 .2-17.2 .6 13.4 .8 2.3 .6-149.4 .5 116.4 .6 25.8 1 8 .4 .6 .2-1.7 1.4 2.3 2.5 .7 .2-1.8 .6 1.6 3.3 .9 .2-10.6 .6 8.3 1.4 2.3 23.4 .5 .2-5.7 1.4 5.6 10.7 0 2-2.8 .2-1.7 .2-18.8 .6 11.5 1.3 4 .2-1.3 1.4-.2 .2-6.6 .6 3.1 .4-.4 .2-8.6 .8 7.1 .2-5.3 .5 4.9 .4-5.2 .4 4 .2-12.3 .6 11.1 1 4.8 .2-7.2 1.4 7.1 .3-3.1 .6 1.7 .2-3.2 .6 2.1 .2-4.7 1.2 6.9 .2-7.3 1 6.3 .2-7 .7 6.6 .2-2.2 .8 3 .6-26.1 1 15 .6-28.1 .2-208.9 .5 176.9 1 50.2 1 9.9 .2-16.7 .4 10.5 .2-10.3 1 21.1 .3-10.6 1.2 15.3 .2-22.9 1.2 26.3 .6 3.2 .2-4.2 .4 3.5 .4-2.8 .3 3.6 .2-2.2 1.4 6.3 .2-2.5 1.2 3.6 2.3 1.4 .4-29.6 .6 23.5 1.2 6.7 7.2 1.4 16 .3 .6-35.3 .6 27.4 .6 6.2 1 1.6 .6 .1 .2-10.3 .6 8 1.3 2.3 4.5 0 3-1.2 1.1-1.7 1.6-.1 .6-3.1 1 1.7 1.3 .3 .2-3.6 .6 2.3 .6 .5 .2-3 .6 2.5 1.5 1.2 .2-3.1 .8 2.4 .4-3 1.2 3.4 .6-1.6 1.5 2 .2-2.4 .8 1.8 .6 .2 .2-1.8 .4 1.1 .2-1.5 .6 1.7 .6-29.1 .5 23.2 1.6 6.4 .2-2.5 .8 2.2 .2-1.6 2.1 3.2 .2-2.3 1.2 2.7 .6 .4 .2-.9 1 .8 .2-14.1 .9 9.9 .8-13.6 .8 7.2 .2-5 .8 7.5 .2-1.7 .2 1.6 .2-1.1 .7 4.6 .2-4.6 .8 5.4 1.4 3 1.2 1 .2-7 .3 4.7 1.4 3 .2-1 1.8 1.8 .4-.6 1.7 1 5.7 .4 .2-26.7 .6 20.8 1.1 5.7 19.6 .3 4.3-1.3 .6-92.4 .6 71.3 .6 15.9 .9 3.7 .4 .3 .2-1.1 1.6 1.1 .6-3.3 1.2 2.6 .3-79.8 .8 68.9 .8 8.3 .2-21.3 .6 19 1 5.2 .2-2 .6 1.6 .3-1 .8 1.4 .4-1 1.4 1.4 .2-2 1.2 1.8 .7-6.7 1.2 6 .2-31.1 1.2 29.8 .2-1 1.3 2.9 .2-1.9 1.8 2.6 2.9 .5 .2-51.8 .6 40.3 1.4 11.7 7.6 1.2 24.8 .1 .4-23.3 1.2 22.3 .2-13.7 1 13.6 1 1.2 3.1 .1 .2-25.8 1.3 23.2 1.2-2.6 .2-11.5 .2 3.5 .2-3.1 1 3.7 .8-1.9 .2-6.2 .7 1.7 .8-21 .4 6.4 .2-6.7 .8 9.4 .2-13.5 1.4 13 .2-24.6 .7 16.1 .8-30 1.4 33.1 .2-17.8 1.2 21.5 .5-25.7 .8 20.7 .8 5 .2-5.8 1 7 .2-12.2 .6 9.6 .6-22.5 .9 21.1 .4-11.3 .4 8.8 .2-14.1 .6 14.2 .2-4.9 .6 5.9 1.5-37 .8 21.9 .8-233 1.4 230.7 .4-9.8 1.1 32.2 .2-4.1 .6 11.5 .2-4 1.4 13 .2-4.2 .8 6.2 .4-5.5 1.5 10.4 .2-7.3 1.4 9.2 .2-4.7 1.3 6.5 1 1.1 .2-.8 .6 1.2 .2-1.3 2 2.6 8 1.9 .2-.5 2.3 .7 11.6 .3 .1-14.5 .8 8.6 .2-43.1 1.2 46.6 1.2 2.3 6-.3 1.8-5.2 2-24.2 .9 5.3 .2-7.8 .6 2.7 .2-4.9 .6 2 .8-1 .2-26.9 .6 14.9 .2-25 .3 16.1 .4-7.2 1.6 22.2 .2-32.7 .8 26.3 .6-23.8 .6 20.2 .1-5.9 1 9.8 1.2-54.9 1.6 37.2 .2-54.5 .7 48.3 1.2 17.7 .6-12.5 .2 5.5 .2-31.5 .4 22.8 .4-33 1.1 52 .2-20 .8 20.8 .8-5.6 .8 9.4 .4-20.6 .8 23.4 .2-11.3 1.9 26.8 .4-9.7 .6 12.1 .2-9.2 .8 12.4 1.7 7.3 .2-7.7 .4 4.6 .4-78 .6 65.3 1 18.8 .4-7.5 .4 6.1 1.7 5.7 .2-2.1 1.4 3.3 1.5 1.1 .6-1.6 2 2.6 .2-10.7 .4 7 1.1 4 10 1.4 .2-15.2 .6 11.9 .8 3 10.3 .6 .6-287.5 .8 248.6 .6 30.2 1 8 1 .7 .1-56 1.2 53.2 .2-16.1 .6 13.3 .4 2.4 .6-.1 1.4-12.8 .3 1.2 .4-15.3 1 10.1 .2-8.9 .6 1.5 .6-4.4 1.5-120.5 1.4 68.9 .2-57 .4 30.6 .2-22 1 61.1 .8-34.2 .3 26.4 .2-67.6 .6 67.2 .2-12.9 .4 27.1 .2-18.2 1.6 39.3 .2-21.7 .8 12.6 .1-9.5 1 20.2 .2-23.5 .8 21.5 .2-25.6 1.4 30.1 .6-94.5 .7 71.3 1.2 21.9 .6 2.1 .2-35 .8 18.2 .8-26.4 .5 13.4 .2-35.4 .8 43.2 .4 6.6 .2-27.9 .6 30.6 .2-23.8 .8 35.5 .4 5.9 .2-5.4 .9 13.9 .6-18.7 1.2 26.1 .2-5.7 1 10.2 .4-7.5 .5 7.4 .4-14.7 .4 10.1 .2-2.5 1.4 10.2 1 2.6 .2-3.9 .7 4.6 .2-2 1.8 5 .6 .6 .2-6.8 .8 6.6 .2-1.2 .4 1.4 .2-1 1.9 2.9 .2-.5 1.4 1 .2-.5 1.5 .9 4.7 .5 17.4 .3 .2-18.7 1 15.5 .4-135.2 1.2 118.3 .9-51.7 .6 20.3 .2-23.2 .4 20.2 .2-19 .8 32.7 .2-18.8 .4 16.5 .2-3.6 1.5 21.4 .8-14.2 1.2 17.4 .2-11.9 .8 12.3 .2-13.8 1.7 16.5 .2-1.6 .4 2.9 .2-4.3 .8 6.3 1.9 2 .4-22.4 .4 13.2 .2-6.4 .8 7.5 .8-14.3 .8 14.5 .2-12.2 .6 11.7 1.3 6.5 .6 .9 .2-13.5 1.4 12.3 .2-10.2 .6 8.2 .2-1.7 .9 5.4 .2-6.8 1 8.1 .2-5.3 .6 5.8 .2-3.4 .4 3.8 .2-2.6 1.5 7.5 .8 1 .2-3.2 .4 1.9 .2-1.8 .8 1.4 .8-77.4 .5 51 .2-55 .6 57.8 1.4 23.8 .2-3.6 1.4 6.5 .2-15.1 .7 14.2 .2-1.4 .6 3.1 1.6 1.8 2.3 .9 .2-12 .6 9.5 1.4 2.8 2.9 .3 .2-2.5 .8 2.4 2.1 .5 .2-6.2 .6 4.8 1 1.3 9.6 .3 .2-8.4 1.2 8 6 .4 .6-11.9 1 8.3 1.2-10.1 .7-52.6 1.4 26.6 .2-22.2 .4 14.9 .2-13.6 .4 14.6 .2-15 1.5 25.2 .2-8.6 .8 9 .2-22.9 1.2 19.1 .8-10.1 1.1 14.7 .6-10.7 .6 9.1 .2-19.1 .8 18.5 1.2 5.9 .6-14.9 .3 7.4 .2-18.9 .4 12 .2-16.7 .4 11.2 .2-10.8 .2 3.2 .4-1.9 .2-29.6 1 37.9 .4-47.7 .7 49.8 .2-20.2 .6 22.6 .2-7.5 .4 10.3 .2-14.7 1.4 24.5 .2-24.2 1 23.7 .1-18.9 1 19.5 .6-25.4 .8 22.2 .4-12 .4 11.9 .8-277 .9 246.3 .8-46.9 1.6 68.2 .2-16.2 1 28.2 .2-30.1 1.3 44.5 .6 3.5 .6-11.9 .4 9 .2-10.9 1 19.2 .3 1.9 .2-5 1 7.1 2 3.5 .2-1.9 .6 2 .2-1.3 .2 .8 .1-4.3 .8 5.6 .2-2 .8 2.8 1.4 1.2 .2-.7 2.1 1.4 6.3 .8 8.4 0 .4-46.5 .6 36.3 .7 9 1 1.4 4.3 .1 .2-40 .8 34.6 .2-20.6 1.2 24.7 .8 1.2 1.3 0 2.4-2.9 .6-6.4 .3 2.7 .2-5.9 .2-81.1 1.2 81.9 .4-26.3 .8 25.8 1.2 3.1 .5-3.8 .2-27.3 1 27.8 .2-3.2 .6 4 .2-1.3 .6 2.1 .2-23.2 1.2 17.7 1.1 5.3 .2-3.4 .6 1.8 .4-93.8 1.2 85.9 .9-13.7 .6 8.4 .2-13.5 .8 14.2 .8-29.6 1.6 37.7 .9-13.2 .6 8.1 .4-5.2 .8 11.9 .2-3.5 1 6.4 .2-4.8 .6 4.9 .1-4.2 1.8 8.6 .2-3.3 1 3.4 1.2-13.4 1.3 10.4 .2-5 1.6 8.9 .2-2.1 1.2 4 .3 .6 .2-1.2 2.4 3.3 .6-16.5 .8 14.2 1.3 3.4 1 .3 .2-3.4 .6 2.8 1.2 1 17.2 .7 .2-13.8 .5 10.7 .8 2.7 8.4 .4 .2-3.2 .6 2.5 1 .5 .2-16 .6 11.4 .4 1.3 .6-.2 1.7-7.2 .8-11.6 .4-175.5 .4 105.4 1 44.1 1.3 17.1 1 3.5 2.2 3.6 .2-6 .5 5.5 .4-21.1 1.6 22.3 .6-13.7 1 12.8 .2-14.3 1.5 16 .2-18.5 .4 10 .2-9.7 1.2 16.6 .2-4.4 1.1 5.5 .2-18 1.2 14.3 1-21.5 .4 10.8 .2-7.4 1.3 18.4 .4 1.3 .2-6.4 1.4 11.1 .2-7.3 1.8 14.4 .2-12.9 .7 14 .2-9 1 9.9 .2-2.6 .8 5.7 1.7 3.3 .2-3 1.8 4.4 .2-1 1.2 1.8 2.5 1.1 .8-1.2 .6 1.2 .4-.9 .4-105.8 .7 92.7 .6 11.6 1.4 3.5 11.7 .3 .4-62.1 .6 48.6 .6 10.9 .8 2.7 .8 .3 .2-7 .7 6.1 .2-11.2 1.2 11.6 1.4 .6 5.8-.1 .4-25.4 .8 22.1 .8 3 1.8 .1 .2-5.9 .9 3.4 .2-25.1 .6 20.1 .8 4.5 .2-1.3 .6 .7 1.1-.5 .4-1.8 .8 .7 .2-5.2 1 3.5 .4-10.9 .4 6.9 .2-3.1 .8 6 .3-3.3 .6 3.3 .2-4.2 1 4.9 .2-1.8 1.6 2.7 .4-5.8 .5 4.2 .4-3.1 .6 3.2 .2-3.7 .8 4 .6-4.4 1.4 5.3 .3-4.6 1 4.2 .4 .5 .2-1 1.8 1.4 .4-11.3 .9 10.3 1.4 .8 .2-1.7 1 .9 1-6.7 .4-85.9 1.5 82.4 .2-5.1 1.2 11.2 .2-3.5 1.2 7.4 .1-2.2 .6 3.3 .2-2.2 .6 3 .2-2.5 .8 3.8 .2-1.7 1 3 .2-1.6 .6 1.8 .1-.7 1.4 2 1.8 .5 .2-11.5 .4 7.5 1.1 4.2 4.9 .8 13.9 .2 .2-38.2 .6 29.7 1 7.8 1.3 .7 8.4 0 .2-7 .6 4.9 .2-2 1 2.3 .8-2.8 .8 .3 .2-2 .3 .4 .2-.6 .2-7.1 .2-86.5 .6 72.7 1.6 18 1-6.2 .7 4.3 .8-7.6 .6 5.4 .6-5.4 1.2 8.1 .4-7.2 .7 5.4 .4-7.1 .4 5.3 .2-5.6 1 8.2 .4-9.1 1 9.4 .4-5.4 .6 2.6 .3-64.5 .6 52.8 .8 12.1 .6-22.5 1.4 20.4 .2-13 .7 13.4 .4-7.2 .8 8 .6-14 1 14.8 .2-3.2 .4 3.9 .2-3.7 .7 6.6 1.4 3.4 .6-42 1 37.9 .4 3.9 .4-1.5 1.5 5 .2-2.2 2 3.5 1.1-.8 1.2 1.4 .8 .3 .2-.8 2.2 1.5 .3-2.5 1 2.4 3.1 .5 27.6 .4 .2-17.8 1 14.6 .2-16.4 1 13.1 1.7-11.7 .2-47.9 .4 30.9 .2-13.1 1 25.3 .2-10.3 .4 4.5 .4-6.9 .6 5.6 .5-17.2 .8 10.5 .2-8.9 .2 4.8 .4-5.5 .2 6 .2-6.2 .6 12 .2-13.5 .6 10.8 .2-17.2 .3 14.3 .4-17.2 1.2 26.3 .8-21 1.2 15.7 .2-20.1 .9 22.8 .6-15.7 .6 6.3 .2-14.9 .4 14.4 .2-10.8 1.2 18.6 1.1-30.3 .8 13.7 .2-41.4 .6 32.7 .6-21 1.2 39.9 .2-6.2 .4 6.2 .3-17.8 1.6 32.7 1.2 6.4 .2-9.2 .4 7.8 .4-12.6 .7 16.1 .4 3.1 .2-7.7 .8 9.6 .6-192.7 .4 124.1 1.6 73 .1-2.5 .4 3.6 .2-3.6 .8 5.3 .2-2.1 1.4 4.4 .2-2.6 .8 2.8 .2-.6 .7 1.5 3.8 1.7 6.6 1.1 13.1 .4 2.7 0 .2-1.3 1.2 1.3 .2-4.4 .6 3.4 1.4 1 .2-12.3 .5 9.4 1 2 1.4-6.5 .4-25 .2-206.1 .8 192.3 .3 17.8 .2-4.4 1.6 19.9 .6-9 .8 8.6 1.2 2.7 .3-9.7 1.6 6.3 .2-5.3 1 7.8 .4-7.5 .6 6.2 .2-5.8 .5 6.1 .2-1.4 .4 2.5 .6-3.5 .6 4 .2-2.4 1 3.9 .4-4.6 .9 4.6 .8-3.1 .4 2.1 .2-3 .6 3.3 1.2 1.7 .2-6.5 .9 5.5 .2-5 .6 4 .2-3.2 1.6 4.7 .6-18.5 1 17.3 .1-1.9 .4 2 .2-3.5 .6 3.8 .4-1.4 .2-12 .6 11.9 .4 1.6 .2-8.2 1 10.9 .9 1.3 .6-.2 .8-11.4 .2-44.5 .8 41.4 1.5 13 .2-27.4 .4 17.3 .6 7.5 1.4 5.6 .2-2.3 1.4 3.9 1.3 .9 .2-1.2 1 1.4 1.8 .7 .1-.7 3.6 1.2 14 .4" fill="none" stroke="#edb800" stroke-width="3.9" stroke-linejoin="round" stroke-linecap="round"/>
<path d="M170.7 475.7l12.9-.2 .8-2.5 .6 1.1 .2-1.2 .6 .9 1-8.2 .8 6.1 .4-6.2 .5 5 .8 1.1 .2-13.8 .8 11.4 .2-15 .6 12.6 .2-18.1 .8 18.1 .2-29.8 .5 27 .4-6.3 .2 5 .2-21.7 .6 22.5 1 6.4 .6 .5 .2-20.7 1.3 19.1 1 1.7 .2-12.4 1.2 12 .2-19 .6 15.3 .2-21.8 .7 22.6 .2-20.8 .2 9.6 .2-11.8 .2 10.5 .2-11.3 .4 17.3 .2-2.8 .2 5.1 .2-7.5 .2 6 .2-12.3 1.6 20.4 .5-17 .4 11.5 .2-10.1 .2 6.6 .2-14.3 1.2 23.5 .4-7.8 .8 8.4 .9 1.9 .2-12.6 .8 9.8 .2-13.5 .6 12.3 .2-13.3 .6 8.7 .6-2 .2-83.9 .7 72.7 1.2 16 .2-20.4 .6 18.5 .2-24.9 .8 27.3 .6 3.4 .2-21.1 .6 18.4 1.3 5.2 .2-10.2 1 10.3 1 1.1 .2-5.9 .6 5.1 1.3 1.5 2.4 .4 .2-1.9 .6 1.6 1.5 .5 25 .3 2.6-1.9 .8-10.3 .9 5.6 .6-23.1 1.2 19.5 .2-28.5 .2 11.4 .4-7.6 .6 19.8 .8 4.9 .2-42.7 .5 33.2 1 9 .2-48.9 .4 31.1 .2-36.7 .6 41.5 .8 8.3 .6-112.3 .9 103.2 .4-45 .4 35.2 .2-30.4 1 47.1 .6-38.6 .8 33.2 1.1 10.8 1-58.5 .6 46.5 .4-45.1 1 52.6 .2-63.3 .9 65.7 .4-57.9 .4 39 .2-37.7 1.2 56.3 .2-44.5 .8 35.8 .2-29.6 .5 35.4 1.4 10.4 .2-27.8 .6 23.2 .4-25.1 1 26.2 .2-7.3 .9 13.1 .2-13 1 12.6 1 2.4 2.5 1.1 .2-7.7 1.2 7.2 1.4 1.1 .4-1.1 1.9 1.5 .2-2.4 .8 2.2 2.5 .5 1.6 .1 .2-1.2 1.4 1.2 1.7 .1 .2-.6 2.4 .7 19.7 .1 1.6-.9 .2-3.8 .6 1.7 .2-8.7 .9 6.7 .2-4.6 .6 2 .8-4.3 .2-81.8 .6 67.2 .2-47.9 1.2 58.3 .5-52.9 .8 48.8 .2-42.9 .6 39.8 .2-21.3 .8 28.7 .8-56.1 .7 53 .2-50.7 1 54.3 .6-32.6 1 34.6 .2-44.4 .4 30.2 .6-26.4 1.1 38.9 .2-44.6 .6 38.7 .2-38.6 .6 38.6 .2-25.2 .6 28 .2-46.2 1.1 39.3 .6-45.7 .8 37.1 .2-134.5 1 141.6 .2-76.7 .6 57.9 .4-8.7 .5 29.8 .2-20.4 1.2 30.5 .2-38 .8 37 .2-19.2 1 23.9 1.1 3.8 .2-13.6 .6 11.9 .2-26 .4 19.6 .2-11.8 1 20.3 .4 1.8 .2-10.4 .4 4 .2-9.9 .5 14.5 .6 3.1 1 1.1 .2-2.5 1 2.7 1.9 .7 .2-2.5 .8 2.4 1.6 .6 .2-.9 1 .9 4.1 .4 .2-1.3 .5 1 1.4 .4 25.2-.1 1.2-.2 .8-2.5 .6 1.6 1.1 .3 .2-5.5 1 4.1 1 1 .6-5.6 .4 3.5 1.3 2 .2-6.2 1.4 5.7 .2-6.1 .8 5.7 .2-3.8 1.2 4.6 .2-6 .7 4.6 .4-6 .8 6.6 .4-6.9 1 7.3 .2-6 .8 4.7 .2-4.8 .5 5.2 .2-1.6 .6 2.4 1 .7 .4-4.8 1.2 4.2 1.3 .6 .4-7.5 1 7.1 .2-5.9 .8 5.9 .4-5 .6 4.8 .1-3.8 .8 4.4 .2-3.3 .4 2.7 .6-2.3 .4 2.5 1.6 1.4 4.5 .3 .2-.9 .9 .8 3 .2 32-.3 1-.6 .4-2.7 .6 .8 .2-8.8 .6 5.8 .2-9.2 .9 9.7 .6-24.9 .8 18.4 .2-10 .6 11.7 .2-19.1 .6 13.4 .2-25.6 .8 29.4 .3-5.8 .6 8.2 .8 2.1 .2-25.4 .6 19.9 .2-33.2 .8 24.9 .2-23.2 .6 29 .3-5 .2 5.2 .2-22.1 .2 11.9 .4-9 .6 21.2 .2-13.8 .8 17.2 .2-29.3 1.6 30.6 .1-32.1 1.2 31.6 .2-32 .6 25.5 .2-24.8 .6 22.7 .2-49.8 .8 35.3 .2-116.7 .3 124.6 .2-21.7 .6 22.8 .2-16.3 .6 19.2 .2-79.5 .4 55.9 .2-20.1 .8 45.9 .4-22.5 .4 20.4 .2-32.8 .7 39.7 .6-25.9 .8 28 .6 4.7 1.2 2.2 .2-21.7 .5 15.9 .2-12.6 .8 17.5 .2-10.8 .8 12.1 .2-8.6 .8 8.9 .6-4.9 1.1 6.9 .4-4.6 1 4.6 .6-2.8 .6 2.9 1.4 .9 1.5 .2 .2-1.9 .4 1.3 .2-.7 .6 1.1 1.5 .4 28.6 0 .2-.9 .8 .5 .2-1.5 1.1 1.1 .2-5.3 .8 4.2 .4-.9 1.2 1.1 .8-9.7 .6 6.1 .2-4.5 .5 5.9 .4-2.8 .4 2.8 1-11.3 .8 10.8 .2-3.9 1.1 5.8 1.2 .3 .2-6.1 .6 4.8 .2-10.8 .6 8.9 .4-1.6 .8 4.2 .2-12.1 .2 5 .1-3.6 1.4 10.9 3.7 .4 .6-9.9 .8 5.6 .2-7.9 .6 9.5 .2-5.9 1 8 .3-2.9 1.2 3.2 .4-3.3 .6 3.4 .2-6.3 1.2 6.9 .2-6.3 .9 4.2 .4-16 .6 5.2 .2-44.6 1.4 51.5 .6-25.2 .9 27.1 1 3 .2-3.4 .4 2.7 .2-7.1 .8 8 .4-1.6 1.3 3.2 1.6 .5 .2-3.9 .6 3.3 1.4 1 .2-2.1 .7 1.9 1.4 .4 27.8 .2 .2-.6 1.5 .3 .2-1.3 .4 .6 .8-3.1 1.2 2.7 1-4.6 .7 2.6 .6-4.1 .6 2.9 .2-3.8 .4 4.4 .2-4.3 .6 5.4 1 1.4 .3-6.8 1 4.2 .4-4.5 .6 5.6 1.4 1.6 .2-8 .6 5.9 .2-5.7 .7 6.8 .4-2.3 .4 2.1 .2-5.3 .6 5.1 1.2 1.3 .6-6.2 .5 4.9 .4 .9 .2-1.4 .6 1.5 .8-7.1 1.2 7.1 .2-3.4 .7 3.3 .6-6.5 1.6 6.9 .6-4.3 .6 3.9 .2-1.4 .6 2 .2-1.5 .1 .9 .2-3 .6 3.4 1.2 1 .8 .1 .2-2 .6 1.6 .2-1.7 .5 1.8 .2-1.3 .6 1.4 1-1.1 .6 1.2 1.2 .4 35 .1 1.1-2.7 .2-5.1 .8 3.4 1-.5 .2-11.4 .6 6.4 .2-19 1 16.7 .2-47.1 .1 17.3 .2-18.1 .4 28.4 .2-21.5 .6 29.2 .8 7 .8-77 .8 65.3 .7-101.8 .4 104.2 .2-27.5 .8 30.5 .2-56.3 .4 26.4 .2-31 .6 51.6 .2-62.6 .6 60.3 .2-11.4 .7 24.8 .2-66.1 .6 54.6 .2-81 1.2 91.9 .4-79.6 .6 65.7 .2-27.4 .6 35.9 .1-47.2 .6 44.7 .2-71.6 .6 39.9 .2-39.7 .8 72.2 .6 7.9 .8-1.9 .5-193.8 1 160.1 1 29 .2-108.6 1 108.3 .6-55.3 .6 45 .1-16.1 .2 16.8 .2-12.3 1 30.8 .2-23.8 .2 13.6 .2-8 1.4 28.8 .4-29.2 1.3 29.2 .2-21.8 .6 18.1 .2-12.2 .6 16.4 .6-14.5 .4 12.7 .2-3.5 .6 8.4 .9 2.4 .6-9 1 8.6 .6-6.9 .6 6.8 1.3 2 1.8 .4 .2-3.5 .6 2.9 1.4 .8 1.3 .2 .2-2.5 .4 1.7 .2-1.3 .8 2 .2-1.4 .6 1.3 1.3 .4 21.5 .2 2.6-4.3 .2-21.3 1 14.9 .7-.3 .2-18.2 .6 11.3 .8 1.4 .2-61.7 1 53.3 .2-97.5 .8 86.5 .3-98.9 1.2 107.2 .4-116.1 .6 94.7 .4-80.2 .6 83.4 .6-69.9 .7 80.3 1-120.5 .6 89.9 .6-236.2 .6 235.2 .2-193.7 .4 145 .2-102.4 .4 118.6 .5-121.2 .6 149.3 .2-126.5 .8 85.5 .4-53.4 1.2 132.7 .4-69 .4 48.9 .3-115.8 .6 112 .6 25.6 .8 6.6 .8 1.2 .8-120.4 .7 108.2 .2-14.6 .4 22.3 .4-53.4 .8 47.9 .2-48.7 .8 60.7 .4 7.3 .2-39.8 .6 35.9 .9 9.6 .6-13.6 .6 12.7 .2-25.9 .8 26.5 .4-20.7 .6 20.1 1.3 5.8 .8-13.4 .6 11.5 .6 2.5 1 .9 .9 .4 .2-8.5 .6 7 .2-.7 1.4 2.8 .2-5.7 .6 4.7 .2-1.7 .6 2.4 .9 .7 1.6-2.3 .6 2.1 1.4 .6 23.6 .3 2.6-4.2 .2-13.1 .5 3.6 .2-28.4 .6 23.3 .6-49.2 1 45.1 .8-4.4 .6-18.2 .5-334.6 .4 291.3 .2-202.3 .8 199.1 .2 20.5 .2-37.2 .8 62.6 .2-169.8 1.3 170.6 .2-132.6 1.2 143.8 .2-124.6 .4 85.5 .2-20 1.2 66.1 .2-39.6 .6 34.3 .3-103.2 1 104.8 .4-28.7 .6 29.8 .8 7.4 .2-77.6 .8 66.1 .2-121.5 .9 122.7 .2-96 1 74.8 .2-85 .6 88.4 .2 9.4 .2-13.8 .4 13.4 .6-243.7 .7 226.7 .2-110.7 1 132.2 .2-24.5 1 37.5 .2-112.9 .6 84.1 .2-61.1 .5 79.5 .2-41.3 .8 56.2 .2-22.5 .6 25.5 .4-19.6 1.2 27.4 .2-31.7 .4 22.3 .2-15.6 .7 22.2 .6-15.2 .2 6.1 .2-28.2 1.2 39.7 1.2-18 .5 18.9 .6 4.1 1 1.4 .2-12.2 .6 10.3 1.4 2.9 .2-8.9 .5 7.4 1.6 2.2 2.7 .5 .2-2.2 .6 1.7 1.2 .6 .6 .1 .2-2 .6 1.4 1.3 .7 .4-.7 1.8 .8 1.6-.5 1.5 .6 13.1 .1 .8-.4 .6-2.1 .2-4.8 .4 .5 .8-4.8 .5-53.8 .2-143.2 .6 112.3 .6-52.6 1 120.7 .4-19.5 .4 20.2 .2-36.1 .4 31.3 .2-70.3 .7 77.5 .2-48.3 .8 48.4 .6-34.8 .8 40 .2-15 .4 15.5 .2-35.9 .6 28.1 .1-37 1 48.2 .2-25.8 .6 25.7 .2-31.5 .6 30.5 .2-28.5 .6 29 .2-25.5 .6 24.6 .9 8.3 .8-52.3 .4 28.7 .2-46.1 1 64.2 .8-46.9 .9 44.4 .2 3.2 .2-6.3 .2 4.5 .2-38.9 1.2 43.9 .2-44.4 1 40.8 .4-37.1 .5 33.9 .8 8.4 .2-35.6 .6 29.3 .2-7.5 .4 10.8 .2-7.4 1 13.1 .6-25.8 .7 24.6 .4 2.4 .2-9.7 .8 9.4 .6 1.6 .2-6 .4 3.6 1-44.8 .5 36.8 .2-17.6 .6 21.5 1.2 6.1 .2-6.7 1 7.4 .8 1 .2-6.9 .5 6 1.4 1.9 .2-7.1 .6 6 .2-2.5 .6 3.3 1.1 1 15.9 .8 11.5 .1 1.4-.7 1.6-11.8 .7-183.4 .6 110.5 .2-17.8 .2 33.4 .4-30.7 .2 32.7 .2-46.8 .2 38.5 .2-44.3 .4 65.1 .6-30.1 1.1 62.5 .2-28.6 .8 27.8 .4-19.9 .4-77.8 .4 63.8 .2-46.3 .2 32.8 .4-24.6 1.1 72.3 .4-18.3 .6 17.8 .6 4.1 1 1.4 .6-82.8 .6 64.7 .2-64.1 .5 63.9 .4-60.9 .6 57.4 1-151.4 .6 144.1 .2-99.6 .8 107.4 .2-75.1 .5 72.4 .2-56.9 .6 61 .2-54 .4 45.7 .2-83.8 .6 75.2 .2-36.2 .4 42.9 .2-77.5 1.3 100.2 .4-82.1 .4 56.9 .2-69.2 .6 79.6 .4-23.8 1.2 45.4 .2-48.2 .4 31.4 .2-30.2 .7 35.1 .4-31.8 .2-188.5 .8 199.5 .2-114.4 .6 114.2 .8 27.9 .6 5.2 .2-37.7 .5 33.8 1.4 11.7 .2-46.4 .6 39.2 .2-34.4 .6 36.5 .2-5.3 .6 12.3 .5-6 .8 9.4 .2-17.3 .8 17.2 .6 2.1 .2-7.9 .8 8 .2-7.2 1.3 8.7 .2-9.3 .8 8.8 .4 .8 .2-1.8 1.4 2.5 .6 .2 .1-1.1 1 1.2 3.2 .4 .3-1.4 .6 1.2 1.2 .3 .8 .1 .2-1.1 1.5 1.1 18 .2 1-.2 .2-1 1.2 .1 .2-4.7 .8 3.1 .5-9.9 .8 7.9 .4 .7 .2-3.5 .2 1.3 .2-17.5 .6 14.4 .6-19.6 1.2 22 .3-26.8 1.4 25 .2-4.2 .2 2.8 .6-2.5 .6 5.2 .2-6.3 .6 6.1 .2-8.6 .9 9.5 .2-30.5 1.2 28.9 .2-31.8 .6 25.5 .2-18.6 .4 14.6 .9-83.6 1.2 80.8 .2-49.9 .6 47.1 .2-29.7 1.2 42.4 .2-21.1 .8 19.9 .1-24.5 .6 23 .6-32.9 1 36.8 .4-21.1 .8 21.4 .4-34.3 .9 36.1 .4-11.2 .4 9.6 .2-21.9 .8 24.1 .2-20.7 .6 18.4 .6 2.2 .4-.8 .2-51.1 .3 51.2 .8 1.7 .2-30.9 .8 28.8 .2-12.1 .4 11 .2-14.4 1.2 19.4 .5-12.7 .6 12.3 .4 2.1 .2-2.1 1 3.4 .6 .3 .2-3.2 1 3.4 1.3 .5 .2-2.9 .6 2.5 1 .7 .2-1.6 .6 1.4 .2-1.2 .7 1.4 1.6 .3 27 0 .6-2.3 .8 .5 .2-8.3 .7 5.3 .2-8.3 .8 5.4 .8-3.2 .6-120.8 .6 105.3 .2-66.8 .8 65.8 .3 6.5 .2-26.7 1.2 29.7 .2-86.4 .6 64.4 .2-28.5 .4 34.2 .2-43.9 .8 55.5 .5 6.8 1.2 2.3 .6 .3 .4-70.5 .4 38.8 .6-28.3 .4 38.4 .2-31.9 .5 39.6 .2-56.6 .6 55.5 .2-45.2 1.6 57.3 .2-50.5 1 50 .4-58.1 .9 46.6 .2-57 .8 59.8 .6-93.6 .6 70.9 .2-24 1 52.4 .5-60.3 1.2 64 .4-58.6 1.4 62.2 .8-30.8 .7 32.4 .8 4.6 .2-20.8 .6 17.7 1 4.9 .4-22 .6 18.4 .2-6.8 .3 7.8 .4-12.2 .8 14.8 .8 2.1 1.6 .7 3.9 .9 .4-4.5 .4 3.1 .2-.7 .7 1.3 .2-2.4 .4 2.3 .2-.7 1 1.9 .2-1.1 1.8 1.2 .1-1.6 1.6 1.8 .2-1 1.4 1.1 .8-.6 2.5 .7 18.4 .1 1.7-.4 .2-1.7 .8 .9 1.4-.4 .8-5.2 .6 2.7 .5-10.9 .4 7.2 .6-10.8 .6 10.6 1 3.8 .2-20.8 1 19.3 .4-16.7 .5 14.4 .8 3.5 .6-11.6 1 11.2 1.2 .9 .3-8.2 1.4 7.6 .2-10 1.2 10.2 .2-13.5 .8 12.1 .2-13.8 .9 13.6 .4-8.4 1 9.6 .2-14 .8 11.8 .8-17 .4 12.7 .2-4.2 .3 7.3 .2-14.4 .8 16.1 .2-19.6 .8 17.7 .2-14.7 .6 14.2 .4-21.6 .4 11.3 .6-68.1 1.5 75.5 .6-29 1 31.7 .2-26.2 .6 24.8 .2-14.3 .5 15.6 .2-7.9 .4 9.2 .2-13.6 .6 15.2 1.4 4.2 .6-3.1 .8 3.4 .1-6.3 .6 5.6 1.8 1.7 .2-2.4 .8 2.3 .6 .3 .3-1.5 .6 1.3 1.6 .5 .8-1.1 .8 1 2.9 .3 23.9 .1 1.5-.6 .2-2.9 1.2 1.8 .6-7.9 .6 2.2 .2-2.8 .1 2.5 .2-9.8 .8 11.5 .4-10.6 .8 9.7 .8-26.6 .6 21.3 .6-6.6 .5 10 .2-5.1 1 7.4 2.6 .6 .7-23.4 .6 18.2 .4-16.1 1 19.6 .2-25.2 .6 20.9 .2-12.3 .6 14.2 .2-15.6 .3 12.4 .2-17.2 .4 15.2 .4-14.3 1 18.9 .4-57.5 .4 48.5 1 10.1 .2-34.8 1.1 34.8 .2-39.3 1 38.3 .4-33.5 .6 29.1 .2-18.3 .6 21.8 .6 4.8 .9 1.9 .2-21.7 .4 12 .2-11.5 .6 17.9 .2-11.9 1 14 .2-5.8 .7 7.3 .2-8.4 .6 8.6 1.2 2.4 .8 .3 .2-6.4 .6 5.3 .7-3 .6 3.7 1.4 1.1 .2-4.1 1.4 3.8 1.1 .6 31.7 .4 .8-1 .4-3.6 1 1.3 .2-14.4 .7 9.9 .2-26.6 .6 19.4 .8 4.8 .2-40.5 .8 32.6 .2-50.1 1.6 49.1 .1-29.5 .4 19.9 .2-17.4 .2 3.6 .2-6.7 .2 12.5 .2-68.7 1.2 77.1 .8-72.6 .9 61.2 .4-35 .8 49.9 .4-83.1 1 83.5 .8 6.4 .4-12.4 .2-67.1 .9 72 .6 6.6 .6 1.4 1-.1 .2-87.1 .6 54.5 .2-81.7 .7 81.8 .2-171.2 .4 184.6 .4-40.7 1.2 49.1 .2-143.7 .8 129.6 .2-84.6 .4 48.4 .6-66.5 .7 111.9 .2-42.5 .6 48.1 .2-28.3 .6 33.9 .2-32.3 1.2 42 .2-52 .5 41.1 .2-22.9 .4 24.2 .2-27.3 .6 33.8 1 8.2 .2-23.1 .6 20.2 .2-3 .6 7 .2-10.7 .3 6 .4-5 .8 11.2 .4-15.7 .8 15.7 .4-4.3 1.4 6.9 .5 .3 .2-5 .8 4.7 .4-6.9 .6 6.2 1.4 1.8 .2-1.9 .9 2 3 .4 .2-1.5 1.7 1.6 .2-1.7 1 1.7 .4-1.1 .8 1.1 2.5 .2 15.5 .2 2.1-1.2 1.4-9.1 .2-70.6 .4 59.7 .7 10.8 .2-34.9 .4 24.6 .2-17.6 .6 22.2 .6-23.2 1 30.4 .2-20 .6 17.7 .6-27.8 .7 24.3 1 7.9 .8-22.8 .8 16.6 .2-15.6 .8 20 .1-3.6 .6 5.3 1.4 1.6 .2-24.5 .8 21.3 .8 2.9 1.5 .5 .2-25.7 1.4 23.8 .8 1.8 .4-23.8 .6 18.7 .1-3.4 .6 6.8 .6-5.1 .4 4.5 .2-24.8 .8 23.7 .2-10 .6 10.6 .6-21 .7 20.8 .2-8.1 .4 7.2 .2-8.5 .6 8.9 .2-18.4 1.2 20.8 .6 2.5 .2-7.2 .5 6.4 .6 1.3 .6-.2 .8-2.6 .2-45 .4 44.1 .6-9.4 1 11 .1-23.6 .4 16.8 1 8.3 .2-6.1 .4 4.9 .2-11.7 .6 11.8 1.2 3.2 .5-1.6 1 2 2.4 .7 .6-2.5 .7 2.2 1 .5 2.4 .2 .2-1 1.3 1.1 12.3 .2" fill="none" stroke="#00b4d8" stroke-width="3.9" stroke-dasharray="14.6 6.3"/>
<path d="M172.3 71.3V86.2m16.4-14.9V113.9m4.3-42.6V91.5m.4-20.2V77.1m.4-5.8V128m1.2-56.7V90.4m.4-19.1V130.8m1.2-59.5V95.2m.3-23.9V156.5m.4-85.2V82.8m5.5-11.5V100m.4-28.7V78.2m.4-6.9V91.7m4.3-20.4V74.6m.4-3.3V136.4m3.1-65.1V91.1m1.2-19.8V99.5m2.7-28.2V87.9m.4-16.6V176.6m1.2-105.3V81.4m.8-10.1V111.4m3.5-40.1V88.7m.4-17.4V96.6m5.1-25.3V76.5m9-5.2V74.4m9-3.1V152.3m3.5-81V79.5m3.1-8.2V101.3m1.2-30V81.2m2.3-9.9V88.3m4.7-17V126.4m.8-55.1V105.8m3.5-34.5V89.5m.8-18.2V99.1m1.2-27.8V91.7m.4-20.4V107.9m.4-36.6V90.8m2.7-19.5V135.9m.8-64.6V146.2m2.3-74.9V156m.4-84.7V132m.8-60.7V98.7m3.5-27.4V81.6m1.6-10.3V85.2m.4-13.9V77.5m2.7-6.2V88.4m.8-17.1V74.5m2.3-3.2V85.1m3.6-13.8V211.7m6.2-140.4V83.9m5.5-12.6V83.2m6.6-11.9V336.8m.8-265.5V80m14.1-8.7V105.7m.4-34.4V118.4m4.7-47.1V86.5m2.3-15.2V97.7m.8-26.4V130.8m2.8-59.5V143.6m1.1-72.3V113.7m2.8-42.4V98.6m.7-27.3V74.4m2.8-3.1V92.1m.4-20.8V177.5m.4-106.2V86.3m.4-15V107m3.1-35.7V80.3m1.2-9V79.8m2.7-8.5V82.5m1.2-11.2V77.6m.4-6.3V141m2.7-69.7V84.2m4.3-12.9V83.8m4.3-12.5V78.5m2.7-7.2V98.5m3.6-27.2V83.9m3.5-12.6V79.9m21.9-8.6V116.9m4.7-45.6V128.7m6.6-57.4V78.4m5.5-7.1V77.6m.4-6.3V118.8m.8-47.5V123m2.3-51.7V129.7m2.4-58.4V95.9m.7-24.6V83.6m.4-12.3V110.3m.8-39V83m.8-11.7V240m.8-168.7V92.5m.4-21.2V80m1.1-8.7V77.9m.8-6.6V80.1m1.6-8.8V77.4m8.2-6.1V175.4m.4-104.1V91.6m2.3-20.3V81.9m2-10.6V138.1m6.3-66.8V84.9m7.4-13.6V195.7m19.5-124.4V76.3m1.6-5V87.1m3.5-15.8V97.6m1.2-26.3V94.7m3.9-23.4V85.5m4.7-14.2V179.7m1.2-108.4V74.4m1.2-3.1V118.6m.3-47.3V90.2m.4-18.9V171.9m.8-100.6V91m7.8-19.7V75.8m.4-4.5V88.8m3.5-17.5V89.5m2-18.2V78.9m31.3-7.6V81.4m.8-10.1V84.3m.8-13V119.2m3.5-47.9V104.3m1.1-33V134.1m1.6-62.8V96.1m.8-24.8V118.1m1.6-46.8V80m4.3-8.7V435.7m.4-364.4V111.5m.3-40.2V90.1m.8-18.8V75.6m.4-4.3V122.6m.4-51.3V83.9m.8-12.6V77.5m1.6-6.2V77.2m5.8-5.9V89.4m4.3-18.1V78.4m.4-7.1V80.5m1.6-9.2V110.2m1.1-38.9V91.7m1.2-20.4V109m5.9-37.7V84.8m.4-13.5V113m1.5-41.7V78.3m2-7V95.1m.8-23.8V138.5m1.2-67.2V77.5m18.3-6.2V89.8m3.9-18.5V82m5.9-10.7V158.6m4.3-87.3V125.6m1.6-54.3V76.1m1.2-4.8V84.8m1.5-13.5V85.2m.8-13.9V93.7m.4-22.4V112.1m.8-40.8V78.6m.8-7.3V88.7m3.5-17.4V79.7m.8-8.4V79.3m1.9-8V98.8m2.4-27.5V82.3m2.7-11V135.5m.4-64.2V77.1m.8-5.8V88.3m1.5-17V97m.4-25.7V144.3m.4-73V77.3m.8-6V100.3m2-29V81.2m3.1-9.9V119.7m2.3-48.4V83.6m.8-12.3V75.1m2.7-3.8V108.5m2-37.2V92.2m.8-20.9V95.2m.4-23.9V122.2m10.1-50.9V152.4m.8-81.1V120m13.7-48.7V85.4m4.7-14.1V77.4m6.7-6.1V92.4m1.5-21.1V86.2m.8-14.9V136.9m3.9-65.6V87.7m2.8-16.4V76.6m.3-5.3V114.7m.4-43.4V79.8m7.5-8.5V83.1m1.1-11.8V112m3.6-40.7V87.2m6.2-15.9V110.1m.8-38.8V78.8m7.8-7.5V89.2m4.7-17.9V135.7m14.5-64.4V153.9m12.5-82.6V75.6m1.6-4.3V102.3m.7-31V177m.4-105.7V75.1m.4-3.8V85.4m2.8-14.1V106.9m1.1-35.6V80.2m5.5-8.9V95.3m.8-24V119.9m1.6-48.6V107.6m2.3-36.3V74.6m4.3-3.3V188.7m3.9-117.4V90m.4-18.7V91.8m1.2-20.5V140.5m.4-69.2V92m3.1-20.7V226.3m.4-155V83m4.3-11.7V102.8m.8-31.5V98.1m.8-26.8V78.9m6.6-7.6V77.5m4.7-6.2V100.4m12.5-29.1V87.3m9-16V77m5.1-5.7V92m4.7-20.7V329.1m1.6-257.8V76.4m2.3-5.1V79.4m.4-8.1V94.2m3.9-22.9V74.4m.8-3.1V155.3m.4-84V81.1m3.1-9.8V89.6m.4-18.3V119.6m1.9-48.3V89.4m1.6-18.1V193.5m6.3-122.2V92.5m5.4-21.2V102.3m.8-31V111.9m.8-40.6V181.4m.8-110.1V224.4m3.1-153.1V182.3m3.9-111V109.2m19.6-37.9V136.5m4.7-65.2V89.6m1.2-18.3V76.8m2.7-5.5V93.4m2.3-22.1V115.3m1.2-44V295m.8-223.7V136.9m5.1-65.6V98.5m.8-27.2V91.5m.7-20.2V130.6m2.4-59.3V109.9m.4-38.6V91.5m.4-20.2V152.5m1.5-81.2V129.1m3.6-57.8V97.1m3.5-25.8V87.5m1.5-16.2V122.8m.8-51.5V84.8m5.1-13.5V107.1m4.3-35.8V85m3.1-13.7V167.5m2-96.2V76.4m22.3-5.1V111.1m.8-39.8V116.9m5-45.6V170.3m5.5-99V93.7m2-22.4V117m1.2-45.7V148.4m.7-77.1V82.1m1.2-10.8V121.2m.4-49.9V97.5m.8-26.2V74.8m.4-3.5V79.5m.4-8.2V81.3m1.9-10V158.5m.8-87.2V75.2m.4-3.9V183.5m.4-112.2V152.4m.8-81.1V98.4m.4-27.1V89.9m.3-18.6V76.3m2-5V121.8m2.3-50.5V82.3m4-11V85.1m1.5-13.8V140m3.2-68.7V135.3m2.7-64V103.8m.8-32.5V104.5m1.1-33.2V74.9m2-3.6V101.5m.4-30.2V89.4m.4-18.1V90.5m3.5-19.2V130.5m.4-59.2V119.6m.4-48.3V107.5m6.6-36.2V105.5m10.2-34.2V76.1m7-4.8V111.3m5.5-40V109.7m4.3-38.4V91m.8-19.7V77.4m1.6-6.1V101.5m1.1-30.2V108.5m2.8-37.2V175.7m1.1-104.4V81.8m4.7-10.5V95.5m2.4-24.2V75.5m4.7-4.2V115.7m.8-44.4V129.2m15.2-57.9V94.2m8.6-22.9V74.4m7.5-3.1V94m10.5-22.7V90.1m11.7-18.8V146.1m.4-74.8V93m1.2-21.7V80.8m3.9-9.5V113.5m.4-42.2V120.3m1.2-49V91.8m1.2-20.5V80m1.9-8.7V77.3m2.7-6V81.4m2-10.1V98.5m2-27.2V112.7m1.5-41.4V199.5m1.6-128.2V85.9m2.3-14.6V78.2m.4-6.9V76.7m8.6-5.4V85.3m7.1-14V85m11.3-13.7V149.1m18-77.8V90m.4-18.7V116.8m.8-45.5V93.2m2.3-21.9V74.7m.8-3.4V75.2m.4-3.9V114.6m.4-43.3V162.3m3.5-91V88.7m1.2-17.4V124.2m.4-52.9V94.1m.4-22.8V83.5m.7-12.2V109.8m.4-38.5V112.5m1.6-41.2V96.6m1.6-25.3V76.7m1.9-5.4V87.6m2.8-16.3V92.1m1.9-20.8V79.1m.4-7.8V84.3m3.1-13V106.8m.4-35.5V85.9m.8-14.6V95m.4-23.7V82.5m3.1-11.2V118.8m3.2-47.5V93.5m2.7-22.2V114.2m5.5-42.9V367.9m.7-296.6V84.9m32.1-13.6V221.2m.4-149.9V184.1m.4-112.8V94.3m4.3-23V85.8m.4-14.5V78.3m.8-7V105.8m2.3-34.5V125.7m5.5-54.4V77.1m1.2-5.8V89.6m2.3-18.3V104.5m.4-33.2V75.3m.8-4V94.4m1.2-23.1V78.7m3.5-7.4V112.5m.4-41.2V82.4m3.5-11.1V94.9m.4-23.6V92.4m.4-21.1V92.2m4.7-20.9V81.7m.7-10.4V88.8m2.8-17.5V196.8m1.9-125.5V86.6m2-15.3V130.9m20.7-59.6V102.4m2.4-31.1V95.3m2.7-24V78.7m2.7-7.4V87.3m2-16V151.9m.8-80.6V82.5m2.3-11.2V134.7m1.2-63.4V103.8m.4-32.5V86.6m2.7-15.3V99.8m2-28.5V76.9m.8-5.6V88.8m2.7-17.5V130.4m.4-59.1V136.3m2-65V91.5m1.5-20.2V76.2m.8-4.9V80.5m2.3-9.2V82m2.4-10.7V84.5m2-13.2V113.1m1.5-41.8V95m.8-23.7V101.5m2-30.2V78.5m3.1-7.2V75.2m2.7-3.9V97.1m3.9-25.8V128.8m33.3-57.5V177.7m6.2-106.4V180.4m3.5-109.1V120.7m10.2-49.4V139m5.1-67.7V113.1m1.6-41.8V175.8m.7-104.5V102.9m.4-31.6V89.3m.8-18V106.4m3.9-35.1V77.5m1.6-6.2V161.1" stroke="#2424d4" stroke-opacity="0.68" stroke-width="3" fill="none"/>
<path d="M174.1 71.3V93.6m4.7-22.3V88.9m.7-17.6V77.1m2.4-5.8V97.7m.8-26.4V163.4m4.7-92.1V120.7m3.5-49.4V105.6m.4-34.3V128m2.3-56.7V127.7m2-56.4V80m.8-8.7V117.1m.7-45.8V79.3m.8-8V159.5m.8-88.2V90.9m1.2-19.6V118.6m1.5-47.3V96.1m1.6-24.8V84.1m3.5-12.8V95.2m2.4-23.9V110.4m.8-39.1V100.5m.3-29.2V76.6m1.6-5.3V102.8m1.6-31.5V81m3.5-9.7V142.7m2-71.4V121.6m2.7-50.3V104.1m1.6-32.8V77.2m2.3-5.9V82.4m5.1-11.1V122.9m16.4-51.6V77.9m2.7-6.6V81.4m.8-10.1V110.1m2-38.8V89.6m1.5-18.3V84.2m.4-12.9V84.3m.4-13V97.2m.8-25.9V116.6m.4-45.3V79.8m.8-8.5V133.8m1.2-62.5V512.4m1.1-441.1V79.5m.8-8.2V86.5m.4-15.2V79.6m.4-8.3V81.9m.4-10.6V97.3m.8-26V87m2.3-15.7V161.4m2-90.1V110.6m1.1-39.3V97.4m2-26.1V81.3m.4-10V98.2m1.6-26.9V170.7m.3-99.4V108m.8-36.7V91.6m1.6-20.3V90.7m.4-19.4V103.9m.4-32.6V102m.8-30.7V133.9m.7-62.6V77.6m4.3-6.3V153.5m.8-82.2V127.1m3.2-55.8V91.2m3.9-19.9V78.6m1.5-7.3V106m1.2-34.7V88.2m3.9-16.9V150.3m2.8-79V77.9m10.5-6.6V80.4m6.3-9.1V82.1m.4-10.8V84.5m6.2-13.2V85m5.1-13.7V83.9m2.3-12.6V77m1.6-5.7V329.1m1.2-257.8V95.8m1.2-24.5V90.1m.7-18.8V76.6m1.2-5.3V154.2m.8-82.9V77.1m.4-5.8V77m.4-5.7V75.4m1.2-4.1V89.7m.7-18.4V103.5m.4-32.2V95.2m.8-23.9V130.5m2.4-59.2V84.8m.3-13.5V103.4m2-32.1V85.7m1.6-14.4V82.7m.4-11.4V122.1m.3-50.8V74.5m1.6-3.2V80m.4-8.7V78.3m.4-7V111.4m.8-40.1V93.8m1.5-22.5V118.9m2-47.6V97.5m1.9-26.2V92.9m4.4-21.6V98.8m.7-27.5V88.4m.4-17.1V87.8m1.6-16.5V89.6m10.5-18.3V82.1m.4-10.8V76.5m2.8-5.2V86m22.3-14.7V76.9m4.3-5.6V77.1m1.9-5.8V84.6m.4-13.3V118.8m.4-47.5V97.7m1.2-26.4V90.5m2.7-19.2V91.5m.4-20.2V90.9m1.2-19.6V202.1m.8-130.8V137.3m1.9-66V163.6m.8-92.3V77m.4-5.7V88.7m1.2-17.4V76.1m6.2-4.8V77.3m1.2-6V79.8m.4-8.5V114.4m2.7-43.1V84.6m.8-13.3V77.4m5.1-6.1V86.5m.4-15.2V78m3.9-6.7V91.4m3.9-20.1V78.4m5.1-7.1V83.1m13.3-11.8V80.5m1.9-9.2V109.5m1.2-38.2V126.8m.8-55.5V154.6m2.3-83.3V76.5m2.4-5.2V76m.4-4.7V89m3.5-17.7V88.8m.4-17.5V105.6m6.3-34.3V83.9m3.5-12.6V81.1m1.9-9.8V307.7m3.9-236.4V85.1m4.3-13.8V90.4m1.6-19.1V145.8m2.7-74.5V150.7m1.2-79.4V93.2m3.9-21.9V129.9m1.6-58.6V74.7m5.5-3.4V79.5m16.4-8.2V75.7m6.6-4.4V93.7m3.9-22.4V77.1m2.4-5.8V88.6m2.3-17.3V78.4m1.2-7.1V103.2m2.4-31.9V209.1m1.5-137.8V145.8m.4-74.5V103.7m.4-32.4V213.2m3.1-141.9V94.8m.8-23.5V92.7m.4-21.4V91.8m2.7-20.5V96m.4-24.7V87.5m2.8-16.2V82.3m.4-11V125.2m.8-53.9V95.8m3.9-24.5V102.1m.4-30.8V81.6m2.3-10.3V93.9m.4-22.6V96.7m1.2-25.4V99.3m.4-28V89.6m1.5-18.3V78.1m7.1-6.8V82.6m.3-11.3V179m1.6-107.7V82.7m.8-11.4V90.2m.4-18.9V117.3m.8-46V79m.4-7.7V93.7m1.1-22.4V87.5m30.9-16.2V107.1m.8-35.8V81.4m1.6-10.1V82m.4-10.7V119.5m.7-48.2V197.8m.4-126.5V122m1.6-50.7V110.5m.8-39.2V86.3m1.2-15V86.7m1.9-15.4V75.6m1.2-4.3V371.7m2.7-300.4V239.2m.8-167.9V74.9m1.6-3.6V84.4m.8-13.1V84.7m1.9-13.4V80m2.4-8.7V88.7m.7-17.4V75.1m.8-3.8V103.7m1.2-32.4V96.7m.4-25.4V84.3m5.1-13V86.3m2.3-15V89.1m3.5-17.8V78.2m6.7-6.9V110.1m5.9-38.8V87.7m.3-16.4V88.6m4.7-17.3V109.9m18.4-38.6V90.5m3.5-19.2V102m2.4-30.7V102.6m9.8-31.3V99.9m2.7-28.6V105.3m1.6-34V76.3m5-5V101.8m5.5-30.5V74.7m3.1-3.4V82.3m1.2-11V118.1m33.3-46.8V164.7m9-93.4V74.4m2.3-3.1V87m1.2-15.7V79.9m.8-8.6V98.6m.4-27.3V124.4m.3-53.1V99.7m2.8-28.4V93.6m.4-22.3V99.5m1.9-28.2V76.3m.4-5V76.9m3.9-5.6V132.5m1.6-61.2V75.9m.4-4.6V84.6m1.9-13.3V89.1m1.2-17.8V78.5m.4-7.2V83.6m1.2-12.3V95.3m6.2-24V74.9m1.2-3.6V80.9m.4-9.6V108.1m2.3-36.8V148m1.2-76.7V137.2m.8-65.9V108.1m5.1-36.8V111m1.9-39.7V87m16.5-15.7V92.6m7.8-21.3V90.2m.8-18.9V102.1m2.3-30.8V74.8m.8-3.5V121.5m4.3-50.2V89.2m2.7-17.9V117.6m.8-46.3V104.6m.4-33.3V115.2m2-43.9V106.1m.4-34.8V167.4m1.1-96.1V75.5m2.4-4.2V89.8m1.5-18.5V82.2m2.4-10.9V87m1.9-15.7V157.7m1.6-86.4V83.8m1.2-12.5V104.6m.8-33.3V74.5m1.5-3.2V102.4m.8-31.1V74.4m.8-3.1V83.8m.8-12.5V104.1m1.5-32.8V88.2m2.8-16.9V78.5m1.9-7.2V158.6m1.6-87.3V111.5m3.5-40.2V91.9m6.7-20.6V75m.4-3.7V75m13.6-3.7V103.1m5.1-31.8V83m9.4-11.7V132.6m.4-61.3V82.1m2.4-10.8V129.3m3.5-58V80.2m8.6-8.9V130.2m.4-58.9V85.3m.4-14V141.2m4.3-69.9V78.8m1.1-7.5V74.9m5.5-3.6V85.4m3.9-14.1V89.4m32.9-18.1V160.6m.4-89.3V101.7m1.1-30.4V83.8m4.7-12.5V98.8m.8-27.5V77.3m.8-6V142.5m1.6-71.2V243.8m3.9-172.5V77.6m.7-6.3V98.1m1.2-26.8V106.8m.8-35.5V128.1m1.2-56.8V125.3m1.2-54V75.1m1.1-3.8V104.5m1.2-33.2V75.1m1.2-3.8V112.3m1.1-41V76.4m.8-5.1V102.1m3.2-30.8V331.5m2.3-260.2V94.1m4.7-22.8V95.1m2-23.8V82.2m.7-10.9V130.2m2.4-58.9V90.3m1.2-19V85.3m3.5-14V346.9m.8-275.6V99.9m.3-28.6V116.3m2.4-45V104.4m2.3-33.1V112.8m7.9-41.5V77.1m.4-5.8V81.8m12.5-10.5V112.2m3.1-40.9V96.9m7-25.6V87.4m2-16.1V75.8m4.7-4.5V81.4m1.5-10.1V97m10.2-25.7V101.7m2.4-30.4V149.8m.4-78.5V81.4m2.7-10.1V96.4m31.7-25.1V103.1m.8-31.8V78.1m4.6-6.8V97.9m1.2-26.6V75.5m1.2-4.2V94.8m6.2-23.5V87.1m2.4-15.8V75.8m.8-4.5V84.8m1.5-13.5V83.5m3.2-12.2V156.9m.4-85.6V92.7m.4-21.4V78.9m.3-7.6V102.6m2-31.3V79.5m2.7-8.2V108m.8-36.7V81.6m4.3-10.3V105.6m.8-34.3V137.8m2.7-66.5V75.6m.4-4.3V84.1m4.3-12.8V77.5m4.3-6.2V76.5m2.4-5.2V107.4m8.6-36.1V74.9m23.1-3.6V107.5m2.3-36.2V83.1m3.9-11.8V82.6m.8-11.3V161.5m2.3-90.2V78.7m.4-7.4V79.3m.8-8V148.8m.8-77.5V96.1m3.1-24.8V79.5m1.6-8.2V133.5m1.9-62.2V78.5m1.6-7.2V111.9m.8-40.6V90.7m2.3-19.4V79.1m4.7-7.8V122.2m.4-50.9V110.4m3.5-39.1V134.1m.4-62.8V96.2m2-24.9V84.1m4.7-12.8V86.1m1.2-14.8V93.4m.4-22.1V142.2m1.1-70.9V245m23.1-173.7V121.4m16.4-50.1V75.9m1.2-4.6V87.1m3.1-15.8V88.5m1.2-17.2V95.8m6.3-24.5V90.6m.3-19.3V77.4m.4-6.1V104.4m6.7-33.1V82m1.6-10.7V159.3m2.3-88V114.8m3.1-43.5V119.6m1.2-48.3V98.3m.4-27V93.7m.4-22.4V84.1m.4-12.8V80.4m6.2-9.1V129m3.2-57.7V91.7m20.7-20.4V135.8m2.7-64.5V83m2-11.7V116.5m1.9-45.2V81.6m.8-10.3V76.4m5.9-5.1V126.9m1.9-55.6V95.8m2.4-24.5V74.8m1.5-3.5V90.4m1.2-19.1V95.1m.4-23.8V94m3.9-22.7V94.7m.4-23.4V84.7m.4-13.4V91.1m3.5-19.8V121.6m.8-50.3V177.7m6.3-106.4V74.4m3.9-3.1V100.9m.8-29.6V81.8m2.7-10.5V118.1m.8-46.8V81.9m25.8-10.6V111.7m4.3-40.4V122.9m4.7-51.6V90.7m2.3-19.4V85.4m3.9-14.1V87.2m2-15.9V95.3m4.3-24V83m.8-11.7V91.7m1.2-20.4V74.3m.7-3V130.6m.4-59.3V159.2m1.2-87.9V111.4m4.7-40.1V120.5m.4-49.2V84.6m2.7-13.3V144.5m.8-73.2V89.9m.8-18.6V104.2m3.5-32.9V108.3m5.1-37V79m.8-7.7V100.4m1.9-29.1V100.6m13.7-29.3V100.2" stroke="#2424d4" stroke-opacity="0.68" stroke-width="3" fill="none"/>
<path d="M186.4 71.3V513.2m9-441.9V126.2m.2-54.9V119.2m1.7-47.9V98.5m1-27.2V141m1-69.7V132.1m.4-60.8V108.2m.4-36.9V129m1-57.7V105.3m2.3-34V104.1m.8-32.8V103m.4-31.7V140.9m.4-69.6V123.1m.2-51.8V129.8m.2-58.5V513.2m.7-441.9V137.7m49.7-66.4V513.2m4.1-441.9V513.2m73.1-441.9V513.2m77.7-441.9V513.2m2.9-441.9V513.2m64.3-441.9V147.5m.2-76.2V128.4m.2-57.1V148m.4-76.7V126.1m.2-54.8V136.3m.2-65V157.8m.6-86.5V110.1m.8-38.8V110.7m1.5-39.4V513.2m.6-441.9V110m.6-38.7V151.1m.6-79.8V109.4m.2-38.1V513.2m.6-441.9V145.8m.2-74.5V103.4m.4-32.1V132.1m.4-60.8V146m.8-74.7V513.2m.5-441.9V155.7m.6-84.4V157.7m.2-86.4V112m.6-40.7V135m.8-63.7V150.6m.6-79.3V152.6m.2-81.3V125.8m.4-54.5V111.8m.7-40.5V128.7m.6-57.4V140.9m.2-69.6V128.6m1.6-57.3V134.9m62-63.6V513.2m71.4-441.9V513.2m64.7-441.9V169.7m.2-98.4V153.4m.2-82.1V164.8m.2-93.5V166.6m.2-95.3V513.2m.5-441.9V116.8m.2-45.5V170.9m2-99.6V120.7m.2-49.4V158.4m.2-87.1V162.9m.4-91.6V120m.6-48.7V513.2m.2-441.9V165.7m.4-94.4V157.9m.1-86.6V131m.2-59.7V136.2m2-64.9V513.2m.2-441.9V111.1m.2-39.8V147.1m.4-75.8V114.1m.2-42.8V107.4m.4-36.1V171.7m.2-100.4V157.6m.2-86.3V134.2m.5-62.9V120.4m.4-49.1V123.2m1-51.9V130.5m.4-59.2V155.3m.4-84V159.7m.6-88.4V147.2m.4-75.9V122.1m.4-50.8V106.6m.2-35.3V136.8m.2-65.5V119.8m.3-48.5V154.8m.4-83.5V137.9m.2-66.6V174.7m.2-103.4V138.4m56.9-67.1V144.1m.6-72.8V146.4m.2-75.1V103.4m.2-32.1V149.7m.4-78.4V147.2m1.2-75.9V116.8m.6-45.5V148.3m.2-77V103m.2-31.7V141m.5-69.7V152.1m.2-80.8V155.6m.4-84.3V145.6m.4-74.3V122.8m.2-51.5V150.4m.4-79.1V134.4m.4-63.1V109.5m.6-38.2V115m.4-43.7V125.5m.4-54.2V153.5m.4-82.2V127.2m1.1-55.9V147.3m.2-76V131.6m.8-60.3V103.3m1.4-32V143.2m.2-71.9V120.7m.2-49.4V157.2m62.7-85.9V513.2m66.3-441.9V141m.6-69.7V93.8m1.2-22.5V111.6m.8-40.3V144.7m.2-73.4V141.5m.7-70.2V140.3m.2-69V100.6m.2-29.3V116.3m.8-45V149.6m.4-78.3V101.3m.6-30V139m.4-67.7V513.2m.2-441.9V112.8m.2-41.5V116.2m.6-44.9V103.3m1.5-32V126.3m.2-55V94.8m.4-23.5V98.8m.4-27.5V116.9m.2-45.6V117.8m.8-46.5V142.3m.6-71V129.5m.6-58.2V97.3m.3-26V126.1m.4-54.8V103.5m.2-32.2V108.5m.6-37.2V125.2m.4-53.9V126.1m.4-54.8V140.3m.8-69V101.2m1-29.9V108.3m55.9-37V149.6m.2-78.3V143.7m.8-72.4V110.2m.2-38.9V131.6m.9-60.3V149.8m.4-78.5V113.5m.4-42.2V148m1.8-76.7V152.5m.6-81.2V126.7m.6-55.4V112.1m.1-40.8V154.6m1-83.3V126m.2-54.7V125m1-53.7V104.4m.6-33.1V118.9m.4-47.6V133.2m.2-61.9V146.3m.2-75V142.7m.2-71.4V106.3m.2-35V134.4m.3-63.1V126.9m1.6-55.6V513.2m.4-441.9V154.2m.2-82.9V126.3m.2-55V124m.2-52.7V120.7m.6-49.4V113.5m1.5-42.2V102.6m.2-31.3V135.8m.2-64.5V119.5m.8-48.2V157.8m.2-86.5V117.3m.4-46V135.1m.2-63.8V113m63.2-41.7V513.2m62.9-441.9V131.8m.2-60.5V136.8m.6-65.5V139.6m.4-68.3V143.9m.2-72.6V141.7m.4-70.4V127.4m.4-56.1V99.5m.8-28.2V149.4m.3-78.1V126.2m2.6-54.9V147.4m.2-76.1V137.1m1.2-65.8V144.9m.2-73.6V513.2m.1-441.9V98.3m.4-27V102.4m.4-31.1V138m.4-66.7V135.4m1.4-64.1V139.3m.6-68V144m.2-72.7V129.1m.6-57.8V513.2m.4-441.9V99.8m1.3-28.5V138.4m.4-67.1V115.2m59.1-43.9V128.2m.7-56.9V107.4m.2-36.1V123.7m1.2-52.4V120m.8-48.7V136.6m.4-65.3V134.4m.4-63.1V105.4m.2-34.1V107.1m.6-35.8V129.1m.2-57.8V118.4m.2-47.1V147.4m.1-76.1V513.2m.2-441.9V149.9m.2-78.6V143.3m.6-72V109.1m.4-37.8V138.7m.4-67.4V125.9m.8-54.6V134.3m.4-63V137.2m.2-65.9V136.3m1.5-65V137.1m.8-65.8V125.6m.2-54.3V109.1m.2-37.8V108.9m.2-37.6V149.9m.2-78.6V117.2m.8-45.9V126.6m.4-55.3V119.2m.6-47.9V140.3m.4-69V147.2m65.1-75.9V513.2m2.1-441.9V513.2m60.3-441.9V123.9m.5-52.6V141.9m.8-70.6V156.6m.4-85.3V166.6m.6-95.3V142.8m.6-71.5V147.2m.2-75.9V100.2m.4-28.9V122.5m.2-51.2V150.2m.2-78.9V166.6m.2-95.3V163m.3-91.7V154.2m.6-82.9V139.6m.4-68.3V155.8m.2-84.5V152.6m.2-81.3V124.3m.8-53V164m.2-92.7V163.7m.2-92.4V513.2m1-441.9V162.7m.2-91.4V151.6m.4-80.3V159.6m.2-88.3V162.9m.7-91.6V136m.4-64.7V153.6m.2-82.3V103.6m.6-32.3V119.8m.4-48.5V133.3m.4-62V140m1.6-68.7V164.4m.1-93.1V98.6m.2-27.3V126m.2-54.7V162.9m.2-91.6V146.9m1.2-75.6V133.1m1.2-61.8V148.4m.8-77.1V150.4m.2-79.1V142.7" stroke="#add8e6" stroke-opacity="0.7" stroke-width="3" fill="none"/>
</g>
<path d="M1520.9 73.3V499.6" stroke="#c4c4c4" stroke-width="2.1" fill="none"/>
<path d="M106.4 73.3H1520.9 M106.4 499.6H1520.9 M106.4 73.3V499.6" stroke="#000" stroke-width="2.1" fill="none" stroke-linecap="square"/>
<path d="M97.4 478.7H106.4M97.4 377.4H106.4M97.4 276H106.4M97.4 174.7H106.4M97.4 73.3H106.4M194.6 499.6V508.6M337.3 499.6V508.6M480.3 499.6V508.6M623 499.6V508.6M766 499.6V508.6M908.7 499.6V508.6M1051.7 499.6V508.6M1194.4 499.6V508.6M1337.4 499.6V508.6M1480.1 499.6V508.6M1520.9 73.3H1529.9M1520.9 158.6H1529.9M1520.9 243.8H1529.9M1520.9 329.1H1529.9M1520.9 414.3H1529.9M1520.9 499.6H1529.9M1625.6 73.3H1634.6M1625.6 158.6H1634.6M1625.6 243.8H1634.6M1625.6 329.1H1634.6M1625.6 414.3H1634.6M1625.6 499.6H1634.6" stroke="#000" stroke-width="2.1" fill="none"/>
<path d="M1625.6 73.3V499.6" stroke="#000" stroke-width="2.1" fill="none"/>
<text x="88.2" y="488.3" text-anchor="end">0</text>
<text x="88.2" y="387" text-anchor="end">50</text>
<text x="88.2" y="285.6" text-anchor="end">100</text>
<text x="88.2" y="184.3" text-anchor="end">150</text>
<text x="88.2" y="82.9" text-anchor="end">200</text>
<text transform="translate(192.6 551) rotate(-45)" x="0" y="9.8" text-anchor="middle">2002</text>
<text transform="translate(335.3 551) rotate(-45)" x="0" y="9.8" text-anchor="middle">2004</text>
<text transform="translate(478.3 551) rotate(-45)" x="0" y="9.8" text-anchor="middle">2006</text>
<text transform="translate(621 551) rotate(-45)" x="0" y="9.8" text-anchor="middle">2008</text>
<text transform="translate(764 551) rotate(-45)" x="0" y="9.8" text-anchor="middle">2010</text>
<text transform="translate(906.7 551) rotate(-45)" x="0" y="9.8" text-anchor="middle">2012</text>
<text transform="translate(1049.7 551) rotate(-45)" x="0" y="9.8" text-anchor="middle">2014</text>
<text transform="translate(1192.4 551) rotate(-45)" x="0" y="9.8" text-anchor="middle">2016</text>
<text transform="translate(1335.4 551) rotate(-45)" x="0" y="9.8" text-anchor="middle">2018</text>
<text transform="translate(1478.1 551) rotate(-45)" x="0" y="9.8" text-anchor="middle">2020</text>
<text x="1539.1" y="82.9" text-anchor="start">0</text>
<text x="1539.1" y="168.2" text-anchor="start">20</text>
<text x="1539.1" y="253.4" text-anchor="start">40</text>
<text x="1539.1" y="338.7" text-anchor="start">60</text>
<text x="1539.1" y="423.9" text-anchor="start">80</text>
<text x="1539.1" y="509.2" text-anchor="start">100</text>
<text x="1643.8" y="82.9" text-anchor="start">0</text>
<text x="1643.8" y="168.2" text-anchor="start">50</text>
<text x="1643.8" y="253.4" text-anchor="start">100</text>
<text x="1643.8" y="338.7" text-anchor="start">150</text>
<text x="1643.8" y="423.9" text-anchor="start">200</text>
<text x="1643.8" y="509.2" text-anchor="start">250</text>
<text transform="translate(21.8 286.4) rotate(-90)" x="0" y="0" text-anchor="middle">Streamflow [m³/s]</text>
<text transform="translate(1618.5 286.4) rotate(-90)" x="0" y="0" text-anchor="middle">Rainfall [mm]</text>
<text transform="translate(1724.7 287.4) rotate(-90)" x="0" y="0" text-anchor="middle">SCA</text>
<text x="813.7" y="612.9" text-anchor="middle">Date</text>
<text x="1230.4" y="36" text-anchor="middle" style="font-weight:bold;font-size:26.25px">HBV model-generated Streamflow Analysis</text>
<text x="1239.4" y="65.7" text-anchor="middle" style="font-weight:bold;font-size:26.15px">(Chacha N Amelah Basin) from 2001-09-01 to 2019-08-31</text>
<rect x="460.1" y="639.1" width="1550.5" height="45.8" rx="5" ry="5" fill="#fff" stroke="#d0d0d0" stroke-width="2"/>
<path d="M470.2 660.8H523.1" stroke="#f0b800" stroke-width="3.9" stroke-linecap="square"/>
<path d="M877.9 660.8H931" stroke="#00b4d8" stroke-width="3.9" stroke-dasharray="15 5.8"/>
<rect x="1292" y="651" width="54" height="19.5" fill="#e6ebee" stroke="#dbe1e5" stroke-width="1.5"/>
<rect x="1651" y="651" width="54" height="19.5" fill="#4d4dff" stroke="#2323e6" stroke-width="2"/>
<rect x="1874.5" y="651" width="54" height="19.5" fill="#c5e6ef" stroke="#b4dce6" stroke-width="2"/>
<text x="543.2" y="669.9" text-anchor="start">Observed Streamflow</text>
<text x="950.5" y="669.9" text-anchor="start">Simulated Streamflow</text>
<text x="1366.4" y="669.9" text-anchor="start">95% CI Simulated</text>
<text x="1723" y="669.9" text-anchor="start">Rainfall</text>
<text x="1946.2" y="669.9" text-anchor="start">SCA</text>
<defs><clipPath id="sc2"><rect x="1909.3" y="73.2" width="530.6" height="425.7"/></clipPath></defs>
<path clip-path="url(#sc2)" d="M1944.7 442.4h0M2010.5 457.7h0M2009.2 413.1h0M1982.4 474.1h0M1954 479h0M1950.1 475.1h0M1974.1 464.5h0M1979.3 388.6h0M1957.2 458.3h0M1939.2 452.5h0M1983.5 452.3h0M1957.6 443.1h0M1975 475.9h0M2001.8 469.6h0M1947.7 459.3h0M1962.9 459.6h0M1943 415.7h0M1980.8 405.7h0M1967.8 464.8h0M1946.1 449.6h0M1940.5 464.7h0M1995.1 389.1h0M1953.5 431.7h0M1953.1 464.4h0M1952.6 461h0M1990.9 411.4h0M2006.5 429.1h0M1983.4 460.8h0M1945.9 459.8h0M1994 398.9h0M1955.1 439.2h0M1964.5 469.2h0M2011.4 373.6h0M1967.6 464.3h0M1966.8 425.8h0M2009 463.1h0M1943.2 467.9h0M1956.3 447.6h0M1960.5 447.1h0M1979.3 448.6h0M1981.1 386.5h0M2000.8 462.3h0M1971 479.1h0M1964.6 459.2h0M1965.5 476.4h0M1981.7 440.7h0M2015.7 415.2h0M1946.8 469h0M1984.8 445.8h0M1978.4 433.3h0M1979.3 464.7h0M1990.6 451.4h0M1974.8 433.8h0M1939.2 430.9h0M2005.6 421.3h0M1953.3 459.1h0M1988.4 385.9h0M2010.1 442.3h0M1981.1 468.4h0M1983.2 431.6h0M1982.1 449.5h0M1946.7 448h0M1946.3 427.8h0M1989.1 429.2h0M1944.2 454.2h0M1993.2 389.6h0M1948.9 417.8h0M1987 405.5h0M1965 451.5h0M2001.7 468.2h0M1960.4 442.4h0M1937 444.1h0M1961.4 462.4h0M1943.4 441.3h0M1958.2 434.4h0M2023.3 406.6h0M1981.9 473.8h0M1936.8 433.7h0M1993 397.4h0M1981.5 466h0M1947.4 452.5h0M1994.9 391.9h0M1934.9 469.5h0M1979.9 425.1h0M1947.8 444.5h0M2015.2 427.3h0M1972.8 449.2h0M1991.5 433.5h0M1949.2 446.8h0M1979.3 458.7h0M1959 430.6h0M1941.4 461h0M1978.2 459.1h0M2010.4 447.5h0M1973.7 455.6h0M1990.3 423.4h0M1945.2 417.9h0M1982.2 427.9h0M1979.4 460.6h0M1986.6 473.7h0M1949.8 413.1h0M1959.7 452.4h0M1957.5 451h0M1938.8 477.8h0M1984.8 436.9h0M1955.7 416.5h0M1965 426.2h0M1983 434h0M1938.6 436.6h0M1962.5 443.9h0M1967.9 455.7h0M1969.4 450.8h0M1985.3 402.7h0M1977.8 464.5h0M1963.6 415.5h0M2006.8 423.2h0M1977.9 459.6h0M1972.5 453.6h0M1938.3 477.1h0M1949.3 414.6h0M1955.7 415.5h0M1954.9 419.7h0M1958.6 431.6h0M1970.4 420.9h0M1949.8 452.3h0M1955.2 465h0M1946 449.5h0M1971.7 430.5h0M2003.2 476.2h0M1976.3 443.1h0M1948.6 457.6h0M1992.1 454.5h0M1962.5 460.3h0M2001.6 476.7h0M1993.6 468.6h0M1969.6 451.4h0M2008 403.7h0M1951 454.1h0M1996.4 477.6h0M1972.3 410.9h0M2017 402.6h0M2010 385h0M1966.7 450.3h0M1951.3 431.1h0M1996.2 415.6h0M1937.1 471.5h0M1967.6 469.4h0M2005.2 447.6h0M1944.5 458.5h0M1947.3 411.9h0M1991 424.5h0M1968.2 404.6h0M1968.5 456.2h0M1995 460.7h0M1947.1 417.3h0M1976.9 446.6h0M2006.5 399.7h0M2004 445.2h0M1969.1 392.9h0M1984.6 390.6h0M1995.6 453.1h0M1990.9 433.6h0M1956.5 470.2h0M2018.4 398.3h0M1993.9 454h0M1939.4 447h0M1999.6 456.2h0M1955.9 473.2h0M2016.2 414.4h0M1968.7 466.4h0M1948.4 451.4h0M1973.6 460.9h0M1947.5 472.3h0M1958.6 448.4h0M1994.1 394.8h0M2004.5 464.8h0M2012.4 454.2h0M1936.4 479h0M1942.2 478.2h0M1961.2 402.8h0M1962.1 437.9h0M2021.3 418.1h0M1957.4 423.9h0M1946.5 453.9h0M1950.2 477h0M1946.3 433.4h0M1985.5 448h0M1942.4 447.9h0M1978.8 384.9h0M1985.8 439.9h0M1938.4 463.3h0M1957.9 422.5h0M1974.9 469.1h0M1957.9 440.7h0M1940.7 439.9h0M1986.6 467h0M1940 447.2h0M1984.3 424.3h0M1954.4 440.8h0M1979.7 428.8h0M1948.1 429.9h0M1973.8 439.6h0M2015.2 432h0M1972.8 474.8h0M1940.9 475.2h0M1979.1 412.1h0M1960.5 456.1h0M1940.5 424.9h0M1989.3 447h0M1952.2 446.3h0M2014.5 413.4h0M1968 443.4h0M1953 453.7h0M1959.3 408h0M1961.7 471.4h0M1939.9 431.2h0M1955.2 422.8h0M1957.8 422.6h0M1957 435.3h0M1989.4 455.4h0M1989 465.9h0M1947.8 448.5h0M1956.2 437.5h0M1962.2 423.2h0M1949.3 408.8h0M1983.8 382.4h0M2003 460.9h0M1959.6 419.6h0M1956.8 402.1h0M1993.5 439.2h0M1970.3 413.3h0M2007.5 395.8h0M1942.1 456.4h0M1950 408.9h0M1948.6 451.6h0M1990.5 423.4h0M1989.4 407.1h0M1946.9 465.4h0M1972.5 472.9h0M1962.9 427.8h0M1997.6 387.8h0M1945.7 475.5h0M1965.6 479h0M1944.1 479.3h0M2008.6 440.2h0M1978.1 416.8h0M2018.1 401.7h0M1950.4 470.9h0M1945.1 451h0M1981.7 432.1h0M1988.5 410.3h0M1936.9 446.7h0M1985.5 460.6h0M1984.4 466.9h0M1937.1 450.7h0M1936.9 462.9h0M1998.6 451.7h0M1965.3 464.1h0M2023 406.4h0M1978.1 469.5h0M1967.5 409.4h0M2002.6 413.1h0M1973.2 390.2h0M1941.6 462.3h0M1949.5 440.7h0M1958.3 457.5h0M1962.6 457.7h0M1938 437.1h0M1972.7 417.9h0M1988.7 452.6h0M1965.3 467h0M1965.9 478.7h0M1946.9 457.3h0M1972.4 444.1h0M1952.8 426.4h0M1963.8 425.1h0M1958.3 467.8h0M1954.3 437.9h0M2016.8 420.4h0M1938.6 466.5h0M1935.8 444.7h0M2005.8 421.7h0M1977.8 470.2h0M1989.4 409.2h0M1964.8 448.1h0M1942.6 457.8h0M2008.8 428.2h0M1958.5 401.7h0M1978.1 464.4h0M1949.8 434.6h0M1990.3 450.1h0M1952.3 445.3h0M1983.2 424.5h0M1938.4 462.2h0M1943.6 477.9h0M1995.7 472.5h0M2006.7 448h0M1944.9 425.1h0M1959 460.6h0M1936.9 471.7h0M1964.9 474h0M1939.4 438.8h0M1943.2 479.4h0M1939.4 433.9h0M1980.4 478.5h0M1935.5 442.4h0M1934.9 476.3h0M1935.6 427.5h0M1981.8 476.9h0M1938.5 430.7h0M1956 478.5h0M1939.3 459.5h0M1967.3 474h0M1938.1 470.6h0M1955.6 473.6h0M1938.5 474.4h0M1963.3 479.3h0M1934.7 455.2h0M1951.9 474.9h0M1936.3 433.8h0M1974.5 478.2h0M1934.6 436.5h0M1941.8 477.3h0M1933.7 434.3h0M1944.7 476.8h0M1935.8 423.7h0M1975.4 475h0M1933.5 427.8h0M1959.1 479h0M1934.4 468.8h0M1945.9 473h0M1934.9 444.4h0M1943.5 474.9h0M1935.9 428.5h0M1949.6 474.9h0M1936.5 461.2h0M1941.2 479.4h0M1936.6 426.7h0M1961.3 473h0M1937.4 424.7h0M1951.8 476.1h0M1939.3 449.7h0M1951.6 477.5h0M1937.4 461.9h0M1966.6 478.1h0M1938.5 423.4h0M1958.3 474.8h0M1933.7 451.6h0M1964.7 473.9h0M1935 448.7h0M1982 475.8h0M1935 459.1h0M1972.6 478.1h0M1934.5 453.4h0M1978.2 473.9h0M1935.9 423.3h0M1949.4 474.7h0M1939.1 452.6h0M1982.4 478.5h0M1939.1 451.9h0M1978.1 474.2h0M1936.8 437.3h0M1975.6 474.5h0M1937.3 461.1h0M1945.3 476.1h0M1939 452.9h0M1967.9 475.2h0M1937.9 440.6h0M1943.5 479.2h0M1936.6 441.9h0M1971 475.8h0M1939 439.4h0M1937.1 476.1h0M1933.6 428.7h0M1958.3 477.4h0M1939.5 434.1h0M1961.9 474.6h0M1933.7 435.4h0M1966.9 473.3h0M1934.6 425.3h0M2284.6 92h0M2416.6 260.6h0M2328 289.2h0M2193.7 327.8h0M2182.6 415.4h0M2218.9 458.2h0M2156 212.8h0M2140.4 223.8h0M2137.4 265.8h0M2119.6 272.5h0M2110.4 285.7h0M2147.2 284.9h0M2161.3 284.9h0M2180.4 272.5h0M2194.5 271.1h0M2120.5 313.6h0M2102.8 322.5h0M2111.7 335.3h0M2091.7 365.4h0M2101.5 367.6h0M2117.4 374.3h0M2020.8 235.7h0M2048.7 235.7h0M2075.3 212.8h0M2025.2 270.3h0M2028.3 293.7h0M2007.5 291.1h0M1982.2 287.9h0M1985.4 305.7h0M1974.2 327.8h0M2045.1 327.8h0M2056.2 352.1h0M2065 349h0M1967.6 352.1h0M1981.8 347.8h0M1999.5 329.9h0M2009.8 321.1h0M2053.1 387.4h0M2071.8 412.7h0M2066.5 437.1h0M2040.7 407.4h0M2037.6 446.3h0M2028.7 460.5h0M2056 477.3h0M1998.5 473.8h0M2011.9 467.1h0" stroke="#00b4d8" stroke-width="19.3" stroke-linecap="round" fill="none"/>
<path d="M1909.3 498.9L2439.9 73.2" stroke="#808080" stroke-width="3.4" stroke-dasharray="13 5.6" fill="none"/>
<rect x="1927.8" y="86.3" width="181.6" height="128.9" rx="5" ry="5" fill="#fff" fill-opacity="0.8" stroke="#d4d4d4" stroke-width="2"/>
<text x="1935.6" y="114.1" text-anchor="start">RMSE: 12.91</text>
<text x="1935.6" y="143.5" text-anchor="start">NSE: 0.64</text>
<text x="1935.6" y="173.3" text-anchor="start">R²: 0.65</text>
<text x="1935.6" y="202" text-anchor="start">KGE: 0.63</text>
<rect x="1909.3" y="73.2" width="530.6" height="425.7" fill="none" stroke="#000" stroke-width="2.1"/>
<text x="1933.4" y="537.6" text-anchor="middle">0</text>
<text x="2102.1" y="537.6" text-anchor="middle">200</text>
<text x="2270.9" y="537.6" text-anchor="middle">400</text>
<text x="2439.6" y="537.6" text-anchor="middle">600</text>
<text x="1891.1" y="489.1" text-anchor="end">0</text>
<text x="1891.1" y="432.1" text-anchor="end">50</text>
<text x="1891.1" y="375" text-anchor="end">100</text>
<text x="1891.1" y="317.9" text-anchor="end">150</text>
<text x="1891.1" y="260.8" text-anchor="end">200</text>
<text x="1891.1" y="203.8" text-anchor="end">250</text>
<text x="1891.1" y="146.7" text-anchor="end">300</text>
<text x="1891.1" y="89.6" text-anchor="end">350</text>
<path d="M1933.4 498.9V507.9M2102.1 498.9V507.9M2270.9 498.9V507.9M2439.6 498.9V507.9M1900.3 479.5H1909.3M1900.3 422.5H1909.3M1900.3 365.4H1909.3M1900.3 308.3H1909.3M1900.3 251.2H1909.3M1900.3 194.2H1909.3M1900.3 137.1H1909.3M1900.3 80H1909.3" stroke="#000" stroke-width="2.1" fill="none"/>
<text x="2174.6" y="572.9" text-anchor="middle">Observed Streamflow [m³/s]</text>
<text transform="translate(1824.7 286.1) rotate(-90)" x="0" y="0" text-anchor="middle">Simulated Streamflow [m³/s]</text>
</g>
<g transform="translate(0 2114.1)">
<path d="M106.4 473H1520.9M106.4 419.7H1520.9M106.4 366.4H1520.9M106.4 313.1H1520.9M106.4 259.8H1520.9M106.4 206.5H1520.9M106.4 153.2H1520.9M106.4 99.9H1520.9M194.6 73.3V499.6M337.3 73.3V499.6M480.3 73.3V499.6M623 73.3V499.6M766 73.3V499.6M908.7 73.3V499.6M1051.7 73.3V499.6M1194.4 73.3V499.6M1337.4 73.3V499.6M1480.1 73.3V499.6" stroke="#b0b0b0" stroke-width="2" stroke-dasharray="2.1 3.4" fill="none"/>
<defs><clipPath id="mc3"><rect x="106.4" y="73.3" width="1414.5" height="426.3"/></clipPath></defs>
<g clip-path="url(#mc3)">
<path d="M170.7 469.4l13.5-.9 2.6-11.5 .8 4.5 .4-9 1.1 4.3 .2-9.8 1.4 8.5 .2-12.8 1.5 11.2 .2-26.7 .6 23 1.2-16.8 1.8 23.6 .2-14.4 2.3 12.7 .2-16.4 1 16.5 .8-11.1 1.3 12.9 .2-18.9 1.2 18 .2-23 .6 17.3 .2-14.2 1 18.8 .2-20.9 1.9 22 .2-23.2 1 20.2 .6-6.1 1.7 10.3 1.4-133.2 1 110 1.3 14.2 .6-14.1 .8 18.6 .8-5.1 2.5 16.2 .2-9.4 1.8 10.5 .2-4.4 2.3 7.1 .6-2.5 4.1 3.5 25.6 .4 4-10.2 .7-20.7 .8 12.5 .4-12.6 1 11 .4-27.8 3.1 25.8 .8-32.6 1 29 .2-37.1 1.1 36.5 2.2-202.1 1 146.7 .2-93 2.9 137.9 .4-45.4 1.5 52.2 .2-32.5 1 32.8 1.2-25.7 1.8 34.7 .5-37.8 .8 35.8 .2-25.6 1.2 33.7 .4-20.4 3.5 28.6 .2-12.4 1.4 13.2 3.5 3 16.2 2.4 18.6-1.1 4.1-21.6 1.2-219.2 1.3 185.4 1.2-75.2 2 96.6 .4-27.9 1.3 33.7 .2-39.1 1.6 42.2 1.9-32.2 .8 29 .8-23.5 .8 24.7 .2-26 1.6 24.1 1.5-271.9 1.4 220 .2-93 2.1 130.8 .4-52.9 1.8 70.3 .2-21.2 1 27.8 .1-28.6 2.6 39.2 1.4-10.4 1.1 13.6 .6-1.7 .8 3.4 .4-8 2.9 10.4 .4-3.6 1.8 4.3 3.5-.8 2.3 2 24.5 .5 2.9-1.7 3.1-20.8 .2-46.3 1.2 51.9 1.8-17.2 2.3 23.5 .8-15.5 2.7 17.6 1.4-9.9 2.6 10.6 .2-16.2 2.7 13.7 1.9-134.7 1 104.2 1.2-30.7 3.1 61.8 1.2-12.7 1.2 16.3 1.3 2.5 1-2.7 2 4.5 36 1.6 3.1-10.9 1.5-32.5 1 19.3 .2-33 1.6 29.8 .2-57.1 1.7 51.3 .2-43.3 2.2 32.5 .2-48.8 .8 51.7 1.3-49.1 1.6 59.7 1-31.9 1 18.5 .1-52.6 1.8 36.5 .8-269.9 2.1 255.8 .4-83.4 2.6 119.3 .2-35.5 .9 40.5 .8-33.1 2 45.3 .4-14.2 2.1 25 2.8 4.5 .2-6 .9 6.4 .2-3.7 1 4.8 3.1 2.2 .2-2.4 1.4 2.8 .4-2.5 4.3 3.5 25.6 .6 2.9-3.6 1.8 1 .8-4.8 1 3.2 .2-6.9 1.5 5.7 1-6.1 1.4 7 .2-7.3 1.9 5 1.2-6.3 2.1 8.9 .4-5.8 .8 4.4 .6-2.9 2.4 4.4 .1-8.8 1.8 7.8 .2-4.9 3.3 6.8 .6-6 .8 5.6 .2-4.5 3.1 6.7 .2-2.6 5.1 3.5 35 .6 4.7-5.5 2.3 1.9 .2-8.1 2.2 6.7 .2-9 2.1 8.7 2-7.1 .6 5.8 .2-6 1.1 7.7 1.6-4.6 1.2 4.9 .2-6.4 1.3 5.8 .8-8.7 1.4 9.1 1.6-5.6 2.3 5 .2-5.5 1.2 7.4 .8-4.7 .9 5.4 .6-3.6 1.8 4.9 1-2.3 1.9 2.8 4.5 .6 33.1-.2 2.1-21.2 .6 5.8 .6-26.1 1.7 18.4 1.4-68.6 .8 46.2 .2-52.2 1.8 58.2 1.5-58.7 1.8 49.4 1-280.6 .7 222.9 1.4-105.5 1.2 145.7 .2-56.7 1.9 77.6 .8-55.8 2.7 61.1 .2-31.4 2 34.4 .2-38.5 2.1 51.7 1.2-30.2 1.2 36.1 .2-28.6 1.6 34.4 .1-22.5 1 22.9 .2-15.8 1.4 19.3 .2-4.5 2.7 9 .8-7.5 2.5 9.3 .2-4.8 1 4.8 .8-1.6 1.8 2.8 1.3-1.7 4.1 2.6 22.1-.2 2.4-24.3 .8 8.1 .2-17.8 1.7 11.3 .6-38.5 1 26.3 .2-59.2 1 47.9 .9-29.5 .6 28.8 .2-57.8 1.4 66 .4-61.5 2.3 57.6 .6-64.5 2 66.8 1.3-228.9 1 146.9 1.6 53.9 .2-68.5 1.5 89 2 8 .2-23.8 .6 18 .2-45.4 .8 49.7 .5-43.5 2 64.4 .8-37.8 1.7 45.2 1.2-14.3 2.2 20.3 2.9 3.5 .6-8.5 1 8.5 1.1 1.6 .2-2.7 2 3.5 29.3 1.8 3.1-16.7 1.8 4.2 .8-32.4 1.4 24.3 .1-29.7 1.4 23.8 .8-32.2 .6 26.4 .2-7.8 1.9 18.8 .4-23.8 1.4 22.7 .6-46.4 2.3 41.5 .2-28.2 1.6 31.4 1-11.4 2.3 14.1 1.6-63.4 1.2 54.2 .1-33.8 1.6 43.4 .2-21.3 .8 23.2 .6-18.8 1.5 27 .4-14.7 .6 12.9 .2-9.5 .6 11.2 1.4 4.9 .2-10.3 2.7 12.9 .2-3.1 1.4 4 .2-3.3 .9 3.5 .6-2.7 3.4 4.2 29.5 .9 2.7-5.8 2 1.6 .4-9.7 .9 6.9 1.2-2.5 1.2 2.4 .2-15.9 1.3 15.1 1.8-12.4 .6 9.1 .2-7.3 2.5 10.9 1.8-61.1 1.2 47 .7-21.4 1.8 31.4 1.4-18.4 2.1 21 1.4-10.2 1.2 13 .4-8.8 .5 7.9 1.2 1.8 .4-5.8 1.8 8.7 .2-5.2 2.9 6.3 .2-2.6 .8 2.4 .8-1.7 3.5 2.9 28.3 .6 3-13.1 .6-104.2 .7 81.3 .6-24.1 2 42.3 .6-30 .6 22.1 .1-22.1 1.6 24.8 .2-24.5 .8 23.1 .2-11.4 1 14.8 2.9 3.3 1-37.9 1.7 32.9 1.2-21.6 1.6 24.4 .6-18.2 1.1 19.2 .2-23.1 1.4 23.3 .2-25 1 23.1 .9-30.1 .6 23.6 .2-23.2 2 31.5 .6-27.3 1.1 24.6 .6-70.6 .6 60.7 .6-28 1.4 43.6 1.1-14.4 1.2 20.4 3 5.7 .1-6.7 3.2 8.7 .2-4 1 4 .9-2.2 2.2 3.4 .2-1.8 3.1 2.2 25.4 .4 3.5-4.5 .4-6.9 2.2 4.6 .2-9.6 .8 6.7 .2-7.2 .9 7.3 .6-4.1 1.8 5.2 .2-10.3 1.5 9.3 1.2-18.5 2.8 19.3 2.3-41.7 .4 32.3 .4-26.3 .6 23.2 .2-14.5 2.3 25.4 1.2-15.2 1.4 14.5 .1-16.6 .8 17.1 1-7.5 1.8 13.4 .9-6.9 1 7.5 2.8 2.1 1.1-3.1 2.6 4 .2-1.8 6.4 2.5 27.2 .3 2.5-13.6 .8 3.2 .2-17.3 1.2 10.9 .6-7.4 .6 3.6 1.7-55.6 .8 40.2 .2-25.3 1.6 34.5 .2-45.5 .6 32.9 .7-24.5 .6 27 .6-33.3 .8 35.5 .2-33.9 1.6 36.8 1.3-99.4 2.4 95.2 .2-11.4 1.9 18.8 .2-60.6 2.2 55.8 .2-50.7 2.3 60.2 .2-27.4 2.4 32.1 .1-19 1.8 26.4 .2-9 1 11.6 .2-7.7 2.9 11.7 .2-7.8 1.4 8.7 1-4.6 3.1 7.1 1.7-1.9 5.3 3.2 24.5 .1 2.9-10 1 3.4 1.9-2 .2-7 1.2 3.2 .4-23.4 1.2 21.8 1.3-21.9 1.2 22.5 .2-12 1.4 13.7 .2-14.6 1.3 14.6 .4-18.8 .8 14.8 .2-15.2 1.8 17.7 .2-23.1 2.5 24.6 1.4-20.2 1.1 13.3 .2-17.7 2 23 1.4-103.5 1.1 85.9 .8 10.6 .2-23.3 1.8 32.1 .2-17 1.3 20.8 .2-10.3 .6 9.5 .6-7.7 1.6 12.4 .2-5.4 .7 5.9 .6-3.3 2 5.4 32.3 1.6 2.3-4 .8-12.3 .8 5.4 .2-13.9 .9 8.2 1.2-32.6 .4 16.4 .6-19.6 1.2 20.6 .4-31.3 2.1 40.7 .8-31.8 1 28.7 .2-36.4 2.1 37.5 .2-31.2 2 26.5 .4-37.9 .5 32.1 .2-31.7 1 39.2 1.2-33.7 1 26.8 .5-96.9 1.4 92.7 1 8.5 .2-22.4 1.9 31.5 .2-43.9 2.4 51.2 .4-6.1 2.7 12.3 .8-11.2 1.2 12.7 .2-3 2.3 5.7 .2-6.6 1.4 6.6 1.2-3 2.7 5 .6-1.6 3.1 2.2 25.6 .6 3.1-11.9 .4-20 1 6 .2-30.1 1 26 .4-30.3 1.2 25.9 .5-73.7 1.2 65.8 .2-43.1 1.8 38.1 1.3-55.5 1.4 55.5 .4-30.8 2 40.7 .3-76.2 1.4 73.7 .4-17.6 1.6 21.5 .2-71.6 1.1 65.9 .4-57.4 2.6 57.1 .8-139.9 .3 130.7 .8-88.2 1.6 103.9 1.4 10.9 .2-46.8 .9 48 2.4 12.1 .2-22 1.1 23 .8-9.7 2.8 15.5 2.3 1.5 .4-4.5 1 4.7 2.9 1.4 1.2-2.3 2.7 3 21.1 .4 2-29.2 2.7 23.4 1.4-7.6 .8 4.9 .2-15.3 .8 10.8 2.5 2.2 1.6-22.4 .8 17.7 .3-21.7 .6 18.3 .2-16 2 20.5 .2-18.9 1.4 19.9 .1-18.8 2.6 20.7 1.2-25.5 1.9 25.1 .6-21.4 2.4 19.7 .1-19.4 1.6 22.4 .4-17.8 2.2 20.6 .1-10.1 1 11.3 .4-8.9 2.6 12.4 1.1-4.5 .8 4.7 .2-3.5 2.6 5.3 1.1-1.8 3.9 2.6 17 .6 0 3-22.4-.8-3.2-4.1-1.5 3.1-2.2-9.6-.4 7.3-1-9.3-.1 8.3-2.2-16.8-.4 14.5-1.6-18.3-.1 15.8-2.4-16-.6 17.5-1.9-20.6-1.2 20.9-2.6-16.9-.1 15.4-1.4-16.3-.2 15.4-2-16.8-.2 13.1-.6-14.9-.3 17.7-.8-14.4-1.6 18.2-2.5-1.7-.8-8.8-.2 12.4-.8-4-1.4 6.3-2.7-19.2-1.8 22.4-26.4-.6-2.7-3.8-.4 3.2-2.1-.6-3-12.9-.8 8-1.1-18.8-.2 18-2.4-9.9-.9-39.3-.2 38.3-1.4-8.9-1.6-85-.8 72.2-.3-107-.8 114.5-2.6-46.8-.4 47-1.1-53.9-.2 58.6-1.6-17.6-.4 14.4-1.4-60.3-.3 62.3-2-33.3-.4 25.3-1.4-45.5-1.3 45.4-1.8-31.2-.2 35.4-1.2-53.9-.5 60.3-1.2-21.2-.4 24.8-1-21.2-.2 24.5-1-4.8-.4 16.3-3.1 8.2-28.9-.5-3.1-3.1-.2 2.5-2.4-5.3-.2 4.9-2.3-4.2-.2 2.4-1.2-10.3-.8 9.1-2.7-10.1-.4 5-2.4-41.9-.2 35.9-1.9-25.7-.2 18.3-1-7-1.4-75.8-.5 79.3-1-21.9-1.2 27.5-1-32.1-.2 26-.5-26.3-.4 31-2-21.7-.2 25.6-2.1-30.7-.2 29.8-1-23.5-.8 26-2.1-33.3-.4 25.6-1.2-16.8-.6 16-.4-13.5-1.2 26.7-.9-6.6-.2 11.3-.8-4.4-.8 9.9-2.2 1.9-31.8-.6-2.6-3.6-.6 2.5-.7-4.6-.2 4.4-1.6-10.2-.6 6.4-.6-7.8-.6 6.9-.9-15.5-.2 13.9-1.8-26.2-.2 19-.8-8.7-1.1-70.2-1.4 84.6-2-18.8-.2 14.5-1.1-10.9-1.4 16.6-2.5-20.2-.2 18.9-1.8-14.5-.2 12.5-.8-12.1-.4 15.3-1.3-11.9-.2 12-1.4-11.3-.2 9.8-1.2-18.4-1.3 18-1.2-17.9-.4 19.2-.6-3.4-.8 6.5-1.9 1.6-1-2.8-2.9 6.8-30-.4-3.1-3.2-.2 2.6-1.3-4.5-1.2 3.3-1.2-6.7-.2 6.4-2.9-9.6-.2 6.3-1-9.5-.2 7.4-1.8-21.6-.1 15.5-2.4-26.2-.2 22.4-2.3-49.2-.2 41.4-2.2-45.7-.2 49.7-1.9-15.5-.2 9.4-2.4-77.9-1.3 81.3-1.6-30.1-.2 27.7-.8-29-.6 27.3-.6-22.1-.7 20-.6-26.9-.2 37.2-1.6-28.2-.2 20.7-.8-32.9-1.7 45.5-.6-2.9-.6 6-1.2-8.9-.2 14.2-.8-2.7-2.3 9.5-34-.4-2.6-2-1.3 1.6-2.8-1.3-.8-5.7-.9 5.7-1.8-11-1 6.1-.8-13.9-.1 13.6-1.4-11.9-1.2 12.4-2.3-20.8-.2 11.9-.6-19-.4 21.5-.4-26.4-2.3 34.2-2.8-15.9-1.2 15.1-1.5-7.6-.2 8.5-1.8-4.3-.6 3.4-.9-6-.2 5.9-.8-5.5-.2 7.8-2.2-3.7-.4 5.6-2.5 1.9-29.7-.1-4.1-3-.2 2.5-2.4-1.1-.8-5.2-.5 5.2-2.6-4.4-1.2-16.7-.1 15.5-1.2-5.1-1.2-34.3-.6 22.9-.6-49.6-.6 57.7-1.1-20.1-.6 22.3-2-25.7-.2 19-.6-19.3-.9 24.6-1-18.9-.2 20.5-1.4-19.1-.2 18.9-1.1-15.7-.6 14.8-1.6-19.9-1.2 17.7-1.7-27-1 31.1-2.9-2.8-1-12.1-.2 9.4-.8-19-.2 20.1-1.6-20.3-.1 18.1-.6-18.1-.6 24.6-2-34.6-.6 19.7-.7-66.5-.6 85.2-2 8.8-34.6-.4-2.9-4.2-.4 3.6-1.6-6.4-.4 4.7-1.2-1.4-.5-6.5-.4 7.2-1.2-10.6-1.4 8.3-2.1-17.2-1.4 15.1-1.8-25.7-.7 17.5-1.2-38.5-1.8 50-2.5-8.9-.2 6-.6-7.4-1.8 10.1-1.3-12.3-.2 12.9-1.2-1.9-1.2 2-.9-5.6-.4 7.9-2-1.3-1.9 3-30.7-.2-4.5-2.8-.6 1.8-1-2.4-.4 2.1-2.5-10.1-.2 8.3-1.4-4-.6-9.1-.2 7.7-.6-10.5-.4 12-1.5-22.1-.6 15.4-.8-18.9-.2 17.4-1.6-35.6-.1 27.8-1.2-44.5-1.6 52-2.3-11.6-1 9.4-1.6-25.7-.2 23-2.3-34-.6 38-1.4-18.5-.4 19.4-1.9-15.3-.2 6.3-.6-21.6-.8 26.4-1.4-19.5-.1 24.3-1.4-19.9-.8 26.5-1.8-3.4-2.3 11.5-25.8 .3-6.3-2.5-.2 1.6-2.1-7.6-.6 6.9-3.3-3.9-1-10.3-.2 6.1-.6-11.4-.2 14-1.4-4-1.3-35.2-1.2 28.8-2.9-55.7-.2 37.2-.6-14.7-.2 19.4-1.8-5.2-1.7-74.2-.2 56.1-2.6-164.3-1.3 187.3-2-54.7-.6 52.8-2.3-47.1-.4 50.3-1.4-54-.2 47.3-.6-23.6-.9 24.2-1-39.2-.2 48.4-1-21.5-.6 31.5-1.7-9.3-2.6 25.4-28.3 .8-2.8-.7-.8-3.1-.2 3.3-2.5-7-.8 6.1-2.7-7.3-.2 3.7-1.4-15.8-.2 12.9-1-18.8-.3 17.7-1.4-27.4-.2 23.4-1.2-29.5-1.5 22.9-1.8-40.5-.2 31.5-2-28.1-.2 25.6-2.7-49.9-.8 45.6-1.9-63.5-.2 46.4-1.2-119.2-1.4 86.3-.7-182.3-1 229.5-1.8-40.4-1.5 48-1.8-47.6-.2 42.7-.8-37.8-1.4 56.1-1.7-15-.6 21.4-.6-4.8-2.1 16-40.5-.4-1.8-3-.8 2.2-.7-3.6-1 3.2-1-5.5-.2 4.6-2.3-4.2-1 5-2-7.9-.8 7.2-1.3-4.8-.2 5.2-1.2-4-1.6 3.8-1.1-6.2-.2 4.8-.6-4.7-2 5.8-2.1-7.1-.2 7.4-2.2-5.5-.2 6.3-2.3-1.3-4.7 3-40.3-.7-3.1-4.5-.2 3.5-.8-4.4-.6 4.6-3.3-5.2-.2 4-1.8-6.4-.1 7.2-2.4-3.6-.6 2.4-.8-3.6-.5 4.7-2-7.3-1.2 5.2-1.9-4.1-.2 6-1.4-5.8-1 5-1.5-4.6-.2 5.6-1-2.6-.8 3.3-3.9 1.1-35-1.4-2.9-6.5-.2 4.9-3-4.3-1.9-19.8-.4 11.6-2-37.1-.8 27.1-.9-33.1-.4 27.4-2.4-96-.4 68.3-2.1-209.3-.8 220.8-1.8-29.9-.1 43-1-15.1-1 26.1-1.6-48.9-1.3 40.3-.8-42.3-.2 39.9-2.2-26.6-.2 35.4-1.7-41.9-.2 46.7-1.6-24.4-.2 26.9-1-15.7-1.5 26.5-2.4 6.9-34.4 .2-4.3-3.1-1 1.9-2.5-15.1-1.2 10.4-3.1-50.6-1.2 25.2-1-85.3-1.9 110.2-2.7-11.2-.2 13.3-2.6-8.7-1.4 8.1-2.7-14.4-.8 12.7-2.3-19.3-1.8 14.1-1.2-42.5-.2 38-2.3 15.4-28.2 1.1-6-.6-1.6-2.4-.4 2.2-2.9-7.8-.4 6.5-1.4-1.4-1.1-11.1-1.4 8.5-2.6-32.1-.1 23.4-1-22.7-.2 17.4-1.8-57.6-.4 43.3-2.1-107-.2 76.1-1.4-180-1.5 222.5-1.6-19.8-.2 21.2-.8-20.1-.8 19.2-.8-23.7-1.9 26.4-1.6-34.6-.2 32-1.3-27.6-.4 22.8-2-79-1.2 61.5-1.3-151.7-1.2 179.4-4.1 16.5-36.2-.9-2.3-2-1.2-10.3-.2 10.2-3.5-23.4-.4 16.6-1.2-27.5-.2 21-.8-29.3-.5 30.9-1.8-28.4-1.2 21-1-26.8-.2 26.6-1.5-42.8-.4 37.2-2.9-112.8-.2 76.1-1-120-2.2 165.3-1.1-29.9-.2 30.4-1-23.8-.8 26.7-3.1-21-.4 22.7-1-9.1-.4 10.4-.8-10.3-2.5 22.3-32.9 .7-1.9-4.6-.2 3.5-1.8-8.5-.2 7.7-2.5-13.2-.8 4.1-.8-15.2-.6 11.5-1.3-11.6-1-90-1.4 109-1.7-8.5-.6 5-1-16.5-.2 19-1.9-18-.2 17.1-1-15.4-.2 11.7-.6-14.2-.2 18.8-1.2-14.7-.2 15.5-1.3-10.7-.8 9.2-1-13.6-.2 13.5-2.3-10.4-.2 11.8-1.8-19.3-1.2 13.7-.6-18.8-.2 21.9-1.5-9.2-.2 10.5-1.4-7-2.9 14.4-1-1.5-2.5 3.8-12.2 0Z" fill="#e6ebee" fill-opacity="0.8"/>
<path d="M170.7 466.3l8.3 0 .2-.9 .7 .8 2.4 .1 .2-29.8 .6 23.1 .7 5.1 1 0 .2-1.3 1.6-1.6 .2-2.9 .4 1.4 .4-2.2 .5 .8 1.2-.7 .4-5.1 .2 1 .2-1.8 .6 2.5 .2-7.1 1.2 6 .5-99.3 .6 77.4 1 21.4 .8 2 .4-10 .8 7.8 .4-5.6 .7 6.2 .4-2.1 .8 3.3 .8-21.4 1 17.4 .2-6 1.5 10 .2-6 .8 5.3 .4-7.2 .6 6.6 1 2.2 .6 .2 .1-3.9 .6 2.6 1.2 1.3 .2-9.8 1.6 11.4 .4-6.5 .3 3.8 .6-2.4 .6 .6 1-36.1 .2-127.5 1.2 136.6 .9 18.8 .4 3.2 .2-7.2 1.6 15 .2-3.9 1 6.5 .2-1.1 1.1 3.9 .6-1.9 .4 2 .2-21.6 .6 18.4 1.2 5.8 .2-1 .9 1.6 .2-1 1.4 1.7 .6-.6 3.7 1.3 21.1 .4 .2-13.2 1 12.1 .8 .9 1.9 .2 .8-.8 .2-10.5 .8 7.6 .2-29.3 .6 21.4 .8 4.4 .6-25 .7 17.4 .2-2.7 .8 2.8 .8-10.9 1 6.2 .6-6.2 .9 5 .2-14.1 .4 7.5 .2-8.8 1 13.6 .2-4.7 1 6.4 .4-2.5 .2-13.6 1.3 12.1 .6-47.1 .4 22.1 .6-40.8 .2-193.5 .6 171.7 1.7 69.5 .2-16.7 1.2 25.7 .2-20.9 .4 13.7 .2-10.9 .8 19.9 1.1 6.6 1-50.8 .8 34.9 .2-11.3 1.6 30 .2-8 1.7 17 .4 1.1 .6-7.7 1.4 10.8 .7 1.7 .2-3.1 .4 1.7 .2-2 1.2 4.9 1.4 1.9 .2-.8 .7 1.3 .2-2.8 1.4 3.6 2.4 1.2 .1-.9 2.2 1.5 .2-.9 1.2 1 3.3 .6 17.8 .5 .2-10.2 .8 8.8 1.7 1.4 .2-9.2 .6 7.1 .2-20.7 .6 17.7 .8 4.4 1.5 .7 1.8-.6 1.2-1.9 .2-3.2 1.1-1.3 .2-25.7 .6 16.3 .2 1.3 .6-3.4 .8-27.4 .6-110 1.1 74 .2-8.5 .2 3.9 .8 32.5 .4-10.6 .2 9 .2-16.7 .6 26.7 .2-19.5 .6 23.8 .6-10.3 .2 8.8 .1-16.3 .8 26.5 .2-17.4 1.4 25.5 .6-18.8 .6 14.5 .2-10.4 1.1 16.2 .2-17.1 .8 15.8 .8 3.4 1.2-.1 .2-9.1 .2 1.7 .4 .3 .1-.7 .6-8.9 .8-45.7 .8 15.6 .2-25.9 1.2 39.5 1.5 18.2 .2-12.2 1.6 22.6 .2-17.5 .6 17.2 .2-10.3 1.7 22.7 .8 2 .2-5.7 1.2 8.8 2.7 4 .6-172.5 .6 134.8 1.4 38.3 .5 1.2 .8 .4 .2-1.2 1.8 1.9 7.4 .9 .2-26.5 .6 20.8 1 5.5 18.5 .8 .6-46.6 1 42.8 1 3.5 2.1-.6 .2-56.3 1.2 52.5 .4-18.1 1 15.1 .6-14.8 .6 2 .3-4.2 .8 7.3 .2-8.7 1.2 11.5 .2-9.5 .8 10.1 .8 2.6 .2-4.2 .5 4.4 .6-55.8 1.4 56.6 .4-3.9 .4 3.6 .2-3.4 .6 4.5 .2-4.1 .3 2.9 .2-3.1 1.2 4.9 .4-23.2 1.2 23.2 .4 1.4 .2-5.3 1.1 5.5 .2-.5 .4 .7 .2-3.5 .6 2.4 .8 .2 1.4-15.6 .3-38.3 .2-144.5 1.4 173.6 .6 8.7 .6-12.2 .8 17.5 1.1 7.6 .4-5 1.2 8.6 1 2.2 .6-3.4 1.7 5.8 .2-2.2 .4 1.6 .2-.7 1.2 2 .2-.9 .8 1.5 1.7 .8 17.4 1 11 0 .2-2.9 .9 2.7 4.2 .1 .2-14.4 .5 10.5 .2-31.4 1.2 29.8 .2-8.8 1 5.5 1-8.9 .3 1 1-1.7 .8-5.6 .2-15.5 .6 5.6 .2-11.7 .2 6 .2-8.3 .4 10.7 .2-12.2 1.3 19.9 .2-8.2 .6 7.7 .2-12.3 1 13.6 .6 2 1.1 1.1 .2-21.7 .6 13.6 .2 2.3 .2-3.9 .4 4.8 .6-16.2 1 17.2 .2-19.7 .4 11.2 .2-9.5 .5 13 .4-10.2 .6 6.1 .6-3 1.4-95.6 .8 56.7 .4-34 .3 31.6 .2-19 1.4 51.4 .6-33.6 1.4 46.5 .4 2.7 .5-9.9 .8 19.1 .2-11.9 1 15.1 .2-20.8 .4 17 .2-13.9 1.2 26 .3-7 .8 10.1 .2-17 1 15.9 .2-1.8 1.4 8.3 .2-2 .3 1.7 .2-2.6 1.6 4.6 .2-13.1 .6 11 1.4 3 .5-.3 1 1.5 1 .5 .2-.9 1.6 1.2 .9 .3 .2-.8 3.6 1.2 11.7 .2 .4-25.3 .6 19.8 1.1 5.5 10 .2 3.5-1.7 .2-1.7 1.6 .5 .2-2.1 1.2 1.3 .2-2.5 .9 1.8 .2-2.2 .8 2.1 .6-6.9 .6 5.7 .6-5.9 .9 6.3 .2-1.4 .4 1.5 .2-2.4 .8 2.8 .2-1.2 .4 1.1 .2-.9 .8 1.5 .6-2.3 .7 2.1 1.6 .5 .8-5.6 1.2 5.2 .9 .6 .8-2.8 1.2 2.5 .2-12.1 1.6 11.8 .2-32.4 .9 30.4 1.2 3.3 .2-1.2 1.4 2.3 3.5 .7 .6-76.9 .8 67 .7 9.1 .2-18.1 1.4 19.1 .2-86.8 .6 68 .8 15.6 1.1 3.7 20.2 .7 .2-19 .6 14.7 .7 3.7 1.6 .6 10.2-.2 .6-33.9 .4 21.1 .9 10.7 1 .6 1.6-1 .6-2.6 .7 1.4 1.4-.1 .8-3.5 1 3 .4-1.3 .9 1.6 .6-69.9 .4 44.3 1.2 24.3 .2-1.3 .8 2 .2-2.3 .4 1.6 .4-1.5 .5 2 .2-1.5 .8 2 .2-4.4 1.4 4.9 .2-7.2 .8 6.4 .5-1.9 .8 1.8 .2-1.3 .4 1.2 .8-6.9 .2-17.9 1 22.6 .2-1.3 .9 3.9 .2-2.8 2 4.4 3.7 1.4 .2-.9 2.3 1.3 .4-38.7 .6 30.3 1.2 8.4 4.3 .9 11.9 .2 .2-11.7 .6 9.1 .8 2.3 10.7 .4 .6-235.8 1.2 224.1 1 10.7 .8 .9 2.3 .1 .2-15.5 .6 12 .6 2.7 .8 .5 .2-7.4 .5 4.3 1-1.9 .8-7.6 .4 .4 .6-.9 1.4-5.3 .5-17.7 .6 6.2 .2-4.1 .8 3.6 .6-27.8 1 21.1 .6 3.3 .2-7 1.1 8.3 .8-56.7 .2-207.3 .6 199.8 .8 29.5 1.1-120.2 1.2 99 .2-40.4 1 61 .2-16.5 .8 27.3 .2-22.6 .7 28.3 1.2 10.8 .2-32.5 .8 27.1 .6-25.1 .6 23.1 1.1 11.3 .8-26.4 1.8 29.9 .2-21.2 .4 15.3 .4-7.4 .6 14.8 .1-12.3 1.2 22.5 1.2 6.5 .2-7.5 1 9 .2-7.4 1.7 12.1 .2-6.5 1.8 8.9 .2-7.7 .8 8 .2-1.8 1.5 4.1 2.2 1.4 .4-2 .3 1.3 .2-.8 .8 1.7 1.4 .7 .4-19.9 .6 15.8 .8 4 1.9 1 8.6 .6 .6-29.6 .6 23 .8 5.8 1.5 .9 12.7 0 .8-1.3 .2-47.4 .8 37.7 .2-33.1 .8 31.3 .4 .6 .2-1.5 .2-9.6 .2 3.7 .2-64.7 .9 56.6 .2-6.8 .4 5.8 .2-14.5 .2 4.7 .2-6.1 .6 10.3 .4-23.2 1.4 22 .3-20.8 .8 17.8 .2-12.7 .6 12.2 .4-27 .4 19 .2-10.2 .4 12.8 .2-18.1 1.3 23.4 .4-276.5 1.2 263 .4-13.6 .4 18.4 .8 7.6 .6-1.7 1.3-65 1.8 50.4 .2-37.4 1.5 48.5 .2-6.9 .4 6.4 .2-25.5 1 26.4 1.6 9.8 .2-7.7 1.9 19.6 .2-18.2 1.2 21.2 .2-3.4 .4 3.8 .2-9.1 1.7 17 .2-7.1 2 10.9 .2-4.6 .6 4.3 .2-2.2 1.1 5 3.6 2.9 .1-2.3 .8 2.2 .2-1.3 .6 1.5 .2-17.2 .6 14.1 1 3.3 .4-27.2 .7 20.9 1 7.1 3.3 1.2 11.4 .2 .4-42.2 .6 33 .7 8.2 1 1.2 3.5 .2 .2-7.9 .6 6.1 1 1.6 4.1 .1 2.8-4.8 .3-41.7 1 22.8 .2-90.2 1 88.1 .4 6.5 .2-8.1 1.2 7.5 .7-8.5 .6 4.9 .4-128.3 .8 113.6 1 15.4 .2-11.3 1.7 14.5 1.2-20.2 .6 14.6 .2-10 1 13.3 .4-4.4 .9 5.8 .2-13.8 .2 4.3 .2-2.3 .6 3.9 .2-10.8 .8 12.5 .4-59.8 .6 51.4 .3-5.1 .8 16.1 .4-15.4 .8 15.4 .4-36.6 1.2 35 .2-13.9 1.3 18.9 .2-16.2 .6 14.2 .2-6.9 1.2 14.9 .4-5.6 .4 5.2 .2-6.3 .5 8.2 .2-20.1 1 20.9 1.8 6.4 .4-3.8 1.1 4.6 .2-2.6 .4 2.2 1.8 2.6 .6-.3 1 1 .2-1.9 .3-69.8 .6 56 .6 12.8 .8 2.9 1.2 1.1 3.9 .7 17.8 .6 .2-6.6 1 6 2.9 .6 .2-17.7 1.2 16.8 2.5 .9 .2-15.2 .8 12.9 .4 1.1 .2-5.2 .7 4.6 .6-95.5 .6 73.3 1 18.4 .8 .8 1-3.7 .9 2.2 .2-3.8 1.2 2.9 .2-3.2 1.2 3.4 .4-5.4 .9 3.6 .2-10 1 11.2 .4-9.2 .8 8.3 .2-4.6 .4 3.2 .2-1.3 1.1 3.4 1.6-12.8 .2-33.7 .6 25.1 1.5 14.8 .2-30.9 1.4 33.2 1.2 3 .2-3.1 .6 1.8 .2-2.7 .9 4.5 .2-5.8 1.2 6.6 .4 .9 .2-2.4 1.4 4 .2-21.9 .9 16.9 .2-58.4 .8 56.4 .8 8.2 1.4 1.1 .4-87.9 .5 67.6 1.4 21.1 1 .9 .2-.7 .8 .8 .2-.7 3.3 1.3 11.1 .5 .2-24.2 .6 18.8 1 5 10.9 .5 .2-11.3 1 10.4 1.4 .9 3.3-.6 .2-20.4 1 15.5 1-19.8 .4-202.2 .5 150.9 .4 13.2 .2-12.3 1.6 51.5 .2-7.3 .8 11.6 .2-3.3 .6 5.4 .1-10.7 .8 9.7 .2-10.2 .6 8.1 1 3.5 1-13.8 .7 10.6 .2-38.9 1.2 39.9 1.2 3.4 .4-17.9 .6 13 .2-8.6 1.1 11.8 .8-14.3 .2-54.4 1.4 67.9 .2-9.5 .6 8.2 1.1 4 .6-13.9 .6 9.2 .2-1.7 .8 5.6 .2-11 1.2 10.8 1.7 1.6 .4-11.1 1.2 9.9 .4-12.3 1.1 11.5 .6-21.5 .2-190.5 .4 131.6 1.2 73.9 .6 7.8 .2-5.7 .2 3.4 .2-2.2 1.1 10.7 .2-2.2 .6 1.5 .2-3.1 1.2 7.6 1.2 1.8 .2-2.2 1.9 3.8 .6-25.1 .6 20.1 1.4 5.7 7 1.6 14.1 0 .4-48.4 .6 37.9 1.1 10.3 1 .5 .2-27.4 1.2 26.1 1.1 1.3 5.3 0 .2-45.2 .6 34.7 .8 8.3 .8 .5 1.5-1.5 .2-7.3 .8 4 .2-2.5 .6 2 .2-1.8 .2 1 .2-4.1 1.2 3.7 .9 .5 .2-1.4 .6 .9 .6-8.2 .4 5.2 .2-4.9 1.2 7.5 .9-5.6 1.6 5.7 .6-47.6 .6 36.3 .8 9.1 .2-19.7 .5 16.9 .8 3.8 1-12.8 .2-55.7 .8 56.8 .4 6.2 .4-8.4 .9 12.2 .2-21 .6 17.8 .2 2.1 .2-3.7 .2 2.3 .2-40.3 1 41.6 .2-3.2 .6 5.1 .2-2.3 .9 4.7 .6-2 2 5.8 .6 .3 .2-2.1 .2-27.7 .5 24 1.2 7 .2-.7 .6 1.1 .6-1.1 1.2 1.9 .4-.6 .7 .9 3.8 .8 .1-.6 2.2 .8 .2-1.7 1 1.7 3.5 .4 .2-31.4 .6 24.4 1.1 6.7 9.4 .5 .2-12.9 .6 10 .8 2.5 12.5 .4 1.2-1 .4-13.8 .8 7.5 .2-32.5 .5 24.8 .2-18.8 .4 14.5 .2-160.9 .6 127.4 .6 28.7 .8 6.6 .8-125.8 .9 110.6 .4-1.3 .2 3.5 .2-6.6 1 11.3 .2-4.3 .2 2 .2-3.5 .2 2.4 .2-9.3 1 12.5 .7 2.2 1.6 .7 .6-21.5 .6 13.3 .6-5.7 .3 5.3 .2-39.1 .4 23.3 .2-13.1 .4 7.2 .2-7.1 1 24.7 .6-19.9 1.4 26.2 .1-17.9 1.2 19.3 .4-3.1 .6 4.8 .2-18 .4 9.9 .2-7.1 1.5 16.5 .4-22.3 1 23.6 1 6.3 .2-9.3 .4 6.5 .6-131.6 .7 119.9 .8 17.3 1.8 6.9 .2-2.8 1.9 5.2 2.4 1.8 .2-1.5 1.2 2.1 2.1 .8 .4-40.4 .6 31.1 1.2 9.6 3.3 1.1 7.6 .5 .2-7.4 1.4 7.3 14.4 .4 .6-25.6 .8 22.1 .8 3 1.4 0 2.1-2.6 .4-32.3 1 28 .6-3.6 .6 2.3 .9 .3 .2-6.2 1.2 3.5 .2-39.6 .6 31.3 1 7.5 .2-7.5 .3 4.5 .2-34.2 .6 29.7 1 8.3 .6 .6 .2-3.1 .6 2.1 .6-24 .7 19.9 .2-5.2 .4 5.3 1.6 4.8 .2-9.2 1 7.4 .4 1.1 .2-1.3 .9 2 .4-7.1 .4 3.2 .6-5.8 1 7 .6-23 .6 19.8 .3-5.7 1 8.8 .8 1.1 .2-8.2 .2 2.4 .2-1.8 .4 1.8 .6-5.7 .4-104.8 .7 87 1.6 24 .6 3.7 .2-7.5 1.2 11.4 .2-6 1.7 10.4 .2-1.8 1.8 4.1 .8-1.7 .7 2 .2-1.2 .6 1.7 2.2 1.4 1.1-.6 1.4 1.1 4.3 .3 .2-7.1 .6 5.6 1.2 1.6 17.8 .3 .6-114 .9 104.6 .6 7.3 .8 1.8 .2-66.4 .8 57.7 .6 7 .5 1.5 .8-.2 1.2-4.7 .6 .2 1-5.5 .4-94.8 .9 84.1 .2-2.4 .4 3.1 .4-6.1 1 7.6 .2-12.3 .6 6.4 .2-9.4 1.9 14.2 .4-16.1 .6 10.9 .2-6.2 .8 8 .2-8.3 .4 3.6 .4-3.7 .7 9.5 .2-11.6 .4 7.3 .8-11.6 .4 8.8 .2-8.5 .4 9.3 .6-51.3 .8 50.8 .2-11.8 .5 14.6 .2-2.1 .8 7 .4-2.7 1 3.1 .2-5.8 .4 1.3 .4-1.5 .5-147.5 .6 109.6 .8 28.2 .4-4.9 .6 10.7 .2-13.5 .6 13.3 .2-14.1 .8 20.3 .3 2.1 .2-12.5 .6 13.8 .6 4.7 .2-3.6 1 8.6 .4 1.3 .2-7.4 1 8.5 .1-22 .8 20.8 .2-1.8 .4 3.7 .2-3.3 .6 4.6 .4-.7 1.7 4.3 .4-38.5 .6 30.7 1 8.6 .2-1 1.8 2.4 1.9 .4 .2-.7 3.1 1.5 .6-5.6 .8 4.9 1.4 .9 22.3 .5 .2-9.1 .6 7.1 1.3 1.9 1.4-2.2 1.2-8.3 2.3-7.1 .2-43.5 1.2 34.3 .6-21.3 .9 13.9 .4-15.1 .8 12.4 .2-22.9 .2 2.1 .2-3.9 .4 13 .2-16.9 1 27.5 .2-20.9 .9 21.9 .6 3.3 .2-12.1 .6 8.8 1.2 4.4 1-64.3 .4 31.8 .1-5.7 .2 12.2 .2-8.9 .8 26.7 .6-26 1.2 29.1 .2-10.3 1 13.1 .1-14.7 1.2 15.2 1.2 1.3 1-3.8 .8-188.4 .9 169.1 1 19.7 .4-14.6 .8 21 .4-4.6 .4 7.8 .2-70.4 .5 61.5 1.2 18.9 .4-220.9 .8 193.7 1 28.9 1.3 7.4 .6-5.2 1.2 7.1 1.8 2.1 .2-1.7 1.1 2.4 .4-2.3 1.2 2.9 .8-1.3 1 1.9 1.7 .7 17.6 1.2 .2-32.5 1.2 30.9 1 1.5 3.9 .1 .2-27.6 .6 21.2 .3 3.7 .8 .8 .8-12.2 .2-84.9 .6 72 1.2 20 .2-1.3 .5 2.4 .2-2.8 .8 2.5 .2-24.6 1.2 20.8 .6-1.1 .6 1.8 .9 .1 .2-5.6 1.4 4 .2-49.8 .4 31.6 .8 14.5 .2-2.8 .6 4.8 .3-23 1.2 23.4 .2-10 .4 7.4 .2-6.2 .6 7.1 .4-9.8 .4 7.1 .2-1 .2 2.2 .2-2.8 1.1 6.9 .2-27.1 .4 17.7 1 7.7 .2-6 .8 6.5 .2-2.6 .4 2.4 .2-5.5 .7 4.6 .2-6.5 .6 6.2 .2-4 1.2 6.6 .2-6.7 1.2 6.6 .4-7.9 .9 7.3 .4-17.7 1.4 21 .4-3.8 1.5 6.6 .6 .7 .2-1.5 .4 1.2 .6-2.5 1.2 4.2 .2-1.4 .6 1.6 .5 .2 .2-.9 .6 1.4 .2-19.3 .6 15.6 .2-20.5 .6 19.7 .6 4.5 .8 1.1 1.9 .8 .2-.9 3.3 1.3 17 .6" fill="none" stroke="#edb800" stroke-width="3.9" stroke-linejoin="round" stroke-linecap="round"/>
<path d="M170.7 471.6l12 0 1.5-.8 1.2-5.1 1 1.6 .4-6.9 .8 4.1 .4-8.2 .3 4.1 .2-3.9 .6 3.7 .2-8.9 .6 7.6 .4-2.9 .4 3.1 .2-11.7 .6 9.4 .2-8.9 .7 9.7 .2-24.3 .6 20.9 .2-8.4 .8 11.4 .2-18.3 .6 15.4 1.2 6.1 .2-13.1 .7 11.1 .6-8.6 1 9.1 .2-15 1 15 .8-10.1 1.3 11.8 .2-17.2 1.2 16.3 .2-20.8 .6 15.7 .2-13 1 17.1 .2-19 .5 13.1 .2-7.6 1.2 14.5 .2-21 1 18.3 .6-5.6 .6 7.7 .1-3.9 1 5.6 .8-14.5 .6-106.6 1 100 1.3 13 .6-12.8 .8 16.8 .8-4.6 .8 10.3 .2-5.9 1.5 10.3 .2-8.5 .4 5.3 .2-2.9 1.2 7.1 .2-3.9 .8 4.8 1.5 1.6 .6-2.3 1 2.5 .8 .3 .2-1.4 .8 1.4 1.3 .4 25.6 .4 3.2-5.3 .2-5.1 .6 1.1 .7-18.8 .8 11.4 .4-11.6 1 10.1 .4-25.2 1.3 20.9 .2-17.8 .6 14.6 1 5.7 .8-29.7 1 26.4 .2-33.7 1.1 33.1 .2-22.1 1 7.2 .2-27 .2 3.7 .4-5.4 .2-140 1 133.3 .2-84.5 .9 100.2 .4 13.4 .2-63.6 1.4 75.3 .4-41.3 .4 27.5 1.1 20 .2-29.5 1 29.8 .6 3.5 .6-26.9 .6 20.7 1.2 10.8 .5-34.3 .8 32.5 .2-23.2 1.2 30.5 .4-18.5 .4 13.2 .2-5.6 .4 9.3 .2-12.8 1.1 17.8 1.2 4.1 .2-11.3 1.4 12.1 .4 .7 .2-1.5 .9 2.4 2 1.1 1 .4 .2-1.1 .9 1.3 2.2 .6 .8 .2 .2-1.3 1.3 1.4 .2-.9 1.4 1.1 .2-.6 1.4 .8 2.9-.4 3.5 .7 17.4 .1 1.2-1.1 1.8-9.3 .5 1.5 .6-.7 .2-10.3 .4 2.1 .6-2.9 1-71.8 .2-127.6 .4 144.6 .9 24 .2-44.5 .8 45.6 .2-69.5 1 70.6 1 17.3 .4-25.4 1.3 30.6 .2-35.5 .6 27.7 1 10.7 1 2.2 .2-19.5 .4 11.3 .3-23.3 .8 26.3 .8-21.3 .8 22.4 .2-23.6 .4 15.8 .2-9.1 1 15.2 .1-54 .8 20.2 .6-213.4 1.4 200.1 .2-84.6 .8 76.2 .2-27.4 1.1 70.1 .4-48.1 .4 36.2 .2-27 1.2 54.7 .2-19.2 1 25.2 .1-26 .6 23.5 .2-2.2 .6 9.3 1.2 5.1 .4-9 .8 9.4 .2-9.9 1.1 12.4 .4 .9 .2-2.5 .8 3.1 .4-7.2 .6 6.3 .2-1.3 .4 2.3 .2-3.1 1.5 5.2 .4-3.2 .4 2.2 .2-1 1.2 2.7 2.7 .7 .8-1.5 .8 1.4 1.5 .4 24.5 .5 2.9-1.6 .8-1.1 .4-6.6 .6 2.5 .6-.8 .7-12.8 .2-42.2 .4 43.2 .8 4 .8 2 .2-13.9 .4 9 .4-12.7 .8 17.1 .4-5.6 1.1 9.9 .8-14.2 .6 11.4 .2-3.1 .4 4.5 .2-8.8 1.3 12 1.2 .9 .2-9.9 .6 5.6 .4-4.4 1.6 8.5 .2-14.7 .3 8.4 .2-4.7 1 9.9 .2-10 1 8.8 .2-9.7 .4 3.6 .6-2.4 .7-114 1 94.8 .4 7.1 .2-25.1 .4 20.5 .2-30.4 .8 40.9 .2-14.1 .8 21.8 1.3 7.5 1 2.2 .2-13.7 1.2 14.8 1.3 2.3 .2-2.4 .6 2.3 .2-2.3 .6 2.7 1.4 1.4 2.3 .7 .2-2 .8 1.8 2 .6 .1-.5 6.7 .9 23.9-.1 1.3-4.8 .8-.5 .2-7.1 .8 2.4 .6-21.4 .4 8.8 .5-16.8 1 17.4 .2-29.9 .6 20.4 1 6.7 .2-51.9 .8 39.8 .2-11.5 .7 18.3 .2-39.4 .4 24.3 .4-14.9 .8 19.3 .2-17 .4 17.9 .2-44.4 .8 47.1 .2-38.3 .7 40 .4-46.4 .6 39.5 1 14.7 .8 1.9 .2-30.8 .4 16.8 .2-16.4 .4 16.4 .1-47.8 .4 32.2 .4-33.8 1 34.7 .8-245.3 .6 173.9 .4-98.9 1.1 157.5 .4-75.8 .8 80.9 1.8 27.6 .2-32.3 .9 36.8 .8-30.1 .4 24.1 .2-14.3 1.4 31.4 .4-12.9 .4 11.8 .2-8.4 .5 13.4 1 5.9 2.8 4.1 .2-5.5 .9 5.9 .2-3.4 1 4.4 .8 .8 .2-1.4 .8 1.7 1.3 .8 .2-2.1 1.4 2.5 .4-2.3 .8 2.3 .2-1.7 .8 1.9 .1-.5 2.4 1.3 3.1 .2 .2-.8 1 .8 .2-.6 2.9 .8 18.2 .1 2.7-1.2 .2-2.1 .8 1 1-.1 .8-4.4 1 2.9 .2-6.2 .5 4.4 .2-3.9 .8 4.6 1-5.5 1.4 6.4 .2-6.6 .6 3 .1-3.8 .6 5.4 .2-3.2 .4 3.1 .2-3 .8 2.3 .2-5.1 .8 6.6 1.3 1.6 .4-5.3 .8 4 .6-2.7 .8 3.3 1.6 .8 .1-8 1.8 7.1 .2-4.5 .8 4.3 .2-3.4 .8 3.6 1.5 1.7 .6-5.5 .8 5.1 .2-4.1 1.2 4.9 1.9 1.2 .2-2.3 .4 1.5 .4-1.3 .8 2 .2-1.2 1 1.7 2.3 .5 .2-.6 6.3 .9 28.5 .2 2.7-.8 .2-1.9 .8 .8 .2-2.5 .6 1.5 .2-2.1 .8 1.8 1.5-.1 .2-7.3 .8 5.4 .6 1 .2-2 .6 1.7 .2-8.3 .6 5.5 .2-3 1.3 5.5 .2-3.6 1.2 4.1 .6-7 .6 5.2 .2-5.4 1.1 7 .8 .5 .8-4.7 1.2 4.4 .2-5.8 1.3 5.3 .8-7.9 1.4 8.3 .8 .5 .2-2.9 .4 1.7 .2-4.4 .7 4.5 .2-4.3 1.4 4.4 .2-5 1.2 6.7 .8-4.3 .9 4.9 .6-3.3 .6 3.2 1.2 1.3 .2-1.8 .4 1.2 .4-1.5 .4 1.5 .1-1.1 1.4 2.2 .4-1.1 1.2 1.2 .2-1.1 .6 1 2.1 .5 32.3 .4 .8-.6 .7-4.7 1.2-1.2 .2-13.3 .6 5.3 .6-23.8 .8 15.6 .4 1.6 .5-.5 .2-45.4 .2 11.7 .2-15 .6 28.9 .2-42.5 .8 42 .2-47.5 .6 39.6 .2-14.4 1 27.7 .3-43.9 1 41.4 .2-50.8 .8 43.7 .4 4.4 .6-3.3 1-255 .7 202.6 .2-108.5 1 93.7 .2-81.1 1.2 132.4 .2-51.5 .6 48.4 1.3 22.1 .6 2.3 .2-53 1.2 41.8 .2-26.5 1.3 40.3 .2-28.6 1 23.7 1 7.6 .2-35 .8 34.8 1.3 12.2 .6-21.3 .4 15.1 .2-21.3 1.2 32.8 .2-25.9 .6 22.3 1 8.9 .1-20.4 1 20.8 .2-14.3 1.4 17.5 .2-4.1 .8 5.5 1.9 2.6 .2-6 .4 3.8 .2-4.5 .6 5.6 .2-2.1 .6 3.4 1.1 1.5 .2-4.4 1 4.4 .2-.9 .4 1 .2-1.5 1.8 2.5 .2-1.4 .9 1.6 .2-1.8 1 1.9 3.1 .5 1-.7 1.4 .9 5.3 .2 13.8 .1 .6-.7 2.2-6.7 .2-15.4 .8 7.4 .2-16.2 .7 10.7 .4 .7 .6-1.1 .6-35 1 23.9 .2-53.8 1 43.5 .2-19.6 .5 20.9 .2-28.1 .6 26.2 .2-52.5 1.4 60 .4-55.9 1.2 46.7 .3-24 .8 29.6 .6-58.6 .8 52 .6 8.4 .2 .7 .4-.4 .4-36.1 .5 6.5 .4-178.5 1 133.6 .2-36.1 1.4 85.1 .2-62.4 .6 58.1 .9 22.9 2 7.3 .2-21.7 .6 16.4 .2-41.3 .8 45.2 .5-39.6 .6 40.1 1.4 18.5 .6 2.3 .2-36.6 .6 28.9 1.1 12.1 1 2.6 .2-15.6 .6 12.6 .2-6.7 1.4 12.6 2.9 3.2 .6-7.8 1 7.8 1.1 1.4 .2-2.4 .6 2.1 1.4 1.1 1.4 .4 .1-.6 2.8 1.1 .2-.9 1 1 1.1-.4 1.2 .6 .2-.8 2.3 1 .2-.5 2.6 .6 16.2 .1 1.2-2.6 .6-4.9 .4 1.2 .2-2.7 .5 1.6 .2-7.8 .8 4.5 1-.7 .8-29.4 1.4 22.1 .1-27.1 .4 14.6 .2-11.5 .8 18.6 .8-29.3 .6 24 .2-7.1 .8 13.9 1.1 3.2 .4-21.6 1.4 20.6 .6-42.2 .8 25.9 .2-19.3 .5 25.8 .2-8.1 .6 13.4 .2-25.5 .4 17.2 .2-6.9 1 18.2 .8 2.3 .2-12.7 .7 10.5 .6 1.9 1 .5 .2-27.3 .4 7.4 .4-26 .2 13.4 .4-25.2 .4 39.1 .8 10.2 .1-30.8 .4 23.1 .2-10.9 1 27.3 .2-19.4 .8 21.1 .6-17.1 1.5 24.6 .4-13.4 .6 11.7 .2-8.6 .6 10.2 .2-3.1 1.2 7.5 .2-9.3 .6 7.8 .3 .4 .2-2.2 1.6 5.7 .2-2.8 1.4 3.6 .2-2.9 .9 3.1 .6-2.5 1 3 2.4 .8 .1-.8 1.4 1 5.1 .5 22.9 .1 1.3-1.3 .2-1.6 .8 .8 .4-3.1 .8 1.7 1.2-.3 .4-8.7 .9 6.2 1 .5 .2-2.8 1.2 2.2 .2-14.4 1.3 13.7 .2-9.5 .8 8.3 .8-10 .6 8.2 .2-6.6 .8 8.4 .8 1.6 .9-.2 .6-8.4 .2 1.4 .6-3.3 .4-45.2 1.2 42.8 .7-19.5 .6 19.4 1.2 9.1 .2-9.9 .8 8.2 .4-15 2.1 19.1 1.2 1.9 .2-11.2 1.2 11.9 .4-8 .5 7.1 .4 .5 .4-1.4 .4 2.6 .4-5.3 .6 5.6 1.2 2.3 .2-4.7 .6 3.8 .2-2.7 .5 3.2 1.6 1.4 .2-2.3 .8 2.2 .2-.8 .4 .8 .2-1.6 .5 1.6 .2-.9 .6 1.2 .2-.8 2 1.5 .2-1 1 1 2.1 .2 25 .3 2-2.4 1-9.5 .6-94.7 .7 73.9 .4 7.2 .2-29.1 1 31.1 1 7.4 .6-27.3 .6 20.1 .1-20.1 .4 15.5 .4-9.6 .8 16.7 .2-22.4 .8 21.1 .2-10.4 1 13.4 .9 2.2 2 .9 .2-17.2 .6 12.2 .2-29.5 .4 19.2 .6-9 .7 19.8 .2-6.5 .4 6.3 .2-6.9 .2 4 .2-16.6 .4 13.6 .2-8.1 1 16.7 .6-16.5 1.1 17.4 .2-21 1.4 21.2 .2-22.7 1 21 .2-23.2 .2 8.7 .5-12.9 .6 21.4 .2-21.1 .4 16.7 .4-8.1 1.2 20.1 .6-24.9 1.1 22.4 .6-64.1 .6 55.1 .6-25.5 1.4 39.7 1 4.1 .1-17.2 1.2 18.5 1 3 2 2.2 .1-6 1 6.2 2.2 1.7 .2-3.7 1 3.7 .9-2.1 .8 2.4 1.4 .7 .2-1.6 1 1.6 2.1 .4 25.4 .3 1-.5 1-3.3 .8 1 .2-1.9 .5 .7 .4-6.3 1.2 3.7 1 .5 .2-8.8 .8 6.2 .2-6.6 .9 6.7 .6-3.8 .6 3.4 1.2 1.3 .2-9.3 .4 5.2 .2-3.5 .9 6.7 .2-14.4 .8 6.3 .2-8.7 .6 12.5 .2-2.5 .8 6.3 1.2 1.3 .1-6.9 .6 4.6 .2-13.2 .6 9 .2-15.2 .4 6.8 .2-23 .4 29.3 .4-23.9 .6 21.1 .2-13.2 .7 18.1 1.6 5 1 .6 .2-14.4 1.4 13.2 .1-15.1 .8 15.5 .2-5 .2 3.1 .2-4.5 .2 3.8 .2-4.2 .6 8.5 1.2 3.7 .2-4.5 .6 2.1 .1-3.9 1 6.9 .4 .6 .2-1.8 .8 2.2 1.4 .9 .2-1.5 .7 1.5 .2-2.9 .8 2.8 1.8 .9 .2-1.7 1.1 1.8 .8-1 1 1.2 1.2-.6 2.3 .9 27.2 .3 1-1 .4-4.4 .6-1.2 .4 .4 .1-6.2 .8 2.9 .2-15.7 1.2 9.9 .6-6.7 .6 3.3 .6-29.3 .3 14.6 .2-24 .4 19 .2-30.9 .8 36.6 .2-23 .6 22.6 1 8.7 .2-41.4 .6 29.9 .2-14.3 .3 15 .2-22.9 .6 24.5 .6-30.3 .8 32.3 .2-30.8 .4 21.5 .2-15.6 1 27.6 .1-24.3 .8 11.8 .4-77.9 .8 63.5 .2-49.9 1.4 73 .2-10.4 .7 13.1 1.2 4 .2-55.2 .6 39.7 .2-25.4 1.4 36.5 .2-46 .5 36.8 .4-33.2 1.4 51 .2-24.9 .8 19.4 .2-15.7 .2 10.1 .4-10.3 .8 25.7 .1-17.3 .4 14 .4-6.4 1 16.4 .2-8.2 1 10.6 .2-7 1 8.5 .7-5.9 1.2 8 .2-7 1.4 7.9 1-4.2 .9 5.2 .6-3.1 1.6 4.3 .2-.8 1.3 1.2 .2-2.1 .6 1.8 .2-.6 .6 1 .2-.8 .4 .7 .2-.8 1 1.3 2.1 .3 24.5 .1 .9-2.9 1 .4 1-6.6 1 3.1 1.9-1.8 .2-6.4 .4 2.8 .2-3.6 .6 3.7 .4-21.2 1.2 19.8 .2-19.6 .9 16 .2-16.3 1.2 20.4 .2-10.9 1.4 12.5 .2-13.3 1.3 13.2 .4-17 .8 13.4 .2-13.8 .4 10.1 .2-6.3 1.2 12.3 .2-21 .5 16.2 .2-11.7 1.8 17.9 .2-13.1 1 9.5 .2-14.8 .6 13.4 .1-9.9 .4 8.6 .2-16.1 .8 18.1 .2-1.4 1 4.2 .4-29.1 .4 5.4 .4-1.6 .2-68.8 1.1 78.1 .8 9.7 .2-21.2 .4 15.6 1.4 13.5 .2-15.4 1.3 18.9 .2-9.4 .6 8.7 .6-7.1 1.6 11.4 .2-4.9 .7 5.3 .6-3 .6 3.4 1.4 1.5 1.9 .6 .2-1.3 1.2 1.4 .2-1.3 1.2 1.4 .2-.6 1 .8 3.5 .3 22.9 .2 1.1-1.3 .2-2 1-.4 .8-11.2 .8 5 .2-12.6 .9 7.4 .2-16.1 .2 5.4 .2-8.2 .4 10 .2-20.8 .4 15 .6-17.8 .6 20 .2-6.7 .4 5.3 .4-28.4 .5 26.4 .4-1.5 1.2 12.1 .6 .9 .2-29.8 1 26.1 .2-33.1 .7 29.2 .4-14.6 1 19.5 .2-28.4 .6 22 .2-23.4 1.2 25.5 .4-34.4 .5 29.2 .2-28.9 1 35.6 .4-12.9 .6 12.2 .2-29.8 1 24.3 .5-88.1 1.4 84.3 1 7.7 .2-20.3 .8 19.8 1.1 8.8 .2-39.9 .6 31.9 .2-22.4 .6 26.6 1 10.4 .4-5.6 .8 7.7 .7 2.3 .2-3.8 1 5 .2-9.4 .4 6.3 .2-7 1.2 11.5 .2-2.7 .7 3.8 .2-2 1.4 3.4 .2-6 1.4 6 .2-1.1 .8 1.9 .2-3.6 .5 2.8 .2-1.6 .6 2.3 1.4 1.1 .6-1.5 1 1.6 2.1 .5 .2-1.2 2.3 1.3 23.1 .4 2-4.1 .2-8.2 .9 1.4 .4-18.1 .4 6.7 .2-7 .4 5.7 .2-27.3 1 23.6 .4-27.5 1.2 23.5 .5-67 1.2 59.8 .2-39.2 .6 31.9 .4-41.2 .8 43.9 .4-30.1 .2 13.6 .3-23.6 .2 16.9 .2-27.2 1.4 50.5 .4-28 .6 27.3 .2-11.3 1.2 21 .3-69.3 1.4 67 .4-16 .6 14.2 1 5.3 .2-65.1 1.1 60 .4-52.2 .4 31.9 .4-25.9 .6 35.7 .6 9.8 .2 .9 .4-.5 .6-7 .2-120.2 .3 118.9 .6 5.8 .2-86 1.6 94.4 .4-8.1 1 18 .2-42.5 .9 43.6 .8 6.5 1.6 4.5 .2-20 1.1 20.9 .4 1.4 .4-10.2 .8 10.3 2 3.7 2.3 1.5 .4-4.1 1 4.2 2.9 1.3 .6 .2 .6-2.3 .8 2.1 1.9 .7 21.1 .3 1.2-1.8 .6-3.7 .2-21.1 1 18.5 .4-8.5 1.3 11.3 .4-2.6 .4 1.5 .4-1.7 .2-4.1 .8 4.5 .2-13.9 .8 9.8 .2-.9 .9 3.3 1.4-.5 .4-18.6 .6 12.6 .6-14.2 .8 16 .3-19.7 .6 16.6 .2-14.5 .8 17.3 .2-14.9 1 16.2 .2-17.1 1.4 18.1 .1-17.1 .8 15.4 .2-9.9 .6 9.6 1 3.6 .2-13.1 .6 9.6 .4-19.7 1.9 22.9 .6-19.5 .8 16.3 1 3.5 .2-5 .4 3.1 .1-17.6 1.6 20.3 .4-16.1 .8 11.8 .2-7.7 1.2 14.6 .1-9.2 1 10.3 .4-8.1 .6 7.6 .2-5.7 .6 6.6 1.2 2.8 .7-2.8 .2 1.3 .2-2.6 .8 4.2 .2-3.1 1 3.6 1.6 1.2 .5-1 .4 .7 .2-1.3 1 1.8 .4-1.2 .8 1.3 1.7 .4 17 .6" fill="none" stroke="#00b4d8" stroke-width="3.9" stroke-dasharray="14.6 6.3"/>
<path d="M177.4 71.3V90.6m.4-19.3V75.3m1.9-4V78.1m.4-6.8V93.5m.8-22.2V115.2m.4-43.9V229.8m1.6-158.5V78.5m.4-7.2V308.5m2.3-237.2V217.3m.8-146V107.3m.4-36V78.6m.4-7.3V117.8m.8-46.5V111m1.1-39.7V77.6m1.2-6.3V82.4m.8-11.1V78.1m.4-6.8V83.6m.8-12.3V74.8m.3-3.5V101.9m.4-30.6V140.2m.4-68.9V92.5m1.6-21.2V127.3m.8-56V101m1.1-29.7V88.8m.4-17.5V229m.4-157.7V188.5m.8-117.2V111.6m.8-40.3V88.9m.8-17.6V145.1m1.1-73.8V134.2m2-62.9V82.2m.4-10.9V105m.4-33.7V78.4m.4-7.1V82.1m.8-10.8V139.1m1.9-67.8V143.9m.8-72.6V82.1m2.3-10.8V80.8m1.6-9.5V84.9m.8-13.6V108.7m.8-37.4V100m.8-28.7V78.4m.7-7.1V99.6m.8-28.3V79.8m2-8.5V79m.4-7.7V74.7m5-3.4V102.7m.8-31.4V97.5m8.6-26.2V164.5m6.7-93.2V114.8m12.9-43.5V122.5m.8-51.2V91.3m1.9-20V114.3m2-43V85m.4-13.7V84.9m.8-13.6V118.8m.7-47.5V80.8m.8-9.5V157.9m.8-86.6V78.9m.8-7.6V101.2m1.2-29.9V78.2m1.5-6.9V86.3m1.2-15V98.3m2.7-27V79.1m1.2-7.8V143.8m.4-72.5V210.7m3.1-139.4V83.3m.8-12V96.6m2.7-25.3V83.1m1.6-11.8V79.7m.4-8.4V101.3m2-30V77.6m1.1-6.3V87.3m1.6-16V77.4m4.7-6.1V106.3m.4-35V79.4m1.5-8.1V82.1m26.2-10.8V76.6m1.2-5.3V82.7m.8-11.4V84.9m3.1-13.6V88.7m1.6-17.4V129.2m4.3-57.9V96.4m.8-25.1V106m.4-34.7V78.8m1.5-7.5V329.1m2-257.8V94.4m.4-23.1V108.2m1.2-36.9V83.4m.7-12.1V100.9m.4-29.6V83.5m.8-12.2V183m1.6-111.7V100.8m.4-29.5V104.5m.7-33.2V86m1.6-14.7V99.3m.8-28V106.3m.8-35V139.2m.4-67.9V92.6m1.5-21.3V82.6m.8-11.3V88.9m2-17.6V88m.4-16.7V103.9m.7-32.6V118.5m.8-47.2V86.8m1.6-15.5V115.2m.8-43.9V78.2m3.5-6.9V82.2m.8-10.9V91.1m2.7-19.8V141.3m.4-70V107.2m.4-35.9V89.3m.8-18V122.2m.4-50.9V84.9m.7-13.6V101.2m1.2-29.9V131.7m3.1-60.4V100.4m1.2-29.1V106.9m.8-35.6V79.2m.4-7.9V94.4m21.5-23.1V106.8m3.5-35.5V101.2m.8-29.9V236.8m.8-165.5V75.3m1.2-4V75m1.9-3.7V131.5m.4-60.2V127m.8-55.7V91.9m.8-20.6V196.5m1.1-125.2V126.9m1.6-55.6V111.6m.4-40.3V124.3m.4-53V89.7m1.2-18.4V85.3m.4-14V96.1m.3-24.8V147.6m.8-76.3V119m2.4-47.7V100.9m.4-29.6V97.8m.4-26.5V88.6m.4-17.3V101.4m.7-30.1V106.8m.8-35.5V90.7m2-19.4V120m3.5-48.7V109.2m.4-37.9V107.8m1.2-36.5V154.5m.7-83.2V95.4m.4-24.1V79.7m.4-8.4V122.5m.4-51.2V107.1m.4-35.8V75m.4-3.7V119.8m1.2-48.5V79.2m.4-7.9V122m.3-50.7V147m.4-75.7V167.3m1.6-96V82m.4-10.7V75.9m3.1-4.6V78.4m1.6-7.1V84.1m.8-12.8V233.2m.8-161.9V114.5m.3-43.2V120.5m1.6-49.2V82.5m.8-11.2V85.3m.4-14V78.5m1.5-7.2V145.5m.4-74.2V167.5m1.6-96.2V86.8m1.6-15.5V77.6m3.1-6.3V78.4m16.4-7.1V83.2m7.1-11.9V154.5m3.1-83.2V76.5m1.2-5.2V93m1.1-21.7V103.2m2-31.9V90.4m.4-19.1V101.6m.8-30.3V99.1m1.9-27.8V124.8m.4-53.5V193.1m1.2-121.8V118.6m.4-47.3V93.4m4.3-22.1V132.5m3.1-61.2V97.9m1.2-26.6V200.8m1.2-129.5V251.6m2.7-180.3V125.5m.4-54.2V89.4m.8-18.1V77.8m1.5-6.5V192m9.4-120.7V121.6m5.1-50.3V76.6m1.2-5.3V172.8m3.9-101.5V154.2m26.2-82.9V82.2m1.5-10.9V195.3m3.2-124V87.9m1.1-16.6V81.2m.4-9.9V81.7m.8-10.4V99.8m1.2-28.5V95.6m.4-24.3V85.5m.8-14.2V127.8m1.5-56.5V95.5m1.6-24.2V115.7m.8-44.4V81.1m.4-9.8V85.6m.8-14.3V112.4m1.5-41.1V168.1m1.2-96.8V89.1m.8-17.8V75m.8-3.7V136.6m.7-65.3V95.5m.4-24.2V112m.4-40.7V82.1m1.6-10.8V83m2.3-11.7V116.7m1.6-45.4V104.9m.4-33.6V106.4m.8-35.1V81.3m.7-10V87.4m2.8-16.1V101.7m1.2-30.4V230.2m3.5-158.9V104.8m1.2-33.5V111.4m1.1-40.1V78.2m1.2-6.9V77.7m1.2-6.4V80.5m6.6-9.2V107.9m1.6-36.6V92.9m16.8-21.6V86.6m6.7-15.3V154.7m2.3-83.4V83.8m3.9-12.5V130.6m.8-59.3V95.4m.4-24.1V146.6m.8-75.3V155.5m1.5-84.2V89.4m1.6-18.1V87.9m1.2-16.6V81.5m2.7-10.2V96.1m.4-24.8V102.6m.4-31.3V92.7m1.2-21.4V79.7m1.9-8.4V83.3m.4-12V145.9m.4-74.6V150m.4-78.7V130.6m.4-59.3V152m1.2-80.7V106.8m.3-35.5V100.9m1.2-29.6V78.2m1.2-6.9V75.4m1.2-4.1V121.7m.4-50.4V175.3m.3-104V75.3m1.6-4V119.9m2.4-48.6V88.9m.7-17.6V82.3m1.2-11V81.1m.4-9.8V151.7m.8-80.4V85.4m1.2-14.1V130.4m1.1-59.1V101.1m.8-29.8V75.4m1.2-4.1V94.6m1.2-23.3V85.1m1.5-13.8V79.7m2.8-8.4V90.5m.4-19.2V90.1m5.4-18.8V87.8m18.4-16.5V95.9m3.5-24.6V307.8m1.2-236.5V84.4m2-13.1V92.2m.7-20.9V110.6m.4-39.3V82.2m.4-10.9V87.2m2-15.9V168.7m.4-97.4V97.9m.4-26.6V76m.4-4.7V126.8m.3-55.5V89.6m3.2-18.3V79.3m1.1-8V122.2m2.4-50.9V159.4m.8-88.1V106.8m.4-35.5V102.3m.7-31V106.8m1.6-35.5V94.8m.4-23.5V83.1m3.1-11.8V85.1m.8-13.8V79.2m1.2-7.9V94.4m.8-23.1V131.3m1.5-60V177.6m.8-106.3V99.7m1.2-28.4V94.4m.4-23.1V111.7m.4-40.4V119.8m4.3-48.5V83m1.5-11.7V91m2-19.7V75.2m3.5-3.9V78.2m.8-6.9V144.7m1.2-73.4V110.6m12.5-39.3V150.4m13.7-79.1V94.2m1.5-22.9V96.1m4.3-24.8V100.2m3.6-28.9V79.1m1.1-7.8V109.2m.8-37.9V88.6m1.6-17.3V95.2m2.3-23.9V77.3m.4-6V96.8m.4-25.5V135.7m2-64.4V98.7m.4-27.4V110.2m.7-38.9V76.4m.8-5.1V76.2m.4-4.9V88.9m.8-17.6V85m1.9-13.7V83.5m1.6-12.2V92.9m1.6-21.6V78.3m2.7-7V140.3m.4-69V131.7m.8-60.4V94.3m3.5-23V414.3m1.6-343V111.4m.4-40.1V108.4m1.1-37.1V75.5m.8-4.2V84m3.5-12.7V86.1m10.2-14.8V106.4m1.2-35.1V78.2m10.5-6.9V98.5m9-27.2V82.4m5.9-11.1V106.3m.8-35V173.6m.8-102.3V122.8m.4-51.5V89.6m1.1-18.3V80m.4-8.7V106.4m1.6-35.1V89.7m.8-18.4V86.2m.4-14.9V165m.7-93.7V104.1m.4-32.8V76.8m.4-5.5V79.1m.8-7.8V159.9m.4-88.6V107.7m.4-36.4V106m1.2-34.7V84.3m.3-13V138.5m1.6-67.2V393m.8-321.7V75.3m.4-4V77.7m1.5-6.4V89m5.1-17.7V82.1m3.6-10.8V123.3m.3-52V127.5m.8-56.2V99.8m.4-28.5V98.9m3.9-27.6V219.6m.8-148.3V97.1m2.7-25.8V105.9m.4-34.6V131.5m1.2-60.2V111.9m.8-40.6V111.9m2.3-40.6V190.8m1.6-119.5V88.1m3.9-16.8V87.1m20.4-15.8V78.6m1.9-7.3V148.5m1.6-77.2V90.2m.4-18.9V93.9m.7-22.6V115.8m7.9-44.5V103.2m2.7-31.9V81.6m2-10.3V133.7m.7-62.4V106.1m.8-34.8V76.4m.4-5.1V93.1m.8-21.8V86.7m.8-15.4V205.6m.8-134.3V147.9m.4-76.6V78.7m.3-7.4V127.8m1.6-56.5V78.4m2.7-7.1V414.3m1.2-343V96.3m1.6-25V133m3.9-61.7V100.8m.4-29.5V109.7m.8-38.4V90.1m.4-18.8V95.8m3.5-24.5V89.6m1.5-18.3V82.5m2.4-11.2V94.3m.8-23V113.5m.4-42.2V84.7m.7-13.4V91.3m1.2-20V102.5m.4-31.2V74.8m2.7-3.5V88.5m1.2-17.2V195.3m2-124V84.7m8.6-13.4V85.5m7-14.2V171.5m7.8-100.2V90.7m1.6-19.4V96.3m5.5-25V329.1m1.9-257.8V96.1m1.6-24.8V88.6m6.6-17.3V76.7m.4-5.4V106.2m.4-34.9V132.4m1.6-61.1V156.5m3.5-85.2V83.3m1.2-12V86.9m1.6-15.6V75.4m.7-4.1V88m.4-16.7V125.1m.8-53.8V81.1m.8-9.8V214.3m.8-143V79.4m.4-8.1V99.4m1.5-28.1V109.7m.8-38.4V147.1m.8-75.8V266.3m3.5-195V75.6m3.1-4.3V97.8m2.4-26.5V130.3m26.6-59V132.9m2.3-61.6V105.6m.4-34.3V76.9m1.2-5.6V132.4m2.3-61.1V108.5m1.2-37.2V94.6m.4-23.3V125.5m1.2-54.2V91.5m3.5-20.2V123.1m1.2-51.8V126m.4-54.7V142.5m.3-71.2V86.3m.8-15V93.4m.8-22.1V113.7m.4-42.4V83.7m.4-12.4V124.4m.8-53.1V87.1m.8-15.8V214.3m.4-143V148m.3-76.7V126.3m1.6-55V149.4m.4-78.1V94.9m.4-23.6V79.5m3.1-8.2V176.5m1.6-105.2V87.7m.8-16.4V80.8m.4-9.5V78.3m1.1-7V145.5m.8-74.2V134.7m.4-63.4V96.8m1.2-25.5V74.5m3.1-3.2V197.9m2-126.6V80.2m2.3-8.9V157.7m5.9-86.4V187.6m.8-116.3V76.1m1.9-4.8V104.1m4.3-32.8V126m20.7-54.7V191.4m1.6-120.1V83m3.5-11.7V98.7m1.2-27.4V98.3m3.5-27V83.4m2.4-12.1V79.3m1.5-8V98m.4-26.7V96.3m1.6-25V93.8m.4-22.5V99.7m.8-28.4V95m.7-23.7V126.5m.4-55.2V82m.4-10.7V104.8m.8-33.5V142.8m.8-71.5V86.8m.8-15.5V100.3m1.1-29V94.6m.4-23.3V74.7m.4-3.4V218.7m1.2-147.4V342.2m3.1-270.9V100.8m2.8-29.5V91.7m.4-20.4V121.9m.3-50.6V90.9m.4-19.6V90.9m.4-19.6V75.1m.8-3.8V101.9m1.6-30.6V122.9m.4-51.6V103.4m1.1-32.1V140.1m1.2-68.8V84.1m.4-12.8V204.4m.4-133.1V94.9m.4-23.6V226.8m.8-155.5V106.2m.4-34.9V75.4m1.1-4.1V91.7m.4-20.4V97.8m7.1-26.5V81.9m.7-10.6V129.5m1.6-58.2V87.3m20.7-16V92m1.6-20.7V74.9m3.9-3.6V84.9m1.6-13.6V93.1m1.1-21.8V94.3m4.3-23V81.5m3.2-10.2V81.3m.4-10V127.2m.8-55.9V99.6m2.3-28.3V80m.4-8.7V98.9m2.3-27.6V83.1m.4-11.8V76.4m1.6-5.1V147.9m2.3-76.6V84.4m.8-13.1V97.8m2.4-26.5V128.4m.7-57.1V98.8m.4-27.5V103.3m3.6-32V76m.4-4.7V116.3m2.7-45V98.2m.8-26.9V75.5m3.5-4.2V280.1m.4-208.8V74.5m.4-3.2V88m.4-16.7V156.2m2.3-84.9V83.5m4.7-12.2V107.5m3.9-36.2V102.3m13.3-31V122.4m13.7-51.1V97.8m.8-26.5V109.6m1.5-38.3V380.2m.8-308.9V114m.4-42.7V90.8m.8-19.5V123.5m.4-52.2V120.3m.4-49V78.6m1.9-7.3V85.9m2.8-14.6V105m.8-33.7V74.9m.3-3.6V85.8m9.4-14.5V80.4m.8-9.1V343.7m.8-272.4V88.8m2-17.5V93.2m3.1-21.9V89.1m3.9-17.8V85m.4-13.7V86.7m.4-15.4V89.4m5.5-18.1V79.1m1.9-7.8V79.1m.8-7.8V88m2.3-16.7V116m17.6-44.7V162.3m6.3-91V77.9m1.2-6.6V106.6m.4-35.3V105.7m2.7-34.4V75.3m.4-4V125.7m1.5-54.4V83.8m.4-12.5V113.5m1.2-42.2V136.7m.8-65.4V81m.4-9.7V94.8m.8-23.5V92.1m.4-20.8V107.7m.4-36.4V112.5m3.1-41.2V103.7m.4-32.4V90.6m3.5-19.3V85m.4-13.7V85.6m1.2-14.3V217.4m.3-146.1V123.1m2.4-51.8V79.7m.8-8.4V84.7m3.1-13.4V153m.8-81.7V90.4m.8-19.1V77.3m1.9-6V79.7m.8-8.4V75.4m2.4-4.1V115.8m1.9-44.5V82.2m6.7-10.9V120.2m8.2-48.9V93.7m21.1-22.4V110.2m3.5-38.9V148.2m.4-76.9V99.8m1.2-28.5V198.5m1.1-127.2V184.5m2.4-113.2V163.8m2.3-92.5V175.6m1.2-104.3V117.8m.4-46.5V100.4m2.7-29.1V75.8m.4-4.5V75.9m.4-4.6V101.3m.4-30V87.2m.4-15.9V136.4m3.1-65.1V216m.4-144.7V105m2-33.7V91.5m3.1-20.2V83.1m1.2-11.8V91.3m.8-20V98.9m.4-27.6V76.4m.3-5.1V78.6m1.2-7.3V125.5m2-54.2V98.6m1.9-27.3V83.5m1.2-12.2V126.4m.4-55.1V82.7m.4-11.4V77.2m.4-5.9V126.4m1.5-55.1V95.8m.8-24.5V93.3m1.2-22V75.3m.4-4V106.3m.4-35V83.1m1.9-11.8V185.9m7.1-114.6V128.6" stroke="#0000ff" stroke-opacity="0.6" stroke-width="3" fill="none"/>
<path d="M172.1 71.3V257m.8-185.7V138.7m7.8-67.4V92.6m.8-21.3V79.9m1.6-8.6V76.3m1.9-5V76.2m.4-4.9V185.1m.4-113.8V200.5m.8-129.2V81m.4-9.7V147.8m.4-76.5V91.2m1.1-19.9V85.7m1.2-14.4V91.2m1.6-19.9V371.7m.4-300.4V75.7m.4-4.4V103.2m.7-31.9V143.4m1.2-72.1V102.5m.8-31.2V101.5m.4-30.2V98.2m.4-26.9V124m.8-52.7V81.2m1.5-9.9V86.6m.8-15.3V127.8m2.7-56.5V88.1m.4-16.8V89.6m2.4-18.3V87.7m.4-16.4V228.3m.4-157V117.5m.4-46.2V80.2m.3-8.9V76.8m2-5.5V88.1m1.2-16.8V85.3m1.9-14V92.3m3.2-21V76.7m4.3-5.4V164.6m2.7-93.3V88.2m2-16.9V87.3m16.8-16V85.8m14.4-14.5V75.7m1.6-4.4V93.2m1.6-21.9V77.7m.4-6.4V512.4m1.1-441.1V122.7m.4-51.4V108.4m.4-37.1V91.8m2.4-20.5V85.2m1.1-13.9V75.3m.8-4V106.6m1.2-35.3V139.9m1.2-68.6V82.7m2.3-11.4V85.6m.8-14.3V86m3.1-14.7V75.2m2.4-3.9V134.4m2.3-63.1V125.9m2.8-54.6V80.2m.3-8.9V104.8m3.2-33.5V78.6m.8-7.3V83.8m.3-12.5V135m1.6-63.7V130.9m2.4-59.6V81.7m.3-10.4V99.2m10.2-27.9V90.4m10.6-19.1V74.6m6.6-3.3V79.4m1.2-8.1V97m2.7-25.7V88.9m.8-17.6V75.9m1.6-4.6V135.2m.8-63.9V84m1.1-12.7V154.1m2-82.8V75.4m.4-4.1V85.9m.8-14.6V79.7m.4-8.4V95.4m.7-24.1V130.1m1.6-58.8V120.8m1.6-49.5V81.4m.4-10.1V125.8m.7-54.5V87.1m.8-15.8V79.6m.4-8.3V93.1m2.8-21.8V84.2m.7-12.9V89.1m.4-17.8V159.9m.8-88.6V103.5m.8-32.2V78.3m.4-7V78.8m2.3-7.5V97.5m.8-26.2V110.6m1.2-39.3V185m1.5-113.7V109.2m1.2-37.9V183.9m.8-112.6V161.4m1.6-90.1V96.7m1.1-25.4V247.3m1.6-176V80.5m.4-9.2V102.7m2.7-31.4V91.3m.4-20V87.9m2-16.6V125.3m.4-54V75.8m1.9-4.5V74.8m.4-3.5V77.7m.4-6.4V98.7m2-27.4V91m3.1-19.7V90.7m19.2-19.4V81.4m3.5-10.1V109.6m.4-38.3V81.6m.4-10.3V115.5m5-44.2V85.6m.4-14.3V137.9m2-66.6V117.7m.8-46.4V135.7m.4-64.4V105.2m3.9-33.9V76.5m1.1-5.2V166.2m1.2-94.9V101.4m1.6-30.1V84.1m.4-12.8V111.3m.8-40V111.4m1.1-40.1V169.4m2.4-98.1V78.7m1.5-7.4V126.7m.8-55.4V76.2m2.4-4.9V108.9m.4-37.6V76.4m1.1-5.1V94.2m1.2-22.9V81.6m1.6-10.3V83.2m.8-11.9V77.7m1.1-6.4V76m1.6-4.7V120.7m.4-49.4V145.2m6.2-73.9V126.1m4.3-54.8V110.7m3.2-39.4V95.1m.4-23.8V77.8m2.3-6.5V83.5m1.6-12.2V95.4m10.9-24.1V82.8m6.3-11.5V93.4m3.1-22.1V99.4m1.2-28.1V153.4m5.5-82.1V92.6m.7-21.3V195.3m2-124V91.2m.4-19.9V145.4m.8-74.1V110.2m.4-38.9V181.2m.3-109.9V76.6m1.2-5.3V74.9m.4-3.6V84.9m.4-13.6V79.3m.4-8V79.4m2-8.1V74.4m5-3.1V84.9m.4-13.6V134.8m.8-63.5V85.4m.8-14.1V177.4m.8-106.1V81.1m.4-9.8V79.2m1.1-7.9V74.4m.4-3.1V169.8m2-98.5V145.4m.4-74.1V78.1m1.9-6.8V192.4m.4-121.1V78.4m1.2-7.1V78.9m.4-7.6V74.4m1.5-3.1V77.8m3.2-6.5V88m1.2-16.7V87.8m2.7-16.5V222.2m.4-150.9V86.3m1.5-15V77.6m7.9-6.3V78m.7-6.7V113.5m18.4-42.2V93.2m4.7-21.9V92.8m1.2-21.5V91.2m.4-19.9V88.8m2.3-17.5V112.9m1.6-41.6V101.4m.8-30.1V79.5m2.7-8.2V82m.4-10.7V95.9m.8-24.6V81.8m1.6-10.5V140.7m.3-69.4V94.6m.8-23.3V174.8m1.6-103.5V100.1m.4-28.8V77.7m1.2-6.4V133.8m3.1-62.5V87.6m1.2-16.3V121.9m.7-50.6V92.4m.4-21.1V101.9m2-30.6V93.6m.4-22.3V80.8m1.9-9.5V75.8m1.2-4.5V105.7m.4-34.4V119.9m.8-48.6V85.4m1.5-14.1V106m1.2-34.7V112.6m.4-41.3V82.9m.8-11.6V107.9m2.3-36.6V113.2m1.2-41.9V79.9m.8-8.6V81.6m.8-10.3V350.4m.4-279.1V78.7m1.1-7.4V87.5m.4-16.2V76.9m3.2-5.6V108.4m3.9-37.1V76.3m9.4-5V97.7m17.9-26.4V76.3m4.7-5V93.3m.4-22V81m.8-9.7V100.3m1.6-29V209m.8-137.7V76.9m.4-5.6V152.2m.3-80.9V88m.4-16.7V92.8m.4-21.5V79.6m.4-8.3V136.6m2-65.3V113.7m.4-42.4V134.7m1.1-63.4V110.3m.4-39V81.4m3.5-10.1V78.8m2.8-7.5V93.2m1.5-21.9V75.3m.8-4V160.9m.8-89.6V78.8m1.2-7.5V91.7m.4-20.4V84.6m.4-13.3V160.3m.7-89V75.8m.4-4.5V92m.4-20.7V117.9m2-46.6V145.8m1.9-74.5V82.2m3.2-10.9V94.8m1.5-23.5V197.8m1.6-126.5V91.9m.4-20.6V81.9m10.6-10.6V122.8m15.6-51.5V88.3m.4-17V101.8m3.9-30.5V96.4m.8-25.1V97.6m1.9-26.3V78.8m1.6-7.5V168m3.5-96.7V213.1m.4-141.8V92.5m2.4-21.2V129.1m.3-57.8V99.7m1.2-28.4V137.1m.4-65.8V97.3m.8-26V201.3m.8-130V91.5m.4-20.2V80.7m1.1-9.4V77.8m2-6.5V93m.8-21.7V118.6m1.2-47.3V111.5m.3-40.2V170.7m1.2-99.4V116.1m1.2-44.8V115.6m.4-44.3V154.7m.4-83.4V81.1m.8-9.8V137.3m1.1-66V127.9m1.2-56.6V77.9m1.2-6.6V99.4m4.3-28.1V86.6m.8-15.3V145.8m1.1-74.5V102.5m.8-31.2V81.2m.4-9.9V80.5m.8-9.2V75.3m.8-4V85m.7-13.7V94.3m4.4-23V121.3m8.9-50V76.5m13-5.2V132.7m7.4-61.4V132.6m.4-61.3V78.3m1.5-7V97.4m.4-26.1V88.4m2.4-17.1V86.2m.4-14.9V251m.7-179.7V101m1.6-29.7V75.3m2.4-4V110.6m3.9-39.3V77.5m.4-6.2V154.5m1.1-83.2V82.5m.4-11.2V129.8m1.2-58.5V80.5m.8-9.2V129.8m1.9-58.5V83.7m2.8-12.4V93.3m1.9-22V75.8m1.2-4.5V112.1m.4-40.8V77.2m1.2-5.9V88.5m.4-17.2V104.9m1.9-33.6V76.1m2.8-4.8V108.4m.3-37.1V101.1m.4-29.8V129.7m.4-58.4V77.9m2.4-6.6V108.2m1.1-36.9V78.2m.8-6.9V84.3m.8-13V104.4m2.7-33.1V175.4m1.6-104.1V84.3m.4-13V96.3m3.1-25V96.8m25.5-25.5V193.3m1.5-122V86.1m2.4-14.8V139.9m.4-68.6V110.2m1.5-38.9V81.7m2.4-10.4V93.8m.7-22.5V79.6m.4-8.3V112.1m1.6-40.8V104.1m.8-32.8V77.3m.8-6V82.8m1.9-11.5V117.6m2.8-46.3V104m1.5-32.7V90.5m.8-19.2V110m1.2-38.7V146.2m.8-74.9V84m.4-12.7V106.1m.3-34.8V109.7m.4-38.4V95.7m2.4-24.4V95.1m.8-23.8V87.7m.7-16.4V85.2m.8-13.9V136.3m.4-65V85.1m.4-13.8V164.2m2.4-92.9V119m.7-47.7V81m.8-9.7V125m.8-53.7V151.9m3.9-80.6V165.4m1.2-94.1V124.3m.8-53V149m3.5-77.7V106.4m.4-35.1V103.8m.4-32.5V86.7m.4-15.4V111.2m2.7-39.9V83.3m20.7-12V120.5m2.4-49.2V102.5m5.1-31.2V104.2m4.7-32.9V75.6m.3-4.3V82.2m.8-10.9V164.7m1.6-93.4V371.7m.4-300.4V109.3m1.2-38V84.4m.3-13.1V84.7m1.6-13.4V93.4m.8-22.1V157.4m.4-86.1V113.1m2.3-41.8V86.9m.4-15.6V94.6m1.6-23.3V109.7m1.9-38.4V91.9m.4-20.6V100.8m1.2-29.5V88.1m.4-16.8V124.7m1.2-53.4V81.1m.4-9.8V82.7m1.9-11.4V134.5m.4-63.2V79.6m.8-8.3V78.3m.4-7V163.1m1.5-91.8V195.4m.4-124.1V92.9m1.6-21.6V116.7m.4-45.4V99.3m.8-28V95.9m.4-24.6V414.3m1.1-343V95.8m.4-24.5V141m.8-69.7V92.9m2-21.6V98.9m.7-27.6V87.9m.4-16.6V83.6m2.4-12.3V131.6m1.5-60.3V85.7m.4-14.4V77.1m2.8-5.8V147.1m1.9-75.8V99.3m1.2-28V130.4m1.6-59.1V83.2m3.9-11.9V87m23.1-15.7V74.5m2.3-3.2V144.3m2.3-73V80.4m.4-9.1V85m1.6-13.7V75.5m2.3-4.2V102.7m5.9-31.4V107.2m4.7-35.9V141.2m2.7-69.9V83.4m.8-12.1V77.3m4.3-6V136.4m2-65.1V106.9m4.3-35.6V77.7m.4-6.4V76.4m3.5-5.1V81.9m1.2-10.6V133.7m1.1-62.4V83.6m2.8-12.3V102.7m24.6-31.4V84.8m4.7-13.5V85.5m.8-14.2V101.7m1.2-30.4V136.3m.8-65V81.1m.3-9.8V153.5m.4-82.2V89m2-17.7V76.2m.4-4.9V108.8m2.3-37.5V95.5m.4-24.2V97.6m.4-26.3V81.5m.4-10.2V91.3m.8-20V76.6m1.9-5.3V124.3m1.6-53V137.3m.8-66V77m.4-5.7V94.4m.8-23.1V108.1m1.5-36.8V97.2m1.2-25.9V168.2m.8-96.9V141.8m.8-70.5V127m.4-55.7V79.9m2.7-8.6V79.2m.4-7.9V98m1.5-26.7V118.8m2-47.5V76m1.2-4.7V103.3m.8-32V81.4m.7-10.1V105.9m2.8-34.6V117.7m.4-46.4V97.8m.4-26.5V76.1m3.9-4.8V98.1m2.3-26.8V80m3.1-8.7V89.5m17.3-18.2V78.7m5.8-7.4V78.7m.8-7.4V92.5m1.6-21.2V78.6m3.9-7.3V93.8m1.5-22.5V114.4m.8-43.1V88.2m.4-16.9V99.2m.4-27.9V99.4m1.2-28.1V75.9m3.9-4.6V82.4m.4-11.1V104m.4-32.7V98.9m.4-27.6V96.2m.7-24.9V84.8m1.2-13.5V116m1.2-44.7V188.3m.8-117V75.3m1.1-4V78.1m.4-6.8V85.4m.4-14.1V89.2m2.8-17.9V80.7m1.9-9.4V189.1m.8-117.8V90.8m.4-19.5V100.9m4.3-29.6V112.7m.4-41.4V98.9m2.3-27.6V77.2m5.9-5.9V74.5m9.8-3.2V152.8m.4-81.5V89.6m14-18.3V101.1m1.2-29.8V105.4m7.5-34.1V82.2m3.5-10.9V84.1m.4-12.8V223.6m.7-152.3V109.3m.8-38V81.2m.8-9.9V91.7m2-20.4V99.1m.7-27.8V93.4m2.4-22.1V158.8m.4-87.5V87.6m.4-16.3V77.5m.8-6.2V90.4m1.9-19.1V169.2m.4-97.9V150.1m.8-78.8V96.5m1.5-25.2V92.4m2.8-21.1V90.3m8.2-19V108.5m1.6-37.2V136.1m4.3-64.8V98.8m.4-27.5V81.6m10.9-10.3V220.7m2.4-149.4V76.9m5-5.6V130m16.5-58.7V119.5m.7-48.2V85.4m3.6-14.1V138.9m.4-67.6V150.4m1.1-79.1V92.5m.4-21.2V89.4m.4-18.1V142.7m.4-71.4V117m.4-45.7V94.6m1.9-23.3V82.9m.8-11.6V86.2m1.6-14.9V99.5m.8-28.2V74.6m1.9-3.3V76.6m3.2-5.3V83.7m1.1-12.4V95.1m.8-23.8V86.7m2-15.4V102.7m.8-31.4V86.9m.7-15.6V88.5m.8-17.2V79.2m.8-7.9V165.5m.4-94.2V116.4m.8-45.1V113.3m1.1-42V140.9m.8-69.6V155.8m.8-84.5V112.4m2.4-41.1V185.3m.7-114V78.9m.8-7.6V75.5m5.5-4.2V83.9m2.3-12.6V108.7m.8-37.4V98.4m6.3-27.1V208.4m1.9-137.1V117m14.1-45.7V90.3m1.2-19V80.6m6.3-9.3V97.6m5.4-26.3V98.3m.8-27V74.4m.8-3.1V87.9m.8-16.6V131.2m.8-59.9V75.6m3.1-4.3V83.9m2.7-12.6V101.2m2.4-29.9V102.9m1.1-31.6V88.5m1.2-17.2V124.9m2.8-53.6V110.4m2.3-39.1V110.7m.4-39.4V112.6m1.6-41.3V76.6m1.1-5.3V86.4m1.2-15.1V116.9m.4-45.6V286.4m.4-215.1V83.2m1.9-11.9V134.8m5.5-63.5V98.4m.4-27.1V233.5m1.2-162.2V85.4m1.9-14.1V112.8m2.8-41.5V77.8m23-6.5V74.4m5.5-3.1V91.4m8.2-20.1V80.8m.4-9.5V82.4m.8-11.1V129.7m.8-58.4V126.3m1.9-55V85.7m.4-14.4V77.7m3.6-6.4V226.9m.3-155.6V76.8m.4-5.5V140.4m2.4-69.1V83.2m.8-11.9V152.6m2.3-81.3V111.5m.8-40.2V130.4m5.1-59.1V105.7m.4-34.4V78.5m1.1-7.2V97.8m1.2-26.5V91.1m1.2-19.8V112.2m3.5-40.9V142.5m.8-71.2V75.2m1.6-3.9V83.1m.7-11.8V88.6m11.8-17.3V89m10.9-17.7V97.5" stroke="#0000ff" stroke-opacity="0.6" stroke-width="3" fill="none"/>
<path d="M195 71.3V128.2m.4-56.9V112.5m.2-41.2V122.8m1.2-51.5V161.6m.5-90.3V170.9m1.4-99.6V109.1m.2-37.8V114.1m.6-42.8V133.9m.8-62.6V161.1m.4-89.8V126.1m.4-54.8V136.6m.1-65.3V161.7m.2-90.4V120.4m.6-49.1V122.3m.8-51V130.3m.2-59V166.1m1-94.8V167.6m3.5-96.3V111m.2-39.7V172.6m.2-101.3V114.6m55.3-43.3V157.1m.2-85.8V137.5m.6-66.2V159.4m.4-88.1V126.4m1.2-55.1V169.5m.8-98.2V153.5m.2-82.2V200.8m.2-129.5V181.9m.3-110.6V137.8m.4-66.5V157.1m.4-85.8V163.2m.4-91.9V186.9m.4-115.6V141.7m.2-70.4V144.8m2-73.5V181.7m1.1-110.4V182.3m.2-111V181m.4-109.7V118.3m2.4-47V185.4m.2-114.1V151.1m.4-79.8V162.9m129.4-91.6V166.4m.8-95.1V199.3m.4-128V143.5m.2-72.2V220.9m.2-149.6V128m.2-56.7V119.5m.2-48.2V146.4m.2-75.1V154.9m1.5-83.6V205m1.4-133.7V209.6m.6-138.3V241.5m.6-170.2V210.8m.2-139.5V151.9m.2-80.6V142.1m.7-70.8V215.2m.8-143.9V185.1m.8-113.8V242.8m.2-171.5V179.3m.8-108V194.8m.4-123.5V200.9m.9-129.6V196.5m2-125.2V224m.6-152.7V238.6m.6-167.3V195.6m.8-124.3V203.7m.2-132.4V222.8m.5-151.5V207.2m.2-135.9V138.4m1-67.1V233.1m.2-161.8V152.8m.8-81.5V166.8m53.2-95.5V144.1m.2-72.8V159.7m.8-88.4V126.2m.5-54.9V126.4m.8-55.1V182.3m1-111V187.7m.2-116.4V149.1m1.2-77.8V118.2m.2-46.9V179.8m.2-108.5V197.1m.2-125.8V197.8m1.1-126.5V185m.8-113.7V160.3m.2-89V184m.4-112.7V183.1m.4-111.8V157.1m1.4-85.8V185.3m.4-114V181.3m.3-110V192.8m.4-121.5V176.3m.8-105V178.4m.4-107.1V174.6m.2-103.3V116.9m.6-45.6V184.3m.2-113V134.4m.6-63.1V194.8m.6-123.5V190.1m.3-118.8V190.6m.2-119.3V185.6m.2-114.3V179.8m199.1-108.5V128.4m1.2-57.1V158.2m.6-86.9V153.4m1.7-82.1V128.5m.4-57.2V140m.2-68.7V142.5m.6-71.2V108.7m.8-37.4V106.1m.2-34.8V123.6m1.1-52.3V132.1m.4-60.8V129.8m.2-58.5V108.2m.4-36.9V118.7m.2-47.4V136.8m4.9-65.5V130m.4-58.7V132m1.2-60.7V141m.2-69.7V128.6m2.5-57.3V115.1m201.2-43.8V145.1m.4-73.8V112.8m1.4-41.5V136.7m.8-65.4V109.8m.2-38.5V118.3m.2-47V114.6m.5-43.3V112.1m.2-40.8V99m1-27.7V114m.4-42.7V136.1m.6-64.8V113.1m1.2-41.8V101.3m.4-30V131.5m.7-60.2V125.4m.8-54.1V116.1m.6-44.8V131.2m.2-59.9V150.6m200.8-79.3V140.7m1.4-69.4V122m1.8-50.7V209m.2-137.7V201m.5-129.7V161.8m1.2-90.5V175.7m.4-104.4V177.8m.4-106.5V166.9m1.4-95.6V140.6m.2-69.3V161.4m.3-90.1V167.9m.6-96.6V192m.4-120.7V154.9m.6-83.6V145.3m.8-74V166.5m1.2-95.2V186.5m.9-115.2V164.8m1.8-93.5V115.2m1-43.9V163.7m128.5-92.4V143.8m.2-72.5V129.3m1.5-58V141.1m.6-69.8V138.1m.8-66.8V168.4m.2-97.1V111.3m.6-40V126m1.5-54.7V124.2m.6-52.9V168.2m.2-96.9V107.6m.4-36.3V144m.6-72.7V134m.2-62.7V129.3m.6-58V151.8m.6-80.5V100.7m.4-29.4V163.8m1.9-92.5V158.7m.8-87.4V175m.2-103.7V158.8m.8-87.5V149.4m.4-78.1V105.6m.9-34.3V118.6m.2-47.3V119.6m.2-48.3V119.8m56-48.5V138.1m.3-66.8V128.8m.2-57.5V144.5m.2-73.2V158.4m.6-87.1V139.3m.2-68V127.5m.2-56.2V141.7m.2-70.4V151.4m1-80.1V137.9m1.7-66.6V146.8m1.2-75.5V142.5m.6-71.2V121.6m.6-50.3V97.6m.6-26.3V152.5m.2-81.2V107.6m1.7-36.3V99.4m1-28.1V100.7m.8-29.4V137.3m1-66V151.9m.2-80.6V135.9m.4-64.6V131.1m.3-59.8V129" stroke="#add8e6" stroke-opacity="0.7" stroke-width="3" fill="none"/>
</g>
<path d="M1520.9 73.3V499.6" stroke="#c4c4c4" stroke-width="2.1" fill="none"/>
<path d="M106.4 73.3H1520.9 M106.4 499.6H1520.9 M106.4 73.3V499.6" stroke="#000" stroke-width="2.1" fill="none" stroke-linecap="square"/>
<path d="M97.4 473H106.4M97.4 419.7H106.4M97.4 366.4H106.4M97.4 313.1H106.4M97.4 259.8H106.4M97.4 206.5H106.4M97.4 153.2H106.4M97.4 99.9H106.4M194.6 499.6V508.6M337.3 499.6V508.6M480.3 499.6V508.6M623 499.6V508.6M766 499.6V508.6M908.7 499.6V508.6M1051.7 499.6V508.6M1194.4 499.6V508.6M1337.4 499.6V508.6M1480.1 499.6V508.6M1520.9 73.3H1529.9M1520.9 158.6H1529.9M1520.9 243.8H1529.9M1520.9 329.1H1529.9M1520.9 414.3H1529.9M1520.9 499.6H1529.9M1625.6 73.3H1634.6M1625.6 158.6H1634.6M1625.6 243.8H1634.6M1625.6 329.1H1634.6M1625.6 414.3H1634.6M1625.6 499.6H1634.6" stroke="#000" stroke-width="2.1" fill="none"/>
<path d="M1625.6 73.3V499.6" stroke="#000" stroke-width="2.1" fill="none"/>
<text x="88.2" y="482.6" text-anchor="end">0</text>
<text x="88.2" y="429.3" text-anchor="end">2</text>
<text x="88.2" y="376" text-anchor="end">4</text>
<text x="88.2" y="322.7" text-anchor="end">6</text>
<text x="88.2" y="269.4" text-anchor="end">8</text>
<text x="88.2" y="216.1" text-anchor="end">10</text>
<text x="88.2" y="162.8" text-anchor="end">12</text>
<text x="88.2" y="109.5" text-anchor="end">14</text>
<text transform="translate(192.6 551) rotate(-45)" x="0" y="9.8" text-anchor="middle">2002</text>
<text transform="translate(335.3 551) rotate(-45)" x="0" y="9.8" text-anchor="middle">2004</text>
<text transform="translate(478.3 551) rotate(-45)" x="0" y="9.8" text-anchor="middle">2006</text>
<text transform="translate(621 551) rotate(-45)" x="0" y="9.8" text-anchor="middle">2008</text>
<text transform="translate(764 551) rotate(-45)" x="0" y="9.8" text-anchor="middle">2010</text>
<text transform="translate(906.7 551) rotate(-45)" x="0" y="9.8" text-anchor="middle">2012</text>
<text transform="translate(1049.7 551) rotate(-45)" x="0" y="9.8" text-anchor="middle">2014</text>
<text transform="translate(1192.4 551) rotate(-45)" x="0" y="9.8" text-anchor="middle">2016</text>
<text transform="translate(1335.4 551) rotate(-45)" x="0" y="9.8" text-anchor="middle">2018</text>
<text transform="translate(1478.1 551) rotate(-45)" x="0" y="9.8" text-anchor="middle">2020</text>
<text x="1539.1" y="82.9" text-anchor="start">0</text>
<text x="1539.1" y="168.2" text-anchor="start">20</text>
<text x="1539.1" y="253.4" text-anchor="start">40</text>
<text x="1539.1" y="338.7" text-anchor="start">60</text>
<text x="1539.1" y="423.9" text-anchor="start">80</text>
<text x="1539.1" y="509.2" text-anchor="start">100</text>
<text x="1643.8" y="82.9" text-anchor="start">0</text>
<text x="1643.8" y="168.2" text-anchor="start">50</text>
<text x="1643.8" y="253.4" text-anchor="start">100</text>
<text x="1643.8" y="338.7" text-anchor="start">150</text>
<text x="1643.8" y="423.9" text-anchor="start">200</text>
<text x="1643.8" y="509.2" text-anchor="start">250</text>
<text transform="translate(38.5 286.4) rotate(-90)" x="0" y="0" text-anchor="middle">Streamflow [m³/s]</text>
<text transform="translate(1618.5 286.4) rotate(-90)" x="0" y="0" text-anchor="middle">Rainfall [mm]</text>
<text transform="translate(1724.7 287.4) rotate(-90)" x="0" y="0" text-anchor="middle">SCA</text>
<text x="813.7" y="612.9" text-anchor="middle">Date</text>
<text x="1230.4" y="36" text-anchor="middle" style="font-weight:bold;font-size:26.25px">HBV model-generated Streamflow Analysis</text>
<text x="1239.4" y="65.7" text-anchor="middle" style="font-weight:bold;font-size:26.15px">(Taghzout Basin) from 2001-09-01 to 2019-08-31</text>
<rect x="460.1" y="639.1" width="1550.5" height="45.8" rx="5" ry="5" fill="#fff" stroke="#d0d0d0" stroke-width="2"/>
<path d="M470.2 660.8H523.1" stroke="#f0b800" stroke-width="3.9" stroke-linecap="square"/>
<path d="M877.9 660.8H931" stroke="#00b4d8" stroke-width="3.9" stroke-dasharray="15 5.8"/>
<rect x="1292" y="651" width="54" height="19.5" fill="#e6ebee" stroke="#dbe1e5" stroke-width="1.5"/>
<rect x="1651" y="651" width="54" height="19.5" fill="#4d4dff" stroke="#2323e6" stroke-width="2"/>
<rect x="1874.5" y="651" width="54" height="19.5" fill="#c5e6ef" stroke="#b4dce6" stroke-width="2"/>
<text x="543.2" y="669.9" text-anchor="start">Observed Streamflow</text>
<text x="950.5" y="669.9" text-anchor="start">Simulated Streamflow</text>
<text x="1366.4" y="669.9" text-anchor="start">95% CI Simulated</text>
<text x="1723" y="669.9" text-anchor="start">Rainfall</text>
<text x="1946.2" y="669.9" text-anchor="start">SCA</text>
<defs><clipPath id="sc3"><rect x="1909.3" y="73.2" width="530.6" height="425.7"/></clipPath></defs>
<path clip-path="url(#sc3)" d="M1936.2 464.2h0M1975.4 462.2h0M1956.1 464.4h0M1948.6 470.2h0M1942.4 447.9h0M1983.6 459h0M1979.2 465.5h0M1941 453h0M1969.9 437.4h0M1967.4 479.5h0M1989.9 461.6h0M1964.3 437.5h0M1950.6 452.6h0M1946.5 467.7h0M1985.1 420.1h0M1956.5 449.4h0M1951.7 474h0M1996.6 430.4h0M1936.5 445.3h0M1961.3 463.7h0M1946.1 386.9h0M1944.7 386.2h0M1934.5 433.6h0M2008.4 457.4h0M1948.3 460.9h0M1941.1 455.1h0M1940.4 407.2h0M1983 467.7h0M1951.4 383.5h0M1935.1 456.3h0M1938.4 455.3h0M1994.5 460.6h0M1974.9 469.9h0M1979.7 385.1h0M1942.3 407.5h0M1988.1 416.5h0M1983.8 442.2h0M1995.4 436.1h0M1943.2 449.8h0M1934 446.6h0M1973.3 473.9h0M1941.7 456.4h0M2015.7 433.8h0M1943.3 452.6h0M1952.5 474.2h0M1982 394.1h0M1938.8 464.7h0M1935.1 463h0M2011.1 446.4h0M1942.9 458.2h0M1939 465.8h0M1961.3 426.8h0M2002 416.3h0M1943 462.4h0M1974.1 462.8h0M1994.6 473.2h0M1953.5 470h0M1938.2 456.3h0M1940.1 472.8h0M1936.4 406.8h0M1962.9 435h0M1979.2 469.9h0M1941.7 408.4h0M1972.2 479h0M1981.9 428.5h0M1989.9 456.5h0M2004.5 435.8h0M1977 451.6h0M1978.9 431.2h0M1957.4 456.6h0M1954 447h0M2000 457.7h0M1981.7 452.3h0M1958.2 404h0M1987.6 446.8h0M1933.1 436.3h0M1952.2 406.5h0M1949.1 435.2h0M1935.4 468h0M1989.1 454.4h0M1960.1 426.7h0M1990 472.2h0M1967.9 475.8h0M1998.2 466.4h0M1977 433.4h0M1956.7 429.3h0M1943.6 462.9h0M1993.8 424.7h0M1939.3 455h0M1992.4 453h0M1935.2 452.4h0M1967.1 472.3h0M1931.9 456.6h0M1951.9 457.1h0M1948.9 414.6h0M1942.3 453.4h0M1938.6 437.5h0M1972.9 436.3h0M1939.2 467.3h0M1988.3 429.4h0M1959 390.1h0M1969.9 429.6h0M1980.1 410.6h0M1945.6 463.9h0M1940.7 456.8h0M2014.7 452.3h0M1957.9 433.4h0M1954 402.3h0M1940 479.1h0M1950.1 390.6h0M1963.1 411.6h0M1937.7 470.9h0M1975.3 394.4h0M1943.6 396.1h0M1976.3 410.1h0M1941.7 464.1h0M1978.6 451.6h0M1968 422.8h0M2005.9 431.9h0M1965.7 434.1h0M1951 418.6h0M1959.4 479.2h0M1992.3 466h0M2017.2 447.4h0M1991.3 478.6h0M1937.5 445.8h0M2002.9 464.9h0M1972.1 399.3h0M1974.7 456.6h0M1975.8 436.2h0M1991.6 407.3h0M1996.9 468h0M1980 406.2h0M1961.2 457.9h0M1997 458.1h0M1950.7 467.1h0M1972.6 435.4h0M1941.1 437.2h0M1963.6 463.2h0M1939.9 426.8h0M1933.3 478.3h0M1951 396.8h0M1933 462.5h0M1946 414.8h0M1934 434.9h0M1958.9 418.6h0M1937.9 458h0M1945.8 451.8h0M1967.9 434.2h0M1980.6 460h0M1953.3 434.5h0M1973.2 470.7h0M1993 406.2h0M1993.6 468.5h0M1939.1 398.8h0M2009.9 437.2h0M1938.4 423.5h0M1963.3 475.2h0M1947.3 461.9h0M1956 466.1h0M1955.7 382.3h0M1946.7 458.6h0M1990 479.1h0M1982.3 463.2h0M1971.7 430.1h0M1931.6 432h0M1983.3 460.1h0M1989.5 457.7h0M1939.4 443.5h0M1976.5 477h0M1966.6 378.7h0M1957.9 426.4h0M1994 431.2h0M2005.6 451.9h0M1978.4 430.6h0M1951 411h0M2002.2 427.4h0M1991.4 471.8h0M1998.8 417.2h0M1932.4 445.3h0M1940.6 456.5h0M1967.4 396.3h0M1947.9 430h0M1976.3 405h0M1936.8 436.2h0M1933.1 459.5h0M1989.6 407.7h0M2001.6 422.3h0M1974 445.1h0M1960.6 428.4h0M1947.6 452.5h0M1976.3 430h0M1934.5 418.4h0M1997 457h0M1950.9 463.8h0M1958.4 452.7h0M1997.6 436.7h0M1931.3 431.1h0M1996.9 422.6h0M1942.8 431.8h0M1934.7 458.9h0M1981 468.6h0M1942.9 424.7h0M1947.3 416.4h0M1939.7 473.5h0M1955.8 471.8h0M1964.8 471.3h0M1971.3 424.9h0M1944.9 404.1h0M1988.1 415.2h0M1932.1 421.6h0M1955.8 455.7h0M1942.4 414.5h0M1957.6 396.1h0M1990.7 415.2h0M1980.2 413.6h0M1962.9 415.6h0M1979 387h0M1941.4 403.7h0M1979.5 479.2h0M1935.3 468.1h0M1940.3 443.9h0M1938.7 473.6h0M1992.5 443.3h0M1995.9 445.8h0M1973.1 476.5h0M1958.7 461.1h0M1973.2 477.7h0M1991.9 468.1h0M2007.3 446.1h0M1972.2 474.6h0M1988.5 450.3h0M1970 468.7h0M1932.5 450h0M1936.4 419.7h0M1942.2 457.6h0M1942.5 473.1h0M1963.6 458.1h0M1985.3 413.4h0M1943 466.1h0M1951.7 475.1h0M1954.4 448.1h0M1960.5 472.7h0M1949.5 463.9h0M1968.6 454.7h0M1970.7 452.8h0M1953.1 457.2h0M1942.7 418.7h0M1978.7 446h0M1945.3 442.3h0M1947.9 464.9h0M1980.4 457.6h0M1937.9 428.4h0M1962.9 435h0M1985.5 436.6h0M1940.1 438.1h0M1952.4 450.5h0M1933.6 453.7h0M1983.7 453.3h0M1985.6 474.9h0M1941.8 454.8h0M1939.7 465.6h0M1969.2 407.7h0M1954.4 452.8h0M1971.3 388.9h0M1940 478.7h0M1953.7 474.8h0M1967.1 469.2h0M1956.5 441.1h0M1961 455.6h0M1972.9 462h0M1966.5 435.2h0M1978.6 418.9h0M1950.3 434.5h0M1949.9 474.1h0M1939.5 425.5h0M1952.9 398.5h0M1933.4 452h0M1966.5 402.2h0M1965.9 415.7h0M1946.5 475.3h0M1970.4 419.7h0M1966.8 475.2h0M1937.7 458.2h0M1945.1 464.8h0M1988.1 464.5h0M1948.1 470.2h0M2010 452.7h0M2016.2 447.7h0M1981.4 452.5h0M1938.8 476.1h0M1936.6 454.3h0M1940.9 449.9h0M1961.7 446.9h0M1985.1 393.8h0M1985.8 477.8h0M1965.8 465.7h0M1952.6 405.2h0M1932.4 463.8h0M1986 418.3h0M1957.5 474.3h0M1938.1 470.1h0M1977.3 477.4h0M1936.2 471.7h0M1964.2 477.5h0M1937.6 459.9h0M1957.4 479.5h0M1934.6 437.2h0M1976.6 477.6h0M1936.4 456.1h0M1946.4 476.8h0M1937.5 468.9h0M1943 478.3h0M1937.3 459h0M1974.8 479.2h0M1936.9 471.3h0M1939.4 477.5h0M1938.4 443.4h0M1973.6 478.8h0M1935.8 432.7h0M1958.1 479h0M1933.9 471h0M1969.8 478.5h0M1933.4 435.3h0M1958.2 479.4h0M1937.5 470.3h0M1970.4 478.8h0M1935 475.4h0M1975.6 474.9h0M1934.6 434h0M1944.5 479.3h0M1935.7 474.6h0M1973.8 474.7h0M1934.1 432.2h0M1971.1 479.4h0M1937.4 452.6h0M1961.9 476.7h0M1938.2 440.1h0M1958.5 478.5h0M1937.5 466.3h0M1940.5 475.3h0M1936.2 443.8h0M1965.3 477.7h0M1938.7 446.8h0M1941.7 473.5h0M1936.8 432.1h0M1935.3 473.9h0M1933.6 474h0M1936.6 476.2h0M1938.1 436.8h0M1970.8 475.9h0M1936.8 464.2h0M1964.1 475.9h0M1933.9 467.4h0M1963.8 478.7h0M1935.2 451h0M1964.4 473.7h0M1934.6 440.1h0M1966.8 477.1h0M1933.8 442.7h0M1956.3 478.6h0M1934.9 439.1h0M1951 475.2h0M1936.4 478h0M1941.9 476.4h0M1934.9 456.7h0M1956.1 477.1h0M1937.5 460.5h0M1936.4 474.3h0M1935.5 467.4h0M1933.5 479.5h0M1933.5 469.2h0M1956.3 475h0M1935.5 459.9h0M1933.7 474.1h0M1937.4 438.6h0M1964.1 477.5h0M1934.6 455.2h0M1933.7 476.3h0M1936.2 436.1h0M2353.3 169.2h0M2415.8 235.1h0M2293.7 331h0M2137.1 329.8h0M2170.9 392.1h0M2224.6 431.6h0M2076.8 321.4h0M2079.7 429.2h0M2057.7 90.2h0M2059.9 219.6h0M1987.8 219.6h0M1983.4 241.1h0M2029.7 248.3h0M1956.2 284.3h0M2024.6 284.3h0M2000.3 344.2h0M2059.9 428h0M2036.4 418.4h0M2045.9 432.8h0M2053.3 447.2h0M2038.6 460.4h0M2026.1 477.2h0M2015 477.2h0M2023.9 418.4h0M2000.3 407.7h0M1966.5 327.4h0M1981.2 329.8h0M1943 369.3h0M1974.6 360.9h0M1987.8 370.5h0M1957.7 341.8h0" stroke="#00b4d8" stroke-width="19.3" stroke-linecap="round" fill="none"/>
<path d="M1909.3 498.9L2439.9 73.2" stroke="#808080" stroke-width="3.4" stroke-dasharray="13 5.6" fill="none"/>
<rect x="1927.8" y="86.3" width="164.9" height="128.9" rx="5" ry="5" fill="#fff" fill-opacity="0.8" stroke="#d4d4d4" stroke-width="2"/>
<text x="1935.6" y="114.1" text-anchor="start">RMSE: 1.41</text>
<text x="1935.6" y="143.5" text-anchor="start">NSE: 0.46</text>
<text x="1935.6" y="173.3" text-anchor="start">R²: 0.47</text>
<text x="1935.6" y="202" text-anchor="start">KGE: 0.54</text>
<rect x="1909.3" y="73.2" width="530.6" height="425.7" fill="none" stroke="#000" stroke-width="2.1"/>
<text x="1933.4" y="537.6" text-anchor="middle">0</text>
<text x="2080.5" y="537.6" text-anchor="middle">20</text>
<text x="2227.5" y="537.6" text-anchor="middle">40</text>
<text x="2374.6" y="537.6" text-anchor="middle">60</text>
<text x="1891.1" y="489.1" text-anchor="end">0</text>
<text x="1891.1" y="429.2" text-anchor="end">5</text>
<text x="1891.1" y="369.3" text-anchor="end">10</text>
<text x="1891.1" y="309.4" text-anchor="end">15</text>
<text x="1891.1" y="249.5" text-anchor="end">20</text>
<text x="1891.1" y="189.6" text-anchor="end">25</text>
<text x="1891.1" y="129.7" text-anchor="end">30</text>
<path d="M1933.4 498.9V507.9M2080.5 498.9V507.9M2227.5 498.9V507.9M2374.6 498.9V507.9M1900.3 479.5H1909.3M1900.3 419.6H1909.3M1900.3 359.7H1909.3M1900.3 299.8H1909.3M1900.3 239.9H1909.3M1900.3 180H1909.3M1900.3 120.1H1909.3" stroke="#000" stroke-width="2.1" fill="none"/>
<text x="2174.6" y="572.9" text-anchor="middle">Observed Streamflow [m³/s]</text>
<text transform="translate(1841.4 286.1) rotate(-90)" x="0" y="0" text-anchor="middle">Simulated Streamflow [m³/s]</text>
</g>
<g transform="translate(0 2822.1)">
<path d="M106.4 481.6H1520.9M106.4 400H1520.9M106.4 318.3H1520.9M106.4 236.6H1520.9M106.4 155H1520.9M106.4 73.3H1520.9M194.6 73.3V499.6M337.3 73.3V499.6M480.3 73.3V499.6M623 73.3V499.6M766 73.3V499.6M908.7 73.3V499.6M1051.7 73.3V499.6M1194.4 73.3V499.6M1337.4 73.3V499.6M1480.1 73.3V499.6" stroke="#b0b0b0" stroke-width="2" stroke-dasharray="2.1 3.4" fill="none"/>
<defs><clipPath id="mc4"><rect x="106.4" y="73.3" width="1414.5" height="426.3"/></clipPath></defs>
<g clip-path="url(#mc4)">
<path d="M170.7 480.3l14.9-.8 1-2.3 2.7 .8 1.8-5.3 1 3.8 .2-4.8 1.1 4.6 .2-4.3 2.6 4.7 1.5-4.3 3.2 4.2 1.3-3.4 .8 3.3 1-4.2 2.1 4.7 .2-3.5 2 3 .4-3.2 1 4.1 1.1-1.6 1.4 2.3 1.6-26.3 .4 18.4 1.9 4.8 .8-6.9 1.9 9.6 .2-3.7 .8 3.7 .2-2.4 1.6 3.5 3.3 .9 29.3 .6 3.2-16.5 .4-44.2 .4 36.5 .7-25.8 1.6 30.8 .4-24.6 1 25.4 1.5-12.1 1.6 17.6 .2-8 2.7 8.8 .2-16.2 1.2 11.8 .6-39.7 1.4 36.6 .1-21.1 1.6 23.6 .4-18.6 2.2 22.6 .2-19.2 1.3 19.9 .4-11.5 1.6 12 .4-18.6 1.5 14.5 .6-42.5 .4 39.3 3.5 11.2 .2-6.8 .8 7.3 .8-6.2 1.2 9.1 .4-5.2 .5 4.9 .2-2.2 3.6 5.7 32.2 1.4 2.2-1.8 2.7-13.3 1-38.1 .6-265.5 1.1 205.4 1.2 29.8 .2-58.2 2.4 102.3 .2-55.9 1.1 63.3 .6-39.2 1.2 47 .8-8.9 .9 14.8 .2-21.4 1.2 21.5 1.2-7.4 1 11.4 .2-15.7 .9 8.9 .2-16.4 .4 10.2 .8-6.7 .2-54.5 .8 56.1 .2-39.9 1.4 49.2 .1-18.6 1.6 26.3 .2-23.5 1.4 25.9 .2-13.5 1.3 18.2 1.4 2.6 .2-5.5 1 6.1 2.7 2.1 2.6-13 .4-65.6 2.5 66.4 3.7 10.1 6.7 4.2 21.3 .8 7-1.8 1-3.4 1.2 2.9 .4-2.8 1.1 2.8 1.4-2.1 1.8 2.3 1.1-3.4 1.6 3.2 2.1-3.3 2 3.2 1.6-17 1.3 13 1-2.9 2 6.4 .6-4.1 1.9 5 .2-2.3 5.3 3.8 37.1 .3 2.8-7.1 2.1 1.8 .2-10.3 1.6 7.6 .2-12.3 1 10.7 .9-7.9 1.2 8.8 .2-13 .8 11.1 .4-3.9 1.2 5.5 .1-8.4 2 9.4 .4-8.9 1 7.8 .8-10.4 .7 9.3 .2-9 1 9.1 .8-8.8 1 9.2 .4-5.3 1.3 5.8 1.8-67.5 3.1 63.1 .8-14.2 1.6 20 1.3 1.6 .8-5.6 1 7.6 1.4 1.8 .2-3.6 1.5 4.3 .2-2.7 2.4 3.5 11.3 1 22.1 .1 8-2.8 1.8 1.7 10.7 0 .6-1.6 9.2 2.4 40.1 .3 18.4-2.8 15.2 2.6 38 .1 3.1-9.8 1.2 1.8 .2-7.8 .7 4.3 .2-12.7 2.2 9.4 .2-24.6 1 19.1 2.1-22.1 1.2 24.9 .8-15.6 .6 12.7 .2-7.7 .7 9.9 .8-4 1.8-139.9 2.9 127.1 .2-31.7 2.2 36.1 .5-31.1 3 39.4 .4-52.1 .6 47.9 .2-13.3 1.1 22 .6-23.6 1.2 23.4 1.7 9 .2-11 2.2 15.1 10 4.3 27.3 .5 3.4-8.8 .2-12.3 .5 3.4 .2-5.1 1.8 3.4 1-38.7 2.3 32.8 .2-40.1 2 39.1 .4-40.7 1.3 35.2 .2-7.5 2.2 13.6 .4-18.1 2.3 18.7 1.2-38.3 1.6 32.9 .2-32.1 .9 27.1 1.8-257.7 2.7 230.9 .2-65.3 3.5 103.8 .2-27.3 2 37.6 1.2-11.4 2.3 18.6 2.2 2.7 .2-6.7 .5 5.4 .2-2.4 4 6 27.9 1.5 3.7-16.9 1.6 4.1 .2-17.2 1.4 10.2 .4-15.4 .7 11.7 .2-15.6 1.2 12.4 .8-17 .2-81.5 .4 81.7 1.3-49.9 1 55.2 .8-29.2 1.8 37.2 1.7-135.6 2 112.6 .2-51.3 .9 61.2 .2-49.8 1 54.8 .2-13.2 .8 18.8 .2-16.7 .8 17.6 2.1-164 1.6 138 .2-67.7 1.2 87.2 .4-40 .5 36 .2-27.5 1 45.6 .6-5.6 1.8 18.5 .2-12.8 1.3 14.9 .2-7.3 1.8 10.8 .6-6.7 3.3 10.2 30.9 2.2 5.9-3.2 .1-4.2 .6 2.6 .2-2.7 1 3.1 .8-2.5 1.6 2.7 .1-6 .6 4.3 .2-4.3 1 5.3 1.2-5.1 .8 4 .9-13.4 1.6 12.6 1.8-5.2 1.3 6.1 .2-6.9 1.8 7.7 .2-6.5 1.7 7 .2-6.6 1.2 6.4 .8-4.3 1 5.4 .2-3.3 3.7 5 1.9-31.2 .4 22.3 4.5 7.8 2 1.3 .2-3 1.9 3.6 4.5 .9 25.7 0 4.4-16 .2-13.4 1.2 5.9 .4-50.7 1.2 45.7 .2-49.2 1.1 45.4 .2-37.4 1 37.2 2.8 6.7 .4-48.1 1.7 43.4 1.8-142.9 .8 101.6 .3-43.6 1.4 69.7 .2-71.2 .8 64.9 .2-36.1 1.2 47.7 .2-43 1.7 46.8 1.6-254.3 1.2 208.7 .1-82 4 134.6 .2-31.3 2.9 47.6 2.3 6.2 .2-5.3 .8 5.8 .2-7.8 1.2 8.6 .2-3.5 3.5 7.5 30.3 1.2 1.4-6.5 .8 1.4 3.1-5.7 .2-6.1 1.9 2.9 .8-27.3 1 23.5 .2-13.8 2.5 15.5 1.4-25.2 .8 21.3 .8-3.1 .7 3.2 1.4-135.8 1.4 111.2 3.5 20.4 .2-40.8 .6 31.1 1-8.1 2.3 28.6 .2-15.8 1.2 10.9 .8-13.3 .2-81.3 .4 77.4 .3-52.1 1.6 65.4 1-11.7 1.4 22.2 .1-18.7 1 20.3 .8-6.4 .6 8.5 .2-7.4 1.9 12.4 8.6 3.3 24.3 .3 2.9-7.8 1-16.3 .8 5.7 .2-8.2 2.1 8.6 .8-15.7 .8 10.8 .6-28.4 1.2 22.3 .2-11.4 1.3 17.8 3 2.7 .9-34 2.2 27.3 .2-25.3 1 25.5 1.5-108.7 .4 81 1.2-43.8 .8 36.2 .6-141.6 1.3 149.2 .4-21 1 34.1 .2-61.4 1.6 72.5 .2-36.5 1.7 48.8 1.2 5.4 .2-15.9 1.5 18.5 1.2-8.4 2.4 14.2 .2-5.7 2.3 7.1 6.5 1.9 26.7 .5 4.2-1.9 1.3-4.7 2.8 3.7 .7-5.4 .6 3.8 1-2.3 1.2 3.5 .2-2.5 2.7 2.8 1-5.3 2.5 5.5 .6-3.5 1.4 3.3 .2-5.3 2.5 5.3 .6-5.1 1.2 3.3 .8-1.8 .4-21.7 .4 18.3 .1-13.7 1.2 15.7 1-4.9 1.8 9.8 .2-3.9 1.5 4.9 .8-1.5 3.7 3.1 34.2 .6 4.3-4.1 .2-3.4 .8 1.9 .6-8.9 2.3 6.7 .2-9 1.4 9.3 1.6-8.7 .6 6.5 .4-6.4 2.5 9.1 1-11.7 .8 9.4 .2-6.3 1.7 7.4 1.6-40.9 2.1 35.1 1.2-14 1.2 13.2 .2-11.4 1.3 17.5 .8-3.6 1.6 7.8 .2-4.6 1 5.1 .2-3.3 1.3 4.6 1.4-2.7 3.7 4.5 34.8 .8 2.9-12.6 1.2 2.1 .8-21 2.2 13.3 .1-27.6 .8 20.5 .8-19.2 .6 16.7 .2-27.3 1.4 33.1 .2-20 1.5 21.2 .2-29.1 2.2 29.6 .2-33.7 1.7 27.2 1.2-26.9 .6 23.6 .2-16.7 1.3 24.7 .2-27 1.6 20.9 1-110.6 1.2 92.3 .2-15.1 .9 27.1 .2-11.2 1.2 21 3.1 10.8 2-154.9 .4 105.7 .2-64.6 2.1 95.5 4.1 23 .2-9.8 2.4 14 7.4 4.4 23.3 .5 2.7-5.4 .6 1.7 .6-5.1 .6 3.2 .6-6 2.1 4.7 .2-4.4 .6 3.9 .2-5.8 1.5 7.1 .4-7.4 1.2 7.1 1.2-7.1 2.3 6.7 .2-8.3 .6 6.6 1.4-6.2 1.9 8.8 .4-10 .8 8.1 .2-4 2.7 5.9 .6-7.4 2.6 7.5 1.7-29.3 .4 22.4 .6-10.5 .8 13.3 .2-10.9 2.7 16.8 .2-5.8 1 6.5 .2-3.3 4.3 5.8 19.7 1.1 0 1.3-19.5-.4-4.5-3.9-.2 2.7-1-5.3-.2 4.7-2.7-13.8-.2 9-.8-10.9-.6 8.6-.4-18.3-1.7 23.9-2.6-6.1-.6 6.1-2.7-4.8-.2 3.2-.8-6.6-.4 8.2-1.9-7.2-1.4 5-.6-5.4-.2 6.8-2.3-5.5-1.2 5.8-1.2-5.8-.4 6-1.5-5.7-.2 4.7-.6-3.1-.2 3.6-2.1-3.9-.6 4.9-.6-2.6-.6 4.1-2.9 1.8-26.8-.5-4.3-2.2-1.4-8-.2 4.9-.8-8.4-.2 8-4.1-18.8-2.1-78.1-.2 52.8-.4-86.5-2 126.8-3.1-8.9-1.2-17.1-.2 9.1-.9-22.2-.2 12.4-1.2-75.5-1 90.5-1.6-17.2-.2 22.2-1.3-20.2-.2 13.7-.6-19.3-1.2 21.9-1.7-22.2-.2 27.6-2.2-24.3-.2 23.8-1.5-17.3-.2 16.3-1.4-27.1-.2 22.4-.6-13.7-.8 15.8-.8-16.8-.1 22.6-2.2-10.9-.8 17.2-1.2-1.8-2.5 9-36.8-.4-2.1-2.6-1.8 1.7-.9-3.3-.2 2.8-1-4.2-.2 3.8-1.6-6.4-.8 2.9-1.3-14.3-.2 9.3-1.2-10.8-1.2 11.5-2.1-28.7-1.6 33.4-1.7-6-.2 5.1-.8-7.7-1 9.6-2.5-7.4-.4 5.2-.6-5.3-1.6 7.1-1.4-7.6-.2 7.4-2.3-5.5-.6 7.2-.8-1.5-.2 2.7-3.9 2.1-35.2-.3-4.3-.9-1.1-3.3-.2 3.1-1.8-7.9-1 4-1.2-12.8-.1 11.1-.4-14.9-.4 17.8-.8 1.5-1.2-2.7-.6 4-2.5-4.3-.2 4.3-1.4-2.6-.6 2.6-2.5-4.2-1 4.2-2.7-2.2-.2 2-1.2-2.8-1 1.9-.6-3.1-.7 4.2-2.8-2.8-1.3 3.3-4.2 .8-28.3-.3-5.3-1-1.9-5.2-.2 4.6-2.4-11.6-1.2 6.9-1.5-15.2-.2 13-1.2-4.4-1.7-39.9-.2 29.9-1.6-59.3-.2 50.2-1-27.9-.4 17.2-1.3-122.1-.6 115.8-.8-29.6-1.2 35.9-.4-66.3-1.5 89-1-20.9-.2 20.7-2.2-22.3-.9 27.8-3-2.2-1.3-14.6-.2 9.4-1.2-18.3-.6 23.2-.8-8.8-.8 12.8-2.1-7-.2 6.7-.8-4.7-2.1 17.1-17.8 1.5-16.9-1.8-1.9-10.2-.2 6.1-.6-6.9-.8 5.2-1-16.6-.1 15.3-1.4-18.2-1 9.6-1.6-53.5-.3 42.7-.4-63.4-.2 66.5-.8 10.9-1.2-8.9-.2 12.9-2.3-23.4-1 6.6-.6-25.4-.2 33.4-3.5-16.7-1.4-91-1.4 111.1-.7-2.6-.8 2.5-.8-17.4-1.4 20.6-2.5-12.7-.2 11.3-1-19.2-.8 22.3-1.9-2.4-.2 5-4.7 7.6-31.5-.4-2.9-5.4-.2 2.8-1.2-7-.2 6.4-.8-4.8-.2 4.3-2.5-5.8-2.7-38.2-.2 25.7-4-110.2-.1 67.1-1.2-170.7-1.6 208-1.7-38.3-.2 35.2-1.2-39-.2 29.5-.8-53.1-.2 58.3-1.4-57-.3 35.6-.8-83.1-1.8 116.9-1.7-35.5-.4 39.4-2.8-5.5-1-30.5-.2 30.7-1.1-37.2-.2 40.2-1.2-37.4-.4 41.5-1.2-4.8-3.1 21.5-17 1.5-19.4-1.6-3.9-6-.4-18.3-1.5 24.9-2.8-.3-1.3-3.1-.2 2.7-1-4.4-.8 3.5-1.2-5.2-.2 5.4-1.7-5.8-.2 5.4-1.8-6.3-.2 5.6-1.3-5-1.8 4.3-1.6-10.3-2.5 12.2-2.2-4.7-.1 4.9-3.4-2.7-.2 2.2-.6-2.1-.1 3.3-5.1 1.3-29.9-.5-3.4-3.4-.4 2.3-1.3-7.1-.2 6.1-3.7-15.7-.6 9.3-1.4-14-.2 8.4-2.1-48-.2 35.6-1.4-74.3-.2 55.5-1.6-113-2.1 134.2-.8-14.4-.2 13.6-.8-15.3-.2 10.8-1-44.8-.2 40.7-.9-50.1-.2 42-2-92.1-1.7 110.9-1.8-30.5-.8 24-1-45.2-1.3 40.8-.4-66.8-.2 66.7-.8 13.9-1.2-10.1-.2 12.7-.7-9.6-.4 12.6-1.4-8.4-.2 14.1-1.6-3.3-.2 6.4-3.5 6.1-28.1-.7-3.8-4.1-.2 2-.5-4.5-.2 5.5-2.8-3.9-.9-12.5-.2 9-.6-10-.2 11.7-1.4-3.9-1.6-29.3-.2 22.3-1.5-37.1-.6 20.2-1.4-67.9-.2 53.3-2.7-188.8-1.8 210.8-.9-22.2-.2 26.3-1.6-26.9-1.2 31.3-2.3-15.3-.4 14.9-2.2-11.2-.2 6.2-1.3-28.9-.4 33.3-2-31.9-.2 32.8-2.3-26.8-1 31.6-1.8-2.8-.2 4.2-.5-2.8-.2 10.1-3.2 5.9-29.9-.3-7.6-2.4-2.2-12.3-.2 8.9-1.7-7.3-1.2-19.2-.6 19.4-1.1-18-.2 10.9-.6-39.3-.4 42.7-3-32.2-.5 25.4-2.2-29.5-.2 25.9-2.9-104-1.8 114.5-.8 3.2-.7-8-.2 6.2-.6-10.4-.8 12.9-1.2-20.4-2.1 18-1-15.6-.2 20.1-2.2-7.7-.2 10.4-.7-3.5-.2 6.4-1.2-1.5-.2 4.5-2.9 2.3-167.8-.1-10-2.3-.2 1.6-1.5-2.9-.4 2.5-2.2-7.3-.8 4.6-1.5-1.9-1.4-15.8-.8 11.6-1.4-26.1-.1 17.3-1.6-42.8-1.8 55.2-1.3-4.7-.4 4.3-1-7.5-.8 7.2-1-7.4-.2 7.3-.7-7.6-.8 8.5-1-6.4-.4 7.3-2-7.7-.1 6.9-1.2-4.5-.4 3.2-.8-9.1-.2 10.6-1.2-7.2-.9 6.5-1-8.7-.2 10-1.6-6.2-.2 8.4-2.1-1.5-2 4.4-39.9-.1-4.9-1.3-.5-2.7-1.2 2.8-1.4-4.7-1 2.3-1.3-10.5-1.4 13.4-2.2-2.2-1.9 2.3-1.8-2.2-1.1 2.3-5.9-2.1-1 2.2-7 .8-23.9-.7-3.9-1.9-3.3-6.1-1.8-19.6-.2 10-1.1-47.1-.6 56.8-.8 5.4-1.4-1.1-1.5 2.8-2.4-6.3-.2 4.5-1.6-2.7-1.1-14.3-.2 11-1.4-21.1-.2 19.2-1.6-21.5-.1 15.2-1.4-40.2-.2 32.6-.8-45.9-.2 44.6-.8 5.5-.4-8.4-.2 13.4-.9-7.2-.2 12.8-1-9.3-1.2 6.1-1.2-17.7-.2 17.6-.9-12.2-.8 7.3-1.2-38.5-.6 32.1-1.1-51.7-.2 45.7-2.4-83.7-.2 47.6-1.2-24.4-1.1-168-.4 205.2-3 52.4-3.1 1.8-31.9-.6-3.1-.9-.8-3-.2 1.8-.5-4-.2 4.5-1.4-7.7-.8 5.1-.8-6-.2 5.6-3.5-9.2-.4-32.2-.6 34.8-1.5-11.8-.4 15.2-1.6-9.9-.4 9.4-1.3-16.2-.2 15.7-2.2-18.5-.4 15.2-1.6-19.3-.1 17.3-1.4-30-.6 32.5-1.2-9.6-.2 13.2-2.7-7.2-.2 6.5-1.6-14.3-1.5 9.9-1-20.8-.4 20.1-1.6-25.2-.7 21.2-.4-29.9-2.4 47.8-33.2 0-3.2-3.4-.5 2.5-1.6-7.3-.8 5.7-1.9-4-.4-15-1.4 20.9-3.1-.5-.6-2.8-1.4 2.2-.6-2.5-.8 3.2-1.9-3.7-1 3.4-.8-2.7-1.3 2.8-3.2-3.5-1.5 3.5-2.6-3.8-.2 3.5-1.1-3.7-.2 3.9-1-3.1-1.8 3.9-18.6 1Z" fill="#e6ebee" fill-opacity="0.8"/>
<path d="M170.7 480l2.4-.2 .2-5.5 1.4 5.5 8.6 .2 .2-57.5 1.1 54.2 1.2 2.5 2.9-1.3 .2-13.6 .6 10.5 1.2 2.4 .2-19.4 .6 15.5 .8 3.2 .3-73.1 .8 63.1 .6 7.3 .2-17.8 .6 16.6 1 4.5 .6 .4 .2-1.7 1.5 1.6 1-1.2 .4 .8 .2-.8 .8 1.2 .2-28.5 .7 24 1.6 4.6 1.2-1.4 .6 1.1 .2-1.5 .6 1.4 .1-1.3 .8 1.3 .8-1.2 1.8 2.3 .2-1.5 .6 1.2 .5-.5 1.6 1 .8-.6 1-22.1 1.1 18.1 .6 1.5 .2-2.1 .4 1.8 .2-11.9 .4 8.6 .2-9.4 .6 11.8 1.3 4 1 .5 .2-1.3 1.6 1.7 5.5 .8 20.1 .2 .2-34.4 1.2 32.7 1.3 1.6 4.3 .1 1.4-1 1.2-3.3 .6-5.5 .4-140.1 1.1 130 .2-5.1 1 9.9 .2-2.1 1 5.4 .2-9.1 1.3 9.9 .2-8.7 1 8.6 .6 1.5 .2-6.9 1.6 7.7 .2-31.3 .9 28.6 .2 1.2 1-4.8 .6 2.3 .2-2.9 .4-107.1 .6 81.4 .9 26.9 .6-24.4 1 25.5 .2-4.3 .4 4.4 .2-2.1 .6 4.2 .8 .9 .2-4.8 .9 3.2 .4-3 1 5.2 .2-5.7 1 6 .2-3.5 .6 3.6 .2-3.9 .9 3.6 .8-9.9 .6 5.3 .2-8 .8 10 .2-4.8 1.7 10.3 .4 .8 .2-2 .6 2.4 .2-2.4 1 3.4 .2-1.9 1.2 3.4 .7 .7 .2-1.4 1.8 2.2 .2-.5 2.9 1.2 .2-1.7 1 1.8 2.7 .3 26.8 .4 3-2 1.5-5 .4-6.3 1.6-74.8 .8 20.7 .1-49.2 1.6 63.3 .6-17.8 2 44.9 .2-6.4 .5 8.5 .2-12.5 1 16.8 .2-1.6 .6 4.6 .2-3.7 .6 4.9 .4-10.2 1.5 13.4 .4-24 .8 22.6 .2-4 .8 7.4 .4 .9 .2-3 .8 2.6 .1-6.4 .6 2 1-6.6 .4-15.3 .6 12.2 .4-7.7 .6 10.8 2.1 9.3 .4-5.8 .4 3.9 .2-8.7 .6 11.1 .2-4.1 1.1 8.6 .2-1.2 1.6 3.7 .8 .6 .2-1.1 1 1.7 .2-1.5 1.5 2.3 .2-1.6 1.2 .9 .8-2.3 1-15.5 2.9 11.6 .2-2.2 1.4 5.2 .5 1 .2-1 .6 1.6 .2-2.3 1.4 3.9 5.5 2.2 9.7 .3 .4-42.8 .6 33.4 .6 7.5 .8 1.9 5.3 .3 .2-9.7 .5 7.5 1 2 7.1-.7 .9-1.1 1.4 .3 .2-.9 1.4 1 .8-1 .5 .7 2.4 0 .2-34.2 .6 26.9 .6 5.4 .9 2 .2-.9 1.4 1.1 .2-1 2 1.1 .1-1 .8 .7 .2-.8 1.4 .4 .6-6.6 .4 1.8 .4-2.1 1.3 4.9 .8 .9 .2-1.1 1.4 2.1 .2-1.4 .9 1.5 .2-1.5 1.4 2.1 1.4 .5 .2-.5 3.1 1 8 .5 .2-26.2 .6 20.4 1 5.4 17 .5 .6-100.6 .8 87 .6 10.6 1.1 2.8 7.8 .1 .2-11 1 9.7 1.2-.3 1.2-2.5 .4 .4 .2-16.4 1.1 14.6 .2-1.9 .8 1.9 .2-3.7 .4 1.9 .2-2.2 .6 2.4 .2-2.2 .9 2.9 1 .6 .2-1.5 .6 1 .2-4.1 .8 3.5 .2-4.1 .8 3.2 .2-1.8 .3 1.9 .2-1.7 .4 1.8 2.2 1.8 .8-5.3 .8 4 1.1 1.3 .2-3.9 1 3.3 .4-5.4 .6 4.7 1.3 1.2 2-9.5 .4-51.6 .8 44.5 .2-5.5 .4 5.8 .2-4.3 .7 12.8 .2-3.4 .8 7.1 1.2 3.4 .2-26.5 1.2 26.6 .3-1.5 .6 3.1 .2-1.7 .8 2.4 .2-1.1 .8 2.3 1.4 1.3 .2-1.5 2.1 2.2 6.8 .8 .2-42 .8 36.3 .6 4.5 1 1.2 18.4 .3 .2-7.3 1.1 6.9 7.5 .2 .4-10.1 .5 7.8 1 2 3.4-.3 .1-.5 6.1 .5 3.7-.6 3 .7 1.3-.6 1.4 .5 .2-.6 8.8 1.1 .6-13.6 .6 10.7 .5 2.4 1 .6 .2-13.2 .6 10.3 1.4 2.9 18.4 .1 .3-11.7 .6 9.2 1.2 2.5 14.3 .1 7.4-1.3 1.4 .5 .2-.6 1.3 .5 .2-2.6 .4 1.7 1.2 .8 5.1 .1 .6-.2 .2-2.6 .8 2.3 .5-1.3 .2-18.7 .6 16 1 4.1 .4-7.7 .8 6.5 1.3 1.7 .4-.6 1.6 .8 5.3 .4 27.9 .2 .6-196.8 .6 152.9 .8 38 1.4 5.7 8.8 .1 .9-.6 .2-30.5 1 26.7 .6 1.1 .2-1.7 1.2-.5 .2-2.1 .6 .1 .3-41.9 1.4 35.4 .6-1.2 .6 3 .6-6.3 1 6.3 .3 .7 .2-4.1 .6 3.1 .2-12 1.2 9.1 .2-3.6 1 6.8 .6-2.4 .2 1.1 .5-53.7 1 44.6 1.4-19.1 .4-29.7 1 36.3 .1-14.1 1 19.7 .2-10.4 .6 12 .2-8.4 .4 8.4 .6-7 1.5 15.7 .2-14.9 .8 16.3 1-20.8 .2-185.9 .6 162.1 1.4 44.7 .3-100.8 .6 82 .8 20.8 1.2 7.4 .4 .8 .4-5.8 .9 5.7 .2-10.6 1.2 12.4 .2-.9 .6 2.4 .2-.6 1.2 2.1 .2-1.3 1.1 2 .8-1.1 1 1.6 .2-20 .6 15.9 1.1 4.6 8.3 1 19.5 .2 .2-12.3 .8 10.6 .6 1.3 1.5 .4 1.6-1.6 .8-4.4 1.9-2.4 .4-8.8 .8 3.2 .2-7.9 1.2 4.8 .6-10.3 .4 4.6 .4-3.3 1.3 7.2 .4-13.8 .6 9.3 .4-6.4 1.2 10.9 .2-12.7 .6 8.4 .3-2.4 .4-141.2 1.2 140.5 .8 7.1 1.7 1.2 .2-15.1 .4 7.4 .2-3.4 .6 7 .6 2.6 .2-.9 .4-207.1 .6 155.7 1 47.8 .3-4.6 .8 4.1 1-20.4 .6-53 1.9 49.3 3 25.9 .4-17.8 .8 18.7 1.5 9.6 .4-5.3 1 8.2 .6-5.5 1.3 8.4 .2-3.6 .4 2.9 .2-1.3 1.4 4.5 .6 .7 .2-2.5 1.1 2.9 .4-.6 2 1.9 12.5 1.4 17 .1 1.2-.7 3.3-6 .2-4 1 .5 1-11 .9 6.1 1 .1 .8-1.8 1.4-24 1 12.6 .3-19.4 1.4 22.5 .2-5.7 1.2 10.1 .2-12.1 .8 9.9 .2-4.2 .5 1.9 1.2-30.8 1.4 23 .2-18.5 2.1 25.9 1 4.1 .2-10.3 1.4 10.9 .2-9.9 .8 3.4 .7-14 .4-59.7 .6 45.2 .2-14.7 1.4 41.3 .4-9.9 1.5 21.8 1 4.1 .2-2.4 2 7.7 .2-6.8 .3 3.7 .4-53.1 .8 50.9 .8 7.5 1.4 2.5 .8 .5 .3-1.5 1.6 2.4 5.3 1.3 .2-5.9 .6 4.7 1.1 1.3 21.6 .5 .1-9.6 1.2 9.1 1.6 .5 2.9-.9 2.4-2 .2-24.3 .5 19 1 5.1 1.2 .3 .4-1.3 .4 .6 .2-5.2 .6 4.5 .9 1.2 .6-.9 1.8 .9 .4-2.9 .8 1.6 .7-2.6 1 1.4 .2-2.9 .6 2.9 1.2 1.6 .8-2.4 .7 2.2 .6-2.3 1.2 2.8 .2-2.4 1.4 2.1 .2-1.8 .7 2 .2-2.1 .6 1.8 .2-2 .6 2.2 .8-1.7 .8 2.7 .2-.6 .7 1.3 .2-27.7 .8 24.5 .8 3.1 1.4 .5 1.2-3.2 .9-33.3 .6 24.2 .6 5.7 .2-2.2 .6 4.7 1.2 2.6 .5 .6 .2-1.7 .4 1.2 .2-6.9 .8 7.2 1.8 1.7 .8-.6 1.5 1 5.1 .5 21.3 .2 .6-198.1 .6 153.9 .6 34.3 1 8.8 .7-.3 2.8-5.8 .2-5.3 .6 .9 .5-.7 .2-10.2 .8 3 .4-42.6 .6 32.5 .8 8.1 .2-12 1.1 11.8 .2-.9 .6 2.3 .2-10.6 .4 7.4 .2-6.1 1.2 9.6 .8-24.3 .7 19.7 .2-35.9 1.2 33.6 .2-6.1 .8 7.4 1-55 1.5 44.3 .2-6.7 .6 8.7 .4-15.1 .6 14.7 .2-18 1.2 22.3 .2-17.3 1.5 21.1 .4-20.4 .2 4.1 .8-7.1 .8-40.5 1 33.5 .1-43.3 .8 47.7 .2-15.2 1 32.1 .6-14.1 .4 14.6 .2-5.6 .4 11.4 .2-5.9 .4 9.9 .2-3.9 .3 2.3 .2-51.7 .8 57.1 .2-3.1 .4 8.3 .2-4 .8 9.6 1.7 4.9 .8-10.5 1.2 11.7 .8 1.4 .2-2 1 2.4 1.3 1 .4-1 2.4 1.9 9.5 .8 17.8 .2 1.6-.9 .8-8.1 .2-74 1.2 73.6 1.1 2.9 1-3.2 .4 .5 .2-.9 .8 .3 .2-7.2 .7 4.7 .2-3.6 .6 3.8 .2-7 .4 4.1 .2-4.8 .8 6.1 .2-7.5 1 7.6 .6-7.5 1.5 9.6 .8-30.2 1.4 27.3 .2-7.4 .9 4.8 .8-10.1 .4-113.7 .6 83.2 .8 17.7 .2-11.3 .2 8.1 .2-5.9 1.3 25.5 .2-17 1 18.6 .2-26.5 .8 26 .6 4.9 1.7 5.2 .8-14.9 .6 12.8 .2-16.5 .8 17.1 1.6-28.7 .7 18.8 1.6 9.7 .4 1.4 .2-8.7 1.7 13.4 1.4 2.5 .2-4.8 1.6 6.2 2.7 2.2 .6-.5 2.5 1.4 7.3 .7 20.7 .1 .2-16.5 .6 12 .6 2.2 .8-.4 .9-3.5 2-2.5 .2-7.9 1 2.7 .7-11.5 .6 5.9 .2-7.4 .8 9.1 1.4 3.2 .2-15.8 .6 12.5 .2-8.8 .5 8.2 .2-8.1 1.4 8.8 .2-6.5 .8 7.4 .4-7 .4 4.7 .2-4.5 .5 6 .6-7.3 .6 6.8 .2-6.7 1.6 9 .2-2.4 .8 1.1 .5-2.6 .8-14.1 .6 2.7 .4-32.4 .4 18.6 1 5.9 1.1-42.1 1.2 40.8 1.2 13.9 .2-9.2 .4 7.9 .2-6.9 1.5 19 .4-19.3 .6 17.7 .2-6.8 1.2 14.2 .2-2.5 1 5.1 1.9 3 .2-9 1.4 9.2 .4-1.3 1.9 3.4 .6 .3 .2-1.4 1 1.6 2.5 .7 9.2 .3 .4-69 .6 54 .6 12 1 3.2 10.9 .4 .2-5.3 1 4.8 3.5 .5 .2-22.5 .6 17.5 1.2 4.6 .3-9.9 .6 7.7 .8 1.7 1.4-.2 .4-.9 1.3 .3 .2-1.1 .6 .6 .4-1.4 1.6 1.3 .2-1.8 1 1.4 .2-.6 .5 .7 .2-1.1 2.6 1.4 .6-1.8 .7 1.4 .2-1.5 .8 1.5 .8-1.1 2 1.6 .2-13.2 .9 12 .2-1.1 .8 1.6 .8-1.3 1.6 1.6 .2-1.4 .9 1.5 .2-1.5 .8 1.2 1 0 1.6-5.9 1.3 4 .4 .5 .2-2.4 1 2 .2-27 .6 22.6 1.1 6.8 1.4 .8 .2-1.1 1.2 1.4 2.1 .5 18.6 .6 .6-147.8 .8 127.8 .6 15.5 1.1 4.3 4.3 .2 .2-12.1 .6 9.4 1.2 2.6 7.4-.3 2.8-1.7 .2-1.8 1.7 .3 1-.6 .2-1.9 .6 .4 .4-58.5 .7 50.7 .8 6.3 1 1.9 .6 .2 .2-2.8 1.2 2.5 .2-2.9 1.1 2.4 .2-6.7 1 5.9 .2-1.5 .8 1.6 .2-2.9 .6 2.8 .6-1.3 .9 2.3 1.2-.4 .4-7.7 .4 .6 .2-.8 .6-5.6 .9 8.3 .6-5.9 .6 5.9 .2-2.8 .6 4.2 .6-.6 .8 3.1 .6 .9 .2-.8 1.1 2.6 .2-3.3 1.2 4.2 2.9 1.9 .2-15.4 1 14.1 .2-30.7 1 29.9 .2-30.1 .6 24.8 1.1 8 6.7 1 18.4 .3 .2-10.8 .9 9.9 .2-38.6 .6 30.7 .6 6.8 .8 1.7 2.9 .3 .2-32 .6 24.9 .6 5.5 .8 1.4 2.7-.4 .2-14.4 1.2 12 1.1-2.4 .2-4 .8 1 .2-4.6 .6 2.1 .2-1.8 .6 1 .6-21.3 .8 13.8 .2-2 .5 4.6 1 1.7 .2-6.5 1.4 6.3 .2-10.3 .6 7 .2-8 .5 6.9 .2-8.2 1.2 10 .2-4.2 .6 4.2 .4-10.7 1.2 10.2 .2-17.3 .9 13.8 .4-5.1 1 7.8 .2-6.4 1.6 10.2 .2-4.7 .5 3.2 .2-12.1 1 9 .2-14.3 .4 4.3 .4-1.5 .6-16.9 .8 14.3 .4-103.5 1.1 106.4 1.6 13.8 .2-10.5 .6 10 .4-3 .6 6.9 .1-6.4 .6 6.8 .2-6.6 .6 4.6 .6-3.3 .8-44.5 .4 15.6 .4-13.8 .7 28 1.2 12.7 2.4 10 .8-5.9 .5 6.6 .4-2.8 1.6 8 2.9 2.7 4.7 1.4 22.1 .7 .6-129 .6 98.3 .6 23.7 .8 5.4 .7 .6 .8-1.1 2.6-.8 .2-3 .5 1.4 .2-.7 .6 .8 .2-1.4 .6 1 .4-2.5 .6 1.8 .4-22.1 .6 17.8 .7 3.8 .2-.7 .8 1.8 .6 .4 .2-.9 .4 .5 .2-14.4 .4 9.4 1.2 4.2 .2-18.9 .7 17.4 .2 1.1 .2-.9 .4 1.5 .2-1.4 1.8 2.5 .2-3 1.1 2.7 .2-3 .8 2.4 1-3.3 1 3.5 .4-3.2 .8 2.5 .1-21.9 .8 20.1 .8 3.2 1.8 1 .8-1.5 .5-9.2 .2-41.6 .8 38.7 .6 8.3 1 3.6 .4-5 1.1 6.5 .8 .8 .2-1.1 1.6 1.9 .2-.7 1.7 1.5 .2-.6 1.6 1 4.9 .5 15 .3" fill="none" stroke="#edb800" stroke-width="3.9" stroke-linejoin="round" stroke-linecap="round"/>
<path d="M170.7 481.6l12.2 0 2.7-.7 1-2.1 1 1.1 1.7-.4 .8-3.6 .8 1.6 .2-2.8 1 3.5 .2-4.4 1.1 4.2 .2-4 .8 3.9 .8-3.3 1 3.7 .2-2.2 .7 2.2 .6-3.9 .4 2.5 .6-1.8 .6 2.7 .2-2.9 1.4 3.4 .2-3.3 .9 3.3 .2-3.2 .8 3 1-3.7 .6 2.9 .2-2.8 1.3 4.1 .2-3.2 .2 1.1 .2-1.6 .6 2.8 .6-1 .4 1.4 .4-2.9 1 3.8 .2-1.4 .7 1.9 .2-2 1.4 2.1 1.4-7.7 .2-16.2 .4 16.7 1.9 4.4 .8-6.3 .6 5.9 1.3 2.8 .2-3.3 .8 3.3 .2-2.1 1.6 3.1 .6 .4 .2-1 2.5 1.5 .2-.7 1 .8 3.1 .3 25 .1 1.4-1.2 1-4.4 .8-9.4 .4-40.2 .4 33.3 .7-23.6 1.6 28.1 .4-22.4 1 23.1 .4 2.1 .2-12.4 .5 10.3 .4-11 .6 11.4 1 4.5 .2-7.2 1 7.4 .2-6.9 .4 4.6 .2-1.3 .9 4.2 .2-14.7 1.2 10.7 .6-36.1 1.4 33.3 .1-19.2 .6 16.8 .2-8.5 .8 13.1 .4-16.8 .6 14.8 .2-12.4 1.4 18.1 .2-17.4 1.3 18 .4-10.4 .4 6.5 .2-1.6 1 6 .4-16.9 .7 14.8 .2-4.7 .6 3.1 .6-38.7 .4 35.7 3.5 10.3 .2-6.2 .8 6.6 .8-5.6 1.2 8.2 .4-4.7 .5 4.5 .2-2 1 3.7 2.6 1.4 .5-1.2 1.2 1.5 4.1 .6 26.4 .4 2.2-1.6 .2-2.1 .6 .6 .7-1.6 .2-7.2 .6 .8 .4-2.6 1-34.6 .6-241.4 1.1 186.7 .2-16.5 1 43.6 .2-52.9 .8 70.5 .2 6.4 .2-12.9 1.2 29 .2-50.8 1.1 57.5 .6-35.6 1.2 42.7 .2-5.1 .4 6 .2-9 .9 13.5 .2-19.5 1.2 19.6 .2-8.2 .8 10.3 .2-8.9 1 10.4 .2-14.3 .4 8.7 .2-8.4 .3 7.8 .2-14.9 .4 9.3 .2-7.3 .2 2.4 .4-1.2 .2-49.5 .8 50.9 .2-36.2 1.4 44.7 .1-16.9 1.6 23.9 .2-21.4 1.4 23.6 .2-12.3 1.3 16.5 1.4 2.4 .2-5 1 5.5 1.4 1.6 .1-1.6 1.2 2 .2-3.7 .8 2.2 .8-1.6 .8-8.7 .4-59.7 .7 45.6 .4 6.7 .2-11.1 1.2 19.2 1.4 4.9 2.3 4.3 2.9 2.5 3.8 1.3 21.3 .7 7-1.6 .2-2.5 .6 1.6 .2-2.3 1.2 2.7 .4-2.5 1.1 2.5 .2-1.4 1 1.5 .2-2 .6 1.5 1.2 .6 .3-1.8 .6 1.3 .2-2.6 1.6 2.9 .4-2.5 1 2.3 .2-1.2 .4 .9 .1-2.5 .8 2.6 1.2 .3 .4-3.4 .4 .9 .4-.4 .4-12.5 1.3 11.8 .2-2.1 .6 2.8 .2-3.3 .8 4 1.2 1.8 .6-3.8 .5 3.1 .4-1.5 1 3 .2-2.1 .6 2 .8-.7 1 1.5 .1-.5 .8 .8 .2-.8 1.8 1.2 37.1 .2 1.4-2.2 1.2 0 .2-4.3 .4 1.6 1.7 .1 .2-9.4 1.6 7 .2-11.2 1 9.7 .7 1.3 .2-8.5 1.2 8 .2-11.8 .8 10.1 .4-3.5 1.2 4.9 .1-7.6 .8 7 1.2 1.6 .4-8.2 1 7.2 .8-9.5 .7 8.5 .2-8.2 1 8.2 .8-8 1 8.4 .4-4.8 .5 4.3 .8 .9 .8-2 .2-23.2 .6 3.3 .2-39.4 .4 30 .4-14.3 .8 31.8 .1-19.2 1.4 29 .6 2.4 .2-15.2 1.6 18.2 .7 1.6 .2-2.2 .4 2 .8-5.1 1 7 1.4 1.5 .2-3.2 1.5 3.9 .2-2.4 .8 2.4 .2-1.9 1.4 2.6 .2-1.1 .7 1.1 .8-.6 1.6 1.1 8 .4 22.1 .1 5.9-.8 .4-1.4 1.1 1.1 .6-1.4 1.8 1.5 .4-.5 .8 .5 .1-1 1 .9 .6-1.2 1.2 1.3 .2-1 1 1 1.9-.1 .2-1.1 1 1.1 1.2 .2 .2-.8 .9 .7 .6-1.5 1 1.2 .2-.8 .6 .9 .2-.9 1.7 1.3 .4-.6 1.6 .9 .4-.8 3.1 1 40.1 .3 4.5-.4 1-1.3 1.9 .7 .4-1.3 1.2 1.2 .4-1 2.7 1.2 .6-1.2 .6 .8 .6-1.1 .6 1 .4-.6 1.1 .8 .2-1.2 .8 1.2 .2-.9 .8 1 .4-1.4 1.7 1.4 1 .1 .4-1.5 1.2 1.5 .6-1.2 1.3 1.2 1.6 .3 1-.9 1 1 5.4 .4 38 .1 2.9-3.9 .2-5 .6 1.7 .6 0 .2-7.1 .7 3.9 .2-11.6 .6 7.4 .4-4.2 1.2 5.4 .2-22.4 1 17.4 .2-15.3 .5 14.1 .2-17.7 .6 16.1 .6-17.3 1.2 22.7 .8-14.3 .6 11.5 .2-6.9 .7 9 .2-7.8 .6 4.2 .4-13.1 .4 3.8 .4-3.3 .6-114.7 1.2 85 .1-11.8 1.6 42.4 .2-28.8 .8 28.9 .4-23.1 1 27 .5-28.2 .8 27.6 .2-19 .8 23.2 .6 4.3 .6-.4 .4-47.3 .6 43.6 .2-12.1 1.1 19.9 .6-21.5 1.2 21.3 .2-1.9 .2 3.5 .2-4.6 1.1 11.2 .2-10 .6 9.3 .2-3.7 1.4 8.2 3.7 2.5 3.9 1.1 .2-1.5 .8 1.4 1.4 .4 .2-.8 .9 .8 2.6 .3 23.6 .2 1.6-3.3 .2-4.6 .8 1.1 .8-1.3 .2-11.1 .5 3 .2-4.6 .2 2.1 .2-2.3 .6 3.5 .8-.2 1-35.2 .8 24.2 .5 4.1 1 1.6 .2-36.5 .4 20.2 .2-4.2 1.4 19.5 .4-37 .4 21.1 .2-13.7 .7 24.6 .2-6.8 .6 7.3 .2-5.2 1.4 10.3 .4-16.5 .8 13.7 .5 2.4 1 .9 .2-19.2 .8 12.8 .2-28.4 .4 17.7 .2-16.2 1 28.4 .2-29.2 .9 24.7 1.6-85.8 .2-148.5 .4 127.6 .8 52.6 .4-98.3 1.1 128 .2-59.4 1.4 75.5 .6-22.4 1.5 41.2 .2-24.7 .8 25.4 1.2 8.7 1 2.8 .2-13.1 .6 11.1 .2-10 .5 11.2 1 4.6 2.2 2.4 .2-6.1 .5 5 .2-2.2 1 3.6 .2-1.5 .4 1.6 .2-1.2 .8 2.2 1.4 .8 1.1 .3 .2-1.4 .8 1.3 2.2 .6 23.6 .5 1.8-2.2 .2-3.8 .8 .6 .2-4.5 .5 1.7 .2-7.2 .6 3.8 .4 .5 .6-.6 .2-15.6 .6 8.7 .4-1.7 .4 2.3 .4-14 .7 10.6 .2-14.1 1.2 11.2 .2-13.8 .2 1.5 .4-3.1 .2-74.1 .4 74.2 .4 3.2 .2-12.7 .5 13 .2-48.8 1 50.2 .6 6.2 .2-32.8 .4 18.3 .2-13.3 1.2 28.9 .2-11.9 .7 5.6 .6-19.7 .2-97.3 .6 75.4 .6-25.5 .8 52.4 .2-46.6 .9 55.7 .2-45.3 1 49.8 .2-12 .8 17.1 .2-15.2 .8 16 .6-43.1 .6 21.8 .3 2.2 .2-3 .4-127 1.6 125.5 .2-61.6 1.2 79.3 .4-36.4 .5 32.7 .2-25 1 41.5 .4 4.2 .2-9.3 .6 10.7 1.2 6.1 .2-11.6 1.3 13.5 .2-6.6 .6 6.3 .2-3.3 1 6.8 .6-6 .9 6.9 .6 1.2 .2-2.8 1.6 3.9 3.3 1 .2-1.4 1.6 1.6 3.7 .5 22.1 .3 3.1-1.3 .2-1.4 1.4 .6 .2-1.6 1 .8 .1-3.8 .6 2.4 .2-2.5 1 2.8 .6 .3 .2-2.6 1.6 2.5 .1-5.5 .6 4 .2-4 1 4.9 .4 .4 .2-1.9 .4 1.2 .2-4.3 .8 3.6 .4-5.2 .3 1.9 .2-8.9 .4 9.1 .2-4.7 1 7 .6-4 .6 3.9 .6-4.6 1.3 5.5 .2-6.2 .4 4.2 .2-3.6 1.2 6.4 .2-5.9 .6 4.5 1.1 1.9 .2-6 1.2 5.8 .8-3.9 1 4.9 .2-3.1 1.5 4 .6-1.5 1.6 2.1 1.7-7.3 .2-21.1 .4 20.3 1.8 4 2.7 3.1 2 1.2 .2-2.8 .4 1.8 .4-.4 1.1 1.9 .4-.9 1 1.2 3.1 .5 25.7 .1 1.7-3.3 .2-7.1 .6 2 .6-.2 .8-7.3 .5 1.3 .2-12.2 .6 5.9 .6-.6 .4-46 .4 38.1 .8 3.4 .2-44.7 1.1 41.3 .2-34 1 33.8 .8 4.5 2 1.6 .4-43.8 1.7 39.5 .8-53.2 .4 9.1 .4-13.5 .2-72.3 .8 92.4 .3-39.7 1.4 63.4 .2-64.7 .8 58.9 .2-32.8 1.2 43.4 .2-39.1 .5 32.8 .6 9.2 .2 .9 .4-.3 1-52.5 .6-178.7 1.2 189.7 .1-74.6 1 76.6 .2-65.1 .4 57.7 .4-31.1 .4 46.1 .2-28.4 1.4 66.7 .2-28.5 .7 30.8 .4-16.9 1.8 29.4 2.3 5.6 .2-4.8 .8 5.2 .2-7.1 1.2 7.8 .2-3.1 .8 4.7 .2-3.1 .3 2.6 .4-2.2 .6 3.3 1.2 1.5 10.9 1.7 18 .2 1.4-.8 1.4-6 .8 1.4 .2-2.1 .9 .3 2-3.4 .2-5.6 .6 2.6 1.3 .1 .8-24.9 1 21.4 .2-12.5 .6 10.2 .2-5.4 .6 6.8 .2-8.8 .9 11.3 .2-18.2 .4 11 .2-10.5 .4 10.7 .2-16 .8 19.4 .2 1.5 .2-2.9 .2 1.8 .2-3.2 .7 2.9 .2-32.2 .4 9.6 .6-7.4 .2-93.5 .4 81.9 1 19.2 1.2 9.8 2.3 8.8 .2-37.1 .6 28.3 .2-8.8 .6 8.8 .2-7.4 .7 18.6 1.6 7.4 .2-14.4 1.2 10 .8-12.1 .2-74 .4 70.4 .3-47.3 .6 41.9 1 17.5 .4 2.7 .6-13.3 1.4 20.1 .1-16.9 1 18.4 .6 2.5 .2-8.3 .6 7.7 .2-6.8 .6 7.7 1.3 3.6 2.4 1.6 .2-.9 1.4 1.4 4.6 1 24.3 .2 1.8-2.8 .2-5.5 .5 1.6 .4-.3 1-14.9 .8 5.2 .2-7.4 .8 7.9 .6 .7 .7-.8 .8-14.3 .8 9.8 .6-25.8 1.2 20.3 .2-10.4 1.3 16.2 1 2.1 2 .3 .9-30.9 1.2 22.5 .2-13 .8 15.4 .2-23.1 1 23.3 .2-21.1 .5 11.6 .2-36.8 .4 8.8 .2-61.4 .4 73.6 1 10.9 .2-50.7 .8 32.9 .6-128.7 .3 118.4 1 17.3 .4-19.2 1 31 .2-55.8 .6 48.7 1 17.3 .2-33.3 1.7 44.4 1.2 4.9 .2-14.4 .6 12.3 .2-3.6 .7 8.1 1 2.6 .2-10.3 1.2 10.4 1.2 2.5 .2-5.1 .5 4.3 .4-3.2 1.4 5.4 .4-.7 2.1 1.7 .2-1.5 1 1.6 2.8 .6 26.7 .4 2.8-1 .2-1.2 1.2 .5 1.3-4.3 .4 2 .2-1.7 1 2.3 1.2 .8 .7-4.9 .6 3.5 .2-.7 .6 1.3 .2-2.7 1.2 3.1 .2-2.2 .6 1.9 .2-1.4 .5 1.5 .2-1.6 1.2 2.1 1-4.8 .8 4 1.7 1 .6-3.2 1.4 3 .2-4.8 .8 4 .2-2.4 .5 2.4 1 .8 .6-4.6 1.2 3 .8-1.6 .4-19.8 .4 16.6 .1-12.4 1.2 14.2 .2-5 .4 4.7 .4-4.1 .6 6.1 1.2 2.8 .2-3.6 1.5 4.5 .6 .4 .2-1.7 1 2 .6-.6 2.1 1.4 .6-.6 4.1 1 29.5 .1 1-1.4 2.4-1 .2-1.7 .7 .4 .2-3.1 .8 1.7 .6-8 .6 5.1 .2-1.4 .6 2.3 .2-2.8 .7 2.8 .2-8.1 1.4 8.4 .4-6.1 1 5.7 .2-7.5 .6 5.9 .4-5.8 .7 6.7 1.8 1.6 .2-3 .6 2.1 .2-9.8 .8 8.6 .2-5.8 .5 5.5 1.2 1.2 .2-4.5 .6 1.5 .6-3.2 .2-30.9 .8 25.1 .2-11.7 1.1 18.5 .4 1.3 .2-7.2 .4 3.3 .2-10.1 .6 11.6 .2-6.6 .4 7 .2-10.4 1.3 15.9 .6 1.9 .2-5.1 1.6 7 .2-4.2 1 4.7 .2-3 1.3 4.2 .8 .4 .6-2.9 1 3.1 2.7 1 .2-1.2 1 1.2 .6-.8 .9 1 .6-.5 3 .9 28.5 .1 1-1.1 .2-3.2 .6 .3 .4-1 .7-6.5 .6 2.2 .6-.2 .8-19.1 1 11 .4 1.2 .8-.1 .1-25.1 .8 18.7 .2-7.2 .4 6.5 .2-16.9 .6 15.3 .2-24.9 1.4 30.1 .2-18.2 .5 14.1 1 5.2 .2-26.5 .8 21.8 1.4 5.2 .2-30.7 .4 17.1 .5-17.2 .8 24.9 .4-22.3 .6 19.6 .2-21.7 .6 21.4 .2-15.2 1.3 22.5 .2-24.7 .6 17.6 .2-3.4 .8 4.9 .6-6.9 .4-93.7 1.2 84 .2-13.8 .9 24.6 .2-10.1 1.2 19.1 1.6 7.1 1.5 2.7 .2-19.1 .6 9.3 .8-12.1 .4-119 .4 96.2 .2-58.8 .8 59.4 .1-36.4 1.2 63.9 1.4 11.5 2.7 9.3 .2-8.9 .8 9.3 .2-5.4 1.4 8.9 1.9 2 3 1.4 .2-2.1 .7 2 1.6 .7 .8 .1 .2-.8 1.2 .9 3.7 .3 17.4-.1 2.5-1.9 .2-3 .6 1.5 .6-4.6 .6 3 .6-5.5 .3 3.1 1-2.7 .8 3.9 .2-4 .6 3.5 .2-5.3 .4 3.8 1.1 2.6 .4-6.7 1.2 6.5 .2-5.1 .6 2.9 .4-4.3 1 5.9 .6 .9 .1-2.8 .6 2.2 .2-7.6 .6 6 .6 1.2 .2-2 .4 1.8 .2-6.6 .8 6.5 1.1 1.5 .4-9.1 .8 7.4 .2-3.6 .8 4.3 .4-2.2 1.5 3.2 .6-6.7 .6 5 .2-1.4 .8 2.6 .2-5.3 .8 5.9 .2-5.5 .6 3.7 .5-1.1 .4-23.7 .4 20.3 .4 1.9 .2-11.5 .8 12.1 .2-9.9 .8 11.4 .2-1.7 .4 3 .2-4.6 1.1 7.2 .2-5.3 1 6 .2-3 .4 2.4 .6-1.7 .8 2.9 .2-1.3 .9 2.3 .2-.8 1.2 1.4 19.7 1" fill="none" stroke="#00b4d8" stroke-width="3.9" stroke-dasharray="14.6 6.3"/>
<path d="M174.7 71.3V176.7m1.5-105.4V77.3m3.9-6V117m.4-45.7V94m2.8-22.7V100m2.7-28.7V210.4m1.2-139.1V98.9m1.1-27.6V120.1m1.6-48.8V85.9m.4-14.6V307.8m.8-236.5V87.1m3.5-15.8V82.9m2-11.6V74.5m3.9-3.2V124.8m.7-53.5V95.1m2.4-23.8V83.8m3.9-12.5V86.4m2.7-15.1V76.1m2-4.8V88.5m6.3-17.2V80.5m2.7-9.2V74.4m3.1-3.1V145.8m9.4-74.5V108.3m9.8-37V87.3m3.5-16V101.4m2-30.1V111.7m5.4-40.4V77.1m2.8-5.8V158.7m.4-87.4V78.2m.4-6.9V84.9m1.5-13.6V90.5m.4-19.2V121.2m3.1-49.9V111.5m.8-40.2V89.7m1.2-18.4V126.1m.4-54.8V193.3m1.2-122V134.5m.7-63.2V99.6m.8-28.3V141.8m.4-70.5V114.1m.4-42.8V105.1m.4-33.8V122.3m.4-51V95.3m.4-24V112.6m.4-41.3V82.5m.8-11.2V74.6m1.1-3.3V104.5m.8-33.2V132m2.4-60.7V96.9m.3-25.6V84.3m.4-13V119m.4-47.7V160.6m1.6-89.3V119.1m.8-47.8V136.3m1.5-65V76.6m3.6-5.3V102.9m2.7-31.6V79.4m.4-8.1V86.3m.8-15V104.2m.4-32.9V137.6m3.5-66.3V104.1m7.8-32.8V81.1m10.2-9.8V80.8m3.5-9.5V129m3.1-57.7V105.2m3.1-33.9V101.9m1.6-30.6V79.3m.8-8V112.1m4.7-40.8V115.1m.4-43.8V83m1.9-11.7V90.2m2.4-18.9V77.7m.4-6.4V103.4m.8-32.1V82.2m1.1-10.9V135.5m.8-64.2V90m.4-18.7V84.1m3.1-12.8V138.5m.8-67.2V93.1m3.1-21.8V83m1.6-11.7V86.2m1.2-14.9V93.9m.8-22.6V124.7m1.9-53.4V90.1m1.6-18.8V79.8m.4-8.5V100.2m1.9-28.9V95m6.3-23.7V136.8m1.2-65.5V100.8m5.8-29.5V76.2m3.5-4.9V87.5m2-16.2V114.7m1.2-43.4V87.7m21.1-16.4V249.1m4.7-177.8V113.8m1.2-42.5V81.3m7-10V144.2m2.7-72.9V84.1m2.4-12.8V97.2m1.2-25.9V163.3m.7-92V135.9m.4-64.6V87.5m.4-16.2V118m3.1-46.7V78.4m20.4-7.1V93.5m.4-22.2V98.2m4.7-26.9V77.1m16-5.8V116.3m5.1-45V84.7m4.7-13.4V206.6m1.2-135.3V75.4m1.1-4.1V113.8m.4-42.5V110.7m3.1-39.4V102m.8-30.7V98.2m2.4-26.9V136.7m4.7-65.4V95.2m1.1-23.9V80.3m1.2-9V75.6m.8-4.3V134.4m.4-63.1V104.9m1.9-33.6V120.8m1.6-49.5V91.4m2.4-20.1V82.3m.3-11V77.6m.8-6.3V81.3m1.6-10V86.1m.4-14.8V113.4m1.5-42.1V113.2m1.2-41.9V112.4m1.6-41.1V83.4m.4-12.1V104.3m1.1-33V81.5m1.2-10.2V81.6m.4-10.3V79m2.4-7.7V146.3m2.7-75V128.4m2-57.1V130.3m20.7-59V74.6m11.3-3.3V78m3.5-6.7V76.8m1.2-5.5V95.5m.4-24.2V104m4.7-32.7V124.1m4.3-52.8V110.7m2-39.4V77.4m.7-6.1V81.7m1.6-10.4V79.9m.4-8.6V94.2m1.2-22.9V140.6m2.7-69.3V139.4m.8-68.1V76.4m1.9-5.1V95.1m3.6-23.8V75.5m3.1-4.2V117.4m.8-46.1V111.9m.4-40.6V78.7m5.4-7.4V141.1m13.3-69.8V136.2m13.3-64.9V88.7m3.2-17.4V98.6m1.1-27.3V99.9m1.2-28.6V90.4m1.6-19.1V156.6m.4-85.3V79m.4-7.7V104.3m2.7-33V91.1m1.2-19.8V87m2.3-15.7V151.8m1.2-80.5V94.4m1.2-23.1V116.1m5.4-44.8V135.2m.8-63.9V119.6m1.2-48.3V77.5m.4-6.2V78.3m1.2-7V87.1m.7-15.8V80.8m2.4-9.5V95.6m1.9-24.3V96.3m.8-25V81m4.3-9.7V87.5m.4-16.2V75.9m1.6-4.6V81m1.5-9.7V83.2m.8-11.9V90.7m1.6-19.4V101.8m1.2-30.5V74.6m3.9-3.3V90.6m3.1-19.3V80.9m9.8-9.6V164.2m7.4-92.9V139.8m7.8-68.5V84.1m1.6-12.8V99.8m1.6-28.5V93.8m.7-22.5V113.1m3.6-41.8V126.7m3.1-55.4V97.9m2.3-26.6V114.3m4.7-43V108.8m9.8-37.5V100.7m.8-29.4V84.2m.8-12.9V79.6m.8-8.3V80.5m.7-9.2V101.1m.8-29.8V80.2m.8-8.9V84.3m8.6-13V76m1.6-4.7V106.9m5.1-35.6V98m2.3-26.7V75m13.3-3.7V137.5m7.8-66.2V124.1m1.2-52.8V90.3m1.9-19V85.1m2.4-13.8V182.7m.4-111.4V84.1m2.3-12.8V86.2m.4-14.9V112.4m2.4-41.1V89.1m.7-17.8V140.6m.8-69.3V478.3m.8-407V101.2m.4-29.9V180.2m.8-108.9V83.8m1.9-12.5V127.3m.8-56V130.3m.4-59V86.6m2.4-15.3V88.8m2.7-17.5V154.8m2.7-83.5V77.2m1.2-5.9V100.5m.4-29.2V148.6m1.2-77.3V77.7m2.7-6.4V97.5m.8-26.2V160m7-88.7V150.2m5.1-78.9V120.1m7.4-48.8V81.1m18-9.8V124m1.2-52.7V119.3m2-48V90.3m2.7-19V126m.4-54.7V98.2m2.7-26.9V77.1m.4-5.8V87.2m.8-15.9V77.8m.8-6.5V89m.4-17.7V120.8m1.2-49.5V97.5m.7-26.2V76.3m1.2-5V75.9m5.1-4.6V132.1m.4-60.8V112.4m1.2-41.1V100m2.7-28.7V115.2m.4-43.9V107.3m1.2-36V123.8m.3-52.5V80.6m2-9.3V120.7m.4-49.4V96.3m2.3-25V85.7m1.2-14.4V75.5m2.8-4.2V142.3m.3-71V127m1.2-55.7V101.4m.4-30.1V78.7m2.7-7.4V116.1m.4-44.8V91.5m.8-20.2V87.4m5.5-16.1V82.4m1.6-11.1V94.1m23-22.8V81.7m2.4-10.4V85.6m1.5-14.3V120.7m3.6-49.4V101.1m.4-29.8V96.9m3.5-25.6V87.2m.8-15.9V76.4m.3-5.1V76.6m.8-5.3V143.4m.4-72.1V187.3m1.2-116V75.2m1.2-3.9V82.2m.7-10.9V149m.8-77.7V111m.4-39.7V96.1m.4-24.8V143.5m2.4-72.2V81.4m.7-10.1V76.3m.4-5V77m.4-5.7V80.5m.4-9.2V104.4m.4-33.1V91.7m2-20.4V92.9m1.1-21.6V91.7m.8-20.4V84.3m.8-13V88.2m.8-16.9V98.2m.8-26.9V190.3m1.9-119V100.9m2.4-29.6V130m2.3-58.7V81.9m.8-10.6V106.4m1.2-35.1V135.1m.4-63.8V80.1m1.9-8.8V79.3m.8-8V82.2m1.2-10.9V88.4m2.3-17.1V156.3m.8-85V109.8m1.6-38.5V78.1m5.8-6.8V79.8m.8-8.5V88.7m6.3-17.4V84.5m11.3-13.2V79.1m.4-7.8V129.6m1.2-58.3V78.3m.8-7V108.8m.7-37.5V109m2-37.7V105.3m2.3-34V79.7m.8-8.4V88.1m.4-16.8V119.3m.8-48V81.7m3.1-10.4V100.9m2-29.6V127.5m.4-56.2V108.1m.8-36.8V104.3m2.3-33V83.5m5.1-12.2V74.3m1.9-3V80m1.2-8.7V132.2m1.6-60.9V129.3m.4-58V99.5m1.9-28.2V98m1.2-26.7V78.4m.8-7.1V96m3.9-24.7V106.2m1.2-34.9V137.1m.4-65.8V388.6m.3-317.3V81.7m.8-10.4V97.4m3.5-26.1V128.8m2.8-57.5V87.8m1.6-16.5V122.4m.7-51.1V79m2-7.7V129.8m2.7-58.5V130.3m11.8-59V98.6m10.1-27.3V93.5m1.6-22.2V95.1m3.1-23.8V99m.8-27.7V76.2m.4-4.9V176.4m.4-105.1V103.7m1.9-32.4V185.8m1.2-114.5V137m2-65.7V139m1.1-67.7V91.3m.4-20V249.2m.4-177.9V102.4m.8-31.1V88.9m.4-17.6V79m.8-7.7V97.8m1.2-26.5V92.6m.3-21.3V82m.8-10.7V157.4m.8-86.1V92.7m.4-21.4V100.7m.8-29.4V84.4m.4-13.1V75.6m.4-4.3V85.7m5.4-14.4V178.3m1.6-107V86.6m1.6-15.3V77m.7-5.7V152.2m.4-80.9V111.8m.4-40.5V180.2m1.6-108.9V107.7m.4-36.4V90.4m4.3-19.1V164.6m1.2-93.3V89.6m5-18.3V111.5m2.8-40.2V75.2m4.7-3.9V74.8m10.5-3.5V80m4.7-8.7V75m2-3.7V350.7m2.3-279.4V124.4m1.6-53.1V77m4.7-5.7V92m.8-20.7V88.4m1.1-17.1V150.3m.8-79V98.8m1.6-27.5V112.2m.8-40.9V115m.4-43.7V83.2m.4-11.9V94.5m1.5-23.2V96.1m1.6-24.8V88.1m1.2-16.8V110m.3-38.7V98.7m2.4-27.4V90.2m2.7-18.9V74.7m.4-3.4V88.8m1.6-17.5V146.3m.8-75V75m1.5-3.7V126.2m.4-54.9V160.7m2-89.4V76.5m1.2-5.2V74.5m3.1-3.2V147.8m2.3-76.5V103.1m.4-31.8V74.6m.4-3.3V85.8m.8-14.5V88.1m1.2-16.8V77.9m1.1-6.6V116.5m.8-45.2V83.2m1.2-11.9V164.5m4.7-93.2V93.2m5.1-21.9V98.8m21.9-27.5V75m2.3-3.7V100m.4-28.7V152.7m1.2-81.4V87.2m1.2-15.9V101.6m3.1-30.3V86.4m3.9-15.1V85.6m5.9-14.3V135.9m1.9-64.6V99.1m10.6-27.8V171.3m1.2-100V87m1.1-15.7V88.5m3.9-17.2V121.9m2-50.6V107.9m1.2-36.6V92.5m2.3-21.2V124m2.4-52.7V90.1m4.3-18.8V106.1m14.8-34.8V120.7m4.7-49.4V150.2m2-78.9V82.8m.4-11.5V81m.4-9.7V75.1m3.1-3.8V146.6m3.5-75.3V81.1m1.2-9.8V134.3m.4-63V87.6m1.1-16.3V106.3m.4-35V95.2m.4-23.9V119m2-47.7V90.8m1.1-19.5V160.4m.4-89.1V88m1.2-16.7V112.1m.8-40.8V76m.8-4.7V99.9m1.5-28.6V117.8m.8-46.5V115.7m2-44.4V82m.4-10.7V84.3m.4-13V88.2m1.5-16.9V77.1m.4-5.8V117m.4-45.7V95.4m.4-24.1V149.5m.4-78.2V131.6m5.1-60.3V92.8m.8-21.5V155.7m1.1-84.4V87.8m.8-16.5V100.7m1.2-29.4V139.3m.8-68V77.6m1.1-6.3V83.5m2-12.2V75.7m3.1-4.4V121m2-49.7V93.2m2.3-21.9V83.5m22.7-12.2V146.5m5.5-75.2V76.1m1.2-4.8V102.5m.3-31.2V100.7m3.2-29.4V97.3m2.3-26V100.5m1.2-29.2V146.8m3.9-75.5V82.7m3.5-11.4V124.3m.4-53V100.4m.4-29.1V75.9m.8-4.6V94.4m1.2-23.1V113.7m.4-42.4V75.3m2.3-4V93.8m3.1-22.5V414.3m2-343V77.5m2.3-6.2V80.2m2-8.9V98.5m2.3-27.2V95.8m5.9-24.5V121.4m.4-50.1V81.8m3.5-10.5V184.6m.4-113.3V137.9m3.9-66.6V115.3m8.2-44V87.5m12.9-16.2V164.1m1.2-92.8V81.3m4.3-10V131.4m1.6-60.1V83.6m1.5-12.3V194.6m3.6-123.3V99.8m1.5-28.5V80.4m1.6-9.1V135.4m3.5-64.1V91.2m2-19.9V104.2m1.1-32.9V74.8m.8-3.5V121.8m1.2-50.5V96m9.4-24.7V77.6m.4-6.3V76.8m1.1-5.5V158.1m8.3-86.8V88m.7-16.7V77.7" stroke="#0000ff" stroke-opacity="0.6" stroke-width="3" fill="none"/>
<path d="M182.7 71.3V88.6m1.5-17.3V113.1m2.4-41.8V81m.8-9.7V95m1.1-23.7V166.4m1.2-95.1V127.7m2.4-56.4V84.4m.3-13.1V102.5m.8-31.2V266.6m1.6-195.3V78.5m1.2-7.2V79.5m.4-8.2V75.5m1.9-4.2V75.5m1.2-4.2V78.3m.8-7V101.8m2.3-30.5V107.1m.8-35.8V83.3m2.3-12V80.4m3.6-9.1V90.8m1.9-19.5V94.5m2.4-23.2V77.1m.4-5.8V191.2m2.3-119.9V89m4.3-17.7V90.3m2.4-19V217.3m5.4-146V115.7m10.2-44.4V82.4m7-11.1V127.5m3.2-56.2V153.9m.7-82.6V80.5m.4-9.2V101.9m2.4-30.6V414.3m.4-343V173.9m.8-102.6V190.9m.3-119.6V97.3m1.2-26V86.9m.8-15.6V109.2m1.2-37.9V131.3m.4-60V75.5m1.1-4.2V142.3m2-71V99.4m3.5-28.1V104.1m2.4-32.8V79.2m.4-7.9V85.2m2.7-13.9V76.5m2.3-5.2V74.6m1.2-3.3V129m.4-57.7V75.4m.4-4.1V78.2m.4-6.9V149.5m1.2-78.2V89.9m.4-18.6V84.9m1.1-13.6V122.4m2.8-51.1V82.9m.4-11.6V88m2.3-16.7V104.1m1.2-32.8V83.2m3.1-11.9V85.7m1.2-14.4V158.9m.4-87.6V101.9m.7-30.6V138.1m1.6-66.8V79.5m3.5-8.2V123.9m3.6-52.6V95.7m5.8-24.4V167m4.3-95.7V74.8m2.8-3.5V79.4m2.3-8.1V100.7m7.4-29.4V75.6m2.8-4.3V82.9m1.5-11.6V226.5m.8-155.2V94.6m1.2-23.3V116.1m.4-44.8V86m1.5-14.7V149m2.8-77.7V154.5m2.7-83.2V78.9m1.2-7.6V78.3m1.6-7V77.7m1.5-6.4V88.5m1.6-17.2V82.5m1.6-11.2V137.1m1.1-65.8V88.3m.4-17V116.3m.8-45V81.3m1.2-10V81.7m.4-10.4V91.6m.7-20.3V117.7m.8-46.4V83.6m.8-12.3V95.5m.8-24.2V96.4m.4-25.1V105.7m1.2-34.4V92.7m.7-21.4V435.7m1.2-364.4V120.1m1.2-48.8V108.2m1.2-36.9V107.3m.3-36V127.9m3.6-56.6V75m5.1-3.7V111.1m1.9-39.8V87.6m9-16.3V90m15.3-18.7V85.2m3.9-13.9V82m6.2-10.7V107.2m2-35.9V244.4m1.5-173.1V108m1.2-36.7V76.6m4.7-5.3V177.7m2-106.4V133.7m3.1-62.4V287.6m1.2-216.3V74.7m1.9-3.4V124.7m.8-53.4V88.2m6.3-16.9V82.8m.4-11.5V76.1m.3-4.8V135.6m7.9-64.3V97.2m1.5-25.9V161.5m3.2-90.2V89.1m.4-17.8V77.1m1.1-5.8V95.5m18.8-24.2V105.4m2.3-34.1V308.7m2.8-237.4V145.6m.4-74.3V105.2m.8-33.9V119.7m.3-48.4V91.7m3.2-20.4V128.7m.8-57.4V100m1.1-28.7V83.3m2-12V86m.8-14.7V76.1m.7-4.8V86.5m.8-15.2V140.7m.8-69.4V75.7m.8-4.4V91.4m.8-20.1V78.7m2.3-7.4V93.7m.4-22.4V74.7m.8-3.4V83.4m2.7-12.1V164.1m2.4-92.8V80.7m.4-9.4V85.2m.8-13.9V83.7m.7-12.4V112.9m.4-41.6V80.3m1.6-9V101.4m.8-30.1V90.6m.4-19.3V82.9m.4-11.6V140.8m1.1-69.5V77.9m.4-6.6V111.9m2-40.6V108.1m1.5-36.8V109m.8-37.7V94.5m.4-23.2V98.7m.8-27.4V123.9m3.9-52.6V102.2m.4-30.9V105.8m6.6-34.5V84.8m8.7-13.5V87.8m8.6-16.5V93.3m2.3-22V83.7m12.1-12.4V85.1m.4-13.8V109.3m.4-38V111.1m1.2-39.8V85.7m.4-14.4V100m.4-28.7V100.6m2.7-29.3V87.6m3.5-16.3V92.1m1.2-20.8V96m.4-24.7V109.8m1.9-38.5V137.6m.4-66.3V110.7m1.2-39.4V77.3m.4-6V106.7m1.2-35.4V80.6m.8-9.3V138.5m1.1-67.2V81.5m.4-10.2V120.4m1.2-49.1V99.3m1.6-28V86.3m4.6-15V129.1m5.9-57.8V99.9m.4-28.6V103.9m3.1-32.6V144.8m2-73.5V82.9m1.2-11.6V104.6m2.3-33.3V193.1m2.4-121.8V81.3m15.6-10V138.8m4.3-67.5V80.6m.4-9.3V82.5m1.9-11.2V99.9m2-28.6V104.1m.8-32.8V76.4m1.9-5.1V111.8m1.2-40.5V98.1m2.4-26.8V230.8m.3-159.5V106.2m.8-34.9V86.6m1.6-15.3V200.7m2.7-129.4V95.5m1.6-24.2V78.9m2-7.6V78.9m5.4-7.6V87.8m1.2-16.5V77m1.6-5.7V93.6m1.1-22.3V96.7m1.6-25.4V93.3m3.9-22V88.6m.4-17.3V90m1.2-18.7V127.2m.4-55.9V90.9m.4-19.6V126.8m1.1-55.5V131.2m.8-59.9V126.5m.4-55.2V130.6m1.6-59.3V83.3m1.5-12V142.4m3.6-71.1V83.5m1.1-12.2V117.7m1.6-46.4V81.6m.8-10.3V85m.8-13.7V87.4m.3-16.1V115.3m2.8-44V85.2m12.1-13.9V88.7m9.8-17.4V142.3m2.3-71V146.1m4.7-74.8V86.9m.4-15.6V76.6m.8-5.3V162.6m.4-91.3V148.1m2.3-76.8V119.3m.4-48V83.7m1.6-12.4V115.9m.8-44.6V88.1m.8-16.8V131.4m2.3-60.1V95.1m1.2-23.8V126.2m.4-54.9V103.2m1.1-31.9V91.3m3.6-20V189.8m1.1-118.5V111.2m3.2-39.9V81.4m1.5-10.1V124.9m.4-53.6V90.7m.4-19.4V149.1m2.7-77.8V92.5m1.6-21.2V146.4m8.2-75.1V80.9m7.1-9.6V81.4m15.6-10.1V77m5.5-5.7V84m.8-12.7V74.9m1.1-3.6V122m3.6-50.7V123m1.1-51.7V85.4m1.6-14.1V75.1m1.2-3.8V116.2m.8-44.9V161.7m.3-90.4V93.6m.4-22.3V104.9m.4-33.6V106.4m4.7-35.1V109.6m.8-38.3V84.2m2.7-12.9V120.5m2.4-49.2V112.3m.4-41V92.7m.8-21.4V112.8m2.3-41.5V97.8m.4-26.5V80.6m.8-9.3V85.7m1.1-14.4V148.6m2-77.3V88.1m1.2-16.8V121.8m2.3-50.5V115.3m1.6-44V172.4m3.1-101.1V116m6.7-44.7V111.5m1.9-40.2V124.7m.8-53.4V121.6m1.2-50.3V99.4m3.1-28.1V156.2m19.6-84.9V94.8m2.7-23.5V79.5m.8-8.2V99.5m3.1-28.2V100m.4-28.7V122.3m.4-51V159.9m.4-88.6V512.4m.4-441.1V80.6m.8-9.3V140.1m3.9-68.8V85.7m2.3-14.4V131.1m.4-59.8V106.5m.8-35.2V78.3m4.3-7V81.3m.8-10V115.8m1.5-44.5V79.2m.8-7.9V127.2m.4-55.9V91m.4-19.7V82.8m.4-11.5V88.2m.4-16.9V90.7m.8-19.4V102.6m1.5-31.3V76m.8-4.7V166.6m1.6-95.3V85.3m.8-14V92.7m1.5-21.4V104.6m1.2-33.3V78.5m.4-7.2V86.9m3.5-15.6V101.5m3.1-30.2V77.6m.8-6.3V113.7m1.2-42.4V78.1m1.6-6.8V89.4m1.9-18.1V94.2m1.6-22.9V112.6m18.7-41.3V100.4m2.4-29.1V91.1m1.6-19.8V188.3m.7-117V136.7m.8-65.4V93.7m1.2-22.4V106.6m.8-35.3V81.7m.8-10.4V78.9m3.1-7.6V183.9m1.2-112.6V102.2m2.3-30.9V85.3m.8-14V85.1m.8-13.8V123.2m1.1-51.9V79.8m.8-8.5V136m.8-64.7V80.8m.4-9.5V97.7m1.2-26.4V94m8.2-22.7V128.9m1.2-57.6V90.1m.3-18.8V80.8m.8-9.5V120.1m3.2-48.8V170.3m1.9-99V80.4m1.6-9.1V84.5m2.3-13.2V74.8m.8-3.5V82m.4-10.7V87.8m.8-16.5V84.7m.8-13.4V80.6m1.9-9.3V84m.4-12.7V75m2-3.7V113.6m2.3-42.3V94.7m2.8-23.4V110.7m1.1-39.4V76m18.8-4.7V99.5m3.1-28.2V173.6m2.4-102.3V105.1m1.9-33.8V87.3m3.5-16V84.2m.4-12.9V84.4m.4-13.1V75.2m.8-3.9V128.6m1.2-57.3V91.5m.8-20.2V81m.7-9.7V119.5m3.6-48.2V90.1m.7-18.8V147.9m.8-76.6V193.7m.8-122.4V91.4m.8-20.1V112.3m.8-41V87m1.5-15.7V109.4m1.6-38.1V76.3m1.6-5V109.7m.4-38.4V106.4m.4-35.1V371.7m.7-300.4V104.8m1.6-33.5V114.5m1.6-43.2V86.2m.4-14.9V93.8m.3-22.5V80.3m.4-9V150.6m.4-79.3V80.1m1.6-8.8V86.6m1.2-15.3V115.4m.4-44.1V93.4m.3-22.1V84.8m.4-13.5V113.8m1.2-42.5V89.6m1.6-18.3V89.8m.4-18.5V74.9m.4-3.6V81.2m1.5-9.9V87.6m1.2-16.3V88.5m1.6-17.2V125.9m1.9-54.6V92.5m2.4-21.2V135m3.5-63.7V140.3m1.5-69V130m11-58.7V93.2m5.1-21.9V95.7m3.1-24.4V120.4m.4-49.1V76.5m2.3-5.2V209.4m1.2-138.1V104.6m3.2-33.3V131.7m1.1-60.4V83.7m.4-12.4V108.1m.4-36.8V142m1.2-70.7V225.9m2.7-154.6V83.3m1.2-12V190.8m1.6-119.5V111m1.9-39.7V134.2m.4-62.9V152.2m1.6-80.9V88.6m9.7-17.3V100.6m1.2-29.3V87.4m1.2-16.1V84.1m1.2-12.8V77.8m4.3-6.5V168.9m1.1-97.6V81.1m.8-9.8V132m.8-60.7V126.5m3.5-55.2V95.1m1.2-23.8V101.2m2.7-29.9V106.2m2.8-34.9V90.9m12.1-19.6V114.9m10.9-43.6V123.2m2.4-51.9V287.3m.4-216V116.9m.8-45.6V206.2m3.1-134.9V81.5m.4-10.2V99m.8-27.7V76.1m1.5-4.8V86.7m2.4-15.4V110.6m.4-39.3V92.2m2.3-20.9V86.4m2.4-15.1V85.4m.4-14.1V80.5m1.9-9.2V107.4m2.4-36.1V122.4m1.1-51.1V90.1m2.4-18.8V85.6m.4-14.3V124.3m1.9-53V152.4m.8-81.1V85.3m.4-14V115.7m1.2-44.4V77.3m.7-6V104.8m.4-33.5V99.9m5.5-28.6V90.8m.8-19.5V86.8m1.6-15.5V126.9m5.4-55.6V77m.4-5.7V96.7m.4-25.4V79.4m2-8.1V74.9m9-3.6V85.5m14.4-14.2V83.8m.8-12.5V268.8m2.4-197.5V126.6m1.5-55.3V108.1m2.8-36.8V121.7m4.7-50.4V107.5m.4-36.2V131.4m3.1-60.1V79.9m.8-8.6V102.3m.4-31V75m.3-3.7V77.9m3.2-6.6V76.8m.8-5.5V95m.3-23.7V114m.8-42.7V77.1m2-5.8V182.1m1.9-110.8V85.2m2-13.9V111.1m.8-39.8V122.9m2.7-51.6V75.1m.8-3.8V137.8m1.6-66.5V80.7m5.8-9.4V95.8m2.8-24.5V136.9m2.3-65.6V164m25-92.7V113.8m6.3-42.5V117m.8-45.7V136.1m1.5-64.8V83m.8-11.7V85.3m3.5-14V77.6m.4-6.3V76.8m1.6-5.5V125.2m.8-53.9V78.9m.4-7.6V145.7m.4-74.4V96.5m.8-25.2V110.9m2.7-39.6V184.6m.8-113.3V88.2m1.1-16.9V101m2-29.7V110.9m1.6-39.6V121.9m.7-50.6V124.3m.4-53V89.8m2.4-18.5V91.6m2.7-20.3V88m.4-16.7V117.2m2.4-45.9V103.8m2.3-32.5V135.5m.4-64.2V88.7m1.2-17.4V195.9m1.1-124.6V77.4m2.4-6.1V102.4m1.2-31.1V112.3m4.3-41V139.8m.4-68.5V117.7m1.1-46.4V144.1m.4-72.8V88.7m6.3-17.4V159.8m17.6-88.5V89.8m4.3-18.5V79.8m1.2-8.5V91.5m1.5-20.2V104.6m1.2-33.3V88.5m1.6-17.2V104.1m.7-32.8V115.9m3.6-44.6V141m.3-69.7V78.3m2-7V138m4.3-66.7V83.4m.4-12.1V95.6m1.2-24.3V135.5m2.7-64.2V75.1m1.6-3.8V86m2.3-14.7V102.4m.4-31.1V98.7m1.6-27.4V141.6m1.5-70.3V78.5m1.2-7.2V76m1.2-4.7V168.1m1.9-96.8V106.3m1.2-35V105.8m2-34.5V80.9m1.1-9.6V88.6m.8-17.3V175.9m4.7-104.6V111.9m.4-40.6V104.1m2.7-32.8V113.9m.4-42.6V221.3m2.8-150V113.3m22.7-42V115.4m1.1-44.1V129.7m.8-58.4V85.2m2.4-13.9V109.1m1.1-37.8V82.6m2.4-11.3V96.1m1.2-24.8V110.4m1.9-39.1V75.6m2-4.3V177.9m.7-106.6V79m1.2-7.7V203.5m.4-132.2V212.8m.8-141.5V78.8m1.2-7.5V136.9m2.3-65.6V109.1m1.2-37.8V97.8m.8-26.5V120m2.7-48.7V83.8m1.2-12.5V76.4m.8-5.1V97.7m1.1-26.4V105.5m.8-34.2V82.9m1.6-11.6V78.9m2.7-7.6V91m3.9-19.7V82m.8-10.7V80.4m4.3-9.1V85.3m.8-14V170.4m7-99.1V98.3m5.5-27V93.3" stroke="#0000ff" stroke-opacity="0.6" stroke-width="3" fill="none"/>
<path d="M258.2 71.3V248.1m.1-176.8V159.7m.8-88.4V243.3m1.8-172V176.2m.2-104.9V132m.6-60.7V199.5m.4-128.2V195.2m.4-123.9V219m1.1-147.7V217.2m.2-145.9V219.9m.8-148.6V227.9m.6-156.6V177m.6-105.7V203.9m.2-132.6V198.4m.2-127.1V149.2m.6-77.9V143.1m1.1-71.8V177m.8-105.7V146.1m.4-74.8V206.5m1.4-135.2V229.1m.2-157.8V143.4m.7-72.1V177.6m.2-106.3V168m1.6-96.7V169m.8-97.7V150.1m.4-78.8V142.6m.2-71.3V194.8m.2-123.5V127.3m.2-56V254.1m.2-182.8V242.9m.2-171.6V207.1m.4-135.8V184.9m.5-113.6V244.2m.6-172.9V152.5m.4-81.2V251.1m.2-179.8V256.5m.2-185.2V162.4m.6-91.1V190.1m.4-118.8V138.3m1-67V125.4m.7-54.1V194m.2-122.7V222.8m.4-151.5V151.1m195.6-79.8V202.4m.4-131.1V227.1m.9-155.8V148.1m1-76.8V241.5m.6-170.2V225.2m1-153.9V122.8m.2-51.5V156.9m.4-85.6V242.7m2.3-171.4V213.1m1.2-141.8V122.1m.6-50.8V183.7m1.2-112.4V203.3m.5-132V132.8m1.2-61.5V126.5m.4-55.2V235.6m.2-164.3V233.9m.8-162.6V219.8m1-148.5V177.7m.2-106.4V180m.5-108.7V157.9m.2-86.6V140.4m.2-69.1V233.2m1.8-161.9V160.6m.2-89.3V234m.4-162.7V196.7m.6-125.4V174.4m.7-103.1V237.5m195.8-166.2V159.1m.6-87.8V131.7m.2-60.4V159m.4-87.7V154.1m.3-82.8V151m.8-79.7V227.9m.2-156.6V177.6m.4-106.3V182.2m.6-110.9V222.3m.2-151V171.1m.2-99.8V214m.6-142.7V177.3m.6-106V184m.8-112.7V201.5m.3-130.2V227.2m.2-155.9V258.5m.6-187.2V234.3m.2-163V146m.2-74.7V228.2m.2-156.9V206.7m.2-135.4V197.3m.4-126V225.4m.4-154.1V205.9m.6-134.6V212.3m.2-141V137.8m.4-66.5V151.2m.4-79.9V187.9m.1-116.6V223.3m.2-152V191.6m.2-120.3V137.7m.2-66.4V185.9m.6-114.6V176.4m.2-105.1V128m1.2-56.7V215.4m.2-144.1V217.2m.4-145.9V201.8m.2-130.5V258m.2-186.7V230.1m.6-158.8V123.4m.3-52.1V201.7m2-130.4V164.1m.8-92.8V243m.6-171.7V148.9m197.7-77.6V165.7m.4-94.4V135.9m.3-64.6V174.3m.6-103V148.9m1.4-77.6V106.3m.4-35V123.3m.2-52V173.2m.2-101.9V171.1m.2-99.8V107.4m.4-36.1V118.2m.4-46.9V125.2m.4-53.9V157.2m.3-85.9V159.9m.6-88.6V104.5m.2-33.2V110.9m1-39.6V119.8m.2-48.5V175.4m.4-104.1V138.5m2.3-67.2V110.7m.2-39.4V110.5m.4-39.2V165m3.5-93.7V107.8m.2-36.5V142.6m.8-71.3V169.2m125.6-97.9V166.5m.2-95.2V183m.5-111.7V139.4m2-68.1V199.5m1.6-128.2V175.9m.2-104.6V133.8m1.7-62.5V179.9m1-108.6V193.8m.2-122.5V151.4m.4-80.1V160m.4-88.7V125.6m1.7-54.3V150m.2-78.7V170.2m1-98.9V167.8m.2-96.5V180.1m.2-108.8V154.6m.2-83.3V167.2m.4-95.9V172.4m1.7-101.1V107.7m.4-36.4V133.9m2.4-62.6V135.1m59-63.8V165.2m.2-93.9V156.6m.4-85.3V196.6m.4-125.3V213.4m.6-142.1V160.4m.4-89.1V179.2m1.9-107.9V131.4m.4-60.1V212.4m.2-141.1V193.7m.4-122.4V150.9m.4-79.6V188m1.6-116.7V221.3m.4-150V179.7m.2-108.4V174.2m1.3-102.9V198.1m.2-126.8V198.1m.6-126.8V153.1m.2-81.8V139.5m.2-68.2V130.6m.6-59.3V161.2m.4-89.9V167.3m.4-96V178.6m.2-107.3V150.5m.8-79.2V191.9m.1-120.6V135.4m.6-64.1V155.9m.8-84.6V186.3m.6-115V192.2m124-120.9V124.9m1-53.6V215m.5-143.7V155.9m.6-84.6V235.8m.6-164.5V143.6m.8-72.3V190.3m.2-119V164.8m.4-93.5V174.8m.2-103.5V219.2m.4-147.9V207.7m.4-136.4V151.4m2.3-80.1V206.2m.4-134.9V144.6m.6-73.3V143.4m.2-72.1V215.3m1-144V241.1m.9-169.8V207m.6-135.7V165.9m.6-94.6V195.2m.2-123.9V195.5m.6-124.2V182.6m1-111.3V192.3m.4-121V155.4m.4-84.1V206.6m.3-135.3V145.5m1-74.2V170.4m.8-99.1V150.2m.2-78.9V168.1m.4-96.8V156.3m54.4-85V128.4m.9-57.1V178.8m.4-107.5V222.1m.6-150.8V125m.6-53.7V169.5m.8-98.2V167m.4-95.7V221.8m.6-150.5V143.9m.1-72.6V168.6m.6-97.3V203.3m.2-132V209m.4-137.7V217.9m1.6-146.6V192m.6-120.7V184.6m.2-113.3V206.3m.9-135V130m.6-58.7V171.5m.4-100.2V185.3m.2-114V179.6m.2-108.3V204.3m.8-133V151.3m.2-80V171.1m.2-99.8V147.4m.4-76.1V143.6m.2-72.3V218.8m.8-147.5V212.7m.2-141.4V226.1m.3-154.8V188.1m.6-116.8V188.2m.2-116.9V188.8m.2-117.5V120m.2-48.7V190.9m1.4-119.6V211.1m.2-139.8V163.4m.4-92.1V224.6m.8-153.3V178.6" stroke="#add8e6" stroke-opacity="0.7" stroke-width="3" fill="none"/>
</g>
<path d="M1520.9 73.3V499.6" stroke="#c4c4c4" stroke-width="2.1" fill="none"/>
<path d="M106.4 73.3H1520.9 M106.4 499.6H1520.9 M106.4 73.3V499.6" stroke="#000" stroke-width="2.1" fill="none" stroke-linecap="square"/>
<path d="M97.4 481.6H106.4M97.4 400H106.4M97.4 318.3H106.4M97.4 236.6H106.4M97.4 155H106.4M97.4 73.3H106.4M194.6 499.6V508.6M337.3 499.6V508.6M480.3 499.6V508.6M623 499.6V508.6M766 499.6V508.6M908.7 499.6V508.6M1051.7 499.6V508.6M1194.4 499.6V508.6M1337.4 499.6V508.6M1480.1 499.6V508.6M1520.9 73.3H1529.9M1520.9 158.6H1529.9M1520.9 243.8H1529.9M1520.9 329.1H1529.9M1520.9 414.3H1529.9M1520.9 499.6H1529.9M1625.6 73.3H1634.6M1625.6 158.6H1634.6M1625.6 243.8H1634.6M1625.6 329.1H1634.6M1625.6 414.3H1634.6M1625.6 499.6H1634.6" stroke="#000" stroke-width="2.1" fill="none"/>
<path d="M1625.6 73.3V499.6" stroke="#000" stroke-width="2.1" fill="none"/>
<text x="88.2" y="491.2" text-anchor="end">0</text>
<text x="88.2" y="409.6" text-anchor="end">5</text>
<text x="88.2" y="327.9" text-anchor="end">10</text>
<text x="88.2" y="246.2" text-anchor="end">15</text>
<text x="88.2" y="164.6" text-anchor="end">20</text>
<text x="88.2" y="82.9" text-anchor="end">25</text>
<text transform="translate(192.6 551) rotate(-45)" x="0" y="9.8" text-anchor="middle">2002</text>
<text transform="translate(335.3 551) rotate(-45)" x="0" y="9.8" text-anchor="middle">2004</text>
<text transform="translate(478.3 551) rotate(-45)" x="0" y="9.8" text-anchor="middle">2006</text>
<text transform="translate(621 551) rotate(-45)" x="0" y="9.8" text-anchor="middle">2008</text>
<text transform="translate(764 551) rotate(-45)" x="0" y="9.8" text-anchor="middle">2010</text>
<text transform="translate(906.7 551) rotate(-45)" x="0" y="9.8" text-anchor="middle">2012</text>
<text transform="translate(1049.7 551) rotate(-45)" x="0" y="9.8" text-anchor="middle">2014</text>
<text transform="translate(1192.4 551) rotate(-45)" x="0" y="9.8" text-anchor="middle">2016</text>
<text transform="translate(1335.4 551) rotate(-45)" x="0" y="9.8" text-anchor="middle">2018</text>
<text transform="translate(1478.1 551) rotate(-45)" x="0" y="9.8" text-anchor="middle">2020</text>
<text x="1539.1" y="82.9" text-anchor="start">0</text>
<text x="1539.1" y="168.2" text-anchor="start">20</text>
<text x="1539.1" y="253.4" text-anchor="start">40</text>
<text x="1539.1" y="338.7" text-anchor="start">60</text>
<text x="1539.1" y="423.9" text-anchor="start">80</text>
<text x="1539.1" y="509.2" text-anchor="start">100</text>
<text x="1643.8" y="82.9" text-anchor="start">0</text>
<text x="1643.8" y="168.2" text-anchor="start">50</text>
<text x="1643.8" y="253.4" text-anchor="start">100</text>
<text x="1643.8" y="338.7" text-anchor="start">150</text>
<text x="1643.8" y="423.9" text-anchor="start">200</text>
<text x="1643.8" y="509.2" text-anchor="start">250</text>
<text transform="translate(38.5 286.4) rotate(-90)" x="0" y="0" text-anchor="middle">Streamflow [m³/s]</text>
<text transform="translate(1618.5 286.4) rotate(-90)" x="0" y="0" text-anchor="middle">Rainfall [mm]</text>
<text transform="translate(1724.7 287.4) rotate(-90)" x="0" y="0" text-anchor="middle">SCA</text>
<text x="813.7" y="612.9" text-anchor="middle">Date</text>
<text x="1230.4" y="36" text-anchor="middle" style="font-weight:bold;font-size:26.25px">HBV model-generated Streamflow Analysis</text>
<text x="1239.4" y="65.7" text-anchor="middle" style="font-weight:bold;font-size:26.15px">(Tamchachate Basin) from 2001-09-01 to 2019-08-31</text>
<rect x="460.1" y="639.1" width="1550.5" height="45.8" rx="5" ry="5" fill="#fff" stroke="#d0d0d0" stroke-width="2"/>
<path d="M470.2 660.8H523.1" stroke="#f0b800" stroke-width="3.9" stroke-linecap="square"/>
<path d="M877.9 660.8H931" stroke="#00b4d8" stroke-width="3.9" stroke-dasharray="15 5.8"/>
<rect x="1292" y="651" width="54" height="19.5" fill="#e6ebee" stroke="#dbe1e5" stroke-width="1.5"/>
<rect x="1651" y="651" width="54" height="19.5" fill="#4d4dff" stroke="#2323e6" stroke-width="2"/>
<rect x="1874.5" y="651" width="54" height="19.5" fill="#c5e6ef" stroke="#b4dce6" stroke-width="2"/>
<text x="543.2" y="669.9" text-anchor="start">Observed Streamflow</text>
<text x="950.5" y="669.9" text-anchor="start">Simulated Streamflow</text>
<text x="1366.4" y="669.9" text-anchor="start">95% CI Simulated</text>
<text x="1723" y="669.9" text-anchor="start">Rainfall</text>
<text x="1946.2" y="669.9" text-anchor="start">SCA</text>
<defs><clipPath id="sc4"><rect x="1909.3" y="73.2" width="530.6" height="425.7"/></clipPath></defs>
<path clip-path="url(#sc4)" d="M1939.8 465.9h0M1979.4 465.3h0M1968.4 467.8h0M1954.7 435.6h0M1993.9 449.9h0M1965.6 470.2h0M1970.1 450.3h0M1949.8 475.3h0M1933 445.5h0M1952.8 453.5h0M1946.5 472h0M1976.9 451.5h0M1936.9 478.4h0M1959.5 466.2h0M1987.7 457.5h0M2005.1 446.4h0M1949.4 436.8h0M1993.8 454.6h0M1958.5 412h0M1954.7 474h0M1934.8 452.2h0M1965.9 437.7h0M1994.7 469.1h0M1993.2 462.2h0M2005.5 454.5h0M1983.6 433.6h0M1962.8 450.6h0M1977.6 436.3h0M1981.3 424.8h0M1974.6 431.4h0M1946.7 459.9h0M1955.9 413.1h0M1981.6 442.7h0M1978.6 479.4h0M1972.2 438.2h0M1991.6 469.7h0M1976.5 451.3h0M2002.4 416.9h0M1989 451.8h0M1935.9 472.8h0M1970.1 456.3h0M1948.9 435.1h0M1946.1 452.6h0M1967.7 438.7h0M2008.3 452.7h0M1975 440h0M1939.3 435.9h0M1977.9 430.7h0M1931.3 458.5h0M1980.5 467h0M1985.5 470.2h0M1970.4 445.9h0M1990.3 450.3h0M1971.2 438.9h0M2007.1 427.5h0M1948.1 469.7h0M1932.9 468h0M1934.9 478.8h0M1982.8 478.4h0M1989.6 476h0M1935.6 477.9h0M1942.3 426.8h0M1997.6 434h0M1938.7 475.6h0M1943.4 440.9h0M1961 465.4h0M1994.3 450.3h0M1988.4 471.1h0M1943.2 430.2h0M1935.4 439.5h0M1954.5 417.3h0M1970.9 452h0M1959.9 474.2h0M1938.3 462.3h0M1995.3 445h0M1940.6 446.4h0M1999.1 461.1h0M1965.1 470.7h0M1977.6 428.7h0M1944.1 453.7h0M1962.5 449.7h0M1949.8 416.3h0M1943.1 418.9h0M1940.8 445.4h0M1949.8 470h0M1975.4 430.2h0M1953.6 416.5h0M1939.5 457.8h0M1947.6 437.8h0M1967.4 461h0M1977.6 478.2h0M1970 419.4h0M1965.9 397.3h0M2012.6 430.5h0M1963.1 401.3h0M1945 406.4h0M1982.9 455.9h0M1963.6 462.2h0M1940.2 467.7h0M1962.6 449.9h0M1983.6 446.3h0M1955.8 416.3h0M1951.8 478.7h0M1962.4 431.6h0M1932.2 454.2h0M2004.2 442.6h0M1974.6 436.9h0M1976.7 416.3h0M1975.3 428.3h0M1987.3 420.8h0M1945.1 413.9h0M1988.9 408h0M1950.7 466.7h0M1967.7 426.3h0M1982.7 464.4h0M1970.2 475.7h0M1946.8 451.6h0M1948.4 466.3h0M1988.4 412.8h0M1969.9 448.4h0M2001.8 433.6h0M1932.2 462.1h0M1965.4 450h0M1976.6 454.2h0M1940.9 436.6h0M1948.6 433.6h0M1933.8 454.6h0M1957.9 461.3h0M1959.9 452.4h0M1993.4 439h0M1934.7 473.9h0M1984.4 475.9h0M1995.5 457.3h0M1992.8 426.9h0M1942 456.6h0M1950 416.4h0M1941.5 424.9h0M2001.3 437.6h0M1964.2 443.4h0M1962.9 472.5h0M1960.3 412.1h0M1979.2 467.1h0M1974.5 424.3h0M1956.1 452.8h0M1936.5 471.7h0M1955.4 464.8h0M1983.5 424h0M1952.8 446.4h0M1968 470.3h0M1944.1 414h0M1941.7 439.8h0M1981.8 452.7h0M1941.1 472.5h0M1953.1 452.6h0M2005.5 465.6h0M1939 414.3h0M1952 471h0M1935.1 464.5h0M1998.6 470.4h0M1942.8 453.2h0M1942.5 447.6h0M1950 429.4h0M1934.9 427.5h0M1977.9 469.7h0M1980.5 463.2h0M1937.2 446h0M1981.4 416h0M1944.5 439h0M1970 407.2h0M1999.6 439.8h0M1938.7 473h0M1989 464.6h0M2000.1 420.9h0M1939.1 478.6h0M1982.7 458.2h0M1950.3 448.7h0M1951.8 467.8h0M1973.5 472.2h0M1986.2 451.1h0M1943.5 478.4h0M1987.7 450.5h0M1965.8 475.4h0M1954.6 468.3h0M1962.9 471.5h0M1972.3 412.1h0M1953.2 444.9h0M1948.3 479.2h0M1937.6 452.7h0M1933.9 449.5h0M1945.5 444.9h0M1965.3 434h0M1986.7 436.5h0M1975.5 425.3h0M1982.3 423.5h0M2000.9 439.5h0M2011 426.2h0M1949 452.9h0M1950.4 470.3h0M2017.2 449.2h0M1956.5 436.7h0M1941.6 479.4h0M1953.6 478.4h0M1960.9 399.7h0M1939.3 468.3h0M1972.9 440.5h0M2011.5 459h0M1961 435.6h0M1936.5 475.5h0M1935.5 451h0M2001.9 462.5h0M1942.3 455.6h0M1950 474.8h0M1954.1 439.3h0M1931.5 454.7h0M2008.8 470.7h0M1978.3 457.2h0M1984.7 473.5h0M1964.4 478.6h0M1978.2 474.9h0M1938.8 443.1h0M1966.7 406.1h0M1945.7 465.9h0M1963.1 408.8h0M1954.2 476.9h0M1978.2 471.9h0M1982.2 474.5h0M1970.2 465.4h0M1948.4 477.1h0M2006.6 469.6h0M1961.3 411.4h0M1991.1 449.4h0M1958 427.6h0M1969.6 420.5h0M1962.3 399.2h0M1976.7 457.1h0M1939.1 440.3h0M1940.7 445.3h0M1978.2 421.5h0M1951 416.4h0M1967.8 459h0M1943.1 429.3h0M1940.4 478.5h0M1931.2 455.1h0M1944.9 442.8h0M1965.3 455.1h0M1965.4 455.9h0M1936.4 457.5h0M1977 469.2h0M1991 463.2h0M2007.6 441.2h0M1971.5 460.3h0M1956.3 473.1h0M1953.3 466.7h0M1951.3 454.1h0M1942.9 477.9h0M1959.1 449.1h0M1956.8 450h0M1959.2 471.9h0M1933.2 449.4h0M1933.5 453.7h0M1951 478.7h0M1998.8 429.4h0M1964 448.2h0M1946.1 469h0M1953 478.9h0M1975.5 465.9h0M1946.7 440.4h0M1959.9 428.1h0M1997.8 459.2h0M1953.8 472.7h0M1946.5 417.4h0M1965.9 424h0M1932.4 445h0M1932.5 444.9h0M1968.9 448.2h0M1939.7 437.1h0M1932.9 438.2h0M1958.1 435.5h0M1950.5 426.2h0M1948.7 473.3h0M1983.3 474.1h0M1947.3 459.9h0M1940.4 445.7h0M2010.9 464.6h0M1970.3 417.6h0M1997.4 441h0M1974.3 430.4h0M1976.7 472.4h0M1991.7 443.4h0M1938.2 415.5h0M1935.6 434.9h0M1993.8 453.8h0M1960.5 458.7h0M1938.8 459.6h0M1977.4 478h0M2007.2 429h0M1990.6 449.3h0M2004.2 467.7h0M1960.4 458.7h0M1985.1 473.3h0M1969.4 476.3h0M1935.8 472.2h0M1968.2 478.1h0M1937.6 477.4h0M1971.7 475.7h0M1938.1 465.9h0M1947.5 478.8h0M1934.6 442h0M1955.6 479h0M1937.2 474.9h0M1966.2 475.4h0M1934.9 474.8h0M1962.7 476.3h0M1938.4 437.2h0M1958.9 475h0M1936.9 473h0M1973.9 475.8h0M1936 468.7h0M1974.7 477.7h0M1935 471.3h0M1936.6 476.5h0M1936.9 459.3h0M1965.1 479.3h0M1938.3 456.2h0M1973.8 474.6h0M1937.4 474.5h0M1956.7 475.9h0M1937.4 462.7h0M1954.2 476.4h0M1934.6 469.1h0M1961.4 479.4h0M1938.1 437.2h0M1970.5 474.4h0M1937.7 468.7h0M1970.7 476.4h0M1936.9 447h0M1960.5 478h0M1936.7 464.1h0M1954.8 475.1h0M1936.9 443.8h0M1966 478.5h0M1933.7 445.8h0M1964.1 479.2h0M1933.8 469.5h0M1972.2 476.8h0M1934.1 459.9h0M1972.1 474.5h0M1936 442h0M1973.2 476.5h0M1937 470.3h0M1955.3 475.9h0M1938.3 473.9h0M1945.3 474.5h0M1936 479.2h0M1955.7 475.3h0M1938.1 451.7h0M1975.8 478.4h0M1937.6 460.1h0M1959.7 476.2h0M1938.2 439.6h0M1971.2 474.6h0M1935.7 443.8h0M1937.1 477.8h0M1937.1 452.4h0M1967.1 478h0M1935.3 460.3h0M1954 476.7h0M1936.9 458.9h0M1941.5 478.8h0M1937.5 446h0M1954.1 475h0M1934.3 450.9h0M1953.2 475h0M1936.6 453.9h0M1956.5 477.6h0M1933.9 478.6h0M1934.8 475.4h0M1934.2 446.7h0M1968.3 478.4h0M1935.5 454.8h0M2260.2 91.8h0M2141.9 154.6h0M1986.4 229h0M2076.6 225.9h0M1994.2 266.3h0M1998.1 287.2h0M1985.1 310.5h0M1993.6 322.9h0M2025.6 270.2h0M2036 270.2h0M2029.5 298.1h0M2044.5 294.2h0M2055 308.2h0M2042.6 322.1h0M2078.5 330.6h0M2122.3 291.1h0M2126.2 337.6h0M2129.5 366.3h0M2087 360.9h0M2059.6 360.9h0M2034.1 343.8h0M2042.6 352.4h0M2051.1 357h0M2058.3 394.2h0M1985.1 337.6h0M1987 352.4h0M2000.1 352.4h0M2366.1 316.7h0M2371.3 373.3h0M2415.8 368.6h0M2064.1 471h0M2124.9 472.6h0M2141.9 477.2h0M2163.5 476.4h0M2196.2 474.9h0M2023.6 441.5h0M2010.5 456.3h0M2015.1 477.2h0M2021 365.5h0M2010.5 374.1h0M1957.6 390.4h0" stroke="#00b4d8" stroke-width="19.3" stroke-linecap="round" fill="none"/>
<path d="M1909.3 498.9L2439.9 73.2" stroke="#808080" stroke-width="3.4" stroke-dasharray="13 5.6" fill="none"/>
<rect x="1927.8" y="86.3" width="164.9" height="128.9" rx="5" ry="5" fill="#fff" fill-opacity="0.8" stroke="#d4d4d4" stroke-width="2"/>
<text x="1935.6" y="114.1" text-anchor="start">RMSE: 1.87</text>
<text x="1935.6" y="143.5" text-anchor="start">NSE: 0.47</text>
<text x="1935.6" y="173.3" text-anchor="start">R²: 0.49</text>
<text x="1935.6" y="202" text-anchor="start">KGE: 0.66</text>
<rect x="1909.3" y="73.2" width="530.6" height="425.7" fill="none" stroke="#000" stroke-width="2.1"/>
<text x="1933.4" y="537.6" text-anchor="middle">0</text>
<text x="2064.1" y="537.6" text-anchor="middle">20</text>
<text x="2194.9" y="537.6" text-anchor="middle">40</text>
<text x="2325.6" y="537.6" text-anchor="middle">60</text>
<text x="1891.1" y="489.1" text-anchor="end">0</text>
<text x="1891.1" y="411.6" text-anchor="end">10</text>
<text x="1891.1" y="334" text-anchor="end">20</text>
<text x="1891.1" y="256.5" text-anchor="end">30</text>
<text x="1891.1" y="178.9" text-anchor="end">40</text>
<text x="1891.1" y="101.4" text-anchor="end">50</text>
<path d="M1933.4 498.9V507.9M2064.1 498.9V507.9M2194.9 498.9V507.9M2325.6 498.9V507.9M1900.3 479.5H1909.3M1900.3 402H1909.3M1900.3 324.4H1909.3M1900.3 246.9H1909.3M1900.3 169.3H1909.3M1900.3 91.8H1909.3" stroke="#000" stroke-width="2.1" fill="none"/>
<text x="2174.6" y="572.9" text-anchor="middle">Observed Streamflow [m³/s]</text>
<text transform="translate(1841.4 286.1) rotate(-90)" x="0" y="0" text-anchor="middle">Simulated Streamflow [m³/s]</text>
</g>
</svg></body></html>
